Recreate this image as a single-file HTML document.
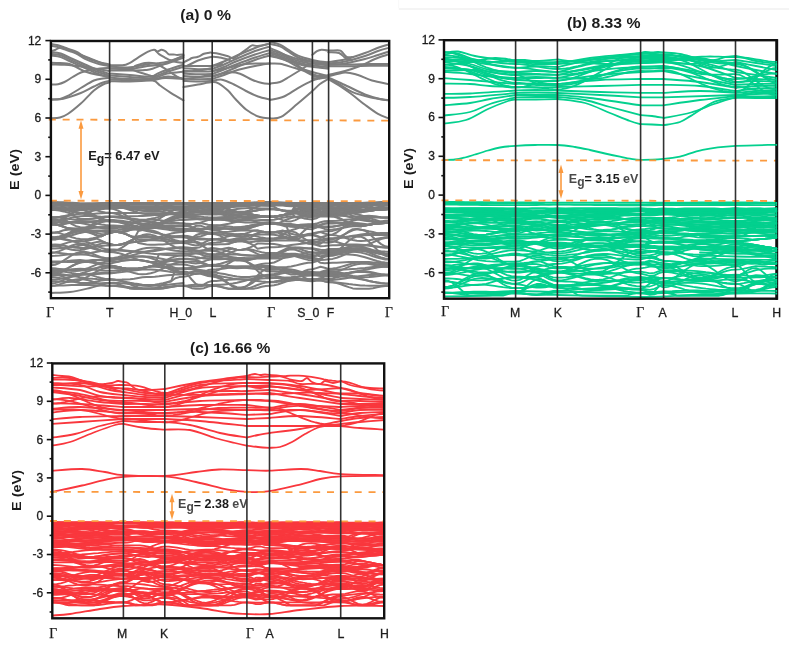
<!DOCTYPE html>
<html><head><meta charset="utf-8"><style>
html,body{margin:0;padding:0;background:#fff;}
svg{display:block;will-change:transform;}

text{font-family:"Liberation Sans",sans-serif;fill:#1c1c1c;}
.tl{font-size:12px;stroke:#1c1c1c;stroke-width:0.3px;}
.xl{font-size:12.3px;stroke:#1c1c1c;stroke-width:0.3px;}
.gam{font-family:"Liberation Serif",serif;font-size:13.6px;stroke:#1c1c1c;stroke-width:0.25px;}
.ti{font-size:14.3px;font-weight:bold;}
.yl{font-size:13.2px;font-weight:bold;}
.eg{font-size:12.5px;font-weight:bold;}
.egs{font-size:12px;font-weight:bold;}
</style></head><body>
<svg width="789" height="648" viewBox="0 0 789 648">
<g>
<line x1="398.8" y1="9" x2="789" y2="9" stroke="#f0f0f0" stroke-width="1.6"/>
<line x1="398.7" y1="0" x2="398.7" y2="8.2" stroke="#f8f8f8" stroke-width="1"/>
<defs>
<clipPath id="clipa"><rect x="50.9" y="41" width="338.3" height="257.2"/></clipPath>
<clipPath id="clipb"><rect x="444" y="40.2" width="334.2" height="258.5"/></clipPath>
<clipPath id="clipc"><rect x="52.3" y="363.4" width="331.9" height="254.9"/></clipPath>
</defs>
<clipPath id="clipbR"><rect x="775.4" y="41" width="1.8" height="256.6"/></clipPath>
<g id="bandsa" clip-path="url(#clipa)" fill="none" stroke="#7d7d7d" stroke-width="2.0" stroke-linejoin="round" stroke-linecap="round">
<path d="M50.9 44C51.9 44.2 54.7 44.4 57 45C59.3 45.6 62.3 46.8 64.5 47.5C66.7 48.2 68 48.8 70 49.5C72 50.2 74.3 50.8 76.8 52C79.3 53.2 81.6 55.4 85 57C88.4 58.6 93.3 60.5 97.4 61.8C101.5 63 107.6 64 109.6 64.5"/>
<path d="M50.9 45.8C51.9 46 54.7 46.2 57 46.8C59.3 47.4 62.3 48.5 64.5 49.3C66.7 50 68 50.5 70 51.3C72 52 74.3 52.5 76.8 53.8C79.3 55 81.6 57.2 85 58.8C88.4 60.4 93.3 62.3 97.4 63.6C101.5 64.8 107.6 65.8 109.6 66.3"/>
<path d="M50.9 51.2C51.6 51 53.5 50.6 55 50C56.5 49.4 58.2 47.8 60 47.5C61.8 47.2 64 47.9 66 48.5C68 49.1 69.7 50 72 51C74.3 52 77 53.2 80 54.5C83 55.8 86.7 57.2 90 58.5C93.3 59.8 96.7 61.2 100 62.5C103.3 63.8 108 65.4 109.6 66"/>
<path d="M50.9 52C52.5 52.2 57.1 52.3 60.7 53.5C64.3 54.7 68.7 57.2 72.7 59C76.8 60.8 80.9 62.7 85 64.5C89.1 66.3 93.3 68.4 97.4 70C101.5 71.6 107.6 73.3 109.6 74"/>
<path d="M50.9 53.8C52.5 54 57.1 54.1 60.7 55.3C64.3 56.5 68.7 59 72.7 60.8C76.8 62.6 80.9 64.5 85 66.3C89.1 68.1 93.3 70.2 97.4 71.8C101.5 73.4 107.6 75.1 109.6 75.8"/>
<path d="M50.9 55.6C52.5 55.9 57.1 55.9 60.7 57.1C64.3 58.3 68.7 60.8 72.7 62.6C76.8 64.4 80.9 66.3 85 68.1C89.1 69.9 93.3 72 97.4 73.6C101.5 75.2 107.6 76.9 109.6 77.6"/>
<path d="M50.9 62.7C52.4 62.8 57.3 62.9 60 63C62.7 63.1 65 63.2 67 63.5C69 63.8 70.2 64.2 72 65C73.8 65.8 75.8 66.9 78 68C80.2 69.1 81.8 70.4 85 71.5C88.2 72.6 93.3 73.9 97.4 74.8C101.5 75.7 107.6 76.4 109.6 76.7"/>
<path d="M50.9 64.4C53.2 64.5 60.9 64.6 64.5 64.8C68.1 65 69.3 65.1 72.7 65.5C76.1 65.9 80.9 66.4 85 67C89.1 67.6 93.3 68.3 97.4 69C101.5 69.7 107.6 70.7 109.6 71"/>
<path d="M50.9 84.5C52.1 84.5 55.7 84.6 58 84.2C60.3 83.8 62 83.2 64.5 82C67 80.8 70 78.6 72.7 77C75.4 75.4 78 73.7 80.9 72.5C83.8 71.3 86.8 70.7 90 70C93.2 69.3 96.7 68.8 100 68.5C103.3 68.2 108 68.1 109.6 68"/>
<path d="M50.9 99.6C52.4 99.5 57.2 99.6 60 99C62.8 98.4 64.2 97.8 67.7 96C71.2 94.2 76.4 90.6 80.8 88C85.2 85.4 90.2 82.1 93.9 80.5C97.6 78.9 100.4 78.9 103 78.5C105.6 78.1 108.5 78.1 109.6 78"/>
<path d="M50.9 99.6C52.4 99.5 57.2 99.6 60 99.3C62.8 99 64.2 98.6 67.7 97.6C71.2 96.5 76.4 94.8 80.8 93C85.2 91.2 90.2 88.2 93.9 86.5C97.6 84.8 100.4 83.4 103 82.5C105.6 81.6 108.5 81.2 109.6 81"/>
<path d="M50.9 118.2C52.4 118.1 57.2 118.2 60 117.5C62.8 116.8 64.2 116.3 67.7 114C71.2 111.7 76.4 107.4 80.8 103.5C85.2 99.6 90.2 93.6 93.9 90.4C97.6 87.2 100.4 85.8 103 84.5C105.6 83.2 108.5 82.7 109.6 82.3"/>
<path d="M109.6 65.2C112.3 65.1 121.1 65.9 125.8 64.7C130.5 63.5 134.1 59.9 137.7 57.8C141.3 55.7 144.8 53.2 147.5 51.9C150.2 50.5 152.3 49.8 154 49.7C155.7 49.6 156.2 51.4 157.4 51.4C158.6 51.4 160.2 49.8 161.4 49.7C162.6 49.6 164 50.5 164.8 50.9C165.6 51.3 165.6 51.3 166.3 51.9C167 52.5 167.6 54 168.8 54.4C170 54.8 171.9 54.3 173.3 54.4C174.7 54.5 175.5 54.9 177.2 54.9C178.9 54.9 182.4 54.5 183.5 54.4"/>
<path d="M155.5 50.5C156.2 51.1 157.8 53.2 159.4 54.4C161 55.6 163.7 56.9 165.3 57.8C167 58.7 167.7 59.1 169.3 59.8C171 60.5 172.8 61.3 175.2 61.8C177.6 62.3 182.1 62.8 183.5 63"/>
<path d="M109.6 66.5C112.6 66.7 121.5 67.9 127.8 67.5C134.1 67.1 142.6 64.9 147.5 64.2C152.4 63.5 154.1 63.7 157.4 63.3C160.7 62.9 163 63 167.3 61.8C171.7 60.5 180.8 56.8 183.5 55.8"/>
<path d="M109.6 68.3C112.6 68.5 121.5 69.7 127.8 69.3C134.1 68.9 142.6 66.7 147.5 66C152.4 65.3 154.1 65.5 157.4 65.1C160.7 64.7 163 64.8 167.3 63.6C171.7 62.3 180.8 58.6 183.5 57.6"/>
<path d="M109.6 68.7C112.6 68.7 123.1 68.2 127.8 68.7C132.5 69.2 134.4 70.7 137.7 71.7C141 72.7 145 73.9 147.5 74.6C150 75.3 150.8 76.3 152.5 76.1C154.2 75.9 154.9 74.7 157.4 73.6C159.9 72.5 163 71.2 167.3 69.7C171.7 68.2 180.8 65.5 183.5 64.7"/>
<path d="M109.6 73.6C113 73.8 122.8 74.5 130 75C137.2 75.5 146.3 77 152.5 76.5C158.7 76 162.1 73.3 167.3 71.7C172.5 70.1 180.8 67.5 183.5 66.7"/>
<path d="M109.6 75.5C113 75.8 122.8 76.6 130 77C137.2 77.4 146.3 78.6 152.5 78C158.7 77.4 162.1 74.6 167.3 73.6C172.5 72.5 180.8 72 183.5 71.7"/>
<path d="M109.6 77.5C113 77.8 122.8 78.8 130 79C137.2 79.2 146.2 79.4 152.5 79C158.8 78.6 162.8 76.6 168 76.5C173.2 76.4 180.9 78.2 183.5 78.6"/>
<path d="M109.6 79.5C113 79.7 122.8 80.3 130 80.5C137.2 80.7 147.5 79.8 152.5 80.6C157.5 81.4 157.1 83.5 160 85.5C162.9 87.5 166.1 89.8 170 92.3C173.9 94.8 181.2 99 183.5 100.3"/>
<path d="M109.6 81.2C113 81.2 122.8 81.7 130 81.5C137.2 81.3 146.7 80.6 152.5 80C158.3 79.4 159.8 78.2 165 78C170.2 77.8 180.4 78.8 183.5 79"/>
<path d="M135 66C136.7 65.5 141.7 63.4 145 63C148.3 62.6 151.9 62.7 155 63.5C158.1 64.3 160.9 66.3 163.4 67.7C165.9 69.1 167.7 70.5 170 72C172.3 73.5 174.8 75.4 177 76.6C179.2 77.8 182.4 78.6 183.5 79"/>
<path d="M109.6 70.5C113 70.5 124.1 70.6 130 70.5C135.9 70.4 141.2 70.3 145 70C148.8 69.7 148.8 69.9 152.5 68.7C156.2 67.5 162.1 65 167.3 62.8C172.5 60.6 180.8 57 183.5 55.8"/>
<path d="M183.5 62.3C184.5 61.8 188.2 60 189.6 59.3C191 58.6 190.6 58.4 192 58C193.4 57.6 196 57.5 198 56.8C200 56.1 202 54.5 204 53.8C206 53.1 208.6 52.8 210 52.6C211.4 52.5 210.8 52.7 212.2 52.9C213.6 53.1 215.9 53.2 218.5 53.8C221.1 54.4 225.4 55.6 228 56.3C230.6 57 231 59.1 234 58C237 56.9 243 51.7 246 49.6C249 47.5 250 46 252 45.4C254 44.8 255 46.3 258 46C261 45.7 267.8 44 269.8 43.6"/>
<path d="M187 65.9C188.8 65 194 62 198 60.5C202 59 207.3 57.4 211 56.9C214.7 56.4 216.8 57 220 57.5C223.2 58 228.3 59.6 230 60"/>
<path d="M183.5 65.9C185.9 65.9 193.2 65.9 198 65.9C202.8 65.9 208.2 66.2 212.2 65.9C216.2 65.6 220.4 64.4 222 64.1"/>
<path d="M183.5 68.3C185.9 68.4 193.2 69 198 69.2C202.8 69.3 209.8 69 212.2 69"/>
<path d="M183.5 70.7C185.9 70.8 193.2 71.4 198 71.5C202.8 71.6 209.8 71.3 212.2 71.3"/>
<path d="M183.5 73.7C185.9 73.8 193.2 74.3 198 74.3C202.8 74.4 209.8 74.1 212.2 74"/>
<path d="M183.5 76.1C185.9 76.2 193.2 76.7 198 76.8C202.8 76.9 209.8 76.5 212.2 76.5"/>
<path d="M183.5 78.5C185.9 78.6 193.2 79.2 198 79.2C202.8 79.3 209.8 79 212.2 79"/>
<path d="M183.5 80.9C185.9 81 193.2 81.4 198 81.5C202.8 81.5 209.8 81.1 212.2 81"/>
<path d="M183.5 72C185.9 71.8 193.2 71.2 198 70.5C202.8 69.8 209.8 68.4 212.2 68"/>
<path d="M183.5 79C185.9 78.7 193.2 78 198 77.2C202.8 76.5 209.8 75 212.2 74.5"/>
<path d="M183.5 87C185.9 86.6 193.2 85.4 198 84.6C202.8 83.8 208.8 82.3 212.2 82.1C215.6 81.9 215.9 81.9 218.5 83.3C221.1 84.7 225.2 88 228 90.6C230.8 93.2 232.3 95.8 235.4 99C238.5 102.2 242.4 106.7 246.4 109.7C250.4 112.7 255.8 115.6 259.7 117C263.6 118.4 268.1 118.1 269.8 118.3"/>
<path d="M212.2 81C213.8 80.8 218.4 79.1 222 79.7C225.6 80.3 230 82.6 234 84.5C238 86.4 242 89 246 91C250 93 254 95.1 258 96.5C262 97.9 267.8 99 269.8 99.5"/>
<path d="M212.2 76.1C214.8 75.5 223.4 72.9 228 72.5C232.6 72.1 236 72.5 240 73.7C244 74.9 248.3 78.2 252 79.7C255.7 81.2 259 82.3 262 83C265 83.7 268.5 83.8 269.8 84"/>
<path d="M212.2 71.3C215.8 70.5 228.4 67.7 234 66.5C239.6 65.3 242 64.6 246 64.1C250 63.6 254 63.6 258 63.5C262 63.4 267.8 63.5 269.8 63.5"/>
<path d="M212.2 66C214.2 65.2 220 63.2 224 61.5C228 59.8 230.8 58.2 236 56C241.2 53.8 249.4 50.1 255 48C260.6 45.9 267.3 44.3 269.8 43.6"/>
<path d="M212.2 69C214.2 68.2 220 66.2 224 64.5C228 62.8 230.8 61.2 236 59C241.2 56.8 249.4 53.1 255 51C260.6 48.9 267.3 47.2 269.8 46.5"/>
<path d="M212.2 71.3C214.2 70.6 220 68.6 224 67C228 65.4 230.8 63.6 236 61.5C241.2 59.4 249.4 56.4 255 54.5C260.6 52.6 267.3 50.8 269.8 50"/>
<path d="M212.2 74C214.2 73.2 220 71.1 224 69.5C228 67.9 230.8 66.5 236 64.5C241.2 62.5 249.4 59.4 255 57.5C260.6 55.6 267.3 53.8 269.8 53"/>
<path d="M212.2 77C214.2 76.2 220 74.1 224 72.5C228 70.9 230.8 69.6 236 67.5C241.2 65.4 249.4 62 255 60C260.6 58 267.3 56.3 269.8 55.6"/>
<path d="M212.2 79C214.2 78.3 220 76.4 224 75C228 73.6 230.8 72 236 70.5C241.2 69 249.4 67.2 255 66C260.6 64.8 267.3 63.9 269.8 63.5"/>
<path d="M269.7 42C271.4 42.4 276.8 43.2 280 44.6C283.2 46 286 48.4 289 50.2C292 52.1 295 54.3 298 55.7C301 57.1 304.6 57.8 307 58.5C309.4 59.2 310.1 59.4 312.3 59.9C314.5 60.4 317.3 61.1 320 61.5C322.7 61.9 326.9 62.1 328.3 62.2"/>
<path d="M269.7 43.8C271.4 44.2 276.8 45 280 46.4C283.2 47.8 286 50.1 289 52C292 53.9 295 56.1 298 57.5C301 58.9 304.6 59.6 307 60.3C309.4 61 310.1 61.2 312.3 61.7C314.5 62.2 317.3 62.9 320 63.3C322.7 63.7 326.9 63.9 328.3 64"/>
<path d="M269.7 50.2C271.4 50.7 275.9 51.7 280 53C284.1 54.3 289.8 56.7 294 58C298.2 59.3 301.9 60.3 305 61C308.1 61.7 309.8 61.7 312.3 62C314.8 62.3 317.3 62.7 320 63C322.7 63.3 326.9 63.8 328.3 64"/>
<path d="M269.7 51.8C271.4 52.3 275.9 53.3 280 54.6C284.1 55.9 289.8 58.3 294 59.6C298.2 60.9 301.9 61.9 305 62.6C308.1 63.3 309.8 63.3 312.3 63.6C314.8 63.9 317.3 64.3 320 64.6C322.7 64.9 326.9 65.4 328.3 65.6"/>
<path d="M269.7 53.4C271.4 53.9 275.9 54.9 280 56.2C284.1 57.5 289.8 59.9 294 61.2C298.2 62.5 301.9 63.5 305 64.2C308.1 64.9 309.8 64.9 312.3 65.2C314.8 65.5 317.3 65.9 320 66.2C322.7 66.5 326.9 67 328.3 67.2"/>
<path d="M269.7 55C271.4 55.5 275.9 56.5 280 57.8C284.1 59.1 289.8 61.5 294 62.8C298.2 64.1 301.9 65.1 305 65.8C308.1 66.5 309.8 66.5 312.3 66.8C314.8 67.1 317.3 67.5 320 67.8C322.7 68.1 326.9 68.6 328.3 68.8"/>
<path d="M269.7 63.6C271.4 63.6 275.9 63.1 280 63.8C284.1 64.5 290.2 66.7 294 67.8C297.8 68.9 299.9 69.4 303 70.6C306.1 71.8 309.5 74 312.3 75C315.1 76 317.3 76.2 320 76.5C322.7 76.8 326.9 76.9 328.3 77"/>
<path d="M269.7 48C272.2 49.2 279.9 51.8 285 55C290.1 58.2 295.4 63.8 300 67C304.6 70.2 309 72.4 312.3 74C315.6 75.6 317.3 75.9 320 76.5C322.7 77.1 326.9 77.3 328.3 77.5"/>
<path d="M269.7 56C272.2 56.7 279.9 58 285 60C290.1 62 295.4 66 300 68C304.6 70 307.6 70.7 312.3 72C317 73.3 325.6 75.3 328.3 76"/>
<path d="M269.7 83.5C271.4 83.2 276.8 83.1 280 82C283.2 80.9 286 78.8 289 77C292 75.2 295 73.3 298 71.5C301 69.7 304.6 67.4 307 66C309.4 64.6 310.1 63.7 312.3 63.1C314.5 62.5 317.3 62.5 320 62.5C322.7 62.5 326.9 62.9 328.3 63"/>
<path d="M269.7 100C272.1 99.4 279.3 98.5 284 96.5C288.7 94.5 293.3 90.7 298 88.1C302.7 85.5 308.6 82.3 312.3 80.7C316 79.1 317.3 79.1 320 78.5C322.7 77.9 326.9 77.2 328.3 77"/>
<path d="M269.7 118.4C271.6 118.2 276.4 119.3 281 116.9C285.6 114.5 292 108.3 297.2 104C302.4 99.7 308.5 94.4 312.3 91.1C316.1 87.8 317.3 86 320 84C322.7 82 326.9 79.8 328.3 78.9"/>
<path d="M312.3 54.8C313.1 54.2 315.4 52 317 51.1C318.6 50.2 319.7 49.8 321.6 49.7C323.5 49.6 325.4 50.5 328.3 50.6C331.2 50.7 336.8 50.2 339 50.4C341.2 50.5 340.3 50.4 341.6 51.5C342.9 52.6 345 56 346.7 56.9C348.4 57.8 351.1 57 352 57"/>
<path d="M312.3 77C313.6 76.8 317.3 76.2 320 76C322.7 75.8 326.9 75.6 328.3 75.5"/>
<path d="M312.3 78.8C313.6 78.6 317.3 78 320 77.8C322.7 77.5 326.9 77.4 328.3 77.3"/>
<path d="M328.3 52.3C330.1 52.4 336.1 52 339 53C341.9 54 343.3 56.8 345.5 58C347.7 59.2 350.9 59.7 352 60"/>
<path d="M328.3 62C331.1 61.6 338.9 61 345 59.5C351.1 58 359.5 55 365 53C370.5 51 374 49.2 378 47.8C382 46.4 387.1 45 388.9 44.5"/>
<path d="M328.3 63.5C331.1 63.2 338.9 62.8 345 61.5C351.1 60.2 359.5 57.8 365 56C370.5 54.2 374 52.4 378 51C382 49.6 387.1 48.3 388.9 47.8"/>
<path d="M328.3 65C331.1 64.8 338.9 64.5 345 63.5C351.1 62.5 359.5 60.4 365 59C370.5 57.6 374 56.2 378 55C382 53.8 387.1 52.1 388.9 51.5"/>
<path d="M328.3 64.5C331.9 64.5 343.1 64.6 350 64.5C356.9 64.4 363.5 64.1 370 64C376.5 63.9 385.8 64 388.9 64"/>
<path d="M328.3 66.3C331.9 66.3 343.1 66.4 350 66.3C356.9 66.2 363.5 65.9 370 65.8C376.5 65.7 385.8 65.8 388.9 65.8"/>
<path d="M328.3 75C331.1 74.3 339.7 72.5 345 71C350.3 69.5 355 68 360 66C365 64 370.2 61 375 59C379.8 57 386.6 55.1 388.9 54.3"/>
<path d="M328.3 76.5C331.1 75.8 340.1 72.7 345 72.4C349.9 72.2 353.5 73.7 358 75C362.5 76.3 366.9 79 372 80.5C377.1 82 386.1 83.5 388.9 84.1"/>
<path d="M328.3 77.5C331.1 78.8 338.9 82.2 345 85C351.1 87.8 359.2 92.2 365 94.5C370.8 96.8 376 98 380 99C384 100 387.4 100.1 388.9 100.3"/>
<path d="M328.3 78C330.1 79 335.1 81.8 339 84.1C342.9 86.4 346.7 89.7 352 91.9C357.3 94.1 364.9 96.1 371 97.5C377.1 98.9 385.9 99.8 388.9 100.3"/>
<path d="M328.3 79C330.1 80.1 335.1 82.9 339 85.5C342.9 88.1 347.7 91.3 352 94.5C356.3 97.7 360.7 101.6 365 104.8C369.3 108 374 111.6 378 113.9C382 116.2 387.1 117.7 388.9 118.5"/>
<path d="M50.9 203.1L55.1 203.2 59.3 203.3 63.5 203.4 67.7 203.5 71.9 203.6 76.1 203.7 80.2 203.7 84.4 203.7 88.6 203.6 92.8 203.5 97 203.4 101.2 203.3 105.4 203.2 109.6 203.1 113.7 203.1 117.8 203.1 121.9 203.1 126 203.1 130.1 203.1 134.2 203.1 138.3 203.1 142.4 203.1 146.6 203.1 150.7 203.1 154.8 203.1 158.9 203.1 163 203.1 167.1 203.1 171.2 203.1 175.3 203.1 179.4 203.1 183.5 203.1 187.6 203.1 191.7 203.1 195.8 203.1 199.9 203.1 204 203.1 208.1 203.1 212.2 203.1 216.3 203.2 220.4 203.5 224.5 203.9 228.7 204.4 232.8 204.8 236.9 205.1 241 205.2 245.1 205.1 249.2 204.8 253.3 204.4 257.5 203.9 261.6 203.5 265.7 203.2 269.8 203.1 274.1 203.3 278.3 203.9 282.6 204.5 286.8 205 291.1 205.2 295.4 205 299.6 204.5 303.9 203.9 308.1 203.3 312.4 203.1 316.4 203.1 320.5 203.1 324.6 203.1 328.6 203.1 332.6 203.8 336.7 205.5 340.7 208.1 344.8 211 348.8 213.8 352.8 216 356.9 217.2 360.9 217.2 365 216 369 215.7 373 216.3 377.1 216.8 381.1 217.2 385.2 217.4 389.2 217.5"/>
<path d="M50.9 209.1L55.1 209.2 59.3 209.5 63.5 209.9 67.7 210.2 71.9 210.5 76.1 210.4 80.2 210.1 84.4 209.4 88.6 208.4 92.8 207.2 97 206 101.2 205 105.4 204.3 109.6 204 113.7 204.2 117.8 204.8 121.9 205.7 126 206.8 130.1 208 134.2 209 138.3 209.9 142.4 210.4 146.6 210.5 150.7 210.3 154.8 209.6 158.9 208.6 163 207.4 167.1 206.1 171.2 204.9 175.3 204 179.4 203.4 183.5 203.1 187.6 203.2 191.7 203.5 195.8 203.6 199.9 203.6 204 203.5 208.1 203.2 212.2 203.1 216.3 203.1 220.4 203.1 224.5 203.1 228.7 203.1 232.8 203.1 236.9 203.1 241 203.1 245.1 203.1 249.2 203.1 253.3 203.1 257.5 203.1 261.6 203.1 265.7 203.1 269.8 203.1 274.1 203.4 278.3 204 282.6 204.8 286.8 205.5 291.1 205.7 295.4 205.5 299.6 204.8 303.9 204 308.1 203.4 312.4 203.1 316.4 203.1 320.5 203.1 324.6 203.1 328.6 203.1 332.6 203.1 336.7 203.1 340.7 203.1 344.8 203.1 348.8 203.1 352.8 203.1 356.9 203.1 360.9 203.1 365 203.1 369 203.1 373 203.2 377.1 203.4 381.1 203.6 385.2 203.7 389.2 203.8"/>
<path d="M50.9 203.1L55.1 203.2 59.3 203.2 63.5 203.3 67.7 203.5 71.9 203.6 76.1 203.6 80.2 203.7 84.4 203.6 88.6 203.6 92.8 203.5 97 203.3 101.2 203.2 105.4 203.2 109.6 203.1 113.7 203.3 117.8 203.7 121.9 204.4 126 205.3 130.1 206.2 134.2 207 138.3 207.7 142.4 208.2 146.6 208.3 150.7 208.2 154.8 207.7 158.9 207 163 206.2 167.1 205.3 171.2 204.4 175.3 203.7 179.4 203.3 183.5 203.1 187.6 204.2 191.7 206.7 195.8 209.2 199.9 210.6 204 210.5 208.1 209.8 212.2 209.5 216.3 209.8 220.4 210.5 224.5 211.7 228.7 213.1 232.8 214.4 236.9 215.7 241 216.6 245.1 217.1 249.2 217.4 253.3 217.3 257.5 217 261.6 216.8 265.7 216.6 269.8 216.7 274.1 216.5 278.3 216 282.6 215.2 286.8 214.2 291.1 213.1 295.4 208.8 299.6 209.7 303.9 211 308.1 212.2 312.4 212.6 316.4 212.9 320.5 212.7 324.6 210.9 328.6 209.6 332.6 209.1 336.7 207.7 340.7 205.6 344.8 203.2 348.8 203.1 352.8 203.1 356.9 203.1 360.9 203.1 365 203.1 369 203.1 373 203.1 377.1 203.1 381.1 203.1 385.2 203.8 389.2 204.2"/>
<path d="M50.9 217.6L55.1 217.5 59.3 217.4 63.5 218 67.7 218.7 71.9 219.3 76.1 219.7 80.2 219.8 84.4 219.6 88.6 219.1 92.8 218.4 97 217.7 101.2 217.1 105.4 216.6 109.6 216.4 113.7 216.4 117.8 216.4 121.9 216.4 126 216.4 130.1 216.3 134.2 216.2 138.3 216.1 142.4 215.9 146.6 215.7 150.7 215.4 154.8 215 158.9 214.6 163 214.2 167.1 213.9 171.2 213.6 175.3 213.3 179.4 213.1 183.5 213.1 187.6 212.8 191.7 212 195.8 211.5 199.9 211.6 204 212.4 208.1 213.3 212.2 213.7 216.3 213.8 220.4 214.2 224.5 214.6 228.7 215 232.8 215.3 236.9 215.3 241 214.9 245.1 214.2 249.2 213.7 253.3 214.7 257.5 215.6 261.6 216.2 265.7 216.6 269.8 216.7 274.1 216.5 278.3 216 282.6 215.2 286.8 214.2 291.1 213.1 295.4 211.9 299.6 211.8 303.9 211.6 308.1 211.4 312.4 211.3 316.4 212.2 320.5 212.6 324.6 210.7 328.6 209.2 332.6 209.2 336.7 209.1 340.7 209 344.8 208.9 348.8 208.9 352.8 209 356.9 209.3 360.9 209.8 365 210.4 369 210.9 373 210.3 377.1 209.8 381.1 209.4 385.2 209.2 389.2 209.1"/>
<path d="M50.9 205.6L55.1 205.6 59.3 205.7 63.5 205.7 67.7 205.8 71.9 206 76.1 206.1 80.2 206.3 84.4 206.6 88.6 206.8 92.8 207.1 97 207.3 101.2 207.5 105.4 207.6 109.6 207.7 113.7 207.6 117.8 207.5 121.9 207.4 126 207.3 130.1 207.2 134.2 207.2 138.3 207.3 142.4 207.7 146.6 208.2 150.7 209 154.8 209.9 158.9 210.9 163 212 167.1 213.1 171.2 214 175.3 214.8 179.4 215.3 183.5 215.4 187.6 215.3 191.7 214.8 195.8 214.4 199.9 214.2 204 214.3 208.1 214.5 212.2 214.5 216.3 214.4 220.4 214.2 224.5 213.8 228.7 213.3 232.8 212.9 236.9 212.6 241 212.5 245.1 212.6 249.2 212.1 253.3 211.1 257.5 210.2 261.6 209.6 265.7 209.2 269.8 209.1 274.1 209.3 278.3 209.8 282.6 210.6 286.8 211.6 291.1 212.7 295.4 213.5 299.6 214.3 303.9 215.2 308.1 215.9 312.4 216.1 316.4 215.6 320.5 214.3 324.6 212.4 328.6 211.5 332.6 211.4 336.7 211.2 340.7 210.8 344.8 210.4 348.8 210 352.8 209.6 356.9 209.4 360.9 209.3 365 209.4 369 209.6 373 209.9 377.1 209.8 381.1 209.4 385.2 209.2 389.2 209.1"/>
<path d="M50.9 224.2L55.1 224.4 59.3 225.3 63.5 226.7 67.7 228.4 71.9 230.2 76.1 230.6 80.2 230.1 84.4 228.7 88.6 226.6 92.8 224 97 221.3 101.2 218.9 105.4 217.3 109.6 216.7 113.7 216.8 117.8 217.1 121.9 217.5 126 218.1 130.1 218.7 134.2 219.4 138.3 220.1 142.4 220.7 146.6 221.4 150.7 221.9 154.8 222.4 158.9 222.8 163 223.1 167.1 223.3 171.2 223.5 175.3 223.6 179.4 223.7 183.5 223.7 187.6 223.8 191.7 224 195.8 223.8 199.9 222.9 204 221.4 208.1 220 212.2 219.4 216.3 219.5 220.4 219.6 224.5 219.7 228.7 219.9 232.8 220.1 236.9 220.3 241 220.3 245.1 220.4 249.2 220.3 253.3 220.3 257.5 220.2 261.6 220.1 265.7 220 269.8 220 274.1 219.7 278.3 218.8 282.6 217.7 286.8 216.9 291.1 216.5 295.4 216.7 299.6 217.4 303.9 218.4 308.1 219.1 312.4 219.4 316.4 218.3 320.5 216 324.6 213.9 328.6 212.9 332.6 213.1 336.7 213.7 340.7 214.6 344.8 215.6 348.8 216.8 352.8 218 356.9 219.1 360.9 220 365 220.8 369 221.3 373 221.7 377.1 222 381.1 222.2 385.2 222.3 389.2 222.3"/>
<path d="M50.9 203.1L55.1 203.2 59.3 203.5 63.5 204 67.7 204.5 71.9 204.9 76.1 205.2 80.2 205.3 84.4 205.2 88.6 204.9 92.8 204.5 97 204 101.2 203.5 105.4 203.2 109.6 203.1 113.7 203.1 117.8 203.1 121.9 203.1 126 203.1 130.1 203.1 134.2 203.1 138.3 203.1 142.4 203.1 146.6 203.1 150.7 203.1 154.8 203.1 158.9 203.1 163 203.1 167.1 203.1 171.2 203.1 175.3 203.1 179.4 203.1 183.5 203.1 187.6 203.7 191.7 205 195.8 206.1 199.9 206.1 204 205 208.1 203.7 212.2 203.1 216.3 203.6 220.4 204.8 224.5 206.6 228.7 208.6 232.8 210.4 236.9 211.7 241 212.1 245.1 211.7 249.2 210.4 253.3 208.6 257.5 206.6 261.6 204.8 265.7 203.6 269.8 203.1 274.1 203.3 278.3 203.5 282.6 203.9 286.8 204.2 291.1 204.3 295.4 204.2 299.6 203.9 303.9 203.5 308.1 203.3 312.4 203.1 316.4 203.1 320.5 203.1 324.6 203.1 328.6 203.1 332.6 203.3 336.7 203.7 340.7 204.2 344.8 204.9 348.8 205.5 352.8 206 356.9 206.3 360.9 206.3 365 206 369 205.5 373 204.9 377.1 204.2 381.1 203.7 385.2 203.3 389.2 203.1"/>
<path d="M50.9 219.6L55.1 219.7 59.3 220.2 63.5 220.8 67.7 221.6 71.9 222.2 76.1 222.7 80.2 222.9 84.4 222.8 88.6 222.4 92.8 221.8 97 221.2 101.2 220.6 105.4 220.1 109.6 220 113.7 220.1 117.8 220.4 121.9 220.8 126 221.4 130.1 222 134.2 222.7 138.3 223.5 142.4 224.2 146.6 225 150.7 225.6 154.8 226.3 158.9 226.8 163 227.3 167.1 227.7 171.2 228 175.3 228.3 179.4 228.4 183.5 228.5 187.6 229 191.7 230.3 195.8 231.1 199.9 230.5 204 228.7 208.1 226.6 212.2 225.7 216.3 225.6 220.4 225.2 224.5 224.5 228.7 223.7 232.8 222.7 236.9 221.7 241 220.7 245.1 219.7 249.2 218.8 253.3 218.1 257.5 217.4 261.6 216.9 265.7 216.6 269.8 216.7 274.1 217 278.3 218.4 282.6 220.1 286.8 221.3 291.1 221.4 295.4 220.1 299.6 217.9 303.9 215.3 308.1 213.3 312.4 212.5 316.4 212 320.5 211.3 324.6 211.5 328.6 211.9 332.6 211.9 336.7 212 340.7 212.2 344.8 212.4 348.8 212.8 352.8 213.4 356.9 214.2 360.9 215.3 365 216.5 369 217.9 373 219.3 377.1 220.5 381.1 221.6 385.2 222.3 389.2 222.5"/>
<path d="M50.9 208.6L55.1 208.6 59.3 208.5 63.5 208.5 67.7 208.4 71.9 208.3 76.1 208.2 80.2 208.1 84.4 207.9 88.6 207.7 92.8 207.5 97 207.3 101.2 207.2 105.4 207.1 109.6 207 113.7 207.1 117.8 207.2 121.9 207.4 126 207.7 130.1 208 134.2 208.2 138.3 208.5 142.4 208.7 146.6 208.9 150.7 209 154.8 209 158.9 209 163 208.9 167.1 208.8 171.2 208.7 175.3 208.6 179.4 208.5 183.5 208.5 187.6 208.7 191.7 209.2 195.8 209.9 199.9 210.8 204 211.7 208.1 212.5 212.2 212.7 216.3 213.1 220.4 213.9 224.5 215.2 228.7 216.6 232.8 217.9 236.9 218.9 241 219.5 245.1 219.5 249.2 219 253.3 218.2 257.5 217.2 261.6 216.3 265.7 216.6 269.8 216.7 274.1 216.5 278.3 216 282.6 215.5 286.8 215.1 291.1 214.4 295.4 213.3 299.6 211.9 303.9 210.6 308.1 209.6 312.4 209.2 316.4 209.2 320.5 209 324.6 208.5 328.6 208.1 332.6 208.1 336.7 207.9 340.7 207.6 344.8 207.4 348.8 207.4 352.8 207.6 356.9 208.3 360.9 209.3 365 210.7 369 210.9 373 210.3 377.1 209.8 381.1 209.4 385.2 209.2 389.2 209.1"/>
<path d="M50.9 217.6L55.1 217.5 59.3 217 63.5 216.3 67.7 215.9 71.9 215.3 76.1 214.6 80.2 213.8 84.4 212.8 88.6 211.8 92.8 210.8 97 209.9 101.2 209.2 105.4 208.7 109.6 208.6 113.7 209.1 117.8 210.5 121.9 212.7 126 215.4 130.1 218.4 134.2 221.3 138.3 223.9 142.4 225.8 146.6 226.9 150.7 227.2 154.8 226.7 158.9 225.5 163 223.8 167.1 222 171.2 220.1 175.3 218.6 179.4 217.6 183.5 217.3 187.6 217.5 191.7 218.1 195.8 218.8 199.9 219.4 204 219.6 208.1 219.7 212.2 219.8 216.3 219.5 220.4 218.8 224.5 217.8 228.7 216.6 232.8 215.5 236.9 214.6 241 214 245.1 213.8 249.2 213.9 253.3 214.7 257.5 215.6 261.6 216.2 265.7 216.6 269.8 216.7 274.1 216.5 278.3 216 282.6 215.2 286.8 214.2 291.1 213.1 295.4 205.5 299.6 207.2 303.9 209.6 308.1 211.6 312.4 212.3 316.4 212.8 320.5 212.5 324.6 210.2 328.6 208.7 332.6 208.7 336.7 208.9 340.7 209.1 344.8 209.4 348.8 209.7 352.8 210 356.9 210.2 360.9 210.3 365 210.3 369 210.3 373 210.2 377.1 209.8 381.1 209.4 385.2 209.2 389.2 209.1"/>
<path d="M50.9 210L55.1 210.1 59.3 209.9 63.5 209.1 67.7 208.2 71.9 207.4 76.1 206.6 80.2 206.1 84.4 205.8 88.6 205.8 92.8 205.9 97 206.2 101.2 206.5 105.4 206.7 109.6 206.8 113.7 206.5 117.8 205.6 121.9 204.3 126 203.1 130.1 203.1 134.2 203.1 138.3 203.1 142.4 203.1 146.6 203.1 150.7 203.1 154.8 203.1 158.9 203.1 163 203.1 167.1 205.2 171.2 207.2 175.3 208.8 179.4 209.8 183.5 210.2 187.6 210.6 191.7 211.5 195.8 212.2 199.9 212.3 204 211.7 208.1 210.9 212.2 210.5 216.3 210.3 220.4 209.7 224.5 208.8 228.7 207.7 232.8 206.6 236.9 205.6 241 204.7 245.1 204.1 249.2 203.7 253.3 203.5 257.5 203.5 261.6 203.6 265.7 203.6 269.8 203.6 274.1 203.3 278.3 203.1 282.6 203.1 286.8 203.1 291.1 203.1 295.4 203.1 299.6 203.1 303.9 203.1 308.1 203.8 312.4 204.1 316.4 203.6 320.5 204 324.6 207.2 328.6 209.5 332.6 209.6 336.7 209.9 340.7 210.4 344.8 210.9 348.8 211.3 352.8 211.5 356.9 211.5 360.9 211.1 365 210.4 369 209.4 373 208.3 377.1 207.3 381.1 206.4 385.2 205.8 389.2 205.5"/>
<path d="M50.9 207.2L55.1 207.5 59.3 208.2 63.5 209.3 67.7 210.5 71.9 211.7 76.1 212.8 80.2 213.6 84.4 214 88.6 214.1 92.8 213.9 97 213.5 101.2 213.2 105.4 212.9 109.6 212.8 113.7 213.2 117.8 214.2 121.9 215.8 126 217.7 130.1 219.6 134.2 221.4 138.3 222.8 142.4 223.6 146.6 223.5 150.7 222.7 154.8 221.1 158.9 219 163 216.4 167.1 213.8 171.2 211.4 175.3 209.4 179.4 208.1 183.5 207.7 187.6 207.6 191.7 207.4 195.8 207.2 199.9 207 204 206.9 208.1 206.9 212.2 206.9 216.3 206.9 220.4 206.7 224.5 206.5 228.7 206.2 232.8 205.9 236.9 205.7 241 205.5 245.1 205.4 249.2 205.3 253.3 205.3 257.5 205.4 261.6 205.4 265.7 205.4 269.8 205.5 274.1 205 278.3 204 282.6 203.1 286.8 203.1 291.1 203.1 295.4 203.1 299.6 203.1 303.9 203.1 308.1 203.1 312.4 203.1 316.4 203.2 320.5 203.5 324.6 203.9 328.6 204.2 332.6 204 336.7 203.5 340.7 203.1 344.8 203.1 348.8 203.1 352.8 203.1 356.9 203.1 360.9 203.1 365 203.4 369 205.2 373 207.3 377.1 209.4 381.1 209.4 385.2 209.2 389.2 209.1"/>
<path d="M50.9 217.6L55.1 217.5 59.3 217 63.5 216.2 67.7 215.1 71.9 213.8 76.1 207.5 80.2 206.9 84.4 207.1 88.6 207.8 92.8 209 97 210.4 101.2 211.7 105.4 212.6 109.6 213 113.7 213 117.8 213 121.9 213 126 213 130.1 213.1 134.2 213.1 138.3 213.1 142.4 213.2 146.6 213.2 150.7 213.2 154.8 213.2 158.9 213.2 163 213.2 167.1 213.2 171.2 213.1 175.3 213.1 179.4 213.1 183.5 213.1 187.6 213.4 191.7 214 195.8 214.5 199.9 214.3 204 213.6 208.1 212.8 212.2 212.4 216.3 212.3 220.4 211.9 224.5 211.2 228.7 210.5 232.8 209.8 236.9 209.1 241 208.6 245.1 208.3 249.2 208.1 253.3 208.1 257.5 208.2 261.6 208.4 265.7 208.5 269.8 208.5 274.1 208.8 278.3 209.5 282.6 210.3 286.8 210.9 291.1 211.1 295.4 210.6 299.6 209.6 303.9 208.5 308.1 207.6 312.4 207.3 316.4 207.7 320.5 208.5 324.6 209.3 328.6 209.6 332.6 209.7 336.7 209.8 340.7 210 344.8 210.2 348.8 210.6 352.8 211.2 356.9 211.9 360.9 212.3 365 211.6 369 210.9 373 210.3 377.1 209.8 381.1 209.4 385.2 209.2 389.2 209.1"/>
<path d="M50.9 210L55.1 210.1 59.3 210.6 63.5 211.4 67.7 212.5 71.9 213.8 76.1 217.6 80.2 218.7 84.4 219.1 88.6 219.1 92.8 218.8 97 218.2 101.2 217.6 105.4 217.1 109.6 217 113.7 217.1 117.8 217.4 121.9 217.8 126 218.4 130.1 218.9 134.2 219.4 138.3 219.6 142.4 219.7 146.6 219.4 150.7 218.8 154.8 218 158.9 216.9 163 215.8 167.1 214.6 171.2 213.5 175.3 212.7 179.4 212.1 183.5 211.9 187.6 210.6 191.7 207.6 195.8 204.7 199.9 203.5 204 204.1 208.1 205.6 212.2 206.2 216.3 206.5 220.4 207.2 224.5 208.3 228.7 209.6 232.8 210.9 236.9 212 241 212.8 245.1 213.3 249.2 213.7 253.3 214.7 257.5 215.6 261.6 216.2 265.7 216.6 269.8 216.7 274.1 216.5 278.3 216 282.6 215.2 286.8 214.2 291.1 213.1 295.4 208.5 299.6 208.9 303.9 209.4 308.1 209.9 312.4 210.1 316.4 210.2 320.5 211.3 324.6 213.3 328.6 214.6 332.6 214.5 336.7 214.3 340.7 213.9 344.8 213.6 348.8 213.2 352.8 213 356.9 213 360.9 212.3 365 211.6 369 210.9 373 210.3 377.1 209.8 381.1 209.4 385.2 209.2 389.2 209.1"/>
<path d="M50.9 203.1L55.1 203.2 59.3 203.2 63.5 203.3 67.7 203.4 71.9 203.5 76.1 203.7 80.2 204 84.4 204.3 88.6 204.7 92.8 205.1 97 205.4 101.2 205.7 105.4 205.9 109.6 206 113.7 206.2 117.8 206.8 121.9 207.6 126 208.8 130.1 210 134.2 211.3 138.3 212.5 142.4 213.5 146.6 214.3 150.7 214.8 154.8 215 158.9 215 163 214.8 167.1 214.5 171.2 214.2 175.3 213.9 179.4 213.7 183.5 213.6 187.6 212.9 191.7 211.1 195.8 209.3 199.9 208.6 204 208.9 208.1 209.6 212.2 210 216.3 210.3 220.4 211 224.5 212 228.7 213.3 232.8 214.5 236.9 215.5 241 216.3 245.1 216.6 249.2 216.6 253.3 216.4 257.5 216 261.6 216.2 265.7 216.6 269.8 216.7 274.1 216.5 278.3 216 282.6 215.2 286.8 214.2 291.1 213.1 295.4 211.7 299.6 212.4 303.9 213.3 308.1 214 312.4 214.3 316.4 214.6 320.5 215.2 324.6 215.7 328.6 216 332.6 216.4 336.7 217.5 340.7 219.2 344.8 221.2 348.8 223.1 352.8 224.8 356.9 225.9 360.9 226.2 365 225.4 369 224.7 373 224 377.1 222.7 381.1 221.5 385.2 220.7 389.2 220.4"/>
<path d="M50.9 203.1L55.1 203.6 59.3 204.9 63.5 206.8 67.7 208.9 71.9 210.8 76.1 212.3 80.2 213 84.4 212.8 88.6 211.9 92.8 210.4 97 208.7 101.2 207.2 105.4 206.1 109.6 205.7 113.7 205.9 117.8 206.3 121.9 206.9 126 207.7 130.1 208.5 134.2 209.4 138.3 210.1 142.4 210.8 146.6 211.2 150.7 211.4 154.8 211.5 158.9 211.3 163 211 167.1 210.6 171.2 210.3 175.3 210 179.4 209.8 183.5 209.7 187.6 209.9 191.7 210.4 195.8 211 199.9 211.6 204 212.1 208.1 212.4 212.2 212.6 216.3 212.5 220.4 212.4 224.5 212.2 228.7 212 232.8 211.8 236.9 211.7 241 211.7 245.1 211.7 249.2 211.9 253.3 211.1 257.5 210.2 261.6 209.6 265.7 209.2 269.8 209.1 274.1 209.3 278.3 209.8 282.6 210.6 286.8 211.6 291.1 212.7 295.4 213.1 299.6 213 303.9 212.9 308.1 212.8 312.4 212.8 316.4 212.8 320.5 212.4 324.6 211.5 328.6 211 332.6 210.8 336.7 210.3 340.7 209.6 344.8 208.8 348.8 208 352.8 207.4 356.9 207 360.9 206.9 365 207 369 207.4 373 208 377.1 208.6 381.1 209.2 385.2 209.2 389.2 209.1"/>
<path d="M50.9 224.2L55.1 224.4 59.3 225.3 63.5 226.7 67.7 228.4 71.9 229 76.1 229.2 80.2 229.1 84.4 228.9 88.6 228.6 92.8 228.1 97 227.6 101.2 227.2 105.4 226.9 109.6 226.8 113.7 226.9 117.8 227.3 121.9 227.8 126 228.5 130.1 229.1 134.2 229.5 138.3 229.7 142.4 229.6 146.6 229 150.7 227.9 154.8 226.6 158.9 224.9 163 223 167.1 221.2 171.2 219.6 175.3 218.2 179.4 217.4 183.5 217.1 187.6 217.2 191.7 217.5 195.8 217.9 199.9 218.3 204 218.6 208.1 218.8 212.2 218.9 216.3 218.8 220.4 218.7 224.5 218.5 228.7 218.3 232.8 217.9 236.9 217.5 241 217 245.1 216.4 249.2 215.8 253.3 215.2 257.5 215.6 261.6 216.2 265.7 216.6 269.8 216.7 274.1 216.5 278.3 216 282.6 215.2 286.8 214.2 291.1 213.1 295.4 205.4 299.6 206.2 303.9 207.5 308.1 208.6 312.4 209 316.4 210.2 320.5 212.6 324.6 214.5 328.6 215.3 332.6 215.4 336.7 215.6 340.7 215.8 344.8 216.1 348.8 216.4 352.8 216.6 356.9 216.6 360.9 216.5 365 216.3 369 215.9 373 216.3 377.1 216.8 381.1 217.2 385.2 217.4 389.2 217.5"/>
<path d="M50.9 224.2L55.1 224.4 59.3 224.3 63.5 223.8 67.7 223.2 71.9 222.7 76.1 222.1 80.2 221.7 84.4 221.4 88.6 221.2 92.8 221.2 97 221.1 101.2 221.2 105.4 221.2 109.6 221.2 113.7 221.4 117.8 222.1 121.9 223.1 126 224.3 130.1 225.6 134.2 226.7 138.3 227.4 142.4 227.7 146.6 227.4 150.7 226.6 154.8 225.2 158.9 223.5 163 221.4 167.1 219.3 171.2 217.4 175.3 215.9 179.4 214.9 183.5 214.6 187.6 214.1 191.7 213 195.8 211.9 199.9 211.3 204 211.3 208.1 211.7 212.2 211.8 216.3 212 220.4 212.4 224.5 213 228.7 213.6 232.8 214.1 236.9 214.3 241 214.2 245.1 213.7 249.2 212.1 253.3 211.1 257.5 210.2 261.6 209.6 265.7 209.1 269.8 208.9 274.1 209.1 278.3 209.7 282.6 210.3 286.8 210.7 291.1 210.7 295.4 210 299.6 208.9 303.9 207.7 308.1 206.8 312.4 206.4 316.4 206.3 320.5 207.5 324.6 210.9 328.6 213 332.6 212.7 336.7 211.8 340.7 210.5 344.8 209.1 348.8 207.7 352.8 206.8 356.9 206.4 360.9 206.8 365 207.8 369 209.4 373 210.3 377.1 209.8 381.1 209.4 385.2 209.2 389.2 209.1"/>
<path d="M50.9 206.8L55.1 207 59.3 207.4 63.5 208 67.7 208.7 71.9 209.3 76.1 209.8 80.2 209.9 84.4 209.8 88.6 209.4 92.8 208.7 97 208.1 101.2 207.4 105.4 207 109.6 206.9 113.7 206.7 117.8 206.1 121.9 205.3 126 204.3 130.1 203.3 134.2 203.1 138.3 203.1 142.4 203.1 146.6 203.1 150.7 203.2 154.8 204.5 158.9 206.3 163 208.2 167.1 210.2 171.2 212 175.3 213.5 179.4 214.4 183.5 214.7 187.6 214.3 191.7 213.3 195.8 212.1 199.9 210.8 204 209.8 208.1 209.1 212.2 208.8 216.3 208.6 220.4 208 224.5 207.1 228.7 206.1 232.8 205.1 236.9 204.3 241 203.8 245.1 203.7 249.2 203.8 253.3 204.2 257.5 204.7 261.6 205.2 265.7 205.6 269.8 205.7 274.1 206.7 278.3 209.3 282.6 210.6 286.8 211.6 291.1 212.7 295.4 217.3 299.6 215.9 303.9 213.9 308.1 212.2 312.4 211.5 316.4 211 320.5 211.1 324.6 213.6 328.6 215.4 332.6 215.8 336.7 216.9 340.7 218.6 344.8 220.6 348.8 222.7 352.8 224.5 356.9 226 360.9 226.2 365 225.4 369 224.7 373 224.1 377.1 223.6 381.1 223.3 385.2 223.1 389.2 223"/>
<path d="M50.9 221.1L55.1 220.9 59.3 220.3 63.5 219.5 67.7 218.6 71.9 217.6 76.1 216.8 80.2 216.3 84.4 216 88.6 215.9 92.8 216.1 97 216.4 101.2 216.7 105.4 216.9 109.6 217 113.7 217 117.8 217.2 121.9 217.5 126 217.9 130.1 218.4 134.2 219 138.3 219.7 142.4 220.6 146.6 221.5 150.7 222.6 154.8 223.7 158.9 224.9 163 226 167.1 227.1 171.2 228 175.3 228.7 179.4 229.1 183.5 229.3 187.6 229.3 191.7 229.3 195.8 229.2 199.9 229.2 204 229.2 208.1 229.1 212.2 229.1 216.3 229.1 220.4 228.9 224.5 228.7 228.7 228.4 232.8 228.1 236.9 227.6 241 227.1 245.1 226.4 249.2 225.8 253.3 225.1 257.5 224.6 261.6 224.1 265.7 223.8 269.8 223.5 274.1 223.6 278.3 223.6 282.6 223.5 286.8 223.7 291.1 224.1 295.4 224.7 299.6 225.5 303.9 226.3 308.1 226.9 312.4 227.1 316.4 227.2 320.5 227.3 324.6 227.2 328.6 227 332.6 226.8 336.7 226.1 340.7 225 344.8 223.7 348.8 222.2 352.8 220.9 356.9 219.7 360.9 218.8 365 218.1 369 217.8 373 217.6 377.1 217.6 381.1 217.7 385.2 217.7 389.2 217.7"/>
<path d="M50.9 224.2L55.1 223.5 59.3 221.7 63.5 218.9 67.7 215.8 71.9 213.8 76.1 211 80.2 210 84.4 210.3 88.6 211.8 92.8 214.1 97 216.7 101.2 219.1 105.4 220.8 109.6 221.4 113.7 221.4 117.8 221.6 121.9 221.9 126 222.2 130.1 222.6 134.2 223.1 138.3 223.5 142.4 223.9 146.6 224.3 150.7 224.7 154.8 225 158.9 225.2 163 225.4 167.1 225.5 171.2 225.6 175.3 225.7 179.4 225.8 183.5 225.8 187.6 226.2 191.7 227.2 195.8 228.2 199.9 228.8 204 228.7 208.1 228.4 212.2 228.3 216.3 228.3 220.4 228.5 224.5 228.6 228.7 228.8 232.8 228.9 236.9 228.9 241 228.6 245.1 228.2 249.2 227.7 253.3 226.8 257.5 225.5 261.6 224.5 265.7 223.8 269.8 223.5 274.1 223.7 278.3 223.3 282.6 221.4 286.8 219.5 291.1 218 295.4 217.1 299.6 216.7 303.9 216.7 308.1 216.9 312.4 216.9 316.4 216.8 320.5 216.5 324.6 216.5 328.6 216.6 332.6 216.4 336.7 216 340.7 215.3 344.8 214.4 348.8 213.5 352.8 212.5 356.9 211.5 360.9 210.6 365 209.9 369 209.2 373 208.6 377.1 208.2 381.1 207.9 385.2 207.7 389.2 207.6"/>
<path d="M50.9 217.6L55.1 217.5 59.3 217 63.5 218.8 67.7 221.5 71.9 224.1 76.1 226.2 80.2 227.3 84.4 227.6 88.6 226.9 92.8 225.5 97 223.8 101.2 222.3 105.4 221.2 109.6 220.8 113.7 221 117.8 221.5 121.9 222.4 126 223.5 130.1 224.5 134.2 225.5 138.3 226.2 142.4 226.5 146.6 226.4 150.7 225.8 154.8 224.7 158.9 223.3 163 221.7 167.1 220 171.2 218.5 175.3 217.3 179.4 216.5 183.5 216.2 187.6 216.2 191.7 216.1 195.8 216.1 199.9 216.4 204 216.9 208.1 217.3 212.2 217.5 216.3 217.5 220.4 217.3 224.5 217.1 228.7 216.9 232.8 216.9 236.9 217.2 241 217.7 245.1 218.5 249.2 219.6 253.3 220.9 257.5 222.1 261.6 223.1 265.7 223.8 269.8 223.5 274.1 223.7 278.3 224.2 282.6 224.4 286.8 224.8 291.1 225.5 295.4 226.4 299.6 227.4 303.9 228.3 308.1 229 312.4 229.2 316.4 227.5 320.5 224.7 324.6 223.5 328.6 223.4 332.6 223.4 336.7 223.3 340.7 223.2 344.8 223.1 348.8 223.1 352.8 223.1 356.9 223.3 360.9 223.6 365 224 369 224.5 373 224.1 377.1 223.6 381.1 223.3 385.2 223.1 389.2 223"/>
<path d="M50.9 245.9L55.1 246.2 59.3 246.8 63.5 247.8 67.7 248.8 71.9 249.7 76.1 250.2 80.2 250.1 84.4 249.4 88.6 248.2 92.8 246.6 97 245 101.2 243.6 105.4 242.7 109.6 244.1 113.7 244.9 117.8 244.9 121.9 244.2 126 242.9 130.1 242.2 134.2 242.1 138.3 241.7 142.4 241.2 146.6 240.4 150.7 239.5 154.8 238.3 158.9 237.1 163 235.8 167.1 234.6 171.2 233.6 175.3 232.7 179.4 232.2 183.5 232 187.6 230.8 191.7 228.2 195.8 225.9 199.9 225.5 204 226.9 208.1 229 212.2 229.9 216.3 230.2 220.4 231.2 224.5 232.6 228.7 234.2 232.8 235.6 236.9 236.6 241 237 245.1 236.8 249.2 235.9 253.3 234.7 257.5 233.3 261.6 232 265.7 232.2 269.8 232.5 274.1 232.3 278.3 231.6 282.6 231.1 286.8 230.9 291.1 230.2 295.4 229 299.6 227.5 303.9 226 308.1 224.8 312.4 224.4 316.4 223.6 320.5 222.2 324.6 221.3 328.6 221 332.6 220.9 336.7 220.7 340.7 220.3 344.8 219.8 348.8 219.5 352.8 219.2 356.9 219.2 360.9 219.4 365 219.8 369 220.4 373 221.1 377.1 221.9 381.1 222.5 385.2 222.9 389.2 223"/>
<path d="M50.9 224.2L55.1 224.4 59.3 225.3 63.5 226.7 67.7 228.1 71.9 228.3 76.1 228.5 80.2 228.9 84.4 229.3 88.6 229.9 92.8 230.5 97 231.1 101.2 231.6 105.4 232 109.6 232.1 113.7 232 117.8 231.7 121.9 231.3 126 230.7 130.1 230 134.2 229.2 138.3 228.3 142.4 227.3 146.6 226.3 150.7 225.3 154.8 224.3 158.9 223.3 163 222.4 167.1 221.6 171.2 220.9 175.3 220.4 179.4 220.1 183.5 220 187.6 219.8 191.7 219.5 195.8 219.2 199.9 219 204 219.1 208.1 219.2 212.2 219.3 216.3 219.4 220.4 219.7 224.5 220.1 228.7 220.7 232.8 221.2 236.9 221.7 241 222.1 245.1 222.4 249.2 222.5 253.3 222.5 257.5 222.5 261.6 222.4 265.7 222.4 269.8 222.3 274.1 222.7 278.3 223.6 282.6 224.8 286.8 225.9 291.1 226.7 295.4 227 299.6 226.9 303.9 226.5 308.1 226.1 312.4 225.9 316.4 226.3 320.5 227.3 324.6 228.9 328.6 229.7 332.6 229.5 336.7 229 340.7 228.3 344.8 227.5 348.8 226.8 352.8 226.3 356.9 226.1 360.9 226.2 365 225.4 369 224.7 373 224.1 377.1 223.6 381.1 223.3 385.2 223.1 389.2 223"/>
<path d="M50.9 224.2L55.1 224.4 59.3 225.2 63.5 224.2 67.7 223.1 71.9 222.1 76.1 221.3 80.2 221 84.4 221.2 88.6 221.7 92.8 222.6 97 223.6 101.2 224.5 105.4 225.1 109.6 225.4 113.7 225.4 117.8 225.7 121.9 226 126 226.5 130.1 227 134.2 227.4 138.3 227.8 142.4 228.1 146.6 228.2 150.7 228.2 154.8 228 158.9 227.7 163 227.4 167.1 227 171.2 226.6 175.3 226.3 179.4 226.1 183.5 226.1 187.6 225.5 191.7 224.2 195.8 223.1 199.9 222.9 204 223.7 208.1 224.7 212.2 225.1 216.3 225.3 220.4 225.6 224.5 226.1 228.7 226.6 232.8 227.1 236.9 227.3 241 227.1 245.1 226.7 249.2 226 253.3 225.1 257.5 224.1 261.6 223.3 265.7 222.8 269.8 222.6 274.1 222.7 278.3 223.2 282.6 223.8 286.8 224.4 291.1 224.8 295.4 224.9 299.6 224.8 303.9 224.5 308.1 224.3 312.4 224.2 316.4 225 320.5 226.2 324.6 226.6 328.6 226.6 332.6 226.4 336.7 226 340.7 225.4 344.8 224.8 348.8 224.3 352.8 224.1 356.9 224.3 360.9 224.9 365 225.4 369 224.7 373 224.1 377.1 223.6 381.1 223.3 385.2 223.1 389.2 223"/>
<path d="M50.9 222.4L55.1 222.3 59.3 222.2 63.5 222.1 67.7 222 71.9 222.1 76.1 222.4 80.2 222.9 84.4 223.7 88.6 224.8 92.8 225.9 97 227 101.2 227.9 105.4 228.6 109.6 228.8 113.7 228.6 117.8 227.9 121.9 226.9 126 225.6 130.1 224.2 134.2 222.8 138.3 221.6 142.4 220.6 146.6 220 150.7 219.7 154.8 219.8 158.9 220.1 163 220.7 167.1 221.4 171.2 222.1 175.3 222.7 179.4 223 183.5 223.2 187.6 224.4 191.7 227.2 195.8 229.8 199.9 230.6 204 229.5 208.1 227.7 212.2 226.9 216.3 227.1 220.4 227.5 224.5 228.1 228.7 228.8 232.8 229.4 236.9 229.7 241 229.7 245.1 229.4 249.2 228.7 253.3 226.8 257.5 225.5 261.6 224.5 265.7 223.8 269.8 223.5 274.1 223.7 278.3 224.4 282.6 225.5 286.8 226.9 291.1 239.3 295.4 238.1 299.6 234.9 303.9 230.9 308.1 227.6 312.4 226.3 316.4 226.1 320.5 225.2 324.6 223.7 328.6 222.8 332.6 222.8 336.7 222.8 340.7 222.8 344.8 222.8 348.8 222.9 352.8 223.2 356.9 223.6 360.9 224.2 365 224.9 369 224.7 373 224.1 377.1 223.6 381.1 223.3 385.2 223.1 389.2 223"/>
<path d="M50.9 232.8L55.1 232.6 59.3 231.7 63.5 230.3 67.7 229.7 71.9 229.3 76.1 228.9 80.2 228.5 84.4 228.1 88.6 227.8 92.8 227.6 97 227.4 101.2 227.2 105.4 227.2 109.6 227.1 113.7 227.2 117.8 227.3 121.9 227.6 126 227.9 130.1 228.3 134.2 228.8 138.3 229.4 142.4 230.1 146.6 230.9 150.7 231.8 154.8 232.7 158.9 233.6 163 234.5 167.1 235.3 171.2 236 175.3 236.5 179.4 236.9 183.5 237 187.6 237.3 191.7 238.1 195.8 239 199.9 239.4 204 239.4 208.1 239.2 212.2 239.1 216.3 239.3 220.4 240 224.5 240.8 228.7 241.7 232.8 242.3 236.9 241.3 241 241 245.1 240.3 249.2 238.2 253.3 235.8 257.5 233.3 261.6 231.5 265.7 232.2 269.8 232.5 274.1 232.3 278.3 232.6 282.6 235.8 286.8 238.5 291.1 239.9 295.4 239.7 299.6 238.1 303.9 235.9 308.1 234.1 312.4 233.4 316.4 232.6 320.5 232 324.6 233.5 328.6 234.7 332.6 234.9 336.7 235.6 340.7 236.6 344.8 237.8 348.8 239 352.8 240 356.9 240.7 360.9 241 365 240.8 369 240.3 373 239.6 377.1 238.8 381.1 238 385.2 237.5 389.2 237.4"/>
<path d="M50.9 239.2L55.1 239.4 59.3 238.8 63.5 237.8 67.7 236.6 71.9 235.3 76.1 234 80.2 232.9 84.4 232.1 88.6 231.4 92.8 230.9 97 230.6 101.2 230.4 105.4 230.3 109.6 230.3 113.7 230.2 117.8 229.9 121.9 229.5 126 229 130.1 228.5 134.2 228 138.3 227.6 142.4 227.3 146.6 227.3 150.7 227.5 154.8 227.8 158.9 228.4 163 229 167.1 229.6 171.2 230.2 175.3 230.7 179.4 231 183.5 231.1 187.6 231.1 191.7 231 195.8 231 199.9 231.3 204 231.8 208.1 232.2 212.2 232.4 216.3 232.5 220.4 232.8 224.5 233.2 228.7 233.7 232.8 234.1 236.9 234.6 241 234.8 245.1 235 249.2 235 253.3 234.9 257.5 234.8 261.6 234.6 265.7 234.5 269.8 234.5 274.1 234.7 278.3 235.4 282.6 236.2 286.8 236.9 291.1 237.2 295.4 237.1 299.6 236.6 303.9 235.9 308.1 235.3 312.4 235.1 316.4 236.3 320.5 237.5 324.6 236.3 328.6 235.1 332.6 234.4 336.7 232.5 340.7 229.6 344.8 226.2 348.8 222.9 352.8 220.1 356.9 218.3 360.9 217.7 365 218.3 369 219.9 373 222.2 377.1 223.6 381.1 223.3 385.2 223.1 389.2 223"/>
<path d="M50.9 237.6L55.1 237.3 59.3 236.4 63.5 235.1 67.7 233.6 71.9 232.3 76.1 231.5 80.2 231.2 84.4 231.5 88.6 232.5 92.8 233.8 97 235.3 101.2 236.3 105.4 234.3 109.6 232.9 113.7 232.1 117.8 232.1 121.9 232.8 126 234.1 130.1 236 134.2 238.1 138.3 243.1 142.4 243.8 146.6 244.4 150.7 244.7 154.8 244.8 158.9 244.6 163 244.4 167.1 244 171.2 243.7 175.3 243.3 179.4 243.1 183.5 243.1 187.6 243.6 191.7 244.8 195.8 245.5 199.9 244.8 204 242.7 208.1 240.5 212.2 239.6 216.3 239.6 220.4 239.6 224.5 239.7 228.7 239.8 232.8 239.9 236.9 239.9 241 239.8 245.1 239.7 249.2 239.5 253.3 239.3 257.5 239.1 261.6 238.9 265.7 238.7 269.8 238.7 274.1 238.7 278.3 238.7 282.6 238.6 286.8 238.2 291.1 237.7 295.4 236.8 299.6 235.8 303.9 234.9 308.1 234.2 312.4 233.9 316.4 233.1 320.5 231.8 324.6 231.3 328.6 231.2 332.6 230.9 336.7 229.9 340.7 228.5 344.8 226.9 348.8 225.4 352.8 224.2 356.9 223.7 360.9 224 365 225 369 224.7 373 224.1 377.1 223.6 381.1 223.3 385.2 223.1 389.2 223"/>
<path d="M50.9 239.2L55.1 239.3 59.3 237.9 63.5 235.8 67.7 233.6 71.9 231.5 76.1 230.1 80.2 229.6 84.4 230 88.6 231.5 92.8 233.5 97 235.8 101.2 236.3 105.4 234.3 109.6 232.9 113.7 232.1 117.8 232.1 121.9 232.8 126 234.1 130.1 236 134.2 236.7 138.3 236.3 142.4 236 146.6 236.1 150.7 236.4 154.8 237 158.9 237.7 163 238.7 167.1 239.6 171.2 240.5 175.3 241.2 179.4 241.7 183.5 241.8 187.6 241.3 191.7 240.2 195.8 239.1 199.9 238.6 204 238.8 208.1 239.3 212.2 239.5 216.3 239.3 220.4 238.5 224.5 237.4 228.7 236.2 232.8 235.1 236.9 234.3 241 233.9 245.1 234.1 249.2 234.7 253.3 235.6 257.5 236.6 261.6 237.6 265.7 238.2 269.8 238.4 274.1 238.3 278.3 238.1 282.6 237.8 286.8 237.9 291.1 238.4 295.4 239.4 299.6 240.8 303.9 242.3 308.1 243.4 312.4 243.8 316.4 244.3 320.5 243.8 324.6 240.7 328.6 238.5 332.6 238.5 336.7 238.2 340.7 237.8 344.8 237.3 348.8 236.8 352.8 236.3 356.9 235.9 360.9 235.5 365 235.3 369 235.1 373 235 377.1 235 381.1 235 385.2 235 389.2 235"/>
<path d="M50.9 248.5L55.1 248.4 59.3 248.3 63.5 248 67.7 247.6 71.9 247.1 76.1 246.4 80.2 245.6 84.4 244.8 88.6 243.9 92.8 242.9 97 242.1 101.2 241.4 105.4 242.7 109.6 244.1 113.7 244.9 117.8 244.9 121.9 244.2 126 242.9 130.1 241 134.2 238.9 138.3 231 142.4 230 146.6 229.8 150.7 230.2 154.8 231.2 158.9 232.8 163 234.8 167.1 236.8 171.2 238.7 175.3 240.3 179.4 241.3 183.5 241.6 187.6 240.6 191.7 238 195.8 235.3 199.9 233.7 204 233.4 208.1 233.8 212.2 234.1 216.3 234.2 220.4 234.5 224.5 235 228.7 235.4 232.8 235.6 236.9 235.5 241 234.9 245.1 233.8 249.2 232.4 253.3 230.7 257.5 230.5 261.6 231.5 265.7 232.2 269.8 232.5 274.1 232.3 278.3 231.6 282.6 230.5 286.8 232.2 291.1 233.8 295.4 234.7 299.6 235 303.9 235 308.1 234.8 312.4 234.8 316.4 235.6 320.5 237.2 324.6 238.2 328.6 238.5 332.6 238.4 336.7 238.1 340.7 237.7 344.8 237.1 348.8 236.5 352.8 235.8 356.9 235.2 360.9 234.6 365 234.1 369 233.7 373 233.4 377.1 233.2 381.1 233 385.2 232.9 389.2 233"/>
<path d="M50.9 239.2L55.1 239 59.3 238 63.5 236.6 67.7 234.9 71.9 233.3 76.1 232 80.2 231.2 84.4 231 88.6 231.3 92.8 232.1 97 233 101.2 233.9 105.4 234.3 109.6 232.9 113.7 232.1 117.8 232.1 121.9 232.8 126 231.5 130.1 230 134.2 228.6 138.3 227.4 142.4 226.4 146.6 225.8 150.7 225.6 154.8 225.8 158.9 226.3 163 227.1 167.1 227.9 171.2 228.7 175.3 229.4 179.4 229.9 183.5 230 187.6 230.1 191.7 230.4 195.8 231 199.9 231.8 204 232.7 208.1 233.4 212.2 233.7 216.3 234.3 220.4 235.9 224.5 238.3 228.7 241.1 232.8 242.4 236.9 241.3 241 241 245.1 241.7 249.2 243.2 253.3 245.2 257.5 248.7 261.6 248 265.7 247.5 269.8 247.3 274.1 247.2 278.3 246.9 282.6 246.4 286.8 245.8 291.1 245.1 295.4 244.5 299.6 243.9 303.9 243.4 308.1 243 312.4 242.9 316.4 242 320.5 240.5 324.6 239.8 328.6 239.7 332.6 239.3 336.7 238 340.7 236.2 344.8 234.1 348.8 232 352.8 230.3 356.9 229.1 360.9 229.8 365 230.6 369 231.3 373 231.9 377.1 233.3 381.1 234.7 385.2 235.6 389.2 236"/>
<path d="M50.9 252.4L55.1 252.5 59.3 252.9 63.5 253.4 67.7 254 71.9 254.4 76.1 254.7 80.2 254.6 84.4 254.2 88.6 253.5 92.8 252.6 97 251.7 101.2 250.9 105.4 250.3 109.6 250.1 113.7 250.2 117.8 250.4 121.9 250.7 126 251 130.1 251.3 134.2 251.6 138.3 251.8 142.4 251.8 146.6 251.7 150.7 251.3 154.8 250.9 158.9 250.2 163 249.5 167.1 248.8 171.2 248.2 175.3 247.7 179.4 247.3 183.5 247.2 187.6 247.5 191.7 248 195.8 248.1 199.9 247.2 204 245.4 208.1 243.6 212.2 242.8 216.3 242.6 220.4 242 224.5 241.1 228.7 240.2 232.8 239.2 236.9 238.5 241 238.2 245.1 238.2 249.2 238.5 253.3 239.1 257.5 239.8 261.6 240.5 265.7 240.9 269.8 241.1 274.1 240.1 278.3 237.6 282.6 234.6 286.8 232.1 291.1 231.3 295.4 232.4 299.6 235.1 303.9 238.4 308.1 241 312.4 242 316.4 242 320.5 242.2 324.6 242.5 328.6 242.7 332.6 242.1 336.7 240.2 340.7 237.5 344.8 234.3 348.8 231.4 352.8 229.2 356.9 229 360.9 229.8 365 230.6 369 233.5 373 237.2 377.1 240.9 381.1 244.1 385.2 246.3 389.2 247.1"/>
<path d="M50.9 232.8L55.1 232.6 59.3 233.1 63.5 234.4 67.7 235.9 71.9 237.3 76.1 238.4 80.2 239.1 84.4 239.2 88.6 238.9 92.8 238.3 97 237.4 101.2 236.3 105.4 234.3 109.6 232.9 113.7 232.1 117.8 232.1 121.9 232.8 126 234.1 130.1 236 134.2 238.1 138.3 239.3 142.4 239.6 146.6 239.7 150.7 239.6 154.8 239.3 158.9 238.7 163 238.1 167.1 237.4 171.2 236.8 175.3 236.3 179.4 235.9 183.5 235.8 187.6 236.1 191.7 236.9 195.8 237.2 199.9 236.6 204 235.2 208.1 233.6 212.2 232.9 216.3 232.8 220.4 232.6 224.5 232.1 228.7 231.7 232.8 231.2 236.9 230.8 241 230.5 245.1 230.4 249.2 230.4 253.3 230.5 257.5 230.6 261.6 231.5 265.7 232.2 269.8 232.5 274.1 232.3 278.3 232 282.6 233.2 286.8 234.8 291.1 236.6 295.4 238.7 299.6 240.7 303.9 242.4 308.1 243.6 312.4 244.1 316.4 245 320.5 246.2 324.6 245.9 328.6 245.4 332.6 245.3 336.7 245.2 340.7 244.9 344.8 244.7 348.8 244.5 352.8 244.4 356.9 244.5 360.9 244.7 365 245.1 369 245.6 373 246.2 377.1 246.8 381.1 247.3 385.2 247.6 389.2 247.7"/>
<path d="M50.9 237.9L55.1 238.1 59.3 238.6 63.5 239.4 67.7 240.2 71.9 240.9 76.1 241.4 80.2 241.5 84.4 241.2 88.6 240.5 92.8 239.6 97 238.6 101.2 240.7 105.4 242.7 109.6 244.1 113.7 244.9 117.8 244.9 121.9 244.2 126 242.9 130.1 241 134.2 238.9 138.3 237.4 142.4 237.5 146.6 237.5 150.7 237.5 154.8 237.5 158.9 237.5 163 237.4 167.1 237.4 171.2 237.3 175.3 237.3 179.4 237.2 183.5 237.2 187.6 237.9 191.7 239.6 195.8 241.5 199.9 243 204 243.9 208.1 244.3 212.2 244.4 216.3 244.4 220.4 244.3 224.5 244.2 228.7 244.1 232.8 242.4 236.9 241.3 241 241 245.1 241.7 249.2 242.3 253.3 241.7 257.5 241.2 261.6 240.8 265.7 240.6 269.8 240.5 274.1 240.5 278.3 240.5 282.6 240.5 286.8 240.5 291.1 240.5 295.4 240.4 299.6 240.4 303.9 240.3 308.1 240.3 312.4 240.2 316.4 239.6 320.5 239.1 324.6 240.1 328.6 240.9 332.6 241.2 336.7 242 340.7 243.2 344.8 244.5 348.8 245.7 352.8 246.5 356.9 246.8 360.9 246.5 365 245.5 369 244.1 373 242.3 377.1 240.5 381.1 239 385.2 238 389.2 237.6"/>
<path d="M50.9 237.1L55.1 237.3 59.3 237.8 63.5 238.6 67.7 239.6 71.9 240.9 76.1 242.3 80.2 243.8 84.4 245.4 88.6 247 92.8 248.5 97 249.8 101.2 250.9 105.4 251.6 109.6 251.8 113.7 251.3 117.8 249.9 121.9 247.6 126 244.9 130.1 241.9 134.2 239.1 138.3 236.7 142.4 235.1 146.6 234.3 150.7 234.6 154.8 235.7 158.9 237.6 163 240 167.1 242.6 171.2 245.1 175.3 247.1 179.4 248.4 183.5 248.8 187.6 249 191.7 249.4 195.8 250.3 199.9 251.5 204 253 208.1 254.2 212.2 254.7 216.3 254.7 220.4 254.6 224.5 254.6 228.7 254.5 232.8 254.5 236.9 254.5 241 254.7 245.1 255 249.2 255.3 253.3 255.7 257.5 256.1 261.6 256.5 265.7 256.7 269.8 256.8 274.1 256.1 278.3 254.4 282.6 252.2 286.8 250 291.1 248.4 295.4 247.6 299.6 247.6 303.9 248.1 308.1 248.6 312.4 248.8 316.4 250.2 320.5 251.6 324.6 250.3 328.6 249 332.6 249 336.7 248.9 340.7 248.8 344.8 248.7 348.8 248.6 352.8 248.7 356.9 248.8 360.9 249.1 365 249.5 369 249.9 373 250.4 377.1 250.9 381.1 251.3 385.2 251.6 389.2 251.7"/>
<path d="M50.9 255.9L55.1 255.8 59.3 255.5 63.5 255 67.7 254.5 71.9 254.2 76.1 254 80.2 254.1 84.4 254.5 88.6 255.1 92.8 255.9 97 256.8 101.2 257.5 105.4 258 109.6 258.2 113.7 257.9 117.8 257.2 121.9 256 126 254.6 130.1 253 134.2 251.4 138.3 250 142.4 248.8 146.6 248.1 150.7 247.7 154.8 247.7 158.9 248 163 248.6 167.1 249.3 171.2 250.1 175.3 250.7 179.4 251.1 183.5 251.2 187.6 251.1 191.7 250.9 195.8 250.8 199.9 250.7 204 250.7 208.1 250.7 212.2 250.7 216.3 251.2 220.4 252.4 224.5 254.1 228.7 256.1 232.8 257.9 236.9 259.4 241 260.3 245.1 260.5 249.2 260 253.3 259.1 257.5 257.9 261.6 256.8 265.7 256 269.8 255.7 274.1 255.1 278.3 253.5 282.6 251.6 286.8 250 291.1 249.3 295.4 249.8 299.6 251.2 303.9 253 308.1 254.4 312.4 255 316.4 255.6 320.5 256.2 324.6 255.5 328.6 254.8 332.6 254 336.7 251.7 340.7 248.3 344.8 244.5 348.8 240.8 352.8 238 356.9 236.5 360.9 236.7 365 238.5 369 241.7 373 245.6 377.1 249.7 381.1 253.3 385.2 255.7 389.2 256.6"/>
<path d="M50.9 244.8L55.1 244.4 59.3 244.8 63.5 245.6 67.7 246.5 71.9 247.2 76.1 247.8 80.2 248.1 84.4 248.1 88.6 247.8 92.8 247.2 97 246.6 101.2 246 105.4 245.5 109.6 245.4 113.7 245.2 117.8 244.9 121.9 244.3 126 243.5 130.1 242.7 134.2 241.9 138.3 241.2 142.4 240.7 146.6 240.3 150.7 240.2 154.8 240.2 158.9 240.5 163 240.8 167.1 241.3 171.2 241.7 175.3 242 179.4 242.3 183.5 242.3 187.6 242.2 191.7 242 195.8 242.5 199.9 244.2 204 246.8 208.1 249.3 212.2 250.3 216.3 250.1 220.4 249.5 224.5 248.6 228.7 247.8 232.8 248.6 236.9 249.7 241 250 245.1 249.3 249.2 250 253.3 251.9 257.5 253.9 261.6 255.6 265.7 256.8 269.8 257.2 274.1 256.9 278.3 256.1 282.6 255 286.8 254.1 291.1 253.7 295.4 253.8 299.6 254.5 303.9 255.3 308.1 256 312.4 256.3 316.4 255.4 320.5 253.4 324.6 251.4 328.6 250.5 332.6 250.3 336.7 249.8 340.7 248.9 344.8 248 348.8 247 352.8 246.1 356.9 245.5 360.9 245.2 365 245.3 369 245.6 373 246 377.1 246.6 381.1 247.1 385.2 247.4 389.2 247.6"/>
<path d="M50.9 268.2L55.1 268.4 59.3 268.9 63.5 269.6 67.7 270.3 71.9 270.7 76.1 270.8 80.2 270.3 84.4 269.3 88.6 267.9 92.8 266.1 97 264.3 101.2 262.8 105.4 261.8 109.6 261.4 113.7 261.5 117.8 261.7 121.9 260.8 126 260.2 130.1 259.9 134.2 259.8 138.3 260.1 142.4 260.6 146.6 261.3 150.7 262.3 154.8 263.4 158.9 263.7 163 262.7 167.1 261.7 171.2 260.7 175.3 259.9 179.4 259.4 183.5 259.3 187.6 259.3 191.7 259.2 195.8 258.9 199.9 258.2 204 257.2 208.1 256.2 212.2 255.9 216.3 255.9 220.4 256.2 224.5 256.5 228.7 256.9 232.8 257.3 236.9 257.7 241 257.9 245.1 258.1 249.2 258.2 253.3 258.2 257.5 258.1 261.6 258.1 265.7 258 269.8 258 274.1 257.8 278.3 257.1 282.6 256.3 286.8 255.6 291.1 255.2 295.4 255.3 299.6 255.7 303.9 256.3 308.1 256.8 312.4 257 316.4 255.3 320.5 252.6 324.6 251.6 328.6 251.6 332.6 251.4 336.7 251.1 340.7 250.6 344.8 250 348.8 249.5 352.8 249.2 356.9 249.2 360.9 249.5 365 250.1 369 251 373 252 377.1 252.9 381.1 253.8 385.2 254.3 389.2 254.5"/>
<path d="M50.9 246.5L55.1 246.1 59.3 245.3 63.5 244 67.7 242.6 71.9 241.5 76.1 240.8 80.2 240.7 84.4 241.4 88.6 242.7 92.8 244.4 97 246.2 101.2 247.9 105.4 249 109.6 249.4 113.7 249.4 117.8 249.7 121.9 250 126 250.4 130.1 250.9 134.2 251.4 138.3 251.9 142.4 252.5 146.6 253 150.7 253.5 154.8 253.9 158.9 254.3 163 254.7 167.1 254.9 171.2 255.2 175.3 255.3 179.4 255.4 183.5 255.5 187.6 255.1 191.7 254.1 195.8 253.2 199.9 253 204 253.4 208.1 254 212.2 254.3 216.3 254 220.4 253 224.5 251.6 228.7 249.9 232.8 248.6 236.9 249.7 241 250 245.1 249.3 249.2 247.8 253.3 245.8 257.5 243.6 261.6 243.6 265.7 243.7 269.8 243.8 274.1 244 278.3 244.7 282.6 245.7 286.8 246.6 291.1 247.5 295.4 248 299.6 248.3 303.9 248.3 308.1 248.3 312.4 248.3 316.4 248.9 320.5 249.8 324.6 250.1 328.6 250.1 332.6 250 336.7 249.5 340.7 248.7 344.8 247.9 348.8 247.2 352.8 246.7 356.9 246.6 360.9 246.9 365 247.7 369 248.8 373 250.1 377.1 251.4 381.1 252.5 385.2 253.2 389.2 253.5"/>
<path d="M50.9 261.5L55.1 261.5 59.3 261.6 63.5 261.8 67.7 262 71.9 262 76.1 262 80.2 261.8 84.4 261.5 88.6 261 92.8 260.4 97 259.9 101.2 259.4 105.4 259.1 109.6 259 113.7 258.8 117.8 258.4 121.9 257.7 126 256.8 130.1 255.8 134.2 254.7 138.3 253.6 142.4 252.5 146.6 251.6 150.7 250.7 154.8 250 158.9 249.5 163 249 167.1 248.7 171.2 248.5 175.3 248.3 179.4 248.2 183.5 248.2 187.6 248.8 191.7 250 195.8 251.1 199.9 251 204 250 208.1 248.7 212.2 248.1 216.3 248.4 220.4 249.2 224.5 250.3 228.7 251.6 232.8 252.9 236.9 254.1 241 255 245.1 255.5 249.2 255.7 253.3 255.6 257.5 255.4 261.6 255.1 265.7 254.9 269.8 254.8 274.1 254.2 278.3 252.5 282.6 250.3 286.8 248.4 291.1 247.5 295.4 247.7 299.6 248.9 303.9 250.5 308.1 251.8 312.4 252.4 316.4 252.4 320.5 252.4 324.6 252.2 328.6 252.1 332.6 252 336.7 251.7 340.7 251.3 344.8 250.8 348.8 250.4 352.8 250.2 356.9 250.2 360.9 250.4 365 250.9 369 251.6 373 252.4 377.1 253.2 381.1 253.9 385.2 254.3 389.2 254.5"/>
<path d="M50.9 268.7L55.1 268.8 59.3 269.2 63.5 269.6 67.7 270.1 71.9 270.5 76.1 270.7 80.2 270.6 84.4 270.2 88.6 269.5 92.8 268.7 97 267.9 101.2 267.1 105.4 266.6 109.6 266.4 113.7 266.2 117.8 266.9 121.9 267.8 126 268.4 130.1 268.7 134.2 268.8 138.3 268.5 142.4 268 146.6 267.3 150.7 266.3 154.8 265.2 158.9 264.9 163 266.4 167.1 268 171.2 269.4 175.3 270.5 179.4 271.3 183.5 271.5 187.6 272.1 191.7 273.2 195.8 273.9 199.9 273.5 204 271.9 208.1 270.1 212.2 269.4 216.3 269.2 220.4 268.9 224.5 268.4 228.7 267.8 232.8 267.3 236.9 266.8 241 266.5 245.1 266.4 249.2 266.4 253.3 266.6 257.5 266.8 261.6 267 265.7 267.2 269.8 267.3 274.1 267.3 278.3 267.3 282.6 267.2 286.8 267 291.1 266.4 295.4 265.6 299.6 264.5 303.9 263.5 308.1 262.8 312.4 262.5 316.4 261.3 320.5 258.8 324.6 256.8 328.6 256.1 332.6 255.8 336.7 254.8 340.7 253.5 344.8 251.9 348.8 250.4 352.8 249.2 356.9 248.5 360.9 248.5 365 249 369 250 373 251.4 377.1 252.8 381.1 254 385.2 254.9 389.2 255.2"/>
<path d="M50.9 275.1L55.1 275.1 59.3 275.2 63.5 275.3 67.7 275.3 71.9 275 76.1 274.5 80.2 273.7 84.4 272.5 88.6 271.1 92.8 269.5 97 268 101.2 266.8 105.4 265.9 109.6 265.6 113.7 265.9 117.8 266.9 121.9 267.8 126 268.4 130.1 268.7 134.2 268.8 138.3 268.5 142.4 268 146.6 267.3 150.7 266.3 154.8 265.2 158.9 254.1 163 253.7 167.1 253.5 171.2 253.4 175.3 253.4 179.4 253.3 183.5 253.3 187.6 253.2 191.7 253.1 195.8 253.3 199.9 254.1 204 255.5 208.1 256.7 212.2 257.3 216.3 257.5 220.4 258 224.5 258.7 228.7 259.5 232.8 260.1 236.9 260.5 241 260.6 245.1 260.3 249.2 259.6 253.3 258.6 257.5 257.6 261.6 256.8 265.7 256.1 269.8 255.9 274.1 255.8 278.3 255.5 282.6 255.1 286.8 255.1 291.1 255.4 295.4 256.3 299.6 257.6 303.9 258.9 308.1 259.9 312.4 260.3 316.4 259.9 320.5 258.5 324.6 255.8 328.6 254.3 332.6 254.3 336.7 254.2 340.7 254.2 344.8 254.2 348.8 254.4 352.8 254.7 356.9 255.3 360.9 256.2 365 257.2 369 258.5 373 259.8 377.1 261 381.1 262 385.2 262.6 389.2 262.9"/>
<path d="M50.9 262.8L55.1 262.6 59.3 262.3 63.5 261.7 67.7 261.1 71.9 260.5 76.1 260.2 80.2 260.1 84.4 260.4 88.6 260.9 92.8 261.6 97 262.4 101.2 263 105.4 263.5 109.6 263.7 113.7 262.7 117.8 261.7 121.9 260.8 126 260.2 130.1 259.9 134.2 259.8 138.3 260.1 142.4 260.6 146.6 261.3 150.7 262.3 154.8 263.4 158.9 263.7 163 261.7 167.1 259.7 171.2 257.9 175.3 256.4 179.4 255.5 183.5 255.2 187.6 255.5 191.7 256.2 195.8 257.1 199.9 257.8 204 258.4 208.1 258.7 212.2 258.9 216.3 258.4 220.4 257.3 224.5 255.5 228.7 253.5 232.8 251.6 236.9 250.1 241 250 245.1 249.3 249.2 249.2 253.3 250.1 257.5 251.1 261.6 252.2 265.7 252.9 269.8 253.1 274.1 253.1 278.3 253.2 282.6 253.3 286.8 253.7 291.1 254.3 295.4 255.2 299.6 256.3 303.9 257.3 308.1 258.1 312.4 258.4 316.4 260.2 320.5 262.8 324.6 263.3 328.6 262.9 332.6 262.8 336.7 262.7 340.7 262.5 344.8 262.3 348.8 262.1 352.8 262 356.9 262.1 360.9 262.3 365 262.7 369 263.2 373 263.7 377.1 264.2 381.1 264.6 385.2 264.9 389.2 265"/>
<path d="M50.9 271L55.1 270.9 59.3 270.6 63.5 270.2 67.7 269.7 71.9 269.3 76.1 268.9 80.2 268.8 84.4 268.9 88.6 269.2 92.8 269.5 97 270 101.2 270.4 105.4 270.7 109.6 270.8 113.7 270.7 117.8 270.3 121.9 269.9 126 269.3 130.1 268.7 134.2 268.8 138.3 268.5 142.4 268 146.6 267.3 150.7 266.6 154.8 266.7 158.9 266.9 163 267.2 167.1 267.6 171.2 268 175.3 268.3 179.4 268.5 183.5 268.5 187.6 268.3 191.7 267.7 195.8 267 199.9 266.2 204 265.5 208.1 265 212.2 264.8 216.3 264.5 220.4 263.7 224.5 262.5 228.7 261.2 232.8 260.3 236.9 259.8 241 260.1 245.1 261.2 249.2 263 253.3 265.2 257.5 267.5 261.6 269.5 265.7 270.9 269.8 271.4 274.1 271.4 278.3 271.5 282.6 271.6 286.8 271.7 291.1 271.8 295.4 271.9 299.6 271.9 303.9 272 308.1 272 312.4 272 316.4 272.2 320.5 272 324.6 270.7 328.6 269.8 332.6 269.8 336.7 269.7 340.7 269.6 344.8 269.5 348.8 269.3 352.8 269 356.9 268.7 360.9 268.3 365 267.9 369 267.4 373 266.9 377.1 266.5 381.1 266.2 385.2 265.9 389.2 265.9"/>
<path d="M50.9 252.8L55.1 252.4 59.3 251.1 63.5 249.3 67.7 247.3 71.9 245.5 76.1 244.2 80.2 243.7 84.4 244 88.6 245.2 92.8 246.8 97 248.7 101.2 250.4 105.4 251.6 109.6 252 113.7 252.2 117.8 252.9 121.9 254 126 255.4 130.1 256.9 134.2 258.4 138.3 259.8 142.4 260.6 146.6 261.3 150.7 262 154.8 262 158.9 261.7 163 261.1 167.1 260.4 171.2 259.8 175.3 259.2 179.4 258.8 183.5 258.7 187.6 258.8 191.7 259.2 195.8 260 199.9 261.5 204 263.3 208.1 264.9 212.2 265.5 216.3 265.7 220.4 266.1 224.5 266.7 228.7 267.4 232.8 267.9 236.9 268.2 241 268.1 245.1 267.7 249.2 266.9 253.3 266 257.5 264.9 261.6 264 265.7 263.4 269.8 263.2 274.1 262.5 278.3 260.7 282.6 258.4 286.8 256.3 291.1 254.9 295.4 254.6 299.6 255.1 303.9 256.1 308.1 257.1 312.4 257.4 316.4 258.5 320.5 260 324.6 259.8 328.6 259.2 332.6 258.9 336.7 257.8 340.7 256.3 344.8 254.5 348.8 252.8 352.8 251.5 356.9 250.7 360.9 250.7 365 251.4 369 252.6 373 254.2 377.1 255.9 381.1 257.4 385.2 258.4 389.2 258.8"/>
<path d="M50.9 281.2L55.1 281.3 59.3 281.5 63.5 281.8 67.7 282 71.9 281.8 76.1 281.2 80.2 280 84.4 278.3 88.6 276.1 92.8 273.7 97 271.3 101.2 269.3 105.4 268 109.6 267.5 113.7 267.7 117.8 268.4 121.9 269.4 126 270.7 130.1 271.9 134.2 273.1 138.3 273.9 142.4 274.2 146.6 274.1 150.7 273.3 154.8 272.1 158.9 270.4 163 268.5 167.1 266.5 171.2 264.7 175.3 263.3 179.4 262.3 183.5 262 187.6 262.3 191.7 263.1 195.8 263.5 199.9 262.9 204 261.4 208.1 259.9 212.2 259.3 216.3 259.2 220.4 259.2 224.5 259.1 228.7 258.9 232.8 258.8 236.9 258.7 241 258.6 245.1 258.5 249.2 258.5 253.3 258.5 257.5 258.5 261.6 258.5 265.7 258.5 269.8 258.5 274.1 258.5 278.3 258.4 282.6 258.1 286.8 257.6 291.1 256.8 295.4 255.8 299.6 254.6 303.9 253.5 308.1 252.7 312.4 252.4 316.4 253 320.5 253.8 324.6 253.8 328.6 253.5 332.6 253.4 336.7 253.1 340.7 252.6 344.8 252.2 348.8 251.8 352.8 251.7 356.9 252 360.9 252.6 365 253.6 369 254.8 373 256.2 377.1 257.5 381.1 258.6 385.2 259.4 389.2 259.6"/>
<path d="M50.9 270.1L55.1 270.3 59.3 270.7 63.5 271.4 67.7 272.2 71.9 273 76.1 273.7 80.2 274.2 84.4 274.4 88.6 274.5 92.8 274.3 97 274 101.2 273.8 105.4 273.6 109.6 273.5 113.7 273.1 117.8 271.9 121.9 270.1 126 268.4 130.1 268.7 134.2 268.8 138.3 268.5 142.4 268 146.6 267.3 150.7 266.3 154.8 265.2 158.9 263.3 163 265.5 167.1 267.8 171.2 270.1 175.3 271.8 179.4 273 183.5 273.4 187.6 273 191.7 272 195.8 271.4 199.9 271.8 204 273.3 208.1 274.9 212.2 275.6 216.3 275.8 220.4 276.2 224.5 276.9 228.7 277.7 232.8 278.5 236.9 279.1 241 279.5 245.1 279.6 249.2 279.5 253.3 279.3 257.5 278.9 261.6 278.5 265.7 278.3 269.8 278.2 274.1 278.1 278.3 278 282.6 277.8 286.8 277.5 291.1 277.2 295.4 276.7 299.6 276.2 303.9 275.7 308.1 275.4 312.4 275.3 316.4 274.8 320.5 273.5 324.6 271.8 328.6 270.9 332.6 271.2 336.7 271.8 340.7 272.7 344.8 273.8 348.8 274.9 352.8 275.9 356.9 276.7 360.9 277.1 365 277.3 369 277.1 373 276.7 377.1 276.3 381.1 275.8 385.2 275.5 389.2 275.4"/>
<path d="M50.9 265.3L55.1 264.7 59.3 263 63.5 260.6 67.7 257.8 71.9 255.2 76.1 253.2 80.2 252 84.4 251.8 88.6 252.5 92.8 253.9 97 255.6 101.2 257.2 105.4 258.3 109.6 258.7 113.7 258.6 117.8 258.4 121.9 258 126 257.5 130.1 257.1 134.2 256.6 138.3 256.4 142.4 256.3 146.6 256.5 150.7 256.8 154.8 257.5 158.9 258.2 163 259.1 167.1 260 171.2 260.8 175.3 261.5 179.4 261.9 183.5 262 187.6 261.9 191.7 261.5 195.8 261.6 199.9 262.5 204 264 208.1 265.5 212.2 266.1 216.3 266.2 220.4 266.2 224.5 266.3 228.7 266.4 232.8 266.5 236.9 266.6 241 266.6 245.1 266.5 249.2 266.4 253.3 266.3 257.5 266.2 261.6 266 265.7 266 269.8 265.9 274.1 266.7 278.3 268.7 282.6 271.2 286.8 273.4 291.1 274.5 295.4 274.4 299.6 273.1 303.9 271.3 308.1 269.8 312.4 269.3 316.4 268.1 320.5 266.8 324.6 267.8 328.6 268.9 332.6 268.6 336.7 268 340.7 266.9 344.8 265.7 348.8 264.5 352.8 263.4 356.9 262.5 360.9 262 365 261.9 369 262 373 262.4 377.1 262.8 381.1 263.3 385.2 263.6 389.2 263.7"/>
<path d="M50.9 279.6L55.1 279.4 59.3 279 63.5 278.3 67.7 277.5 71.9 276.7 76.1 275.8 80.2 275.1 84.4 274.4 88.6 273.9 92.8 273.5 97 273.3 101.2 273.1 105.4 273 109.6 272.9 113.7 272.8 117.8 272.5 121.9 272.1 126 271.5 130.1 270.9 134.2 270.4 138.3 269.9 142.4 269.6 146.6 269.4 150.7 269.5 154.8 269.8 158.9 270.2 163 270.8 167.1 271.3 171.2 271.9 175.3 272.3 179.4 272.6 183.5 272.7 187.6 274.7 191.7 279.5 195.8 283.9 199.9 285.7 204 284.4 208.1 282.1 212.2 281 216.3 280.9 220.4 280.6 224.5 280.2 228.7 279.8 232.8 279.4 236.9 279.2 241 279.2 245.1 279.4 249.2 279.8 253.3 280.3 257.5 280.9 261.6 281.4 265.7 281.8 269.8 281.9 274.1 281.6 278.3 280.8 282.6 279.8 286.8 278.9 291.1 278.4 295.4 278.3 299.6 278.7 303.9 279.3 308.1 279.8 312.4 279.9 316.4 280 320.5 278.9 324.6 276.1 328.6 274.4 332.6 274.3 336.7 274.1 340.7 273.7 344.8 273.3 348.8 272.7 352.8 272 356.9 271.3 360.9 270.5 365 269.7 369 268.9 373 268.2 377.1 267.5 381.1 267 385.2 266.7 389.2 266.5"/>
<path d="M50.9 275.4L55.1 274.9 59.3 273.3 63.5 271.1 67.7 268.5 71.9 266 76.1 263.9 80.2 262.5 84.4 261.9 88.6 262 92.8 262.8 97 263.8 101.2 264.8 105.4 265.6 109.6 265.8 113.7 265.9 117.8 266.9 121.9 267.8 126 268.4 130.1 268.7 134.2 268.8 138.3 268.5 142.4 268 146.6 267.3 150.7 266.3 154.8 265.2 158.9 264.2 163 264.3 167.1 264.4 171.2 264.5 175.3 264.6 179.4 264.6 183.5 264.6 187.6 265.1 191.7 266.1 195.8 267 199.9 267.1 204 266.5 208.1 265.7 212.2 265.3 216.3 265.3 220.4 265.5 224.5 265.7 228.7 266.1 232.8 266.4 236.9 266.9 241 267.3 245.1 267.8 249.2 268.3 253.3 268.8 257.5 269.2 261.6 269.5 265.7 269.7 269.8 269.8 274.1 269.7 278.3 269.4 282.6 269.1 286.8 269.1 291.1 269.5 295.4 270.3 299.6 271.4 303.9 272.5 308.1 273.4 312.4 273.8 316.4 273.5 320.5 273 324.6 272.8 328.6 272.7 332.6 272.9 336.7 273.3 340.7 273.9 344.8 274.7 348.8 275.6 352.8 276.6 356.9 277.7 360.9 278.8 365 279.9 369 280.9 373 281.8 377.1 282.6 381.1 283.2 385.2 283.5 389.2 283.7"/>
<path d="M50.9 273.5L55.1 273.6 59.3 274 63.5 274.5 67.7 275.2 71.9 275.9 76.1 276.6 80.2 277.3 84.4 277.9 88.6 278.4 92.8 278.8 97 279.1 101.2 279.3 105.4 279.5 109.6 279.5 113.7 279.7 117.8 280.2 121.9 281 126 281.9 130.1 282.8 134.2 283.5 138.3 284.1 142.4 284.7 146.6 285 150.7 285 154.8 284.7 158.9 284.1 163 283.3 167.1 282.3 171.2 281.2 175.3 269.7 179.4 268.6 183.5 268.3 187.6 268.3 191.7 268.5 195.8 269 199.9 269.9 204 271.2 208.1 272.2 212.2 272.7 216.3 272.8 220.4 273.4 224.5 274.1 228.7 275 232.8 275.8 236.9 276.5 241 276.9 245.1 277.1 249.2 276.9 253.3 276.5 257.5 276.1 261.6 275.6 265.7 275.3 269.8 275.2 274.1 274.9 278.3 274.2 282.6 273.2 286.8 272.4 291.1 272 295.4 272.2 299.6 272.7 303.9 273.5 308.1 274.1 312.4 274.4 316.4 274.4 320.5 274.1 324.6 273.4 328.6 272.9 332.6 272.6 336.7 271.7 340.7 270.3 344.8 268.6 348.8 266.9 352.8 265.4 356.9 264.3 360.9 263.7 365 263.6 369 264 373 264.7 377.1 265.5 381.1 266.2 385.2 266.7 389.2 266.9"/>
<path d="M50.9 285.7L55.1 285.7 59.3 285.5 63.5 285.4 67.7 285.2 71.9 285 76.1 284.9 80.2 284.8 84.4 284.9 88.6 285 92.8 285.2 97 285.4 101.2 285.5 105.4 285.7 109.6 285.7 113.7 285.8 117.8 286 121.9 286.4 126 286.8 130.1 287.3 134.2 287.7 138.3 288.1 142.4 288.3 146.6 288.4 150.7 288.3 154.8 288.1 158.9 287.7 163 287.3 167.1 286.8 171.2 286.4 175.3 286 179.4 285.8 183.5 285.7 187.6 285.5 191.7 285 195.8 284.7 199.9 284.7 204 285 208.1 285.5 212.2 285.7 216.3 285.9 220.4 286.6 224.5 287.6 228.7 288.7 232.8 288.7 236.9 288.7 241 288.7 245.1 288.7 249.2 288.1 253.3 286.6 257.5 285 261.6 283.6 265.7 282.6 269.8 282.3 274.1 282.2 278.3 281.8 282.6 281.2 286.8 280.7 291.1 280.3 295.4 280 299.6 279.9 303.9 279.9 308.1 279.9 312.4 279.9 316.4 279.2 320.5 278.5 324.6 279.2 328.6 280 332.6 279.9 336.7 279.5 340.7 279 344.8 278.4 348.8 277.8 352.8 277.1 356.9 276.4 360.9 275.9 365 275.4 369 275.1 373 274.9 377.1 274.7 381.1 274.6 385.2 274.5 389.2 274.5"/>
<path d="M50.9 273.2L55.1 272.8 59.3 271.7 63.5 270 67.7 268.1 71.9 266 76.1 264.1 80.2 262.5 84.4 261.3 88.6 260.5 92.8 260.1 97 260 101.2 260 105.4 260 109.6 260 113.7 259.9 117.8 259.5 121.9 258.9 126 258.1 130.1 257.4 134.2 256.8 138.3 256.5 142.4 256.6 146.6 257.1 150.7 258.1 154.8 259.5 158.9 261.2 163 263 167.1 264.9 171.2 266.5 175.3 267.9 179.4 268.8 183.5 269.1 187.6 269.1 191.7 269.3 195.8 269.9 199.9 271 204 272.4 208.1 273.7 212.2 274.2 216.3 275 220.4 277.2 224.5 280.3 228.7 283.7 232.8 286.6 236.9 288.4 241 288.6 245.1 287 249.2 284 253.3 279.9 257.5 275.5 261.6 271.6 265.7 268.9 269.8 267.9 274.1 268.2 278.3 269 282.6 270.1 286.8 271.3 291.1 272.5 295.4 273.5 299.6 274.3 303.9 274.8 308.1 275.2 312.4 275.3 316.4 275.6 320.5 276 324.6 276.1 328.6 276 332.6 275.9 336.7 275.4 340.7 274.6 344.8 273.8 348.8 272.9 352.8 272.3 356.9 271.9 360.9 271.8 365 272.1 369 272.6 373 273.3 377.1 274 381.1 274.7 385.2 275.1 389.2 275.3"/>
<path d="M50.9 277.1L55.1 277.3 59.3 277.9 63.5 278.9 67.7 280 71.9 281.2 76.1 282.2 80.2 283 84.4 283.5 88.6 283.7 92.8 283.6 97 283.5 101.2 283.3 105.4 283.1 109.6 283 113.7 283.3 117.8 284.1 121.9 285.4 126 286.9 130.1 288.5 134.2 288.7 138.3 288.7 142.4 288.7 146.6 288.7 150.7 288.7 154.8 288.7 158.9 286.8 163 284.5 167.1 282.3 171.2 281.2 175.3 278.2 179.4 277.1 183.5 276.7 187.6 276.1 191.7 274.7 195.8 273.6 199.9 273.6 204 274.7 208.1 276 212.2 276.6 216.3 277.2 220.4 278.8 224.5 281.1 228.7 283.6 232.8 285.8 236.9 287.2 241 287.6 245.1 286.8 249.2 284.9 253.3 282.3 257.5 279.4 261.6 276.9 265.7 275.1 269.8 274.5 274.1 274 278.3 272.9 282.6 271.6 286.8 270.8 291.1 271 295.4 272.4 299.6 274.7 303.9 277.3 308.1 279.3 312.4 280 316.4 279.3 320.5 278.3 324.6 278.4 328.6 278.6 332.6 278.3 336.7 277.5 340.7 276.3 344.8 274.9 348.8 273.6 352.8 272.4 356.9 271.5 360.9 271.2 365 271.3 369 271.8 373 272.6 377.1 273.4 381.1 274.2 385.2 274.8 389.2 275"/>
<path d="M50.9 285.7L55.1 285.4 59.3 284.4 63.5 283.1 67.7 281.6 71.9 280.3 76.1 279.4 80.2 279 84.4 279.4 88.6 280.3 92.8 281.6 97 283.1 101.2 284.4 105.4 285.4 109.6 285.7 113.7 285.8 117.8 286.2 121.9 286.8 126 287.5 130.1 288.3 134.2 288.7 138.3 288.7 142.4 288.7 146.6 288.7 150.7 288.7 154.8 288.7 158.9 288.7 163 288.3 167.1 287.5 171.2 286.8 175.3 286.2 179.4 285.8 183.5 285.7 187.6 285.9 191.7 286.2 195.8 286.4 199.9 286.2 204 285.7 208.1 285.1 212.2 284.9 216.3 284.8 220.4 284.7 224.5 284.4 228.7 284 232.8 283.5 236.9 282.7 241 281.8 245.1 280.8 249.2 279.6 253.3 278.4 257.5 277.3 261.6 276.4 265.7 275.8 269.8 275.6 274.1 275.8 278.3 276.5 282.6 277.5 286.8 278.4 291.1 279.1 295.4 279.5 299.6 279.5 303.9 279.3 308.1 279.2 312.4 279.1 316.4 279.3 320.5 280.1 324.6 281.4 328.6 282.2 332.6 282.3 336.7 282.6 340.7 283 344.8 283.5 348.8 284.1 352.8 284.6 356.9 285 360.9 285.4 365 285.6 369 285.7 373 285.8 377.1 285.7 381.1 285.7 385.2 285.7 389.2 285.7"/>
<path d="M50.9 273.9L55.1 274.2 59.3 275.3 63.5 276.9 67.7 278.6 71.9 280.4 76.1 281.8 80.2 282.7 84.4 283.1 88.6 282.8 92.8 282.2 97 281.4 101.2 280.6 105.4 280 109.6 279.8 113.7 279.8 117.8 279.7 121.9 279.6 126 279.4 130.1 279.2 134.2 278.7 138.3 277.9 142.4 277.3 146.6 277 150.7 277 154.8 276.8 158.9 276.3 163 275.7 167.1 275.3 171.2 274.9 175.3 274.6 179.4 274.4 183.5 274.3 187.6 273.7 191.7 272.2 195.8 270.8 199.9 270.3 204 270.6 208.1 271.3 212.2 271.6 216.3 270.9 220.4 269 224.5 266.3 228.7 263.3 232.8 260.8 236.9 259.2 241 259.1 245.1 260.5 249.2 263.3 253.3 266.9 257.5 270.9 261.6 274.3 265.7 276.7 269.8 277.6 274.1 277.6 278.3 277.8 282.6 278 286.8 278.1 291.1 277.8 295.4 277.3 299.6 276.6 303.9 275.8 308.1 275.2 312.4 275 316.4 274 320.5 273.2 324.6 274.7 328.6 276 332.6 276.1 336.7 276.2 340.7 276.5 344.8 276.8 348.8 277.3 352.8 277.8 356.9 278.5 360.9 279.2 365 280 369 280.9 373 281.7 377.1 282.4 381.1 283 385.2 283.4 389.2 283.5"/>
<path d="M50.9 283.4L55.1 283 59.3 281.8 63.5 280.1 67.7 278.2 71.9 276.3 76.1 274.9 80.2 274.1 84.4 274 88.6 274.6 92.8 275.6 97 276.9 101.2 278 105.4 278.9 109.6 279.1 113.7 279.4 117.8 280.2 121.9 281.3 126 282.8 130.1 284.4 134.2 286 138.3 287.4 142.4 288.5 146.6 288.7 150.7 288.7 154.8 288.7 158.9 288.7 163 288.5 167.1 287.7 171.2 286.9 175.3 286.3 179.4 285.8 183.5 285.7 187.6 286.5 191.7 288.2 195.8 288.7 199.9 288.7 204 288.2 208.1 286.5 212.2 285.7 216.3 286 220.4 286.8 224.5 288 228.7 288.7 232.8 288.7 236.9 288.7 241 288.7 245.1 288.7 249.2 288.7 253.3 288.7 257.5 288 261.6 286.8 265.7 286 269.8 285.7 274.1 285.3 278.3 284.2 282.6 282.7 286.8 281.3 291.1 280.4 295.4 280 299.6 280.1 303.9 280.6 308.1 281 312.4 281.2 316.4 280.7 320.5 280.4 324.6 281.2 328.6 281.9 332.6 282.2 336.7 283 340.7 284.2 344.8 285.7 348.8 287.1 352.8 288.4 356.9 288.7 360.9 288.7 365 288.7 369 288.7 373 288.2 377.1 287.3 381.1 286.5 385.2 285.9 389.2 285.7"/>
<path d="M50.9 202L55.1 202 59.3 202.2 63.5 202.3 67.7 202.6 71.9 202.8 76.1 203.1 80.2 203.4 84.4 203.7 88.6 204 92.8 204.2 97 204.5 101.2 204.6 105.4 204.8 109.6 204.8 113.7 204.8 117.8 204.8 121.9 204.8 126 204.8 130.1 204.8 134.2 204.7 138.3 204.7 142.4 204.7 146.6 204.7 150.7 204.7 154.8 204.7 158.9 204.7 163 204.6 167.1 204.6 171.2 204.6 175.3 204.6 179.4 204.6 183.5 204.6 187.6 204.6 191.7 204.6 195.8 204.5 199.9 204.5 204 204.4 208.1 204.4 212.2 204.4 216.3 204.4 220.4 204.3 224.5 204.1 228.7 203.9 232.8 203.7 236.9 203.5 241 203.2 245.1 202.9 249.2 202.7 253.3 202.5 257.5 202.3 261.6 202.1 265.7 202 269.8 202 274.1 202.1 278.3 202.2 282.6 202.4 286.8 202.7 291.1 203 295.4 203.3 299.6 203.6 303.9 203.8 308.1 203.9 312.4 204 316.4 204 320.5 204.2 324.6 204.3 328.6 204.3 332.6 204.3 336.7 204.2 340.7 204.1 344.8 203.9 348.8 203.7 352.8 203.5 356.9 203.3 360.9 203 365 202.8 369 202.6 373 202.4 377.1 202.2 381.1 202.1 385.2 202 389.2 202"/>
<path d="M50.9 203.6L55.1 203.6 59.3 203.8 63.5 203.9 67.7 204.2 71.9 204.4 76.1 204.7 80.2 205 84.4 205.3 88.6 205.6 92.8 205.8 97 206.1 101.2 206.2 105.4 206.4 109.6 206.4 113.7 206.4 117.8 206.4 121.9 206.4 126 206.4 130.1 206.4 134.2 206.3 138.3 206.3 142.4 206.3 146.6 206.3 150.7 206.3 154.8 206.3 158.9 206.3 163 206.2 167.1 206.2 171.2 206.2 175.3 206.2 179.4 206.2 183.5 206.2 187.6 206.2 191.7 206.2 195.8 206.1 199.9 206.1 204 206 208.1 206 212.2 206 216.3 206 220.4 205.9 224.5 205.7 228.7 205.5 232.8 205.3 236.9 205.1 241 204.8 245.1 204.5 249.2 204.3 253.3 204.1 257.5 203.9 261.6 203.7 265.7 203.6 269.8 203.6 274.1 203.7 278.3 203.8 282.6 204 286.8 204.3 291.1 204.6 295.4 204.9 299.6 205.2 303.9 205.4 308.1 205.5 312.4 205.6 316.4 205.6 320.5 205.8 324.6 205.9 328.6 205.9 332.6 205.9 336.7 205.8 340.7 205.7 344.8 205.5 348.8 205.3 352.8 205.1 356.9 204.9 360.9 204.6 365 204.4 369 204.2 373 204 377.1 203.8 381.1 203.7 385.2 203.6 389.2 203.6"/>
<path d="M50.9 205.2L55.1 205.2 59.3 205.4 63.5 205.5 67.7 205.8 71.9 206 76.1 206.3 80.2 206.6 84.4 206.9 88.6 207.2 92.8 207.4 97 207.7 101.2 207.8 105.4 208 109.6 208 113.7 208 117.8 208 121.9 208 126 208 130.1 208 134.2 207.9 138.3 207.9 142.4 207.9 146.6 207.9 150.7 207.9 154.8 207.9 158.9 207.9 163 207.8 167.1 207.8 171.2 207.8 175.3 207.8 179.4 207.8 183.5 207.8 187.6 207.8 191.7 207.8 195.8 207.7 199.9 207.7 204 207.6 208.1 207.6 212.2 207.6 216.3 207.6 220.4 207.5 224.5 207.3 228.7 207.1 232.8 206.9 236.9 206.7 241 206.4 245.1 206.1 249.2 205.9 253.3 205.7 257.5 205.5 261.6 205.3 265.7 205.2 269.8 205.2 274.1 205.3 278.3 205.4 282.6 205.6 286.8 205.9 291.1 206.2 295.4 206.5 299.6 206.8 303.9 207 308.1 207.1 312.4 207.2 316.4 207.2 320.5 207.3 324.6 207.5 328.6 207.5 332.6 207.5 336.7 207.4 340.7 207.3 344.8 207.1 348.8 206.9 352.8 206.7 356.9 206.5 360.9 206.2 365 206 369 205.8 373 205.6 377.1 205.4 381.1 205.3 385.2 205.2 389.2 205.2"/>
<path d="M50.7 293C53.9 292.8 63.5 292.8 70 292C76.5 291.2 83.4 289.5 90 288C96.6 286.5 102.9 283.7 109.6 283C116.3 282.3 123.3 283.5 130 284C136.7 284.5 141.1 286.2 150 286C158.9 285.8 177.9 283.5 183.5 283"/>
</g>
<line x1="48.8" y1="119.6" x2="389" y2="120.6" stroke="#fb9a3f" stroke-width="1.8" stroke-dasharray="7 6.85"/>
<line x1="49.9" y1="200.7" x2="389" y2="201.2" stroke="#fb9a3f" stroke-width="1.8" stroke-dasharray="7 6.85"/>
<line x1="81" y1="127.8" x2="81" y2="191.9" stroke="#fb9a3f" stroke-width="1.6"/>
<path d="M81 120.3L78.5 128.8L83.5 128.8Z" fill="#fb9a3f"/>
<path d="M81 199.4L78.5 190.9L83.5 190.9Z" fill="#fb9a3f"/>
<text x="88.2" y="159.9" class="eg" style="font-size:12.85px"><tspan fill="#1c1c1c">E</tspan><tspan class="egs" dy="2.6" fill="#1c1c1c" style="font-size:12.3px">g</tspan><tspan dy="-2.6" fill="#1c1c1c">= 6.47 </tspan><tspan fill="#1c1c1c">eV</tspan></text>
<line x1="109.6" y1="41" x2="109.6" y2="298.2" stroke="#333" stroke-width="1.6"/>
<line x1="183.5" y1="41" x2="183.5" y2="298.2" stroke="#333" stroke-width="1.6"/>
<line x1="212.2" y1="41" x2="212.2" y2="298.2" stroke="#333" stroke-width="1.6"/>
<line x1="269.8" y1="41" x2="269.8" y2="298.2" stroke="#333" stroke-width="1.6"/>
<line x1="312.4" y1="41" x2="312.4" y2="298.2" stroke="#333" stroke-width="1.6"/>
<line x1="328.6" y1="41" x2="328.6" y2="298.2" stroke="#333" stroke-width="1.6"/>
<rect x="50.9" y="41" width="338.3" height="257.2" fill="none" stroke="#111" stroke-width="2.4"/>
<line x1="48.2" y1="292.1" x2="50.9" y2="292.1" stroke="#111" stroke-width="1.6"/>
<line x1="45.4" y1="272.8" x2="50.9" y2="272.8" stroke="#111" stroke-width="1.6"/>
<text x="41.3" y="276.7" text-anchor="end" class="tl">-6</text>
<line x1="48.2" y1="253.5" x2="50.9" y2="253.5" stroke="#111" stroke-width="1.6"/>
<line x1="45.4" y1="234.1" x2="50.9" y2="234.1" stroke="#111" stroke-width="1.6"/>
<text x="41.3" y="238" text-anchor="end" class="tl">-3</text>
<line x1="48.2" y1="214.8" x2="50.9" y2="214.8" stroke="#111" stroke-width="1.6"/>
<line x1="45.4" y1="195.4" x2="50.9" y2="195.4" stroke="#111" stroke-width="1.6"/>
<text x="41.3" y="199.3" text-anchor="end" class="tl">0</text>
<line x1="48.2" y1="176.1" x2="50.9" y2="176.1" stroke="#111" stroke-width="1.6"/>
<line x1="45.4" y1="156.7" x2="50.9" y2="156.7" stroke="#111" stroke-width="1.6"/>
<text x="41.3" y="160.6" text-anchor="end" class="tl">3</text>
<line x1="48.2" y1="137.3" x2="50.9" y2="137.3" stroke="#111" stroke-width="1.6"/>
<line x1="45.4" y1="118" x2="50.9" y2="118" stroke="#111" stroke-width="1.6"/>
<text x="41.3" y="121.9" text-anchor="end" class="tl">6</text>
<line x1="48.2" y1="98.7" x2="50.9" y2="98.7" stroke="#111" stroke-width="1.6"/>
<line x1="45.4" y1="79.3" x2="50.9" y2="79.3" stroke="#111" stroke-width="1.6"/>
<text x="41.3" y="83.2" text-anchor="end" class="tl">9</text>
<line x1="48.2" y1="59.9" x2="50.9" y2="59.9" stroke="#111" stroke-width="1.6"/>
<line x1="45.4" y1="40.6" x2="50.9" y2="40.6" stroke="#111" stroke-width="1.6"/>
<text x="41.3" y="44.5" text-anchor="end" class="tl">12</text>
<text x="50.2" y="317" text-anchor="middle" class="gam">&#915;</text>
<text x="109.7" y="317" text-anchor="middle" class="xl">T</text>
<text x="180.7" y="317" text-anchor="middle" class="xl">H_0</text>
<text x="212.8" y="317" text-anchor="middle" class="xl">L</text>
<text x="271.2" y="317" text-anchor="middle" class="gam">&#915;</text>
<text x="308.3" y="317" text-anchor="middle" class="xl">S_0</text>
<text x="330.5" y="317" text-anchor="middle" class="xl">F</text>
<text x="389" y="317" text-anchor="middle" class="gam">&#915;</text>
<g id="bandsb" clip-path="url(#clipb)" fill="none" stroke="#03d08e" stroke-width="1.8" stroke-linejoin="round" stroke-linecap="round">
<path d="M443.6 160C445.5 159.9 451.4 159.9 455 159.5C458.6 159.1 461.7 158.3 465 157.5C468.3 156.7 471.2 155.7 475 154.5C478.8 153.3 483.8 151.7 488 150.5C492.2 149.3 495.4 148.3 500 147.5C504.6 146.7 509.9 146.2 515.7 145.8C521.5 145.4 528 145.1 535 145C542 144.9 550.9 144.7 557.6 145C564.3 145.3 569.6 146.2 575 147C580.4 147.8 585 148.9 590 150C595 151.1 600 152.4 605 153.5C610 154.6 615.8 155.8 620 156.6C624.2 157.4 626.5 158.1 630 158.6C633.5 159.1 635.1 159.8 640.7 159.8C646.3 159.9 657.2 159.4 663.7 158.9C670.2 158.4 673.5 158.1 680 156.6C686.5 155.1 693.4 151.6 702.7 149.8C712 148 723.4 146.7 735.8 145.9C748.1 145.1 770 145 776.8 144.8"/>
<path d="M443.6 123.6C447.3 123 458.6 122.4 466 120C473.4 117.6 481 112.2 488 109C495 105.8 503.4 102.6 508 101C512.6 99.4 514.4 99.8 515.7 99.6"/>
<path d="M443.6 115.6C448 115 462.3 113.9 470 112C477.7 110.1 482.4 106.5 490 104C497.6 101.5 511.4 98.4 515.7 97.3"/>
<path d="M443.6 105.3C448 104.9 462.3 104 470 103C477.7 102 482.4 100.3 490 99C497.6 97.7 511.4 95.7 515.7 95"/>
<path d="M443.6 97.8C448 97.7 458 97.8 470 97C482 96.2 508.1 93.7 515.7 93"/>
<path d="M443.6 93.9C448 93.8 458 94.1 470 93.5C482 92.9 508.1 91 515.7 90.5"/>
<path d="M443.6 83.6C448 83.7 462.3 83.6 470 84C477.7 84.4 482.4 85.5 490 86C497.6 86.5 511.4 86.8 515.7 87"/>
<path d="M443.6 78C448 78.3 458 79 470 80C482 81 508.1 83.3 515.7 84"/>
<path d="M443.6 72C448 72.3 458 72.7 470 74C482 75.3 508.1 79 515.7 80"/>
<path d="M443.6 68C448 68.3 462.3 68.7 470 70C477.7 71.3 482.4 74.7 490 76C497.6 77.3 511.4 77.7 515.7 78"/>
<path d="M443.6 62C448 62.7 462.3 64.3 470 66C477.7 67.7 482.4 70.5 490 72C497.6 73.5 511.4 74.5 515.7 75"/>
<path d="M443.6 58C448 59 462.3 62 470 64C477.7 66 482.4 68.7 490 70C497.6 71.3 511.4 71.7 515.7 72"/>
<path d="M443.6 55C445.5 54.7 450.6 52.5 455 53C459.4 53.5 464.2 56.2 470 58C475.8 59.8 482.4 62.3 490 64C497.6 65.7 511.4 67.3 515.7 68"/>
<path d="M443.6 53C446 52.8 452.8 51 458 51.5C463.2 52 468 54.6 475 56C482 57.4 493.2 59 500 60C506.8 61 513.1 61.7 515.7 62"/>
<path d="M443.6 60C447.2 60 457.3 59.7 465 60C472.7 60.3 481.6 62 490 62C498.4 62 511.4 60.3 515.7 60"/>
<path d="M443.6 65C448 64.5 461.4 63.2 470 62C478.6 60.8 487.4 58.2 495 58C502.6 57.8 512.2 60.1 515.7 60.5"/>
<path d="M515.7 99.6C519.1 99.6 529 99.6 536 99.5C543 99.4 554 99.1 557.6 99"/>
<path d="M515.7 97.3C519.1 97.2 529 97 536 97C543 97 554 97 557.6 97"/>
<path d="M515.7 95C519.1 95 529 95 536 95C543 95 554 95 557.6 95"/>
<path d="M515.7 93C519.1 92.9 529 92.5 536 92.5C543 92.5 554 92.9 557.6 93"/>
<path d="M515.7 90.5C519.1 90.4 529 90 536 90C543 90 554 90.4 557.6 90.5"/>
<path d="M515.7 87C519.1 87.1 529 87.5 536 87.5C543 87.5 554 87.1 557.6 87"/>
<path d="M515.7 84C519.1 83.9 529 83.5 536 83.5C543 83.5 554 83.9 557.6 84"/>
<path d="M515.7 80C519.1 80.2 529 80.8 536 81C543 81.2 554 81 557.6 81"/>
<path d="M515.7 78C519.1 77.8 529 77 536 77C543 77 554 77.8 557.6 78"/>
<path d="M515.7 75C519.1 74.9 529 74.5 536 74.5C543 74.5 554 74.9 557.6 75"/>
<path d="M515.7 72C519.1 71.8 529 71 536 71C543 71 554 71.8 557.6 72"/>
<path d="M515.7 68C519.1 67.8 529 66.7 536 66.5C543 66.3 554 66.9 557.6 67"/>
<path d="M515.7 62C519.1 62.2 529 62.7 536 63C543 63.3 554 63.8 557.6 64"/>
<path d="M515.7 60.5C519.1 60.8 529 61.8 536 62C543 62.2 554 62 557.6 62"/>
<path d="M515.7 60C517.2 60 521.6 59.8 525 60C528.4 60.2 530.6 61.1 536 61C541.4 60.9 554 59.8 557.6 59.5"/>
<path d="M557.6 99C562.2 99.7 576.3 100.7 585 103C593.7 105.3 602.5 110 610 113C617.5 116 624.9 119.1 630 121C635.1 122.9 638.9 123.7 640.7 124.2"/>
<path d="M557.6 97C562.2 97.5 576.3 98.3 585 100C593.7 101.7 600.7 104.5 610 107C619.3 109.5 635.6 113.8 640.7 115.1"/>
<path d="M557.6 95C563 95.5 576.1 96.3 590 98C603.9 99.7 632.2 104.1 640.7 105.3"/>
<path d="M557.6 93C564.7 93.3 586.1 94.3 600 95C613.9 95.7 633.9 96.9 640.7 97.3"/>
<path d="M557.6 90.5C564.7 90.8 586.1 91.6 600 92C613.9 92.4 633.9 92.7 640.7 92.8"/>
<path d="M557.6 87C564.7 86.8 586.1 86.4 600 86C613.9 85.6 633.9 85 640.7 84.8"/>
<path d="M557.6 84C564.7 83.3 586.1 80.8 600 80C613.9 79.2 633.9 79.2 640.7 79"/>
<path d="M557.6 81C564.7 80 586.1 76.5 600 75C613.9 73.5 633.9 72.5 640.7 72"/>
<path d="M557.6 78C564.7 76.7 586.1 71.8 600 70C613.9 68.2 633.9 67.5 640.7 67"/>
<path d="M557.6 75C564.7 73.5 586.1 68 600 66C613.9 64 633.9 63.5 640.7 63"/>
<path d="M557.6 72C564.7 70.3 586.1 64.2 600 62C613.9 59.8 633.9 59.5 640.7 59"/>
<path d="M557.6 67C564.7 65.5 586.1 59.8 600 58C613.9 56.2 633.9 56.3 640.7 56"/>
<path d="M557.6 64C563 63 579.6 59.5 590 58C600.4 56.5 611.5 55.8 620 55C628.5 54.2 637.2 53.3 640.7 53"/>
<path d="M557.6 62C563 61.7 579.6 60.7 590 60C600.4 59.3 611.5 58.5 620 58C628.5 57.5 637.2 57.2 640.7 57"/>
<path d="M557.6 59.5C561.3 59.9 571.3 61.2 580 62C588.7 62.8 599.9 64.2 610 64C620.1 63.8 635.6 61.5 640.7 61"/>
<path d="M640.7 124.2C642.6 124.2 648.2 124.3 652 124.5C655.8 124.7 661.8 125.1 663.7 125.2"/>
<path d="M640.7 115.1C642.6 115.2 648.2 115.5 652 116C655.8 116.5 661.8 117.7 663.7 118"/>
<path d="M640.7 105.3L663.7 105.3"/>
<path d="M640.7 97.3L663.7 97.3"/>
<path d="M640.7 92.8L663.7 92.8"/>
<path d="M640.7 84.8L663.7 84.8"/>
<path d="M640.7 79L663.7 79"/>
<path d="M640.7 72L663.7 71"/>
<path d="M640.7 67L663.7 66"/>
<path d="M640.7 63L663.7 62"/>
<path d="M640.7 59L663.7 58"/>
<path d="M640.7 56L663.7 55"/>
<path d="M640.7 53C641.4 52.8 643.1 52.1 645 52C646.9 51.9 649.8 52.5 652 52.5C654.2 52.5 656 52 658 52C660 52 662.8 52.4 663.7 52.5"/>
<path d="M640.7 57L663.7 57"/>
<path d="M640.7 61L663.7 61"/>
<path d="M663.7 125.2C666.4 124.7 675.4 123.6 680 122C684.6 120.4 685.6 118.9 691.3 115.6C697 112.2 706.6 104.9 714 101.9C721.4 98.9 732.2 98.5 735.8 97.8"/>
<path d="M663.7 118C668.2 117.1 682.6 114.8 691 112.5C699.4 110.2 706.5 106.6 714 104C721.5 101.4 732.2 98.2 735.8 97"/>
<path d="M663.7 105.3C669.8 104.4 688 101.5 700 100C712 98.5 729.8 96.7 735.8 96"/>
<path d="M663.7 97.3L735.8 95"/>
<path d="M663.7 92.8C669.8 92.5 688 91 700 91C712 91 729.8 92.7 735.8 93"/>
<path d="M663.7 84.8C669.8 85 688 85 700 86C712 87 729.8 90.2 735.8 91"/>
<path d="M663.7 79C669.8 79.5 688 80.5 700 82C712 83.5 729.8 87 735.8 88"/>
<path d="M663.7 71C669.8 72.2 688 75.7 700 78C712 80.3 729.8 83.8 735.8 85"/>
<path d="M663.7 66C669.8 67 688 69.3 700 72C712 74.7 729.8 80.3 735.8 82"/>
<path d="M663.7 62C669.8 62.7 688 63.3 700 66C712 68.7 729.8 76 735.8 78"/>
<path d="M663.7 58C669.8 58.7 688 59.7 700 62C712 64.3 729.8 70.3 735.8 72"/>
<path d="M663.7 55C669.8 55.5 688 56.2 700 58C712 59.8 729.8 64.7 735.8 66"/>
<path d="M663.7 52.5C666.4 52.8 674 52.9 680 54C686 55.1 694.2 58 700 59C705.8 60 710.8 60.3 715 60C719.2 59.7 721.5 57.7 725 57C728.5 56.3 734 56.2 735.8 56"/>
<path d="M663.7 57C668.1 57.5 682.3 58.2 690 60C697.7 61.8 702.4 67.7 710 68C717.6 68.3 731.5 63 735.8 62"/>
<path d="M663.7 61C668.1 61.5 682.3 63.8 690 64C697.7 64.2 702.4 62.7 710 62C717.6 61.3 731.5 60.3 735.8 60"/>
<path d="M735.8 97.8C739.2 97.8 749.2 98 756 98C762.8 98 773.3 98 776.8 98"/>
<path d="M735.8 97C739.2 96.9 749.2 96.7 756 96.5C762.8 96.3 773.3 96.1 776.8 96"/>
<path d="M735.8 96C739.2 95.7 749.2 94.3 756 94C762.8 93.7 773.3 94 776.8 94"/>
<path d="M735.8 95C739.2 94.6 749.2 93 756 92.5C762.8 92 773.3 92.1 776.8 92"/>
<path d="M735.8 93C739.2 92.7 749.2 91.5 756 91C762.8 90.5 773.3 90.2 776.8 90"/>
<path d="M735.8 91C739.2 90.6 749.2 89 756 88.5C762.8 88 773.3 88.1 776.8 88"/>
<path d="M735.8 88C739.2 87.7 749.2 86.3 756 86C762.8 85.7 773.3 86 776.8 86"/>
<path d="M735.8 85C739.2 84.8 749.2 84.2 756 84C762.8 83.8 773.3 84 776.8 84"/>
<path d="M735.8 82C739.2 81.8 749.2 81 756 81C762.8 81 773.3 81.8 776.8 82"/>
<path d="M735.8 78C739.2 78.2 749.2 78.7 756 79C762.8 79.3 773.3 79.8 776.8 80"/>
<path d="M735.8 72C739.2 72.5 749.2 74 756 75C762.8 76 773.3 77.5 776.8 78"/>
<path d="M735.8 66C739.2 66.7 749.2 68.7 756 70C762.8 71.3 773.3 73.3 776.8 74"/>
<path d="M735.8 62C739.2 62.7 749.2 64.7 756 66C762.8 67.3 773.3 69.3 776.8 70"/>
<path d="M735.8 60C739.2 60.5 749.2 62 756 63C762.8 64 773.3 65.5 776.8 66"/>
<path d="M735.8 56C737.3 56.3 741.6 57.2 745 58C748.4 58.8 750.7 60 756 61C761.3 62 773.3 63.5 776.8 64"/>
<path d="M444 55.3L448.2 55.5 452.4 55.9 456.6 56.5 460.8 57.4 465.1 58.3 469.3 59.2 473.5 60.1 477.7 60.8 481.9 61.3 486.1 61.7 490.3 61.9 494.5 62 498.8 61.9 503 61.8 507.2 61.7 511.4 61.7 515.6 61.6 519.8 61.9 524 62.5 528.1 63.3 532.3 64.1 536.5 64.5 540.7 64.7 544.9 64.5 549 64.2 553.2 63.9 557.4 63.7 561.6 63.7 565.7 63.6 569.9 63.4 574 63.2 578.2 62.9 582.4 62.6 586.5 62.3 590.7 62 594.8 61.7 599 61.4 603.2 61.2 607.3 61 611.5 60.8 615.6 60.7 619.8 60.6 624 60.6 628.1 60.5 632.3 60.5 636.4 60.5 640.6 60.5 645.2 60.3 649.8 60 654.4 59.9 659 59.9 663.6 60 667.8 59.9 672.1 59.6 676.3 59.3 680.5 58.8 684.7 58.3 689 57.8 693.2 57.3 697.4 56.9 701.7 56.7 705.9 56.6 710.1 56.5 714.4 56.6 718.6 56.7 722.8 56.9 727 57 731.3 57.1 735.5 57.2 739.6 57.3 743.7 57.6 747.8 58 751.9 58.6 756 59.3 760.2 60 764.3 60.7 768.4 61.3 772.5 61.8 776.6 61.9"/>
<path d="M444 61.2L448.2 61.2 452.4 61.2 456.6 61.3 460.8 61.4 465.1 61.6 469.3 61.9 473.5 62.2 477.7 62.7 481.9 63.3 486.1 64 490.3 64.7 494.5 65.4 498.8 66.1 503 66.8 507.2 67.3 511.4 67.6 515.6 67.7 519.8 67.8 524 68.1 528.1 68.6 532.3 69.2 536.5 69.8 540.7 70.4 544.9 71 549 71.5 553.2 71.8 557.4 71.9 561.6 71.8 565.7 71.6 569.9 71.4 574 71 578.2 70.5 582.4 70 586.5 69.3 590.7 68.6 594.8 67.9 599 67.1 603.2 66.2 607.3 65.3 611.5 64.5 615.6 63.6 619.8 62.9 624 62.2 628.1 61.6 632.3 61.1 636.4 60.8 640.6 60.7 645.2 60.8 649.8 61 654.4 60.9 659 60.7 663.6 60.5 667.8 60.5 672.1 60.3 676.3 60.1 680.5 59.8 684.7 59.6 689 59.4 693.2 59.3 697.4 59.4 701.7 59.6 705.9 60 710.1 60.4 714.4 61 718.6 61.6 722.8 62.2 727 62.6 731.3 62.9 735.5 63 739.6 63.6 743.7 65.2 747.8 67.4 751.9 70 756 72.6 760.2 74.9 764.3 76.9 768.4 78.3 772.5 79.3 776.6 79.6"/>
<path d="M444 57.5L448.2 57.5 452.4 57.6 456.6 57.8 460.8 58.1 465.1 58.5 469.3 58.9 473.5 59.3 477.7 59.9 481.9 60.4 486.1 61.1 490.3 61.7 494.5 62.3 498.8 62.8 503 63.3 507.2 63.7 511.4 63.9 515.6 64 519.8 64.2 524 64.5 528.1 65 532.3 65.7 536.5 66.4 540.7 67.1 544.9 67.8 549 68.4 553.2 68.8 557.4 69 561.6 68.8 565.7 68.5 569.9 67.8 574 67 578.2 66.1 582.4 65 586.5 63.9 590.7 62.7 594.8 61.6 599 60.4 603.2 59.3 607.3 58.3 611.5 57.4 615.6 56.6 619.8 55.9 624 55.3 628.1 54.9 632.3 54.5 636.4 54.3 640.6 54.2 645.2 53.9 649.8 53.4 654.4 53.6 659 54.6 663.6 55.1 667.8 55.2 672.1 55.6 676.3 56 680.5 56.7 684.7 57.4 689 58.2 693.2 59 697.4 59.9 701.7 60.7 705.9 61.4 710.1 62.1 714.4 62.8 718.6 63.3 722.8 63.7 727 64 731.3 64.2 735.5 64.3 739.6 64.6 743.7 65.6 747.8 67 751.9 69 756 71.6 760.2 74.6 764.3 77.6 768.4 80.3 772.5 82.3 776.6 83"/>
<path d="M444 52L448.2 52.2 452.4 53.1 456.6 54.3 460.8 55.9 465.1 57.8 469.3 59.8 473.5 61.8 477.7 63.8 481.9 65.6 486.1 67.3 490.3 68.7 494.5 70 498.8 71 503 71.8 507.2 72.4 511.4 72.8 515.6 72.9 519.8 73 524 73.1 528.1 73.3 532.3 73.6 536.5 73.8 540.7 74.1 544.9 74.3 549 74.4 553.2 74.6 557.4 74.6 561.6 74.5 565.7 74.4 569.9 74.1 574 73.7 578.2 73.1 582.4 72.4 586.5 71.6 590.7 70.5 594.8 69.2 599 67.7 603.2 66 607.3 64.2 611.5 62.3 615.6 60.4 619.8 58.5 624 56.8 628.1 55.4 632.3 54.3 636.4 53.6 640.6 53.3 645.2 53.6 649.8 54 654.4 54.2 659 54.2 663.6 54.1 667.8 54.3 672.1 54.9 676.3 55.8 680.5 57 684.7 58.3 689 59.7 693.2 61.2 697.4 62.6 701.7 64 705.9 65.2 710.1 66.3 714.4 67.3 718.6 68.1 722.8 68.7 727 69.2 731.3 69.5 735.5 69.6 739.6 70.3 743.7 72.2 747.8 74.9 751.9 78 756 81.1 760.2 83.8 764.3 86.1 768.4 87.8 772.5 88.9 776.6 89.3"/>
<path d="M444 59.4L448.2 59.7 452.4 60.3 456.6 61.3 460.8 62.6 465.1 64.2 469.3 66 473.5 67.9 477.7 69.9 481.9 72 486.1 74 490.3 75.9 494.5 77.7 498.8 79.3 503 80.7 507.2 81.7 511.4 82.4 515.6 82.6 519.8 82.8 524 83.4 528.1 84.1 532.3 84.7 536.5 85.1 540.7 85.1 544.9 84.8 549 84.4 553.2 84 557.4 83.9 561.6 83.7 565.7 83.4 569.9 82.9 574 82.2 578.2 81.3 582.4 80.4 586.5 79.4 590.7 78.3 594.8 77.1 599 76 603.2 74.8 607.3 73.7 611.5 72.7 615.6 71.7 619.8 70.9 624 70.1 628.1 69.5 632.3 69 636.4 68.7 640.6 68.6 645.2 68.6 649.8 68.5 654.4 68.3 659 68 663.6 67.9 667.8 68 672.1 68.4 676.3 69.1 680.5 69.9 684.7 70.9 689 72.2 693.2 73.5 697.4 75.1 701.7 76.7 705.9 78.5 710.1 80.2 714.4 81.8 718.6 83.4 722.8 84.7 727 85.7 731.3 86.4 735.5 86.6 739.6 86.8 743.7 87.4 747.8 88.2 751.9 89.1 756 90 760.2 90.7 764.3 91.3 768.4 91.7 772.5 92 776.6 92.1"/>
<path d="M444 64.6L448.2 64.9 452.4 65.7 456.6 66.9 460.8 68.5 465.1 70.3 469.3 72.3 473.5 74.4 477.7 76.5 481.9 78.6 486.1 80.5 490.3 82.2 494.5 83.8 498.8 85.1 503 86.2 507.2 87 511.4 87.5 515.6 87.7 519.8 87.4 524 86.7 528.1 85.7 532.3 84.6 536.5 83.4 540.7 82.4 544.9 81.5 549 80.9 553.2 80.5 557.4 80.3 561.6 80.1 565.7 79.6 569.9 78.7 574 77.5 578.2 76.2 582.4 74.7 586.5 73.1 590.7 71.6 594.8 70.1 599 68.7 603.2 67.5 607.3 66.5 611.5 65.6 615.6 64.9 619.8 64.3 624 63.9 628.1 63.6 632.3 63.3 636.4 63.2 640.6 63.1 645.2 63.1 649.8 62.8 654.4 62.6 659 62.4 663.6 62.3 667.8 62.5 672.1 63.1 676.3 64 680.5 65.1 684.7 66.4 689 67.8 693.2 69.4 697.4 70.9 701.7 72.3 705.9 73.7 710.1 75 714.4 76.2 718.6 77.2 722.8 78 727 78.6 731.3 79 735.5 79.1 739.6 78.9 743.7 78.5 747.8 77.8 751.9 77 756 76.1 760.2 75.3 764.3 74.5 768.4 73.9 772.5 73.6 776.6 73.4"/>
<path d="M444 66.9L448.2 67.1 452.4 67.5 456.6 68.1 460.8 68.9 465.1 69.9 469.3 71.1 473.5 72.6 477.7 74.2 481.9 75.9 486.1 77.8 490.3 79.7 494.5 81.6 498.8 83.4 503 84.9 507.2 86 511.4 86.8 515.6 87.1 519.8 87.1 524 87 528.1 87 532.3 87.1 536.5 87.4 540.7 87.8 544.9 88.3 549 88.8 553.2 89.2 557.4 89.4 561.6 89.1 565.7 88.4 569.9 87.3 574 85.9 578.2 84.1 582.4 82.1 586.5 80 590.7 77.7 594.8 75.3 599 72.9 603.2 70.5 607.3 68.3 611.5 66.1 615.6 64.1 619.8 62.3 624 60.7 628.1 59.4 632.3 58.5 636.4 57.9 640.6 57.6 645.2 57 649.8 55.8 654.4 55.6 659 56.3 663.6 56.8 667.8 57 672.1 57.7 676.3 58.6 680.5 59.9 684.7 61.4 689 63.2 693.2 65.2 697.4 67.4 701.7 69.7 705.9 72 710.1 74.3 714.4 76.5 718.6 78.4 722.8 80.1 727 81.4 731.3 82.3 735.5 82.6 739.6 82.3 743.7 81.6 747.8 80.5 751.9 79 756 77 760.2 74.6 764.3 72.2 768.4 70.1 772.5 68.5 776.6 68"/>
<path d="M444 68.6L448.2 68.6 452.4 68.7 456.6 68.8 460.8 68.9 465.1 69.2 469.3 69.6 473.5 70.1 477.7 70.9 481.9 71.8 486.1 72.9 490.3 74.1 494.5 75.3 498.8 76.5 503 77.6 507.2 78.4 511.4 79 515.6 79.2 519.8 79.1 524 78.9 528.1 78.7 532.3 78.4 536.5 78.2 540.7 78 544.9 77.9 549 77.8 553.2 77.8 557.4 77.7 561.6 77.8 565.7 77.9 569.9 78.2 574 78.4 578.2 78.7 582.4 78.9 586.5 79 590.7 79 594.8 78.8 599 78.4 603.2 77.8 607.3 77 611.5 76.1 615.6 75.1 619.8 74.1 624 73.1 628.1 72.2 632.3 71.6 636.4 71.2 640.6 71 645.2 71.1 649.8 71.1 654.4 70.8 659 70.3 663.6 70.1 667.8 70.3 672.1 71.2 676.3 72.4 680.5 74 684.7 75.9 689 77.9 693.2 80 697.4 82 701.7 84 705.9 85.7 710.1 87.3 714.4 88.7 718.6 89.9 722.8 90.8 727 91.5 731.3 92 735.5 92.1 739.6 91.3 743.7 89.2 747.8 86 751.9 82.2 756 78 760.2 73.9 764.3 70.2 768.4 67.1 772.5 65 776.6 64.3"/>
<path d="M444 70.9L448.2 70.8 452.4 70.7 456.6 70.5 460.8 70.3 465.1 70.1 469.3 69.9 473.5 70 477.7 70.2 481.9 70.5 486.1 71.1 490.3 71.8 494.5 72.5 498.8 73.3 503 74 507.2 74.6 511.4 75 515.6 75.1 519.8 75.7 524 77.4 528.1 79.6 532.3 81.8 536.5 83.6 540.7 84.8 544.9 85.3 549 85.4 553.2 85.3 557.4 85.3 561.6 85.2 565.7 84.8 569.9 84.3 574 83.6 578.2 82.7 582.4 81.7 586.5 80.6 590.7 79.3 594.8 78 599 76.6 603.2 75.2 607.3 73.8 611.5 72.4 615.6 71 619.8 69.8 624 68.7 628.1 67.8 632.3 67.1 636.4 66.7 640.6 66.5 645.2 66.6 649.8 66.6 654.4 66.6 659 66.5 663.6 66.4 667.8 66.6 672.1 67.1 676.3 68 680.5 69 684.7 70.2 689 71.3 693.2 72.4 697.4 73.3 701.7 74 705.9 74.4 710.1 74.6 714.4 74.7 718.6 74.6 722.8 74.5 727 74.3 731.3 74.2 735.5 74.2 739.6 74.8 743.7 76.7 747.8 79.3 751.9 82.4 756 85.7 760.2 88.7 764.3 91.3 768.4 93.4 772.5 94.7 776.6 95.2"/>
<path d="M444 208.5L448.2 208.6 452.4 208.7 456.6 208.8 460.8 209 465.1 209.2 469.3 209.4 473.5 209.5 477.7 209.6 481.9 209.6 486.1 209.5 490.3 209.4 494.5 209.2 498.8 209 503 208.8 507.2 208.7 511.4 208.6 515.6 208.5 519.8 208.5 524 208.5 528.1 208.5 532.3 208.5 536.5 208.5 540.7 208.5 544.9 208.5 549 208.5 553.2 208.5 557.4 208.5 561.6 208.5 565.7 208.5 569.9 208.5 574 208.5 578.2 208.5 582.4 208.5 586.5 208.5 590.7 208.5 594.8 208.5 599 208.5 603.2 208.5 607.3 208.5 611.5 208.5 615.6 208.5 619.8 208.5 624 208.5 628.1 208.5 632.3 208.5 636.4 208.5 640.6 208.5 645.2 208.7 649.8 209.1 654.4 209.1 659 208.7 663.6 208.5 667.8 208.6 672.1 208.7 676.3 209 680.5 209.2 684.7 209.5 689 209.8 693.2 209.9 697.4 210 701.7 210 705.9 209.9 710.1 209.8 714.4 209.5 718.6 209.2 722.8 209 727 208.7 731.3 208.6 735.5 208.5 739.6 208.6 743.7 208.6 747.8 208.6 751.9 208.6 756 208.6 760.2 208.6 764.3 208.6 768.4 208.6 772.5 208.6 776.6 208.5"/>
<path d="M444 212L448.2 212 452.4 212 456.6 212.1 460.8 212.2 465.1 212.2 469.3 212.3 473.5 212.3 477.7 212.4 481.9 212.4 486.1 212.3 490.3 212.3 494.5 212.3 498.8 212.2 503 212.1 507.2 212.1 511.4 212.1 515.6 212.1 519.8 212 524 211.7 528.1 211.4 532.3 211.1 536.5 210.9 540.7 210.8 544.9 210.8 549 210.9 553.2 211 557.4 211 561.6 211 565.7 210.9 569.9 210.7 574 210.5 578.2 210.3 582.4 210.1 586.5 209.8 590.7 209.6 594.8 209.5 599 209.3 603.2 209.2 607.3 209.2 611.5 209.2 615.6 209.2 619.8 209.3 624 209.3 628.1 209.4 632.3 209.5 636.4 209.5 640.6 209.5 645.2 209.6 649.8 209.9 654.4 210.5 659 211.1 663.6 211.3 667.8 211.5 672.1 211.9 676.3 212.4 680.5 213.1 684.7 213.9 689 214.5 693.2 214.9 697.4 215.2 701.7 215.1 705.9 214.7 710.1 214.2 714.4 213.4 718.6 212.6 722.8 211.8 727 211.1 731.3 210.7 735.5 210.6 739.6 210.5 743.7 210.4 747.8 210.3 751.9 210.1 756 209.9 760.2 209.7 764.3 209.5 768.4 209.4 772.5 209.3 776.6 209.2"/>
<path d="M444 210.6L448.2 210.6 452.4 210.6 456.6 210.6 460.8 210.6 465.1 210.7 469.3 210.8 473.5 210.9 477.7 211.2 481.9 211.6 486.1 212 490.3 212.5 494.5 213 498.8 213.6 503 214 507.2 214.4 511.4 214.6 515.6 214.7 519.8 214.8 524 215.2 528.1 215.6 532.3 215.8 536.5 215.8 540.7 215.5 544.9 214.9 549 214.2 553.2 213.7 557.4 213.5 561.6 213.4 565.7 213.3 569.9 213 574 212.7 578.2 212.4 582.4 212 586.5 211.7 590.7 211.3 594.8 211 599 210.8 603.2 210.6 607.3 210.5 611.5 210.5 615.6 210.5 619.8 210.6 624 210.7 628.1 210.7 632.3 210.8 636.4 210.8 640.6 210.8 645.2 211.4 649.8 212.3 654.4 212.4 659 211.8 663.6 211.4 667.8 211.3 672.1 211.2 676.3 211 680.5 210.8 684.7 210.5 689 210.2 693.2 210 697.4 209.8 701.7 209.7 705.9 209.7 710.1 209.7 714.4 209.7 718.6 209.8 722.8 209.9 727 210 731.3 210 735.5 210.1 739.6 210 743.7 209.9 747.8 209.7 751.9 209.5 756 209.3 760.2 209.3 764.3 209.3 768.4 209.3 772.5 209.3 776.6 209.3"/>
<path d="M444 211.7L448.2 211.7 452.4 211.6 456.6 211.4 460.8 211.2 465.1 211 469.3 210.8 473.5 210.7 477.7 210.6 481.9 210.5 486.1 210.6 490.3 210.6 494.5 210.8 498.8 210.9 503 211 507.2 211.2 511.4 211.2 515.6 211.3 519.8 211.4 524 211.6 528.1 211.8 532.3 212 536.5 212 540.7 211.9 544.9 211.6 549 211.3 553.2 211.1 557.4 211 561.6 211 565.7 211.1 569.9 211.2 574 211.3 578.2 211.4 582.4 211.5 586.5 211.5 590.7 211.6 594.8 211.6 599 211.5 603.2 211.4 607.3 211.2 611.5 211 615.6 210.7 619.8 210.4 624 210.2 628.1 210 632.3 209.8 636.4 209.7 640.6 209.6 645.2 209.5 649.8 209.4 654.4 209.7 659 210.4 663.6 210.8 667.8 210.8 672.1 210.7 676.3 210.7 680.5 210.6 684.7 210.6 689 210.6 693.2 210.6 697.4 210.8 701.7 210.9 705.9 211.2 710.1 211.5 714.4 211.8 718.6 212.1 722.8 212.4 727 212.7 731.3 212.8 735.5 212.9 739.6 212.9 743.7 213.2 747.8 213.4 751.9 213.6 756 213.5 760.2 213.2 764.3 212.8 768.4 212.2 772.5 211.8 776.6 211.7"/>
<path d="M444 216.7L448.2 216.6 452.4 216.4 456.6 216.1 460.8 215.7 465.1 215.3 469.3 214.9 473.5 214.6 477.7 214.4 481.9 214.3 486.1 214.4 490.3 214.6 494.5 214.9 498.8 215.2 503 215.5 507.2 215.8 511.4 215.9 515.6 216 519.8 216 524 215.9 528.1 215.9 532.3 215.9 536.5 215.9 540.7 215.9 544.9 216 549 216 553.2 216.1 557.4 216.1 561.6 216.1 565.7 216 569.9 215.9 574 215.8 578.2 215.7 582.4 215.6 586.5 215.5 590.7 215.3 594.8 215.2 599 215.1 603.2 214.9 607.3 214.8 611.5 214.7 615.6 214.6 619.8 214.6 624 214.5 628.1 214.4 632.3 214.4 636.4 214.4 640.6 214.4 645.2 214.4 649.8 214.3 654.4 213.8 659 213.2 663.6 212.9 667.8 212.9 672.1 212.9 676.3 212.9 680.5 212.9 684.7 212.9 689 212.9 693.2 212.8 697.4 212.7 701.7 212.6 705.9 212.5 710.1 212.3 714.4 212.2 718.6 212 722.8 211.8 727 211.7 731.3 211.6 735.5 211.6 739.6 211.7 743.7 211.9 747.8 212.1 751.9 212.2 756 212.3 760.2 212.2 764.3 211.9 768.4 211.6 772.5 211.4 776.6 211.3"/>
<path d="M444 209.9L448.2 210.1 452.4 210.5 456.6 211.1 460.8 211.8 465.1 212.6 469.3 213.4 473.5 214.1 477.7 214.6 481.9 215 486.1 215.1 490.3 215.1 494.5 214.9 498.8 214.7 503 214.4 507.2 214.2 511.4 214 515.6 213.9 519.8 214 524 214.1 528.1 214.3 532.3 214.2 536.5 214 540.7 213.5 544.9 212.8 549 212.1 553.2 211.5 557.4 211.3 561.6 211.4 565.7 211.4 569.9 211.6 574 211.7 578.2 211.9 582.4 212 586.5 212.1 590.7 212.2 594.8 212.2 599 212.2 603.2 212 607.3 211.8 611.5 211.6 615.6 211.3 619.8 211 624 210.7 628.1 210.4 632.3 210.2 636.4 210.1 640.6 210 645.2 209.7 649.8 209.1 654.4 209.4 659 210.4 663.6 211 667.8 211.1 672.1 211.5 676.3 212.2 680.5 213 684.7 213.8 689 214.4 693.2 214.9 697.4 215 701.7 214.8 705.9 214.3 710.1 213.4 714.4 212.4 718.6 211.2 722.8 210.2 727 209.3 731.3 208.7 735.5 208.5 739.6 208.6 743.7 208.8 747.8 209 751.9 209.2 756 209.2 760.2 209.2 764.3 209 768.4 208.8 772.5 208.6 776.6 208.5"/>
<path d="M444 208.7L448.2 208.7 452.4 209 456.6 209.4 460.8 209.9 465.1 210.4 469.3 210.9 473.5 211.3 477.7 211.7 481.9 211.9 486.1 212.1 490.3 212.1 494.5 212 498.8 211.9 503 211.7 507.2 211.6 511.4 211.5 515.6 211.4 519.8 211.5 524 211.6 528.1 211.8 532.3 211.9 536.5 212.1 540.7 212.2 544.9 212.2 549 212.2 553.2 212.2 557.4 212.2 561.6 212.3 565.7 212.3 569.9 212.4 574 212.4 578.2 212.5 582.4 212.6 586.5 212.6 590.7 212.6 594.8 212.6 599 212.5 603.2 212.3 607.3 212.2 611.5 212 615.6 211.8 619.8 211.5 624 211.3 628.1 211.1 632.3 211 636.4 210.9 640.6 210.8 645.2 211.2 649.8 211.8 654.4 212.1 659 212 663.6 211.9 667.8 212 672.1 212.2 676.3 212.5 680.5 213 684.7 213.4 689 213.7 693.2 213.9 697.4 214 701.7 213.8 705.9 213.5 710.1 213.1 714.4 212.5 718.6 211.9 722.8 211.3 727 210.9 731.3 210.6 735.5 210.4 739.6 210.5 743.7 210.7 747.8 210.9 751.9 211 756 211 760.2 210.9 764.3 210.7 768.4 210.4 772.5 210.2 776.6 210.1"/>
<path d="M444 211.1L448.2 211.1 452.4 210.9 456.6 210.7 460.8 210.4 465.1 210.2 469.3 210 473.5 209.9 477.7 209.9 481.9 210.1 486.1 210.4 490.3 210.9 494.5 211.5 498.8 212 503 212.6 507.2 213 511.4 213.3 515.6 213.4 519.8 213.4 524 213.4 528.1 213.4 532.3 213.4 536.5 213.3 540.7 213.1 544.9 212.9 549 212.7 553.2 212.5 557.4 212.5 561.6 212.6 565.7 213 569.9 213.5 574 214.2 578.2 215 582.4 215.7 586.5 216.4 590.7 216.9 594.8 217.1 599 217.2 603.2 216.9 607.3 216.4 611.5 215.7 615.6 214.8 619.8 213.8 624 212.9 628.1 212.1 632.3 211.4 636.4 211 640.6 210.8 645.2 211.1 649.8 211.5 654.4 211.7 659 211.5 663.6 211.4 667.8 211.4 672.1 211.6 676.3 211.9 680.5 212.2 684.7 212.4 689 212.6 693.2 212.7 697.4 212.7 701.7 212.4 705.9 212 710.1 211.4 714.4 210.8 718.6 210.1 722.8 209.5 727 209 731.3 208.7 735.5 208.5 739.6 208.6 743.7 208.7 747.8 208.8 751.9 208.8 756 208.9 760.2 208.8 764.3 208.8 768.4 208.7 772.5 208.6 776.6 208.5"/>
<path d="M444 215.2L448.2 215.3 452.4 215.4 456.6 215.5 460.8 215.6 465.1 215.8 469.3 216 473.5 216.2 477.7 216.3 481.9 216.4 486.1 216.4 490.3 216.5 494.5 216.5 498.8 216.5 503 216.4 507.2 216.4 511.4 216.4 515.6 216.4 519.8 216.4 524 216.6 528.1 216.9 532.3 217.1 536.5 217.2 540.7 217.2 544.9 217.1 549 217 553.2 216.8 557.4 216.8 561.6 216.7 565.7 216.5 569.9 216.3 574 215.9 578.2 215.5 582.4 215 586.5 214.6 590.7 214.2 594.8 213.9 599 213.6 603.2 213.5 607.3 213.4 611.5 213.5 615.6 213.6 619.8 213.7 624 213.9 628.1 214 632.3 214.2 636.4 214.2 640.6 214.3 645.2 213.2 649.8 211.5 654.4 211.4 659 212.7 663.6 213.6 667.8 213.7 672.1 213.9 676.3 214.2 680.5 214.6 684.7 215 689 215.3 693.2 215.5 697.4 215.6 701.7 215.4 705.9 215.1 710.1 214.7 714.4 214.2 718.6 213.6 722.8 213.1 727 212.6 731.3 212.3 735.5 212.2 739.6 212.4 743.7 212.9 747.8 213.5 751.9 213.9 756 214 760.2 213.7 764.3 213 768.4 212.3 772.5 211.7 776.6 211.4"/>
<path d="M444 208.5L448.2 208.5 452.4 208.5 456.6 208.5 460.8 208.5 465.1 208.5 469.3 208.5 473.5 208.5 477.7 208.5 481.9 208.5 486.1 208.5 490.3 208.5 494.5 208.5 498.8 208.5 503 208.5 507.2 208.5 511.4 208.5 515.6 208.5 519.8 208.8 524 209.5 528.1 210.4 532.3 211.2 536.5 211.4 540.7 211.2 544.9 210.4 549 209.5 553.2 208.8 557.4 208.5 561.6 208.6 565.7 208.9 569.9 209.3 574 209.8 578.2 210.4 582.4 211 586.5 211.5 590.7 212 594.8 212.2 599 212.3 603.2 212.2 607.3 212 611.5 211.5 615.6 211 619.8 210.4 624 209.8 628.1 209.3 632.3 208.9 636.4 208.6 640.6 208.5 645.2 208.6 649.8 208.7 654.4 209 659 209.4 663.6 209.6 667.8 209.5 672.1 209.3 676.3 209 680.5 208.6 684.7 208.5 689 208.5 693.2 208.5 697.4 208.5 701.7 208.5 705.9 208.5 710.1 208.5 714.4 208.5 718.6 208.7 722.8 209.1 727 209.5 731.3 209.7 735.5 209.7 739.6 209.8 743.7 209.9 747.8 210.1 751.9 210.2 756 210.5 760.2 210.7 764.3 210.9 768.4 211 772.5 211.1 776.6 211.2"/>
<path d="M444 212.2L448.2 212.1 452.4 211.9 456.6 211.6 460.8 211.2 465.1 210.8 469.3 210.6 473.5 210.4 477.7 210.5 481.9 210.8 486.1 211.4 490.3 212.1 494.5 212.9 498.8 213.8 503 214.6 507.2 215.2 511.4 215.7 515.6 215.8 519.8 215.8 524 215.8 528.1 215.9 532.3 215.9 536.5 215.9 540.7 215.8 544.9 215.8 549 215.8 553.2 215.8 557.4 215.7 561.6 215.7 565.7 215.4 569.9 215 574 214.6 578.2 214 582.4 213.5 586.5 212.9 590.7 212.5 594.8 212.1 599 211.9 603.2 211.7 607.3 211.8 611.5 211.9 615.6 212.1 619.8 212.4 624 212.6 628.1 212.9 632.3 213.1 636.4 213.3 640.6 213.3 645.2 213.3 649.8 213.2 654.4 213.3 659 213.5 663.6 213.6 667.8 213.5 672.1 213.2 676.3 212.8 680.5 212.3 684.7 211.7 689 211.1 693.2 210.6 697.4 210.1 701.7 209.8 705.9 209.6 710.1 209.6 714.4 209.6 718.6 209.7 722.8 209.9 727 210 731.3 210.1 735.5 210.1 739.6 209.9 743.7 209.3 747.8 208.6 751.9 208.5 756 208.5 760.2 208.5 764.3 208.8 768.4 209.5 772.5 210.1 776.6 210.4"/>
<path d="M444 214.4L448.2 214.3 452.4 214.3 456.6 214.2 460.8 214.1 465.1 214 469.3 213.9 473.5 213.8 477.7 213.7 481.9 213.5 486.1 213.4 490.3 213.3 494.5 213.2 498.8 213.1 503 213 507.2 212.9 511.4 212.9 515.6 212.9 519.8 213.2 524 214 528.1 215.2 532.3 216.2 536.5 217 540.7 217.4 544.9 217.4 549 217.1 553.2 216.9 557.4 216.8 561.6 216.6 565.7 216.2 569.9 215.5 574 214.7 578.2 213.8 582.4 212.8 586.5 211.9 590.7 211.1 594.8 210.6 599 210.2 603.2 210.2 607.3 210.3 611.5 210.7 615.6 211.3 619.8 211.9 624 212.6 628.1 213.2 632.3 213.7 636.4 214 640.6 214.1 645.2 214.1 649.8 214 654.4 213.6 659 213.1 663.6 212.8 667.8 212.8 672.1 212.6 676.3 212.3 680.5 212 684.7 211.7 689 211.5 693.2 211.4 697.4 211.5 701.7 211.7 705.9 212.1 710.1 212.7 714.4 213.4 718.6 214.1 722.8 214.7 727 215.2 731.3 215.6 735.5 215.7 739.6 215.5 743.7 214.9 747.8 214.3 751.9 213.7 756 213.4 760.2 213.5 764.3 214 768.4 214.6 772.5 215 776.6 215.2"/>
<path d="M444 211.3L448.2 211 452.4 210.4 456.6 209.4 460.8 208.5 465.1 208.5 469.3 208.5 473.5 208.5 477.7 208.5 481.9 208.5 486.1 208.5 490.3 208.5 494.5 208.5 498.8 208.5 503 208.5 507.2 209 511.4 209.5 515.6 209.7 519.8 210 524 210.6 528.1 211.4 532.3 212.1 536.5 212.6 540.7 212.8 544.9 212.7 549 212.4 553.2 212.1 557.4 212 561.6 212 565.7 211.9 569.9 211.8 574 211.6 578.2 211.4 582.4 211.2 586.5 211 590.7 210.8 594.8 210.7 599 210.6 603.2 210.5 607.3 210.5 611.5 210.6 615.6 210.6 619.8 210.7 624 210.8 628.1 210.9 632.3 211 636.4 211.1 640.6 211.1 645.2 211.2 649.8 211.5 654.4 212.2 659 213.1 663.6 213.5 667.8 213.5 672.1 213.4 676.3 213.2 680.5 212.9 684.7 212.7 689 212.4 693.2 212.1 697.4 211.8 701.7 211.5 705.9 211.3 710.1 211.1 714.4 210.9 718.6 210.7 722.8 210.6 727 210.5 731.3 210.4 735.5 210.4 739.6 210.5 743.7 211 747.8 211.5 751.9 211.9 756 212.1 760.2 211.9 764.3 211.4 768.4 210.8 772.5 210.4 776.6 210.2"/>
<path d="M444 208.8L448.2 208.7 452.4 208.6 456.6 208.5 460.8 208.5 465.1 208.5 469.3 208.5 473.5 208.5 477.7 208.5 481.9 208.5 486.1 208.5 490.3 208.5 494.5 208.7 498.8 209 503 209.3 507.2 209.6 511.4 209.8 515.6 209.8 519.8 209.7 524 209.3 528.1 208.8 532.3 208.5 536.5 208.5 540.7 208.5 544.9 208.5 549 208.9 553.2 209.2 557.4 209.3 561.6 209.2 565.7 209 569.9 208.7 574 208.5 578.2 208.5 582.4 208.5 586.5 208.5 590.7 208.5 594.8 208.5 599 208.5 603.2 208.5 607.3 208.5 611.5 208.5 615.6 208.5 619.8 209 624 209.7 628.1 210.3 632.3 210.8 636.4 211.1 640.6 211.2 645.2 210.9 649.8 210.5 654.4 210.7 659 211.4 663.6 211.9 667.8 211.8 672.1 211.6 676.3 211.2 680.5 210.9 684.7 210.5 689 210.1 693.2 209.9 697.4 209.9 701.7 210.1 705.9 210.4 710.1 210.9 714.4 211.4 718.6 212.1 722.8 212.6 727 213.1 731.3 213.4 735.5 213.5 739.6 213.3 743.7 212.8 747.8 212 751.9 211.4 756 211 760.2 210.9 764.3 211.2 768.4 211.6 772.5 211.9 776.6 212.1"/>
<path d="M444 217.5L448.2 217.5 452.4 217.6 456.6 217.8 460.8 218 465.1 218.2 469.3 218.5 473.5 218.7 477.7 218.8 481.9 218.9 486.1 219 490.3 219 494.5 219 498.8 218.9 503 218.9 507.2 218.8 511.4 218.8 515.6 218.7 519.8 218.7 524 218.6 528.1 218.4 532.3 218.2 536.5 217.9 540.7 217.7 544.9 217.4 549 217.2 553.2 217 557.4 217 561.6 217 565.7 217 569.9 217.1 574 217.1 578.2 217.2 582.4 217.3 586.5 217.3 590.7 217.3 594.8 217.2 599 217.1 603.2 216.9 607.3 216.7 611.5 216.5 615.6 216.3 619.8 216 624 215.7 628.1 215.5 632.3 215.4 636.4 215.2 640.6 215.2 645.2 215.3 649.8 215.5 654.4 215.3 659 214.9 663.6 214.7 667.8 214.7 672.1 214.8 676.3 215 680.5 215.1 684.7 215.3 689 215.4 693.2 215.4 697.4 215.3 701.7 215.1 705.9 214.8 710.1 214.3 714.4 213.9 718.6 213.4 722.8 212.9 727 212.6 731.3 212.3 735.5 212.3 739.6 212.4 743.7 212.7 747.8 213.2 751.9 213.7 756 214.1 760.2 214.5 764.3 214.8 768.4 215 772.5 215.1 776.6 215.2"/>
<path d="M444 218.3L448.2 218.4 452.4 218.6 456.6 218.8 460.8 219.2 465.1 219.5 469.3 219.7 473.5 219.9 477.7 219.8 481.9 219.6 486.1 219.1 490.3 218.6 494.5 217.9 498.8 217.2 503 216.6 507.2 216 511.4 215.7 515.6 215.6 519.8 215.6 524 215.6 528.1 215.7 532.3 215.8 536.5 215.9 540.7 216 544.9 216.1 549 216.1 553.2 216.2 557.4 216.2 561.6 216.2 565.7 216.1 569.9 215.9 574 215.7 578.2 215.5 582.4 215.3 586.5 215.1 590.7 214.8 594.8 214.6 599 214.5 603.2 214.3 607.3 214.2 611.5 214.1 615.6 214 619.8 213.9 624 213.9 628.1 213.9 632.3 213.9 636.4 213.9 640.6 213.9 645.2 214.2 649.8 214.6 654.4 214.5 659 214 663.6 213.7 667.8 213.8 672.1 214.2 676.3 214.9 680.5 215.6 684.7 216.4 689 217.1 693.2 217.7 697.4 218.1 701.7 218.2 705.9 218.1 710.1 217.7 714.4 217.2 718.6 216.5 722.8 215.9 727 215.4 731.3 215.1 735.5 215 739.6 215.3 743.7 216.1 747.8 217.1 751.9 218.1 756 218.9 760.2 219.3 764.3 219.4 768.4 219.2 772.5 219.1 776.6 219"/>
<path d="M444 221.9L448.2 221.8 452.4 221.7 456.6 221.4 460.8 221.1 465.1 220.8 469.3 220.5 473.5 220.3 477.7 220.1 481.9 220.1 486.1 220.1 490.3 220.2 494.5 220.3 498.8 220.5 503 220.7 507.2 220.8 511.4 220.9 515.6 221 519.8 220.7 524 220.1 528.1 219.4 532.3 218.8 536.5 218.6 540.7 218.9 544.9 219.6 549 220.5 553.2 221.2 557.4 221.5 561.6 221.5 565.7 221.7 569.9 222.1 574 222.5 578.2 222.9 582.4 223.4 586.5 223.8 590.7 224.2 594.8 224.4 599 224.5 603.2 224.4 607.3 224.2 611.5 223.9 615.6 223.5 619.8 223.1 624 222.7 628.1 222.3 632.3 222 636.4 221.8 640.6 221.7 645.2 221.3 649.8 220.4 654.4 219.6 659 219.3 663.6 219.3 667.8 219.2 672.1 219.1 676.3 218.8 680.5 218.6 684.7 218.3 689 218.1 693.2 218 697.4 218 701.7 218.2 705.9 218.5 710.1 218.9 714.4 219.4 718.6 219.9 722.8 220.4 727 220.7 731.3 221 735.5 221.1 739.6 221.3 743.7 221.7 747.8 222.3 751.9 222.9 756 223.3 760.2 223.4 764.3 223.3 768.4 223.1 772.5 222.9 776.6 222.8"/>
<path d="M444 221.9L448.2 222 452.4 222.4 456.6 223 460.8 223.8 465.1 224.7 469.3 225.5 473.5 226.2 477.7 226.8 481.9 227.2 486.1 227.4 490.3 227.4 494.5 227.3 498.8 227.1 503 226.8 507.2 226.6 511.4 226.4 515.6 226.4 519.8 226.4 524 226.4 528.1 226.4 532.3 226.2 536.5 225.7 540.7 225 544.9 224.1 549 223.2 553.2 222.6 557.4 222.3 561.6 222.3 565.7 222.1 569.9 221.8 574 221.5 578.2 221.1 582.4 220.7 586.5 220.3 590.7 219.9 594.8 219.6 599 219.3 603.2 219.1 607.3 219 611.5 218.9 615.6 218.9 619.8 218.9 624 219 628.1 219 632.3 219.1 636.4 219.1 640.6 219.1 645.2 218.9 649.8 218.4 654.4 218.1 659 218 663.6 218 667.8 217.9 672.1 217.5 676.3 216.9 680.5 216.2 684.7 215.4 689 214.7 693.2 214.2 697.4 214 701.7 214 705.9 214.3 710.1 214.8 714.4 215.5 718.6 216.3 722.8 217 727 217.6 731.3 218 735.5 218.2 739.6 217.9 743.7 217.3 747.8 216.5 751.9 215.9 756 215.6 760.2 215.9 764.3 216.5 768.4 217.3 772.5 217.9 776.6 218.2"/>
<path d="M444 216.6L448.2 216.6 452.4 216.4 456.6 216.2 460.8 215.9 465.1 215.6 469.3 215.4 473.5 215.3 477.7 215.3 481.9 215.4 486.1 215.7 490.3 216 494.5 216.5 498.8 217 503 217.4 507.2 217.8 511.4 218 515.6 218.1 519.8 218.1 524 217.9 528.1 217.7 532.3 217.5 536.5 217.3 540.7 217.2 544.9 217.2 549 217.2 553.2 217.2 557.4 217.2 561.6 217.4 565.7 218.3 569.9 219.6 574 221.2 578.2 223.1 582.4 225 586.5 226.8 590.7 228.3 594.8 229.5 599 230.3 603.2 230.6 607.3 230.4 611.5 229.9 615.6 229 619.8 227.9 624 226.8 628.1 225.8 632.3 225 636.4 224.5 640.6 224.3 645.2 223.5 649.8 221.9 654.4 220.6 659 220.1 663.6 220 667.8 220 672.1 220.1 676.3 220.3 680.5 220.5 684.7 220.8 689 221.1 693.2 221.4 697.4 221.7 701.7 222 705.9 222.4 710.1 222.7 714.4 222.9 718.6 223.2 722.8 223.4 727 223.5 731.3 223.6 735.5 223.7 739.6 223.5 743.7 223 747.8 222.4 751.9 222 756 221.8 760.2 222.1 764.3 222.6 768.4 223.3 772.5 223.8 776.6 224"/>
<path d="M444 229.3L448.2 229.3 452.4 229.3 456.6 229.3 460.8 229.3 465.1 229.2 469.3 229.1 473.5 228.9 477.7 228.6 481.9 228.3 486.1 227.9 490.3 227.4 494.5 226.9 498.8 226.4 503 226 507.2 225.7 511.4 225.5 515.6 225.4 519.8 225.1 524 224.3 528.1 223.3 532.3 222.5 536.5 222.2 540.7 222.5 544.9 223.3 549 224.3 553.2 225.2 557.4 225.5 561.6 225.6 565.7 225.9 569.9 226.4 574 227 578.2 227.7 582.4 228.4 586.5 229 590.7 229.6 594.8 229.9 599 230.1 603.2 230 607.3 229.7 611.5 229.3 615.6 228.8 619.8 228.1 624 227.5 628.1 226.9 632.3 226.5 636.4 226.2 640.6 226.1 645.2 226 649.8 225.9 654.4 225.6 659 225.3 663.6 225.2 667.8 225.1 672.1 224.9 676.3 224.6 680.5 224.2 684.7 223.7 689 223.3 693.2 222.8 697.4 222.4 701.7 222.1 705.9 221.9 710.1 221.7 714.4 221.6 718.6 221.5 722.8 221.5 727 221.4 731.3 221.4 735.5 221.4 739.6 221.8 743.7 222.8 747.8 224 751.9 225 756 225.4 760.2 225 764.3 224 768.4 222.8 772.5 221.8 776.6 221.4"/>
<path d="M444 220.9L448.2 221 452.4 221.1 456.6 221.3 460.8 221.5 465.1 221.8 469.3 222.1 473.5 222.3 477.7 222.5 481.9 222.7 486.1 222.8 490.3 222.9 494.5 222.9 498.8 222.9 503 222.9 507.2 222.9 511.4 222.9 515.6 222.9 519.8 222.7 524 222.3 528.1 221.8 532.3 221.6 536.5 221.7 540.7 222.3 544.9 223.3 549 224.3 553.2 225 557.4 225.3 561.6 225.3 565.7 225.1 569.9 224.9 574 224.6 578.2 224.3 582.4 224.1 586.5 223.9 590.7 223.8 594.8 224 599 224.2 603.2 224.7 607.3 225.3 611.5 226.1 615.6 226.9 619.8 227.8 624 228.6 628.1 229.3 632.3 229.9 636.4 230.2 640.6 230.3 645.2 230.4 649.8 230.1 654.4 229 659 227.3 663.6 226.5 667.8 226.6 672.1 227 676.3 227.6 680.5 228.3 684.7 229 689 229.7 693.2 230.3 697.4 230.6 701.7 230.7 705.9 230.6 710.1 230.3 714.4 229.8 718.6 229.2 722.8 228.7 727 228.2 731.3 227.9 735.5 227.8 739.6 227.6 743.7 227 747.8 226.2 751.9 225.4 756 224.6 760.2 223.9 764.3 223.4 768.4 223 772.5 222.8 776.6 222.7"/>
<path d="M444 225.9L448.2 225.9 452.4 226.1 456.6 226.3 460.8 226.6 465.1 226.9 469.3 227.1 473.5 227.1 477.7 227.1 481.9 226.9 486.1 226.5 490.3 226 494.5 225.4 498.8 224.8 503 224.3 507.2 223.8 511.4 223.5 515.6 223.4 519.8 223.5 524 223.7 528.1 224 532.3 224.3 536.5 224.5 540.7 224.7 544.9 224.8 549 224.9 553.2 225 557.4 225 561.6 224.8 565.7 224.1 569.9 223.1 574 221.9 578.2 220.5 582.4 219 586.5 217.7 590.7 216.6 594.8 215.8 599 215.3 603.2 215.2 607.3 215.5 611.5 216.1 615.6 216.9 619.8 217.9 624 218.9 628.1 219.9 632.3 220.6 636.4 221.1 640.6 221.2 645.2 221.5 649.8 221.9 654.4 222 659 221.8 663.6 221.6 667.8 221.7 672.1 222 676.3 222.4 680.5 223 684.7 223.5 689 224 693.2 224.3 697.4 224.5 701.7 224.5 705.9 224.3 710.1 223.9 714.4 223.4 718.6 222.8 722.8 222.3 727 221.8 731.3 221.5 735.5 221.4 739.6 221.2 743.7 220.7 747.8 219.9 751.9 219.2 756 218.7 760.2 218.5 764.3 218.5 768.4 218.7 772.5 218.8 776.6 218.9"/>
<path d="M444 222.8L448.2 222.7 452.4 222.5 456.6 222.1 460.8 221.6 465.1 221.1 469.3 220.6 473.5 220.2 477.7 219.8 481.9 219.6 486.1 219.4 490.3 219.4 494.5 219.5 498.8 219.6 503 219.7 507.2 219.8 511.4 219.9 515.6 219.9 519.8 219.6 524 218.7 528.1 217.6 532.3 216.7 536.5 216.1 540.7 216.1 544.9 216.5 549 217.2 553.2 217.7 557.4 218 561.6 218.1 565.7 218.4 569.9 218.9 574 219.5 578.2 220.2 582.4 220.8 586.5 221.4 590.7 221.9 594.8 222.2 599 222.3 603.2 222.1 607.3 221.7 611.5 221.2 615.6 220.5 619.8 219.8 624 219.1 628.1 218.4 632.3 217.9 636.4 217.5 640.6 217.4 645.2 217.6 649.8 217.9 654.4 218 659 218 663.6 217.9 667.8 218 672.1 218.2 676.3 218.6 680.5 219 684.7 219.4 689 219.8 693.2 220 697.4 220.1 701.7 220.1 705.9 219.8 710.1 219.5 714.4 219 718.6 218.5 722.8 218 727 217.6 731.3 217.3 735.5 217.2 739.6 217.4 743.7 217.7 747.8 218.2 751.9 218.7 756 219.2 760.2 219.7 764.3 220 768.4 220.3 772.5 220.5 776.6 220.5"/>
<path d="M444 222.3L448.2 222.1 452.4 221.7 456.6 221.1 460.8 220.3 465.1 219.5 469.3 218.8 473.5 218.2 477.7 217.9 481.9 217.9 486.1 218.1 490.3 218.6 494.5 219.2 498.8 220 503 220.7 507.2 221.2 511.4 221.6 515.6 221.8 519.8 221.8 524 221.7 528.1 221.7 532.3 221.6 536.5 221.4 540.7 221.2 544.9 220.9 549 220.6 553.2 220.5 557.4 220.4 561.6 220.3 565.7 220 569.9 219.7 574 219.2 578.2 218.6 582.4 218.1 586.5 217.6 590.7 217.2 594.8 217 599 216.9 603.2 217 607.3 217.2 611.5 217.6 615.6 218.1 619.8 218.6 624 219.2 628.1 219.7 632.3 220 636.4 220.3 640.6 220.4 645.2 220.8 649.8 221.7 654.4 222.8 659 223.7 663.6 224 667.8 224.1 672.1 224.4 676.3 224.8 680.5 225.3 684.7 225.9 689 226.4 693.2 226.8 697.4 227 701.7 227.1 705.9 227.1 710.1 226.8 714.4 226.5 718.6 226.1 722.8 225.7 727 225.4 731.3 225.2 735.5 225.1 739.6 225.3 743.7 225.7 747.8 226.2 751.9 226.6 756 226.6 760.2 226.3 764.3 225.6 768.4 224.8 772.5 224.2 776.6 224"/>
<path d="M444 227.2L448.2 226.9 452.4 226 456.6 224.6 460.8 222.9 465.1 221.2 469.3 219.7 473.5 218.5 477.7 217.9 481.9 217.9 486.1 218.5 490.3 219.6 494.5 221.2 498.8 222.8 503 224.5 507.2 225.8 511.4 226.7 515.6 227.1 519.8 227.4 524 228.2 528.1 229.2 532.3 230.1 536.5 230.5 540.7 230.3 544.9 229.6 549 228.7 553.2 228 557.4 227.7 561.6 227.7 565.7 227.5 569.9 227.3 574 227.1 578.2 226.8 582.4 226.4 586.5 226 590.7 225.6 594.8 225.2 599 224.7 603.2 224.3 607.3 223.9 611.5 223.5 615.6 223.1 619.8 222.8 624 222.5 628.1 222.2 632.3 222.1 636.4 221.9 640.6 221.9 645.2 222.7 649.8 224 654.4 224.2 659 223.2 663.6 222.6 667.8 222.7 672.1 222.9 676.3 223.2 680.5 223.5 684.7 223.9 689 224.2 693.2 224.5 697.4 224.6 701.7 224.7 705.9 224.5 710.1 224.3 714.4 224 718.6 223.6 722.8 223.3 727 223 731.3 222.8 735.5 222.7 739.6 222.8 743.7 222.9 747.8 223 751.9 223.1 756 223.1 760.2 223 764.3 222.8 768.4 222.6 772.5 222.4 776.6 222.4"/>
<path d="M444 231.5L448.2 231.4 452.4 231.2 456.6 230.8 460.8 230.3 465.1 229.9 469.3 229.4 473.5 228.9 477.7 228.6 481.9 228.4 486.1 228.3 490.3 228.3 494.5 228.4 498.8 228.6 503 228.8 507.2 228.9 511.4 229 515.6 229.1 519.8 229 524 229 528.1 229 532.3 228.8 536.5 228.5 540.7 228.1 544.9 227.6 549 227.2 553.2 226.8 557.4 226.7 561.6 226.7 565.7 226.6 569.9 226.4 574 226.2 578.2 225.9 582.4 225.7 586.5 225.4 590.7 225.2 594.8 224.9 599 224.8 603.2 224.6 607.3 224.5 611.5 224.5 615.6 224.4 619.8 224.4 624 224.5 628.1 224.5 632.3 224.5 636.4 224.5 640.6 224.5 645.2 224.8 649.8 225.6 654.4 226.7 659 227.8 663.6 228.3 667.8 228.4 672.1 228.7 676.3 229.1 680.5 229.7 684.7 230.2 689 230.8 693.2 231.2 697.4 231.5 701.7 231.6 705.9 231.5 710.1 231.3 714.4 231 718.6 230.6 722.8 230.2 727 229.9 731.3 229.6 735.5 229.6 739.6 229.7 743.7 230.1 747.8 230.6 751.9 231 756 231.2 760.2 231.3 764.3 231.1 768.4 230.8 772.5 230.6 776.6 230.5"/>
<path d="M444 231L448.2 231.1 452.4 231.6 456.6 232.2 460.8 232.9 465.1 233.7 469.3 234.4 473.5 234.9 477.7 235.1 481.9 235.1 486.1 234.7 490.3 234.1 494.5 233.4 498.8 232.5 503 231.7 507.2 231.1 511.4 230.6 515.6 230.5 519.8 230 524 228.6 528.1 226.9 532.3 225.5 536.5 224.7 540.7 224.9 544.9 225.9 549 227.2 553.2 228.2 557.4 228.6 561.6 228.6 565.7 228.5 569.9 228.3 574 228.1 578.2 227.8 582.4 227.5 586.5 227.1 590.7 226.7 594.8 226.2 599 225.7 603.2 225.1 607.3 224.6 611.5 224 615.6 223.4 619.8 222.9 624 222.4 628.1 222 632.3 221.7 636.4 221.5 640.6 221.5 645.2 221.7 649.8 222.2 654.4 222.9 659 223.7 663.6 224.1 667.8 224.2 672.1 224.3 676.3 224.6 680.5 224.9 684.7 225.2 689 225.6 693.2 225.9 697.4 226.2 701.7 226.5 705.9 226.7 710.1 226.8 714.4 226.9 718.6 226.9 722.8 226.9 727 226.9 731.3 226.9 735.5 226.9 739.6 226.9 743.7 226.6 747.8 226.4 751.9 226.1 756 225.8 760.2 225.6 764.3 225.5 768.4 225.4 772.5 225.4 776.6 225.4"/>
<path d="M444 224.8L448.2 224.8 452.4 224.6 456.6 224.3 460.8 224 465.1 223.6 469.3 223.1 473.5 222.7 477.7 222.2 481.9 221.7 486.1 221.2 490.3 220.8 494.5 220.4 498.8 220 503 219.8 507.2 219.5 511.4 219.4 515.6 219.3 519.8 219.8 524 220.8 528.1 222.2 532.3 223.4 536.5 224.2 540.7 224.2 544.9 223.7 549 222.9 553.2 222.2 557.4 221.9 561.6 221.8 565.7 221.6 569.9 221.3 574 220.9 578.2 220.4 582.4 220 586.5 219.5 590.7 219.1 594.8 218.8 599 218.6 603.2 218.4 607.3 218.4 611.5 218.5 615.6 218.7 619.8 218.9 624 219.2 628.1 219.4 632.3 219.5 636.4 219.7 640.6 219.7 645.2 219.9 649.8 220.3 654.4 220.8 659 221.3 663.6 221.6 667.8 221.6 672.1 221.7 676.3 221.8 680.5 222 684.7 222.1 689 222.3 693.2 222.5 697.4 222.7 701.7 222.8 705.9 222.9 710.1 223 714.4 223.1 718.6 223.2 722.8 223.2 727 223.2 731.3 223.2 735.5 223.2 739.6 223.5 743.7 224.4 747.8 225.4 751.9 226.5 756 227.3 760.2 227.7 764.3 227.8 768.4 227.6 772.5 227.5 776.6 227.4"/>
<path d="M444 231.3L448.2 231.5 452.4 231.9 456.6 232.6 460.8 233.4 465.1 234.2 469.3 235.1 473.5 235.8 477.7 236.3 481.9 236.6 486.1 236.6 490.3 236.4 494.5 236.1 498.8 235.6 503 235.2 507.2 234.8 511.4 234.6 515.6 234.5 519.8 234.4 524 234.3 528.1 234.1 532.3 233.8 536.5 233.5 540.7 233 544.9 232.6 549 232.2 553.2 231.9 557.4 231.8 561.6 232 565.7 232.6 569.9 233.5 574 234.6 578.2 235.8 582.4 237.1 586.5 238.1 590.7 239 594.8 239.4 599 239.5 603.2 239.1 607.3 238.3 611.5 237.1 615.6 235.7 619.8 234.2 624 232.7 628.1 231.4 632.3 230.4 636.4 229.7 640.6 229.4 645.2 229 649.8 228.2 654.4 228 659 228.4 663.6 228.7 667.8 228.7 672.1 228.7 676.3 228.7 680.5 228.7 684.7 228.7 689 228.6 693.2 228.6 697.4 228.5 701.7 228.4 705.9 228.3 710.1 228.1 714.4 227.9 718.6 227.8 722.8 227.6 727 227.5 731.3 227.4 735.5 227.4 739.6 227.5 743.7 227.7 747.8 228 751.9 228.4 756 228.8 760.2 229.1 764.3 229.4 768.4 229.6 772.5 229.8 776.6 229.8"/>
<path d="M444 228.2L448.2 228.4 452.4 229 456.6 229.9 460.8 231 465.1 232.2 469.3 233.2 473.5 234.1 477.7 234.6 481.9 234.8 486.1 234.6 490.3 234.1 494.5 233.3 498.8 232.5 503 231.6 507.2 230.9 511.4 230.4 515.6 230.2 519.8 230.2 524 230 528.1 229.9 532.3 229.7 536.5 229.7 540.7 229.8 544.9 229.9 549 230.1 553.2 230.3 557.4 230.3 561.6 230.4 565.7 230.5 569.9 230.8 574 231.1 578.2 231.5 582.4 231.9 586.5 232.4 590.7 232.8 594.8 233.2 599 233.5 603.2 233.8 607.3 234.1 611.5 234.3 615.6 234.4 619.8 234.5 624 234.6 628.1 234.6 632.3 234.6 636.4 234.7 640.6 234.7 645.2 234.2 649.8 233.2 654.4 232.4 659 232.1 663.6 232 667.8 231.9 672.1 231.7 676.3 231.2 680.5 230.8 684.7 230.2 689 229.8 693.2 229.4 697.4 229.2 701.7 229.1 705.9 229.2 710.1 229.5 714.4 229.8 718.6 230.3 722.8 230.7 727 231 731.3 231.2 735.5 231.3 739.6 231.2 743.7 230.9 747.8 230.5 751.9 230.1 756 230.1 760.2 230.3 764.3 230.7 768.4 231.2 772.5 231.6 776.6 231.7"/>
<path d="M444 226.7L448.2 226.6 452.4 226.1 456.6 225.5 460.8 224.8 465.1 224.1 469.3 223.6 473.5 223.3 477.7 223.3 481.9 223.8 486.1 224.5 490.3 225.6 494.5 226.9 498.8 228.3 503 229.5 507.2 230.6 511.4 231.2 515.6 231.5 519.8 231 524 229.9 528.1 228.4 532.3 227.2 536.5 226.5 540.7 226.6 544.9 227.4 549 228.4 553.2 229.3 557.4 229.6 561.6 229.7 565.7 230 569.9 230.5 574 231.1 578.2 231.8 582.4 232.5 586.5 233.2 590.7 233.8 594.8 234.2 599 234.5 603.2 234.6 607.3 234.6 611.5 234.4 615.6 234.1 619.8 233.7 624 233.3 628.1 232.9 632.3 232.6 636.4 232.4 640.6 232.3 645.2 231.9 649.8 231.3 654.4 231.7 659 232.9 663.6 233.6 667.8 233.6 672.1 233.7 676.3 233.7 680.5 233.8 684.7 233.9 689 234.1 693.2 234.2 697.4 234.5 701.7 234.7 705.9 235 710.1 235.4 714.4 235.7 718.6 236 722.8 236.3 727 236.5 731.3 236.6 735.5 236.7 739.6 236.3 743.7 235.1 747.8 233.5 751.9 232 756 231 760.2 230.6 764.3 230.7 768.4 231.2 772.5 231.6 776.6 231.8"/>
<path d="M444 227.6L448.2 227.6 452.4 227.7 456.6 227.7 460.8 227.9 465.1 228 469.3 228.1 473.5 228.3 477.7 228.5 481.9 228.6 486.1 228.8 490.3 228.9 494.5 229.1 498.8 229.2 503 229.3 507.2 229.4 511.4 229.5 515.6 229.5 519.8 229.5 524 229.5 528.1 229.6 532.3 229.7 536.5 229.9 540.7 230 544.9 230.1 549 230.3 553.2 230.4 557.4 230.4 561.6 230.2 565.7 229.5 569.9 228.5 574 227.2 578.2 225.7 582.4 224.3 586.5 223 590.7 222 594.8 221.3 599 221.1 603.2 221.4 607.3 222.1 611.5 223.2 615.6 224.6 619.8 226.1 624 227.6 628.1 228.9 632.3 230 636.4 230.7 640.6 230.9 645.2 231.1 649.8 231.5 654.4 231.7 659 231.6 663.6 231.4 667.8 231.4 672.1 231.1 676.3 230.8 680.5 230.4 684.7 230 689 229.7 693.2 229.6 697.4 229.6 701.7 229.8 705.9 230.3 710.1 230.9 714.4 231.6 718.6 232.3 722.8 233 727 233.6 731.3 233.9 735.5 234.1 739.6 233.8 743.7 233.2 747.8 232.4 751.9 231.6 756 231 760.2 230.8 764.3 230.8 768.4 231 772.5 231.2 776.6 231.3"/>
<path d="M444 234.5L448.2 234.6 452.4 234.8 456.6 235.2 460.8 235.7 465.1 236.1 469.3 236.6 473.5 236.9 477.7 237.1 481.9 237.1 486.1 237 490.3 236.7 494.5 236.3 498.8 235.9 503 235.4 507.2 235.1 511.4 234.8 515.6 234.8 519.8 234.7 524 234.7 528.1 234.7 532.3 234.7 536.5 234.7 540.7 234.8 544.9 234.9 549 235 553.2 235.1 557.4 235.1 561.6 235.2 565.7 235.4 569.9 235.8 574 236.3 578.2 236.8 582.4 237.3 586.5 237.8 590.7 238.3 594.8 238.6 599 238.8 603.2 238.8 607.3 238.8 611.5 238.6 615.6 238.3 619.8 238 624 237.7 628.1 237.4 632.3 237.1 636.4 237 640.6 236.9 645.2 236.4 649.8 235.1 654.4 233.8 659 232.8 663.6 232.4 667.8 232.6 672.1 233 676.3 233.6 680.5 234.3 684.7 235.2 689 236 693.2 236.7 697.4 237.3 701.7 237.6 705.9 237.8 710.1 237.8 714.4 237.7 718.6 237.4 722.8 237.2 727 236.9 731.3 236.8 735.5 236.7 739.6 236.6 743.7 236.4 747.8 236.2 751.9 236 756 235.9 760.2 235.8 764.3 235.9 768.4 236 772.5 236.2 776.6 236.2"/>
<path d="M444 233.8L448.2 233.9 452.4 234.2 456.6 234.6 460.8 235.1 465.1 235.6 469.3 235.9 473.5 236 477.7 235.9 481.9 235.4 486.1 234.6 490.3 233.6 494.5 232.5 498.8 231.2 503 230.1 507.2 229.2 511.4 228.6 515.6 228.4 519.8 228.8 524 229.9 528.1 231.4 532.3 232.8 536.5 234 540.7 234.6 544.9 234.9 549 234.8 553.2 234.7 557.4 234.6 561.6 234.5 565.7 234.4 569.9 234.1 574 233.7 578.2 233.3 582.4 232.9 586.5 232.5 590.7 232.1 594.8 231.8 599 231.6 603.2 231.4 607.3 231.4 611.5 231.4 615.6 231.5 619.8 231.7 624 231.8 628.1 232 632.3 232.1 636.4 232.2 640.6 232.2 645.2 232.7 649.8 233.2 654.4 232.6 659 231 663.6 230.1 667.8 230 672.1 229.8 676.3 229.5 680.5 229 684.7 228.5 689 228 693.2 227.4 697.4 226.8 701.7 226.2 705.9 225.6 710.1 225.1 714.4 224.7 718.6 224.3 722.8 223.9 727 223.7 731.3 223.5 735.5 223.5 739.6 223.5 743.7 223.5 747.8 223.5 751.9 223.8 756 224.4 760.2 225.2 764.3 226.2 768.4 227.1 772.5 227.8 776.6 228.1"/>
<path d="M444 237.7L448.2 237.9 452.4 238.2 456.6 238.9 460.8 239.6 465.1 240.3 469.3 241 473.5 241.4 477.7 241.7 481.9 241.6 486.1 241.2 490.3 240.6 494.5 239.8 498.8 238.9 503 238.1 507.2 237.4 511.4 237 515.6 236.8 519.8 236.8 524 236.7 528.1 236.6 532.3 236.5 536.5 236.7 540.7 236.9 544.9 237.3 549 237.7 553.2 238 557.4 238.1 561.6 238.3 565.7 238.9 569.9 239.8 574 240.9 578.2 242.1 582.4 243.3 586.5 244.4 590.7 245.3 594.8 245.9 599 246.1 603.2 245.9 607.3 245.4 611.5 244.5 615.6 243.5 619.8 242.3 624 241.1 628.1 240 632.3 239.2 636.4 238.6 640.6 238.4 645.2 238.4 649.8 238.4 654.4 238.5 659 238.6 663.6 238.7 667.8 238.6 672.1 238.3 676.3 237.8 680.5 237.3 684.7 236.7 689 236.1 693.2 235.6 697.4 235.3 701.7 235.1 705.9 235 710.1 235.2 714.4 235.4 718.6 235.7 722.8 236 727 236.3 731.3 236.5 735.5 236.5 739.6 236.5 743.7 236.4 747.8 236.3 751.9 236.1 756 235.8 760.2 235.5 764.3 235.2 768.4 234.9 772.5 234.7 776.6 234.6"/>
<path d="M444 243.7L448.2 243.6 452.4 243.3 456.6 242.9 460.8 242.4 465.1 241.9 469.3 241.3 473.5 240.8 477.7 240.3 481.9 239.8 486.1 239.5 490.3 239.2 494.5 239 498.8 238.9 503 238.8 507.2 238.7 511.4 238.7 515.6 238.7 519.8 238.6 524 238.5 528.1 238.3 532.3 237.9 536.5 237.5 540.7 237 544.9 236.4 549 235.9 553.2 235.6 557.4 235.5 561.6 235.1 565.7 234.1 569.9 232.5 574 230.5 578.2 228.2 582.4 226 586.5 224 590.7 222.4 594.8 221.4 599 221.1 603.2 221.5 607.3 222.6 611.5 224.2 615.6 226.3 619.8 228.6 624 230.9 628.1 232.9 632.3 234.6 636.4 235.6 640.6 236 645.2 235.5 649.8 234.8 654.4 234.8 659 235.5 663.6 235.9 667.8 235.8 672.1 235.6 676.3 235.2 680.5 234.8 684.7 234.5 689 234.2 693.2 234.2 697.4 234.4 701.7 234.9 705.9 235.7 710.1 236.6 714.4 237.7 718.6 238.8 722.8 239.9 727 240.7 731.3 241.3 735.5 241.5 739.6 241.2 743.7 240.8 747.8 240.4 751.9 240 756 239.6 760.2 239.2 764.3 238.8 768.4 238.4 772.5 238 776.6 237.6"/>
<path d="M444 246.4L448.2 246.4 452.4 246.5 456.6 246.7 460.8 247 465.1 247.2 469.3 247.4 473.5 247.5 477.7 247.6 481.9 247.6 486.1 247.4 490.3 247.2 494.5 247 498.8 246.7 503 246.4 507.2 246.2 511.4 246.1 515.6 246 519.8 245.9 524 245.7 528.1 245.1 532.3 244.3 536.5 243 540.7 241.4 544.9 239.7 549 238 553.2 236.8 557.4 236.4 561.6 236.4 565.7 236.5 569.9 236.7 574 236.9 578.2 237.2 582.4 237.4 586.5 237.6 590.7 237.8 594.8 238 599 238 603.2 238 607.3 237.9 611.5 237.8 615.6 237.6 619.8 237.4 624 237.2 628.1 237.1 632.3 236.9 636.4 236.8 640.6 236.8 645.2 236.6 649.8 236.3 654.4 236.6 659 237.5 663.6 238 667.8 238 672.1 238.2 676.3 238.6 680.5 238.9 684.7 239.3 689 239.7 693.2 240 697.4 240.1 701.7 240.1 705.9 240 710.1 239.8 714.4 239.5 718.6 239.1 722.8 238.8 727 238.5 731.3 238.3 735.5 238.2 739.6 238.3 743.7 238.6 747.8 239 751.9 239.4 756 239.6 760.2 239.2 764.3 238.8 768.4 238.4 772.5 238 776.6 237.6"/>
<path d="M444 238.6L448.2 238.7 452.4 239.2 456.6 239.9 460.8 240.8 465.1 241.7 469.3 242.6 473.5 243.3 477.7 243.7 481.9 243.9 486.1 243.7 490.3 243.3 494.5 242.7 498.8 242 503 241.3 507.2 240.8 511.4 240.4 515.6 240.2 519.8 240.5 524 241.2 528.1 242.1 532.3 242.9 536.5 243.4 540.7 243.6 544.9 243.3 549 242.9 553.2 242.6 557.4 242.4 561.6 242.6 565.7 242.9 569.9 243.4 574 244.1 578.2 244.7 582.4 245.4 586.5 245.9 590.7 246.2 594.8 246.3 599 246 603.2 245.5 607.3 244.6 611.5 243.5 615.6 242.3 619.8 241 624 239.7 628.1 238.6 632.3 237.8 636.4 237.2 640.6 237 645.2 236.9 649.8 236.8 654.4 237.3 659 238.3 663.6 238.8 667.8 238.9 672.1 239.2 676.3 239.6 680.5 240.1 684.7 240.6 689 241.1 693.2 241.6 697.4 241.9 701.7 242.1 705.9 242.2 710.1 242.2 714.4 242 718.6 241.8 722.8 241.6 727 241.4 731.3 241.3 735.5 241.3 739.6 241.1 743.7 240.8 747.8 240.4 751.9 240 756 239.6 760.2 239.2 764.3 238.8 768.4 238.4 772.5 238 776.6 237.6"/>
<path d="M444 232.2L448.2 232.1 452.4 232 456.6 231.7 460.8 231.4 465.1 231.1 469.3 230.9 473.5 230.7 477.7 230.7 481.9 230.8 486.1 231 490.3 231.4 494.5 231.8 498.8 232.2 503 232.7 507.2 233 511.4 233.2 515.6 233.3 519.8 232.8 524 231.6 528.1 230.1 532.3 228.8 536.5 228.2 540.7 228.6 544.9 229.7 549 231.1 553.2 232.2 557.4 232.6 561.6 232.7 565.7 233 569.9 233.3 574 233.8 578.2 234.3 582.4 234.8 586.5 235.2 590.7 235.6 594.8 235.9 599 236 603.2 235.9 607.3 235.7 611.5 235.4 615.6 235 619.8 234.5 624 234 628.1 233.6 632.3 233.3 636.4 233.1 640.6 233 645.2 233 649.8 232.9 654.4 232.8 659 232.6 663.6 232.5 667.8 232.6 672.1 232.7 676.3 233 680.5 233.3 684.7 233.5 689 233.7 693.2 233.8 697.4 233.8 701.7 233.6 705.9 233.3 710.1 232.8 714.4 232.3 718.6 231.8 722.8 231.2 727 230.8 731.3 230.5 735.5 230.4 739.6 230.5 743.7 230.8 747.8 231.2 751.9 231.7 756 232.4 760.2 233.2 764.3 233.9 768.4 234.6 772.5 235 776.6 235.2"/>
<path d="M444 242.4L448.2 242.3 452.4 241.7 456.6 240.9 460.8 240 465.1 239 469.3 238.1 473.5 237.5 477.7 237.2 481.9 237.2 486.1 237.6 490.3 238.4 494.5 239.3 498.8 240.4 503 241.4 507.2 242.3 511.4 242.8 515.6 243 519.8 243.1 524 243.2 528.1 243.3 532.3 243.3 536.5 243 540.7 242.3 544.9 241.5 549 240.7 553.2 240 557.4 239.8 561.6 239.8 565.7 239.8 569.9 239.9 574 239.9 578.2 240 582.4 240.1 586.5 240.2 590.7 240.3 594.8 240.4 599 240.5 603.2 240.6 607.3 240.7 611.5 240.7 615.6 240.8 619.8 240.9 624 241 628.1 241 632.3 241 636.4 241.1 640.6 241.1 645.2 241.3 649.8 241.7 654.4 241.8 659 241.5 663.6 241.4 667.8 241.4 672.1 241.3 676.3 241.2 680.5 241.1 684.7 241 689 240.9 693.2 240.8 697.4 240.8 701.7 240.7 705.9 240.7 710.1 240.8 714.4 240.8 718.6 240.9 722.8 240.9 727 241 731.3 241 735.5 241 739.6 241 743.7 240.8 747.8 240.4 751.9 240 756 239.6 760.2 239.2 764.3 238.8 768.4 238.4 772.5 238 776.6 237.6"/>
<path d="M444 239.6L448.2 239.5 452.4 239.3 456.6 238.9 460.8 238.5 465.1 238.2 469.3 237.9 473.5 237.8 477.7 237.9 481.9 238.3 486.1 238.8 490.3 239.6 494.5 240.5 498.8 241.4 503 242.3 507.2 243 511.4 243.4 515.6 243.6 519.8 243.4 524 242.8 528.1 242.1 532.3 241.7 536.5 241.6 540.7 242.1 544.9 243 549 244 553.2 244.8 557.4 245.1 561.6 244.9 565.7 244.4 569.9 243.5 574 242.5 578.2 241.3 582.4 240.2 586.5 239.2 590.7 238.4 594.8 237.9 599 237.8 603.2 238.1 607.3 238.7 611.5 239.6 615.6 240.8 619.8 242 624 243.3 628.1 244.4 632.3 245.3 636.4 245.9 640.6 246 645.2 245.2 649.8 243.6 654.4 242.6 659 242.6 663.6 242.8 667.8 242.8 672.1 242.7 676.3 242.6 680.5 242.5 684.7 242.4 689 242.4 693.2 242.5 697.4 242.8 701.7 243.3 705.9 243.9 710.1 244.6 714.4 245.4 718.6 246.2 722.8 246.9 727 247.4 731.3 247.8 735.5 247.9 739.6 247.9 743.7 247.7 747.8 247.2 751.9 246.5 756 245.5 760.2 245.8 764.3 246.6 768.4 247.3 772.5 248 776.6 248.7"/>
<path d="M444 234.8L448.2 234.9 452.4 235.2 456.6 235.7 460.8 236.3 465.1 236.9 469.3 237.5 473.5 238 477.7 238.4 481.9 238.6 486.1 238.5 490.3 238.4 494.5 238.1 498.8 237.7 503 237.3 507.2 237 511.4 236.8 515.6 236.7 519.8 236.7 524 236.7 528.1 236.6 532.3 236.5 536.5 236.2 540.7 235.7 544.9 235.2 549 234.7 553.2 234.3 557.4 234.2 561.6 234.2 565.7 234.2 569.9 234.2 574 234.2 578.2 234.2 582.4 234.2 586.5 234.3 590.7 234.3 594.8 234.4 599 234.6 603.2 234.7 607.3 235 611.5 235.2 615.6 235.4 619.8 235.6 624 235.9 628.1 236 632.3 236.2 636.4 236.3 640.6 236.3 645.2 237.8 649.8 240.7 654.4 242.5 659 242.7 663.6 242.6 667.8 242.5 672.1 242.5 676.3 242.3 680.5 242.2 684.7 242 689 241.8 693.2 241.7 697.4 241.5 701.7 241.4 705.9 241.3 710.1 241.2 714.4 241.1 718.6 241.1 722.8 241.1 727 241.1 731.3 241.1 735.5 241.1 739.6 241.2 743.7 240.8 747.8 240.4 751.9 240 756 239.6 760.2 239.2 764.3 238.8 768.4 238.4 772.5 238 776.6 237.6"/>
<path d="M444 242.4L448.2 242.3 452.4 242.1 456.6 241.8 460.8 241.4 465.1 241 469.3 240.7 473.5 240.4 477.7 240.3 481.9 240.3 486.1 240.4 490.3 240.7 494.5 241.1 498.8 241.5 503 241.9 507.2 242.2 511.4 242.4 515.6 242.5 519.8 242.6 524 242.8 528.1 243.2 532.3 243.5 536.5 243.8 540.7 244.1 544.9 244.3 549 244.4 553.2 244.4 557.4 244.4 561.6 244.6 565.7 245 569.9 245.7 574 246.6 578.2 247.6 582.4 248.6 586.5 249.5 590.7 250.2 594.8 250.6 599 250.8 603.2 250.7 607.3 250.3 611.5 249.6 615.6 248.8 619.8 247.9 624 247 628.1 246.1 632.3 245.5 636.4 245 640.6 244.9 645.2 244.2 649.8 242.9 654.4 242 659 241.7 663.6 241.7 667.8 241.9 672.1 242.4 676.3 243.2 680.5 244.2 684.7 245.3 689 246.4 693.2 247.4 697.4 248.2 701.7 248.8 705.9 249.2 710.1 249.4 714.4 249.3 718.6 249.2 722.8 249 727 248.8 731.3 248.6 735.5 248.6 739.6 249 743.7 250.1 747.8 251.5 751.9 252.8 756 253.5 760.2 253.5 764.3 252.8 768.4 251.9 772.5 251.1 776.6 250.8"/>
<path d="M444 245.6L448.2 245.9 452.4 246.7 456.6 247.9 460.8 249.4 465.1 250.9 469.3 252.3 473.5 253.3 477.7 253.8 481.9 253.7 486.1 253.1 490.3 252 494.5 250.6 498.8 249 503 247.5 507.2 246.2 511.4 245.4 515.6 245.1 519.8 244.9 524 244.3 528.1 243.5 532.3 242.8 536.5 242.4 540.7 242.4 544.9 242.7 549 243.1 553.2 243.5 557.4 243.7 561.6 243.8 565.7 244 569.9 244.3 574 244.8 578.2 245.3 582.4 245.7 586.5 246.1 590.7 246.4 594.8 246.5 599 246.4 603.2 246.2 607.3 245.7 611.5 245.2 615.6 244.5 619.8 243.8 624 243.1 628.1 242.4 632.3 241.9 636.4 241.6 640.6 241.5 645.2 241.9 649.8 242.7 654.4 243 659 242.7 663.6 242.4 667.8 242.6 672.1 243.1 676.3 243.8 680.5 244.7 684.7 245.5 689 246.3 693.2 246.9 697.4 247.2 701.7 247.2 705.9 246.9 710.1 246.2 714.4 245.4 718.6 244.5 722.8 243.6 727 242.9 731.3 242.4 735.5 242.2 739.6 242.2 743.7 243 747.8 243.7 751.9 244.4 756 245.1 760.2 245.8 764.3 246.6 768.4 247.3 772.5 248 776.6 248.7"/>
<path d="M444 235.8L448.2 236.1 452.4 236.8 456.6 237.9 460.8 239.3 465.1 240.8 469.3 242.2 473.5 243.4 477.7 244.3 481.9 244.8 486.1 245 490.3 244.8 494.5 244.3 498.8 243.6 503 242.9 507.2 242.4 511.4 242 515.6 241.8 519.8 241.9 524 242 528.1 242.3 532.3 242.8 536.5 243.4 540.7 244.3 544.9 245.1 549 246 553.2 246.6 557.4 246.8 561.6 246.8 565.7 246.8 569.9 246.8 574 246.9 578.2 246.9 582.4 246.9 586.5 246.9 590.7 246.8 594.8 246.7 599 246.5 603.2 246.3 607.3 246.1 611.5 245.8 615.6 245.5 619.8 245.2 624 244.9 628.1 244.7 632.3 244.5 636.4 244.3 640.6 244.3 645.2 244.8 649.8 246 654.4 247 659 247.7 663.6 247.9 667.8 247.9 672.1 247.8 676.3 247.7 680.5 247.6 684.7 247.4 689 247.2 693.2 247.1 697.4 246.9 701.7 246.7 705.9 246.6 710.1 246.5 714.4 246.4 718.6 246.3 722.8 246.2 727 246.2 731.3 246.1 735.5 246.1 739.6 245.9 743.7 245.5 747.8 245.1 751.9 244.9 756 245.3 760.2 246.2 764.3 247.6 768.4 249 772.5 250.1 776.6 250.6"/>
<path d="M444 244L448.2 244 452.4 244 456.6 243.9 460.8 243.9 465.1 243.8 469.3 243.7 473.5 243.6 477.7 243.5 481.9 243.4 486.1 243.4 490.3 243.3 494.5 243.2 498.8 243.1 503 243 507.2 243 511.4 242.9 515.6 242.9 519.8 242.8 524 242.4 528.1 242 532.3 241.9 536.5 242.1 540.7 242.8 544.9 243.7 549 244.8 553.2 245.6 557.4 245.9 561.6 245.8 565.7 245.6 569.9 245.3 574 244.9 578.2 244.5 582.4 244.1 586.5 243.7 590.7 243.4 594.8 243.2 599 243.1 603.2 243.2 607.3 243.4 611.5 243.7 615.6 244.1 619.8 244.5 624 245 628.1 245.4 632.3 245.7 636.4 245.9 640.6 245.9 645.2 246.5 649.8 247.6 654.4 248.2 659 248.2 663.6 248 667.8 248.4 672.1 249.2 676.3 250.6 680.5 252.1 684.7 253.8 689 255.1 693.2 256.1 697.4 256.4 701.7 256.1 705.9 255.1 710.1 253.5 714.4 251.5 718.6 249.3 722.8 247.3 727 245.6 731.3 244.5 735.5 244.2 739.6 244.1 743.7 243.9 747.8 243.7 751.9 244.4 756 245.1 760.2 245.8 764.3 246.6 768.4 247.3 772.5 248 776.6 248.7"/>
<path d="M444 243.8L448.2 243.8 452.4 244 456.6 244.3 460.8 244.6 465.1 244.9 469.3 245.2 473.5 245.3 477.7 245.4 481.9 245.3 486.1 245 490.3 244.6 494.5 244.2 498.8 243.7 503 243.2 507.2 242.9 511.4 242.6 515.6 242.5 519.8 242.6 524 242.7 528.1 242.9 532.3 243.4 536.5 244.2 540.7 245.2 544.9 246.3 549 247.4 553.2 248.2 557.4 248.5 561.6 248.3 565.7 247.5 569.9 246.2 574 244.7 578.2 243 582.4 241.3 586.5 239.9 590.7 238.9 594.8 238.5 599 238.7 603.2 239.5 607.3 241 611.5 242.9 615.6 245.2 619.8 247.7 624 250.1 628.1 252.3 632.3 254 636.4 255.1 640.6 255.4 645.2 255.5 649.8 255.3 654.4 254.3 659 253 663.6 252.4 667.8 252.7 672.1 253.6 676.3 254.9 680.5 256.4 684.7 258.1 689 259.5 693.2 260.5 697.4 261 701.7 260.9 705.9 260.2 710.1 259 714.4 257.3 718.6 255.5 722.8 253.8 727 252.4 731.3 251.5 735.5 251.2 739.6 250.9 743.7 250.4 747.8 249.7 751.9 249.2 756 248.9 760.2 249.1 764.3 249.6 768.4 250.3 772.5 250.8 776.6 251"/>
<path d="M444 259L448.2 258.9 452.4 258.9 456.6 258.8 460.8 258.7 465.1 258.5 469.3 258.2 473.5 257.8 477.7 257.1 481.9 256.4 486.1 255.4 490.3 254.4 494.5 253.4 498.8 252.4 503 251.5 507.2 250.8 511.4 250.3 515.6 250.2 519.8 250.3 524 250.7 528.1 251.2 532.3 251.3 536.5 251 540.7 250.1 544.9 248.7 549 247.3 553.2 246.3 557.4 245.9 561.6 245.9 565.7 245.8 569.9 245.8 574 245.8 578.2 245.7 582.4 245.7 586.5 245.6 590.7 245.6 594.8 245.7 599 245.7 603.2 245.8 607.3 245.9 611.5 246 615.6 246.2 619.8 246.3 624 246.5 628.1 246.6 632.3 246.7 636.4 246.8 640.6 246.8 645.2 247.1 649.8 247.6 654.4 248 659 248.1 663.6 248.1 667.8 248 672.1 247.7 676.3 247.1 680.5 246.5 684.7 245.7 689 245 693.2 244.3 697.4 243.7 701.7 243.2 705.9 242.9 710.1 242.7 714.4 242.7 718.6 242.7 722.8 242.8 727 242.9 731.3 242.9 735.5 242.9 739.6 243.3 743.7 244.2 747.8 245.3 751.9 246.3 756 246.9 760.2 246.9 764.3 246.6 768.4 247.3 772.5 248 776.6 248.7"/>
<path d="M444 248.8L448.2 248.6 452.4 247.9 456.6 246.8 460.8 245.5 465.1 244.2 469.3 242.9 473.5 241.8 477.7 241.1 481.9 240.8 486.1 240.9 490.3 241.3 494.5 242.1 498.8 242.9 503 243.8 507.2 244.5 511.4 245 515.6 245.2 519.8 245.5 524 246.4 528.1 247.6 532.3 248.9 536.5 250.2 540.7 251.3 544.9 252.2 549 252.8 553.2 253.2 557.4 253.4 561.6 253.2 565.7 252.8 569.9 252 574 251.1 578.2 250.1 582.4 249.1 586.5 248.1 590.7 247.3 594.8 246.8 599 246.5 603.2 246.5 607.3 246.8 611.5 247.3 615.6 248 619.8 248.8 624 249.6 628.1 250.4 632.3 251 636.4 251.4 640.6 251.5 645.2 251 649.8 250.6 654.4 251.5 659 253.6 663.6 254.7 667.8 254.5 672.1 253.9 676.3 253 680.5 251.9 684.7 250.7 689 249.6 693.2 248.6 697.4 247.9 701.7 247.5 705.9 247.5 710.1 247.7 714.4 248.1 718.6 248.7 722.8 249.2 727 249.7 731.3 250.1 735.5 250.2 739.6 249.9 743.7 249.1 747.8 248.1 751.9 247.2 756 246.7 760.2 246.6 764.3 247 768.4 247.7 772.5 248.2 776.6 248.7"/>
<path d="M444 250.9L448.2 251 452.4 251.6 456.6 252.3 460.8 253.3 465.1 254.3 469.3 255.3 473.5 256.1 477.7 256.7 481.9 257.1 486.1 257.1 490.3 257 494.5 256.6 498.8 256.1 503 255.6 507.2 255.1 511.4 254.9 515.6 254.7 519.8 254.7 524 254.4 528.1 254.1 532.3 253.9 536.5 253.9 540.7 254.1 544.9 254.5 549 254.9 553.2 255.2 557.4 255.3 561.6 255.3 565.7 255.1 569.9 254.7 574 254.3 578.2 253.8 582.4 253.2 586.5 252.5 590.7 251.9 594.8 251.2 599 250.6 603.2 249.9 607.3 249.4 611.5 248.8 615.6 248.4 619.8 247.9 624 247.6 628.1 247.3 632.3 247.1 636.4 246.9 640.6 246.9 645.2 246.6 649.8 246.1 654.4 246 659 246.3 663.6 246.5 667.8 246.5 672.1 246.5 676.3 246.6 680.5 246.7 684.7 246.8 689 246.9 693.2 247 697.4 247.1 701.7 247.2 705.9 247.2 710.1 247.3 714.4 247.3 718.6 247.4 722.8 247.4 727 247.4 731.3 247.4 735.5 247.4 739.6 246.9 743.7 245.6 747.8 243.9 751.9 244.4 756 245.1 760.2 245.8 764.3 246.6 768.4 247.3 772.5 248 776.6 248.7"/>
<path d="M444 262.4L448.2 262.3 452.4 262 456.6 261.5 460.8 260.8 465.1 260.1 469.3 259.3 473.5 258.5 477.7 257.8 481.9 257.2 486.1 256.6 490.3 256.2 494.5 255.8 498.8 255.6 503 255.4 507.2 255.3 511.4 255.2 515.6 255.2 519.8 255.3 524 255.7 528.1 256.1 532.3 256.7 536.5 257.1 540.7 257.4 544.9 257.6 549 257.7 553.2 257.7 557.4 257.8 561.6 258.2 565.7 259.3 569.9 261.1 574 263.3 578.2 265.7 582.4 268.1 586.5 270.1 590.7 271.6 594.8 272.3 599 272.1 603.2 271 607.3 269.1 611.5 266.5 615.6 263.3 619.8 260 624 256.7 628.1 253.7 632.3 251.4 636.4 249.9 640.6 249.4 645.2 248.8 649.8 247.8 654.4 247.9 659 248.9 663.6 249.6 667.8 249.5 672.1 249.3 676.3 249.1 680.5 248.8 684.7 248.4 689 248.1 693.2 247.9 697.4 247.7 701.7 247.7 705.9 247.7 710.1 247.9 714.4 248.1 718.6 248.4 722.8 248.6 727 248.8 731.3 249 735.5 249 739.6 249.2 743.7 249.6 747.8 250 751.9 250 756 249.5 760.2 248.3 764.3 246.7 768.4 247.3 772.5 248 776.6 248.7"/>
<path d="M444 254.5L448.2 254.3 452.4 253.9 456.6 253.2 460.8 252.4 465.1 251.4 469.3 250.5 473.5 249.7 477.7 249 481.9 248.5 486.1 248.2 490.3 248.1 494.5 248.1 498.8 248.2 503 248.4 507.2 248.5 511.4 248.6 515.6 248.7 519.8 248.2 524 246.8 528.1 245.1 532.3 243.5 536.5 242.4 540.7 242.2 544.9 242.6 549 243.4 553.2 244.1 557.4 244.4 561.6 244.4 565.7 244.5 569.9 244.6 574 244.8 578.2 245.1 582.4 245.4 586.5 245.8 590.7 246.3 594.8 246.9 599 247.6 603.2 248.3 607.3 249.1 611.5 249.9 615.6 250.8 619.8 251.5 624 252.2 628.1 252.9 632.3 253.3 636.4 253.6 640.6 253.7 645.2 252.9 649.8 251.5 654.4 251 659 251.5 663.6 252 667.8 252.1 672.1 252.3 676.3 252.8 680.5 253.3 684.7 253.8 689 254.2 693.2 254.5 697.4 254.7 701.7 254.6 705.9 254.3 710.1 253.8 714.4 253.3 718.6 252.6 722.8 252 727 251.5 731.3 251.2 735.5 251.1 739.6 251 743.7 250.8 747.8 250.6 751.9 250.5 756 250.7 760.2 251.2 764.3 251.8 768.4 252.6 772.5 253.1 776.6 253.3"/>
<path d="M444 254.6L448.2 254.8 452.4 255.2 456.6 255.8 460.8 256.6 465.1 257.5 469.3 258.4 473.5 259.2 477.7 260 481.9 260.6 486.1 261.1 490.3 261.4 494.5 261.6 498.8 261.6 503 261.7 507.2 261.7 511.4 261.7 515.6 261.6 519.8 261.1 524 259.5 528.1 257.6 532.3 256 536.5 255.4 540.7 255.9 544.9 257.4 549 259.3 553.2 260.8 557.4 261.4 561.6 261.2 565.7 260.7 569.9 260 574 259.1 578.2 258.1 582.4 257 586.5 256 590.7 255.2 594.8 254.5 599 254.1 603.2 253.9 607.3 254 611.5 254.4 615.6 254.9 619.8 255.4 624 256.1 628.1 256.6 632.3 257.1 636.4 257.4 640.6 257.5 645.2 257.9 649.8 258.3 654.4 257.2 659 255 663.6 253.8 667.8 253.5 672.1 252.7 676.3 251.5 680.5 250 684.7 248.4 689 246.8 693.2 245.5 697.4 244.6 701.7 244.1 705.9 244.1 710.1 244.5 714.4 245.2 718.6 246.1 722.8 247 727 247.8 731.3 248.3 735.5 248.4 739.6 248.2 743.7 247.6 747.8 247 751.9 246.5 756 246.6 760.2 247.4 764.3 248.5 768.4 249.8 772.5 250.8 776.6 251.2"/>
<path d="M444 261.2L448.2 261.3 452.4 261.7 456.6 262.2 460.8 262.9 465.1 263.6 469.3 264.2 473.5 264.7 477.7 265.1 481.9 265.3 486.1 265.3 490.3 265.1 494.5 264.7 498.8 264.3 503 263.9 507.2 263.6 511.4 263.3 515.6 263.3 519.8 263.2 524 263 528.1 262.6 532.3 262.2 536.5 261.7 540.7 261.1 544.9 260.4 549 259.9 553.2 259.5 557.4 259.4 561.6 259.2 565.7 258.5 569.9 257.4 574 256 578.2 254.5 582.4 253 586.5 251.6 590.7 250.5 594.8 249.7 599 249.3 603.2 249.4 607.3 249.8 611.5 250.7 615.6 251.8 619.8 253.1 624 254.4 628.1 255.5 632.3 256.5 636.4 257.1 640.6 257.3 645.2 257.3 649.8 257.7 654.4 258.7 659 260.2 663.6 261 667.8 261.1 672.1 261.3 676.3 261.6 680.5 262 684.7 262.4 689 262.8 693.2 263.2 697.4 263.4 701.7 263.6 705.9 263.6 710.1 263.6 714.4 263.4 718.6 263.3 722.8 263.1 727 262.9 731.3 262.8 735.5 262.8 739.6 262.9 743.7 263.3 747.8 263.6 751.9 263.8 756 263.7 760.2 263.1 764.3 262.3 768.4 261.3 772.5 260.6 776.6 260.4"/>
<path d="M444 251.7L448.2 251.6 452.4 251.4 456.6 251 460.8 250.5 465.1 250 469.3 249.5 473.5 249 477.7 248.6 481.9 248.3 486.1 248.1 490.3 247.9 494.5 247.9 498.8 247.9 503 248 507.2 248 511.4 248.1 515.6 248.1 519.8 248.5 524 249.5 528.1 250.9 532.3 252.2 536.5 253 540.7 253.2 544.9 252.9 549 252.3 553.2 251.8 557.4 251.6 561.6 251.4 565.7 250.8 569.9 249.9 574 248.7 578.2 247.4 582.4 246.2 586.5 245 590.7 244.1 594.8 243.5 599 243.4 603.2 243.6 607.3 244.3 611.5 245.3 615.6 246.5 619.8 247.8 624 249.2 628.1 250.4 632.3 251.4 636.4 252 640.6 252.2 645.2 252.3 649.8 252.3 654.4 251.4 659 249.9 663.6 249.2 667.8 249.1 672.1 249.1 676.3 248.9 680.5 248.8 684.7 248.7 689 248.7 693.2 248.8 697.4 249.1 701.7 249.5 705.9 250 710.1 250.6 714.4 251.2 718.6 251.9 722.8 252.5 727 253 731.3 253.3 735.5 253.4 739.6 253.3 743.7 253.1 747.8 253 751.9 253.1 756 253.6 760.2 254.6 764.3 255.9 768.4 257.1 772.5 258.1 776.6 258.4"/>
<path d="M444 246L448.2 246.4 452.4 247.4 456.6 249 460.8 250.9 465.1 253 469.3 255 473.5 256.7 477.7 257.9 481.9 258.6 486.1 258.7 490.3 258.2 494.5 257.4 498.8 256.4 503 255.3 507.2 254.4 511.4 253.7 515.6 253.5 519.8 254 524 255.3 528.1 256.9 532.3 258.3 536.5 259.3 540.7 259.4 544.9 259 549 258.2 553.2 257.5 557.4 257.3 561.6 257.3 565.7 257.2 569.9 257.2 574 257.1 578.2 257 582.4 257 586.5 257 590.7 257 594.8 257.1 599 257.2 603.2 257.4 607.3 257.7 611.5 257.9 615.6 258.3 619.8 258.6 624 258.9 628.1 259.1 632.3 259.3 636.4 259.5 640.6 259.5 645.2 258.3 649.8 256.5 654.4 256.9 659 259.3 663.6 260.7 667.8 260.9 672.1 261.3 676.3 262 680.5 262.8 684.7 263.6 689 264.5 693.2 265.2 697.4 265.8 701.7 266.1 705.9 266.2 710.1 266.1 714.4 265.8 718.6 265.5 722.8 265.1 727 264.8 731.3 264.6 735.5 264.5 739.6 264 743.7 262.9 747.8 261.5 751.9 260.5 756 260.3 760.2 261.3 764.3 263 768.4 264.2 772.5 264 776.6 263.7"/>
<path d="M444 272.4L448.2 272.5 452.4 273 456.6 273.6 460.8 274.4 465.1 275.1 469.3 275.7 473.5 275.9 477.7 275.9 481.9 275.4 486.1 274.5 490.3 273.2 494.5 271.8 498.8 270.3 503 268.9 507.2 267.7 511.4 267 515.6 266.7 519.8 266.2 524 264.8 528.1 263.1 532.3 261.7 536.5 261.1 540.7 261.7 544.9 263.1 549 264.8 553.2 266.2 557.4 266.8 561.6 266.8 565.7 267 569.9 267.2 574 267.6 578.2 267.9 582.4 268.2 586.5 268.5 590.7 268.6 594.8 268.7 599 268.6 603.2 268.3 607.3 267.9 611.5 267.5 615.6 266.9 619.8 266.3 624 265.7 628.1 265.2 632.3 264.8 636.4 264.5 640.6 264.4 645.2 264.4 649.8 264.4 654.4 264.4 659 264.4 663.6 264.4 667.8 264.3 672.1 264 676.3 263.6 680.5 263.1 684.7 262.6 689 262.2 693.2 261.9 697.4 261.7 701.7 261.7 705.9 261.9 710.1 262.3 714.4 262.8 718.6 263.3 722.8 263.8 727 264.2 731.3 264.5 735.5 264.6 739.6 264.2 743.7 263.2 747.8 262.1 751.9 261.1 756 260.7 760.2 261.1 764.3 262.1 768.4 263.3 772.5 264 776.6 263.7"/>
<path d="M444 268.2L448.2 268.3 452.4 268.6 456.6 269.1 460.8 269.7 465.1 270.4 469.3 271 473.5 271.6 477.7 272.1 481.9 272.3 486.1 272.5 490.3 272.4 494.5 272.3 498.8 272.1 503 271.8 507.2 271.6 511.4 271.5 515.6 271.4 519.8 271.4 524 271.3 528.1 271.2 532.3 271.1 536.5 271.2 540.7 271.3 544.9 271.5 549 271.7 553.2 271.9 557.4 271.9 561.6 271.9 565.7 271.7 569.9 271.5 574 271.2 578.2 270.8 582.4 270.4 586.5 269.9 590.7 269.3 594.8 268.7 599 268 603.2 267.3 607.3 266.6 611.5 265.8 615.6 265.1 619.8 264.4 624 263.8 628.1 263.3 632.3 262.9 636.4 262.7 640.6 262.6 645.2 261.8 649.8 260.6 654.4 261.6 659 264.3 663.6 265.8 667.8 265.6 672.1 265.1 676.3 264.3 680.5 263.3 684.7 262.1 689 260.8 693.2 259.5 697.4 258.2 701.7 256.9 705.9 255.7 710.1 254.6 714.4 253.6 718.6 252.8 722.8 252.1 727 251.6 731.3 251.3 735.5 251.2 739.6 251.5 743.7 252.3 747.8 253.3 751.9 254.3 756 255.1 760.2 255.6 764.3 255.7 768.4 255.6 772.5 255.5 776.6 255.4"/>
<path d="M444 255.9L448.2 255.6 452.4 254.8 456.6 253.6 460.8 252.2 465.1 250.8 469.3 249.7 473.5 249.1 477.7 249.2 481.9 250 486.1 251.6 490.3 253.8 494.5 256.5 498.8 259.2 503 261.7 507.2 263.8 511.4 265.2 515.6 265.7 519.8 265.5 524 264.9 528.1 264.4 532.3 264 536.5 264.2 540.7 264.9 544.9 266 549 267.2 553.2 268.2 557.4 268.6 561.6 268.4 565.7 268.1 569.9 267.7 574 267.1 578.2 266.4 582.4 265.6 586.5 264.9 590.7 264.3 594.8 263.8 599 263.4 603.2 263.1 607.3 263 611.5 263 615.6 263.2 619.8 263.4 624 263.6 628.1 263.8 632.3 264 636.4 264.2 640.6 264.2 645.2 263.3 649.8 261.9 654.4 261.6 659 262.6 663.6 263.2 667.8 263.7 672.1 264.9 676.3 266.9 680.5 269.2 684.7 271.7 689 274.1 693.2 276 697.4 277.3 701.7 277.8 705.9 277.6 710.1 276.8 714.4 275.4 718.6 273.8 722.8 272.2 727 270.8 731.3 269.9 735.5 269.6 739.6 269.3 743.7 268.7 747.8 267.8 751.9 266.9 756 266.2 760.2 266.3 764.3 266.5 768.4 266.8 772.5 267 776.6 267.3"/>
<path d="M444 265L448.2 265.3 452.4 266.1 456.6 267.4 460.8 269 465.1 270.6 469.3 272 473.5 273.2 477.7 273.8 481.9 273.8 486.1 273.3 490.3 272.3 494.5 271 498.8 269.5 503 268 507.2 266.8 511.4 266 515.6 265.7 519.8 265.8 524 266.2 528.1 266.7 532.3 267.4 536.5 268.2 540.7 269.1 544.9 270.1 549 270.9 553.2 271.5 557.4 271.7 561.6 271.3 565.7 270.4 569.9 268.9 574 267 578.2 264.9 582.4 262.9 586.5 261.1 590.7 259.6 594.8 258.8 599 258.6 603.2 259.1 607.3 260.2 611.5 261.9 615.6 264 619.8 266.3 624 268.5 628.1 270.6 632.3 272.2 636.4 273.2 640.6 273.6 645.2 274.6 649.8 276 654.4 275.5 659 273.1 663.6 271.8 667.8 272 672.1 272.6 676.3 273.5 680.5 274.6 684.7 275.8 689 276.9 693.2 277.8 697.4 278.4 701.7 278.7 705.9 278.6 710.1 278.1 714.4 277.5 718.6 276.7 722.8 275.9 727 275.2 731.3 274.8 735.5 274.6 739.6 274.8 743.7 275.2 747.8 275.8 751.9 276.2 756 276.3 760.2 276 764.3 275.4 768.4 274.8 772.5 274.2 776.6 274"/>
<path d="M444 281.5L448.2 281.6 452.4 282 456.6 282.7 460.8 283.4 465.1 284.1 469.3 284.7 473.5 285 477.7 285 481.9 284.5 486.1 283.8 490.3 282.7 494.5 281.4 498.8 280 503 278.7 507.2 277.7 511.4 277 515.6 276.8 519.8 276.9 524 277.3 528.1 277.7 532.3 277.9 536.5 277.5 540.7 276.7 544.9 275.5 549 274.2 553.2 273.3 557.4 272.9 561.6 272.9 565.7 273 569.9 273.2 574 273.4 578.2 273.6 582.4 273.9 586.5 274 590.7 274.2 594.8 274.2 599 274.2 603.2 274 607.3 273.8 611.5 273.5 615.6 273.2 619.8 272.8 624 272.5 628.1 272.2 632.3 271.9 636.4 271.8 640.6 271.7 645.2 272.4 649.8 273.3 654.4 272.8 659 271.1 663.6 270.1 667.8 270.1 672.1 270.1 676.3 270.2 680.5 270.2 684.7 270.4 689 270.6 693.2 270.8 697.4 271.2 701.7 271.6 705.9 272.2 710.1 272.7 714.4 273.3 718.6 273.9 722.8 274.4 727 274.8 731.3 275.1 735.5 275.2 739.6 274.8 743.7 273.9 747.8 272.7 751.9 271.4 756 270.2 760.2 269.4 764.3 268.9 768.4 268.7 772.5 268.6 776.6 268.6"/>
<path d="M444 268.6L448.2 268.4 452.4 267.7 456.6 266.8 460.8 265.7 465.1 264.7 469.3 263.8 473.5 263.4 477.7 263.5 481.9 264.2 486.1 265.5 490.3 267.2 494.5 269.3 498.8 271.4 503 273.4 507.2 275.1 511.4 276.1 515.6 276.5 519.8 276.6 524 276.8 528.1 276.9 532.3 276.8 536.5 276.3 540.7 275.4 544.9 274.2 549 273 553.2 272 557.4 271.7 561.6 271.9 565.7 272.5 569.9 273.5 574 274.7 578.2 276 582.4 277.3 586.5 278.5 590.7 279.3 594.8 279.8 599 279.7 603.2 279.3 607.3 278.3 611.5 277 615.6 275.5 619.8 273.8 624 272.1 628.1 270.6 632.3 269.4 636.4 268.7 640.6 268.4 645.2 267.7 649.8 266.6 654.4 266.5 659 267.5 663.6 268.2 667.8 268.1 672.1 267.7 676.3 267.2 680.5 266.5 684.7 265.8 689 265 693.2 264.2 697.4 263.4 701.7 262.7 705.9 262.2 710.1 261.7 714.4 261.3 718.6 261 722.8 260.8 727 260.6 731.3 260.5 735.5 260.5 739.6 260.6 743.7 261 747.8 261.5 751.9 262.3 756 263.3 760.2 264.4 764.3 264.5 768.4 264.2 772.5 264 776.6 263.7"/>
<path d="M444 270.1L448.2 270.1 452.4 269.9 456.6 269.6 460.8 269.2 465.1 268.8 469.3 268.3 473.5 267.8 477.7 267.3 481.9 266.7 486.1 266.2 490.3 265.7 494.5 265.2 498.8 264.8 503 264.5 507.2 264.2 511.4 264 515.6 264 519.8 264.3 524 265.4 528.1 266.8 532.3 268.3 536.5 269.5 540.7 270.5 544.9 271 549 271.3 553.2 271.4 557.4 271.4 561.6 271.3 565.7 270.9 569.9 270.3 574 269.5 578.2 268.5 582.4 267.6 586.5 266.6 590.7 265.6 594.8 264.7 599 264 603.2 263.4 607.3 263 611.5 262.7 615.6 262.5 619.8 262.4 624 262.4 628.1 262.4 632.3 262.5 636.4 262.5 640.6 262.5 645.2 263.2 649.8 264.7 654.4 266.2 659 267.1 663.6 267.5 667.8 267.2 672.1 266.4 676.3 265.2 680.5 263.8 684.7 262.3 689 260.9 693.2 259.8 697.4 259.1 701.7 258.9 705.9 259.2 710.1 259.9 714.4 261 718.6 262.2 722.8 263.4 727 264.3 731.3 265 735.5 265.2 739.6 266.7 743.7 270.6 747.8 275.6 751.9 280 756 282.5 760.2 282.6 764.3 280.5 768.4 277.4 772.5 274.8 776.6 273.8"/>
<path d="M444 265.8L448.2 265.9 452.4 266.2 456.6 266.7 460.8 267.2 465.1 267.8 469.3 268.3 473.5 268.6 477.7 268.6 481.9 268.4 486.1 268 490.3 267.3 494.5 266.5 498.8 265.6 503 264.7 507.2 264.1 511.4 263.6 515.6 263.5 519.8 264 524 265.3 528.1 267.1 532.3 268.7 536.5 269.7 540.7 269.9 544.9 269.5 549 268.6 553.2 267.9 557.4 267.7 561.6 267.8 565.7 268.3 569.9 269 574 269.8 578.2 270.8 582.4 271.7 586.5 272.5 590.7 273 594.8 273.3 599 273.1 603.2 272.7 607.3 271.8 611.5 270.7 615.6 269.4 619.8 268 624 266.7 628.1 265.5 632.3 264.5 636.4 263.9 640.6 263.7 645.2 264.4 649.8 265.7 654.4 266.5 659 266.7 663.6 266.7 667.8 267.1 672.1 268.2 676.3 270 680.5 272.2 684.7 274.4 689 276.4 693.2 278 697.4 278.8 701.7 278.8 705.9 277.9 710.1 276.4 714.4 274.4 718.6 272.2 722.8 270 727 268.2 731.3 267 735.5 266.6 739.6 266.1 743.7 264.7 747.8 263 751.9 261.6 756 261.1 760.2 261.5 764.3 262.7 768.4 264.2 772.5 264 776.6 263.7"/>
<path d="M444 288.7L448.2 288.4 452.4 287.5 456.6 286 460.8 284.3 465.1 282.4 469.3 280.7 473.5 279.2 477.7 278.3 481.9 277.9 486.1 278.1 490.3 278.7 494.5 279.8 498.8 281 503 282.2 507.2 283.3 511.4 283.9 515.6 284.2 519.8 284.5 524 285.3 528.1 286.3 532.3 287.2 536.5 287.7 540.7 287.7 544.9 287.3 549 286.6 553.2 286 557.4 285.8 561.6 285.8 565.7 285.7 569.9 285.6 574 285.5 578.2 285.3 582.4 285 586.5 284.7 590.7 284.4 594.8 283.9 599 283.5 603.2 282.9 607.3 282.3 611.5 281.7 615.6 281.1 619.8 280.6 624 280 628.1 279.6 632.3 279.2 636.4 279 640.6 278.9 645.2 278.3 649.8 277.1 654.4 276.9 659 277.6 663.6 278.1 667.8 278.2 672.1 278.5 676.3 278.9 680.5 279.5 684.7 280 689 280.5 693.2 280.9 697.4 281.2 701.7 281.3 705.9 281.2 710.1 281 714.4 280.7 718.6 280.3 722.8 279.9 727 279.6 731.3 279.4 735.5 279.3 739.6 279.5 743.7 280 747.8 280.8 751.9 281.7 756 282.7 760.2 283.7 764.3 284.6 768.4 285.3 772.5 285.8 776.6 285.9"/>
<path d="M444 265.4L448.2 265.3 452.4 265.1 456.6 264.7 460.8 264.3 465.1 264 469.3 263.8 473.5 263.8 477.7 264.2 481.9 264.8 486.1 265.7 490.3 266.9 494.5 268.2 498.8 269.6 503 270.8 507.2 271.8 511.4 272.4 515.6 272.7 519.8 272.5 524 272 528.1 271.5 532.3 271.4 536.5 271.8 540.7 272.9 544.9 274.4 549 276 553.2 277.3 557.4 277.7 561.6 277.6 565.7 277.3 569.9 276.8 574 276.3 578.2 275.7 582.4 275.1 586.5 274.7 590.7 274.6 594.8 274.7 599 275.2 603.2 276 607.3 277.2 611.5 278.5 615.6 280.1 619.8 281.7 624 283.2 628.1 284.5 632.3 285.5 636.4 286.2 640.6 286.4 645.2 286.6 649.8 286.5 654.4 285 659 282.6 663.6 281.3 667.8 280.7 672.1 279.1 676.3 276.5 680.5 273.5 684.7 270.3 689 267.4 693.2 265.3 697.4 264.1 701.7 264.1 705.9 265.3 710.1 267.4 714.4 270.3 718.6 273.4 722.8 276.5 727 279 731.3 280.7 735.5 281.3 739.6 280.7 743.7 279.2 747.8 277.4 751.9 275.8 756 275.1 760.2 275.4 764.3 276.6 768.4 278.2 772.5 279.5 776.6 280"/>
<path d="M444 268.5L448.2 268.5 452.4 268.4 456.6 268.3 460.8 268.1 465.1 268 469.3 267.8 473.5 267.7 477.7 267.7 481.9 267.7 486.1 267.8 490.3 268 494.5 268.1 498.8 268.3 503 268.5 507.2 268.7 511.4 268.8 515.6 268.8 519.8 268.7 524 268.5 528.1 268.1 532.3 267.6 536.5 266.9 540.7 266.1 544.9 265.3 549 264.5 553.2 264 557.4 263.8 561.6 263.6 565.7 262.9 569.9 261.9 574 260.7 578.2 259.3 582.4 257.9 586.5 256.7 590.7 255.8 594.8 255.2 599 255 603.2 255.3 607.3 256.1 611.5 257.1 615.6 258.5 619.8 260 624 261.5 628.1 262.8 632.3 263.8 636.4 264.5 640.6 264.7 645.2 264.2 649.8 263.9 654.4 265.7 659 269.2 663.6 271 667.8 271 672.1 271.2 676.3 271.4 680.5 271.8 684.7 272.2 689 272.6 693.2 273.2 697.4 273.7 701.7 274.3 705.9 274.9 710.1 275.5 714.4 276 718.6 276.5 722.8 277 727 277.3 731.3 277.5 735.5 277.6 739.6 277.6 743.7 277.6 747.8 277.6 751.9 277.6 756 277.4 760.2 277.3 764.3 277 768.4 276.8 772.5 276.6 776.6 276.5"/>
<path d="M444 273.7L448.2 273.5 452.4 272.7 456.6 271.5 460.8 270.1 465.1 268.8 469.3 267.7 473.5 267 477.7 267 481.9 267.6 486.1 268.8 490.3 270.7 494.5 272.9 498.8 275.2 503 277.4 507.2 279.1 511.4 280.3 515.6 280.7 519.8 279.9 524 277.7 528.1 275 532.3 272.8 536.5 272 540.7 272.8 544.9 274.9 549 277.5 553.2 279.6 557.4 280.5 561.6 280.3 565.7 279.7 569.9 278.7 574 277.6 578.2 276.3 582.4 275 586.5 273.8 590.7 272.8 594.8 272.1 599 271.7 603.2 271.8 607.3 272.2 611.5 272.9 615.6 273.8 619.8 274.9 624 276 628.1 276.9 632.3 277.7 636.4 278.2 640.6 278.4 645.2 279.2 649.8 280.4 654.4 280.5 659 279.2 663.6 278.4 667.8 278.3 672.1 277.8 676.3 277 680.5 276.1 684.7 275.2 689 274.3 693.2 273.6 697.4 273 701.7 272.8 705.9 272.9 710.1 273.2 714.4 273.7 718.6 274.3 722.8 274.9 727 275.4 731.3 275.7 735.5 275.9 739.6 275 743.7 272.8 747.8 270.2 751.9 268.4 756 268.1 760.2 269.9 764.3 273.2 768.4 277 772.5 279.9 776.6 281.1"/>
<path d="M444 286.9L448.2 286.6 452.4 285.5 456.6 283.9 460.8 282 465.1 280 469.3 278.1 473.5 276.6 477.7 275.7 481.9 275.4 486.1 275.8 490.3 276.7 494.5 278.1 498.8 279.7 503 281.2 507.2 282.5 511.4 283.4 515.6 283.7 519.8 283 524 281.3 528.1 279.2 532.3 277.7 536.5 277.5 540.7 278.8 544.9 281.4 549 284.3 553.2 286.7 557.4 287.6 561.6 287.9 565.7 289 569.9 290.7 574 292.8 578.2 295.2 582.4 295.7 586.5 295.7 590.7 295.7 594.8 295.7 599 295.7 603.2 295.7 607.3 295.7 611.5 295.7 615.6 295.7 619.8 295.7 624 295.7 628.1 295.2 632.3 293.9 636.4 293 640.6 292.7 645.2 292.4 649.8 291.8 654.4 291.8 659 292.4 663.6 292.7 667.8 293 672.1 294 676.3 295.4 680.5 295.7 684.7 295.7 689 295.7 693.2 295.7 697.4 295.7 701.7 295.7 705.9 295.7 710.1 295.7 714.4 295.7 718.6 295.7 722.8 295.2 727 293.7 731.3 292.8 735.5 292.4 739.6 292.4 743.7 292.3 747.8 292.1 751.9 291.7 756 291 760.2 290.1 764.3 289.1 768.4 288.1 772.5 287.4 776.6 287.2"/>
<path d="M444 275L448.2 274.8 452.4 274.4 456.6 273.7 460.8 272.9 465.1 272 469.3 271.1 473.5 270.2 477.7 269.5 481.9 268.9 486.1 268.5 490.3 268.3 494.5 268.2 498.8 268.2 503 268.2 507.2 268.3 511.4 268.3 515.6 268.4 519.8 268.7 524 269.6 528.1 270.7 532.3 271.8 536.5 272.6 540.7 273 544.9 273.1 549 272.8 553.2 272.6 557.4 272.5 561.6 272.7 565.7 273.3 569.9 274.3 574 275.5 578.2 276.8 582.4 278.2 586.5 279.5 590.7 280.6 594.8 281.4 599 281.9 603.2 282.1 607.3 281.9 611.5 281.4 615.6 280.7 619.8 279.9 624 279 628.1 278.2 632.3 277.5 636.4 277.1 640.6 277 645.2 277.3 649.8 278.3 654.4 279.7 659 281.1 663.6 281.7 667.8 281.7 672.1 281.5 676.3 281.2 680.5 280.9 684.7 280.6 689 280.4 693.2 280.3 697.4 280.3 701.7 280.4 705.9 280.7 710.1 281.2 714.4 281.7 718.6 282.2 722.8 282.7 727 283.1 731.3 283.4 735.5 283.5 739.6 284.3 743.7 286.2 747.8 288.6 751.9 290.5 756 291.2 760.2 290.4 764.3 288.3 768.4 285.7 772.5 283.7 776.6 282.9"/>
<path d="M444 280.1L448.2 280.8 452.4 282.8 456.6 285.8 460.8 289.5 465.1 293.5 469.3 295.7 473.5 295.7 477.7 295.7 481.9 295.7 486.1 295.7 490.3 295.7 494.5 295.7 498.8 295.7 503 295.7 507.2 294.4 511.4 293.2 515.6 292.7 519.8 291.6 524 288.7 528.1 284.9 532.3 281.5 536.5 279.5 540.7 279.3 544.9 280.7 549 282.9 553.2 284.7 557.4 285.4 561.6 285.5 565.7 285.9 569.9 286.6 574 287.4 578.2 288.2 582.4 289.1 586.5 289.7 590.7 290.1 594.8 290.2 599 289.9 603.2 289.3 607.3 288.3 611.5 287 615.6 285.5 619.8 283.9 624 282.4 628.1 281.1 632.3 280 636.4 279.3 640.6 279.1 645.2 279.2 649.8 279.3 654.4 279 659 278.4 663.6 278 667.8 278.2 672.1 278.5 676.3 279 680.5 279.6 684.7 280.1 689 280.6 693.2 280.9 697.4 281 701.7 280.8 705.9 280.3 710.1 279.6 714.4 278.8 718.6 277.9 722.8 277 727 276.3 731.3 275.9 735.5 275.7 739.6 276.5 743.7 278.4 747.8 280.8 751.9 282.8 756 283.7 760.2 283.2 764.3 281.5 768.4 279.3 772.5 277.6 776.6 276.9"/>
<path d="M444 288.1L448.2 288 452.4 287.6 456.6 287.1 460.8 286.5 465.1 285.8 469.3 285.3 473.5 284.8 477.7 284.6 481.9 284.6 486.1 284.9 490.3 285.3 494.5 285.9 498.8 286.6 503 287.2 507.2 287.7 511.4 288.1 515.6 288.2 519.8 288 524 287.6 528.1 287 532.3 286.4 536.5 286 540.7 285.9 544.9 285.9 549 286.1 553.2 286.3 557.4 286.4 561.6 286.4 565.7 286.2 569.9 286.1 574 285.8 578.2 285.6 582.4 285.4 586.5 285.2 590.7 285.1 594.8 285.1 599 285.2 603.2 285.5 607.3 285.8 611.5 286.3 615.6 286.8 619.8 287.3 624 287.8 628.1 288.2 632.3 288.6 636.4 288.8 640.6 288.9 645.2 287 649.8 283.5 654.4 281.7 659 282.2 663.6 282.9 667.8 282.7 672.1 282.3 676.3 281.7 680.5 281 684.7 280.2 689 279.6 693.2 279.1 697.4 278.9 701.7 279.1 705.9 279.5 710.1 280.1 714.4 281 718.6 281.9 722.8 282.8 727 283.5 731.3 284 735.5 284.1 739.6 283.9 743.7 283.2 747.8 282.4 751.9 281.6 756 281.2 760.2 281.2 764.3 281.5 768.4 282 772.5 282.5 776.6 282.7"/>
<path d="M444 287.6L448.2 287.2 452.4 285.8 456.6 283.7 460.8 281.1 465.1 278.5 469.3 276.2 473.5 274.4 477.7 273.5 481.9 273.6 486.1 274.6 490.3 276.4 494.5 278.9 498.8 281.6 503 284.2 507.2 286.3 511.4 287.7 515.6 288.2 519.8 288.1 524 287.9 528.1 287.5 532.3 287.2 536.5 286.8 540.7 286.5 544.9 286.3 549 286.2 553.2 286.1 557.4 286.1 561.6 286 565.7 285.7 569.9 285.1 574 284.5 578.2 283.7 582.4 283 586.5 282.2 590.7 281.6 594.8 281.1 599 280.7 603.2 280.6 607.3 280.6 611.5 280.7 615.6 281 619.8 281.4 624 281.8 628.1 282.2 632.3 282.5 636.4 282.7 640.6 282.7 645.2 282.1 649.8 281.4 654.4 282.7 659 285.7 663.6 287.3 667.8 286.9 672.1 285.7 676.3 283.9 680.5 281.7 684.7 279.5 689 277.6 693.2 276.2 697.4 275.5 701.7 275.7 705.9 276.7 710.1 278.5 714.4 280.8 718.6 283.3 722.8 285.7 727 287.7 731.3 289 735.5 289.5 739.6 289.8 743.7 290.7 747.8 291.6 751.9 292.1 756 291.4 760.2 289.7 764.3 287.1 768.4 284.4 772.5 282.3 776.6 281.5"/>
<path d="M444 292.7L448.2 292.8 452.4 293.2 456.6 293.7 460.8 294.2 465.1 294.9 469.3 295.4 473.5 295.7 477.7 295.7 481.9 295.7 486.1 295.7 490.3 295.4 494.5 294.9 498.8 294.2 503 293.7 507.2 293.2 511.4 292.8 515.6 292.7 519.8 292.9 524 293.5 528.1 294.2 532.3 294.6 536.5 294.6 540.7 294 544.9 293 549 291.9 553.2 291 557.4 290.7 561.6 290.6 565.7 290.4 569.9 290.2 574 289.8 578.2 289.4 582.4 289 586.5 288.7 590.7 288.4 594.8 288.1 599 288 603.2 287.9 607.3 288 611.5 288.1 615.6 288.3 619.8 288.5 624 288.7 628.1 289 632.3 289.1 636.4 289.3 640.6 289.3 645.2 291 649.8 293.2 654.4 291.5 659 286.3 663.6 283.4 667.8 283.5 672.1 283.8 676.3 284.2 680.5 284.8 684.7 285.5 689 286.2 693.2 286.9 697.4 287.5 701.7 288.1 705.9 288.7 710.1 289.1 714.4 289.5 718.6 289.8 722.8 290 727 290.2 731.3 290.3 735.5 290.3 739.6 290.3 743.7 290.5 747.8 290.5 751.9 290.4 756 289.8 760.2 288.9 764.3 287.7 768.4 286.5 772.5 285.6 776.6 285.3"/>
<path d="M444 292.7L448.2 292.7 452.4 292.8 456.6 292.9 460.8 293.1 465.1 293.2 469.3 293.3 473.5 293.4 477.7 293.5 481.9 293.5 486.1 293.4 490.3 293.3 494.5 293.2 498.8 293.1 503 292.9 507.2 292.8 511.4 292.7 515.6 292.7 519.8 292 524 290.1 528.1 287.6 532.3 285.4 536.5 284 540.7 283.9 544.9 284.9 549 286.3 553.2 287.5 557.4 287.9 561.6 288 565.7 288.1 569.9 288.4 574 288.6 578.2 288.9 582.4 289.1 586.5 289.2 590.7 289.1 594.8 288.9 599 288.4 603.2 287.7 607.3 286.9 611.5 285.8 615.6 284.7 619.8 283.6 624 282.5 628.1 281.6 632.3 280.9 636.4 280.4 640.6 280.2 645.2 281.1 649.8 282.6 654.4 283.6 659 283.7 663.6 283.6 667.8 283.6 672.1 283.5 676.3 283.3 680.5 283.1 684.7 282.9 689 282.9 693.2 282.9 697.4 283.1 701.7 283.6 705.9 284.1 710.1 284.8 714.4 285.6 718.6 286.4 722.8 287.1 727 287.7 731.3 288.1 735.5 288.2 739.6 287.9 743.7 287.1 747.8 286 751.9 284.7 756 283.4 760.2 282.2 764.3 281.3 768.4 280.5 772.5 280.1 776.6 279.9"/>
<path d="M444 292.7L448.2 292.7 452.4 292.6 456.6 292.4 460.8 292.2 465.1 292 469.3 291.8 473.5 291.7 477.7 291.6 481.9 291.6 486.1 291.7 490.3 291.8 494.5 292 498.8 292.2 503 292.4 507.2 292.6 511.4 292.7 515.6 292.7 519.8 292.9 524 293.5 528.1 294.3 532.3 294.9 536.5 295.1 540.7 294.9 544.9 294.3 549 293.5 553.2 292.9 557.4 292.7 561.6 292.7 565.7 292.6 569.9 292.4 574 292.1 578.2 291.8 582.4 291.5 586.5 291.1 590.7 290.8 594.8 290.4 599 290.1 603.2 289.8 607.3 289.5 611.5 289.3 615.6 289.1 619.8 289 624 288.8 628.1 288.7 632.3 288.7 636.4 288.6 640.6 288.6 645.2 289.2 649.8 289.8 654.4 288.8 659 286.5 663.6 285.2 667.8 285.4 672.1 286 676.3 287 680.5 288.2 684.7 289.5 689 290.7 693.2 291.7 697.4 292.4 701.7 292.8 705.9 292.8 710.1 292.5 714.4 291.9 718.6 291.2 722.8 290.5 727 289.9 731.3 289.5 735.5 289.3 739.6 288.8 743.7 287.4 747.8 285.5 751.9 283.5 756 281.8 760.2 280.6 764.3 279.8 768.4 279.5 772.5 279.4 776.6 279.4"/>
<path d="M444 273.4L448.2 272.9 452.4 271.5 456.6 269.2 460.8 266.5 465.1 263.7 469.3 260.9 473.5 258.7 477.7 257.2 481.9 256.5 486.1 256.7 490.3 257.6 494.5 259.2 498.8 261 503 262.8 507.2 264.3 511.4 265.4 515.6 265.7 519.8 266 524 266.8 528.1 268.1 532.3 269.9 536.5 272.1 540.7 274.5 544.9 277 549 279.2 553.2 280.7 557.4 281.3 561.6 281.4 565.7 281.5 569.9 281.7 574 281.9 578.2 282.3 582.4 282.7 586.5 283.2 590.7 283.8 594.8 284.5 599 285.4 603.2 286.3 607.3 287.2 611.5 288.2 615.6 289.2 619.8 290.1 624 291 628.1 291.7 632.3 292.2 636.4 292.6 640.6 292.7 645.2 293.6 649.8 294.8 654.4 294.4 659 292.5 663.6 291.4 667.8 291.3 672.1 291.2 676.3 291 680.5 290.9 684.7 290.7 689 290.5 693.2 290.4 697.4 290.4 701.7 290.6 705.9 290.8 710.1 291.1 714.4 291.4 718.6 291.8 722.8 292.2 727 292.5 731.3 292.7 735.5 292.7 739.6 292 743.7 290.1 747.8 287.7 751.9 285.3 756 283.8 760.2 283.3 764.3 283.7 768.4 284.6 772.5 285.4 776.6 285.7"/>
<path d="M444 278.4L448.2 278.5 452.4 278.7 456.6 279 460.8 279.4 465.1 279.7 469.3 280 473.5 280.2 477.7 280.3 481.9 280.3 486.1 280 490.3 279.7 494.5 279.3 498.8 278.8 503 278.4 507.2 278 511.4 277.8 515.6 277.7 519.8 277.8 524 278 528.1 278.4 532.3 279.1 536.5 280.1 540.7 281.3 544.9 282.7 549 284 553.2 284.9 557.4 285.2 561.6 285.2 565.7 285.2 569.9 285.1 574 285 578.2 284.9 582.4 284.8 586.5 284.8 590.7 284.9 594.8 285.1 599 285.4 603.2 285.8 607.3 286.3 611.5 286.8 615.6 287.4 619.8 288 624 288.6 628.1 289.1 632.3 289.5 636.4 289.7 640.6 289.8 645.2 290.6 649.8 291.9 654.4 292.3 659 291.7 663.6 291.3 667.8 291.8 672.1 293.2 676.3 295.4 680.5 295.7 684.7 295.7 689 295.7 693.2 295.7 697.4 295.7 701.7 295.7 705.9 295.7 710.1 295.7 714.4 295.7 718.6 295.7 722.8 294.2 727 291.9 731.3 290.4 735.5 289.9 739.6 289.4 743.7 288.3 747.8 286.7 751.9 285.3 756 284.2 760.2 283.8 764.3 284 768.4 284.4 772.5 284.9 776.6 285"/>
<path d="M444 202L448.2 202 452.4 202 456.6 202 460.8 202 465.1 202.1 469.3 202.1 473.5 202.1 477.7 202.1 481.9 202.2 486.1 202.2 490.3 202.2 494.5 202.3 498.8 202.3 503 202.3 507.2 202.3 511.4 202.3 515.6 202.3 519.8 202.4 524 202.4 528.1 202.4 532.3 202.5 536.5 202.5 540.7 202.6 544.9 202.6 549 202.7 553.2 202.7 557.4 202.7 561.6 202.7 565.7 202.7 569.9 202.7 574 202.7 578.2 202.7 582.4 202.7 586.5 202.7 590.7 202.7 594.8 202.7 599 202.7 603.2 202.7 607.3 202.7 611.5 202.7 615.6 202.7 619.8 202.7 624 202.7 628.1 202.7 632.3 202.6 636.4 202.6 640.6 202.6 645.2 202.6 649.8 202.7 654.4 202.7 659 202.7 663.6 202.7 667.8 202.7 672.1 202.7 676.3 202.6 680.5 202.6 684.7 202.6 689 202.6 693.2 202.5 697.4 202.5 701.7 202.5 705.9 202.5 710.1 202.4 714.4 202.4 718.6 202.4 722.8 202.3 727 202.3 731.3 202.3 735.5 202.3 739.6 202.3 743.7 202.4 747.8 202.4 751.9 202.5 756 202.5 760.2 202.6 764.3 202.7 768.4 202.7 772.5 202.7 776.6 202.8"/>
<path d="M444 203.9L448.2 203.9 452.4 203.9 456.6 203.9 460.8 203.8 465.1 203.8 469.3 203.8 473.5 203.7 477.7 203.7 481.9 203.6 486.1 203.6 490.3 203.6 494.5 203.5 498.8 203.5 503 203.5 507.2 203.5 511.4 203.4 515.6 203.4 519.8 203.5 524 203.5 528.1 203.6 532.3 203.8 536.5 203.9 540.7 204 544.9 204.2 549 204.3 553.2 204.3 557.4 204.4 561.6 204.4 565.7 204.4 569.9 204.4 574 204.4 578.2 204.4 582.4 204.3 586.5 204.3 590.7 204.3 594.8 204.3 599 204.3 603.2 204.3 607.3 204.3 611.5 204.3 615.6 204.3 619.8 204.3 624 204.3 628.1 204.3 632.3 204.3 636.4 204.3 640.6 204.3 645.2 204.3 649.8 204.1 654.4 204 659 203.8 663.6 203.8 667.8 203.8 672.1 203.8 676.3 203.8 680.5 203.8 684.7 203.8 689 203.8 693.2 203.8 697.4 203.9 701.7 203.9 705.9 203.9 710.1 203.9 714.4 203.9 718.6 204 722.8 204 727 204 731.3 204 735.5 204 739.6 204 743.7 203.9 747.8 203.9 751.9 203.8 756 203.7 760.2 203.6 764.3 203.6 768.4 203.5 772.5 203.5 776.6 203.5"/>
<path d="M444 204.7L448.2 204.7 452.4 204.7 456.6 204.7 460.8 204.8 465.1 204.8 469.3 204.8 473.5 204.9 477.7 204.9 481.9 205 486.1 205 490.3 205.1 494.5 205.1 498.8 205.2 503 205.2 507.2 205.2 511.4 205.2 515.6 205.2 519.8 205.2 524 205.2 528.1 205.1 532.3 205.1 536.5 205 540.7 204.9 544.9 204.8 549 204.8 553.2 204.7 557.4 204.7 561.6 204.7 565.7 204.7 569.9 204.7 574 204.8 578.2 204.8 582.4 204.8 586.5 204.9 590.7 204.9 594.8 205 599 205 603.2 205.1 607.3 205.1 611.5 205.2 615.6 205.2 619.8 205.3 624 205.3 628.1 205.3 632.3 205.3 636.4 205.4 640.6 205.4 645.2 205.3 649.8 205.3 654.4 205.3 659 205.2 663.6 205.2 667.8 205.2 672.1 205.2 676.3 205.2 680.5 205.2 684.7 205.2 689 205.2 693.2 205.1 697.4 205.1 701.7 205.1 705.9 205.1 710.1 205 714.4 205 718.6 205 722.8 205 727 205 731.3 205 735.5 205 739.6 205 743.7 205 747.8 205 751.9 205.1 756 205.1 760.2 205.1 764.3 205.2 768.4 205.2 772.5 205.2 776.6 205.2"/>
<path d="M700 213C705.9 212.8 722.7 212.4 735.5 212C748.3 211.6 770.1 211 777 210.8"/>
<path d="M700 216C705.9 215.8 722.7 215.3 735.5 215C748.3 214.7 770.1 214.1 777 213.9"/>
<path d="M700 219C705.9 218.8 722.7 218.3 735.5 218C748.3 217.7 770.1 217.2 777 217.1"/>
<path d="M700 222C705.9 221.8 722.7 221.3 735.5 221C748.3 220.7 770.1 220.4 777 220.2"/>
<path d="M700 225C705.9 224.8 722.7 224.3 735.5 224C748.3 223.7 770.1 223.5 777 223.4"/>
<path d="M700 228C705.9 227.8 722.7 227.2 735.5 227C748.3 226.8 770.1 226.6 777 226.6"/>
<path d="M700 231C705.9 230.8 722.7 230.2 735.5 230C748.3 229.8 770.1 229.8 777 229.7"/>
<path d="M700 234C705.9 233.8 722.7 233.2 735.5 233C748.3 232.8 770.1 232.9 777 232.8"/>
<path d="M700 237C705.9 236.8 722.7 236.2 735.5 236C748.3 235.8 770.1 236 777 236"/>
<path d="M700 249.5C705.9 249.7 722.7 250.2 735.5 250.5C748.3 250.8 770.1 250.9 777 251"/>
<path d="M700 252.5C705.9 252.7 722.7 253.2 735.5 253.5C748.3 253.8 770.1 253.9 777 254"/>
<path d="M700 255.5C705.9 255.7 722.7 256.2 735.5 256.5C748.3 256.8 770.1 256.9 777 257"/>
<path d="M700 258.5C705.9 258.7 722.7 259.2 735.5 259.5C748.3 259.8 770.1 259.9 777 260"/>
<path d="M700 261C705.9 261.2 722.7 261.8 735.5 262C748.3 262.2 770.1 262.4 777 262.5"/>
<path d="M444 296.5C448.3 296.4 460.7 296.4 470 296C479.3 295.6 492.4 294.4 500 294C507.6 293.6 508.9 293.4 515.6 293.5C522.3 293.6 533 294.2 540 294.5C547 294.8 547.4 294.8 557.4 295C567.4 295.2 586.1 295.7 600 296C613.9 296.3 630 296.9 640.6 297C651.2 297.1 653.7 296.9 663.6 296.5C673.5 296.1 688 295 700 294.5C712 294 722.7 293.7 735.5 293.5C748.3 293.3 770.1 293.5 777 293.5"/>
<path d="M444 293C450 292.9 468.1 292.8 480 292.5C491.9 292.2 502.7 291.1 515.6 291C528.5 290.9 543.3 291.8 557.4 292C571.5 292.2 586.1 292.2 600 292.5C613.9 292.8 630 293.4 640.6 293.5C651.2 293.6 653.7 293.3 663.6 293C673.5 292.7 688 291.9 700 291.5C712 291.1 722.7 290.6 735.5 290.5C748.3 290.4 770.1 290.9 777 291"/>
</g>
<line x1="441.5" y1="160.2" x2="777" y2="160.6" stroke="#fb9a3f" stroke-width="1.8" stroke-dasharray="7 6.85"/>
<line x1="441.5" y1="200.4" x2="777" y2="201" stroke="#fb9a3f" stroke-width="1.8" stroke-dasharray="7 6.85"/>
<line x1="561" y1="171.9" x2="561" y2="191.2" stroke="#fb9a3f" stroke-width="1.6"/>
<path d="M561 164.4L558.5 172.9L563.5 172.9Z" fill="#fb9a3f"/>
<path d="M561 198.7L558.5 190.2L563.5 190.2Z" fill="#fb9a3f"/>
<text x="568.8" y="183" class="eg" style="font-size:12.5px"><tspan fill="#4a4a4a">E</tspan><tspan class="egs" dy="2.6" fill="#4a4a4a" style="font-size:12px">g</tspan><tspan dy="-2.6" fill="#1c1c1c">= 3.15 </tspan><tspan fill="#4a4a4a">eV</tspan></text>
<line x1="515.6" y1="40.2" x2="515.6" y2="298.7" stroke="#333" stroke-width="1.6"/>
<line x1="557.4" y1="40.2" x2="557.4" y2="298.7" stroke="#333" stroke-width="1.6"/>
<line x1="640.6" y1="40.2" x2="640.6" y2="298.7" stroke="#333" stroke-width="1.6"/>
<line x1="663.6" y1="40.2" x2="663.6" y2="298.7" stroke="#333" stroke-width="1.6"/>
<line x1="735.5" y1="40.2" x2="735.5" y2="298.7" stroke="#333" stroke-width="1.6"/>
<rect x="444" y="40.2" width="332.6" height="258.5" fill="none" stroke="#111" stroke-width="2.4"/>
<line x1="441.3" y1="292.1" x2="444" y2="292.1" stroke="#111" stroke-width="1.6"/>
<line x1="438.5" y1="272.7" x2="444" y2="272.7" stroke="#111" stroke-width="1.6"/>
<text x="435" y="276.6" text-anchor="end" class="tl">-6</text>
<line x1="441.3" y1="253.3" x2="444" y2="253.3" stroke="#111" stroke-width="1.6"/>
<line x1="438.5" y1="233.9" x2="444" y2="233.9" stroke="#111" stroke-width="1.6"/>
<text x="435" y="237.8" text-anchor="end" class="tl">-3</text>
<line x1="441.3" y1="214.5" x2="444" y2="214.5" stroke="#111" stroke-width="1.6"/>
<line x1="438.5" y1="195.1" x2="444" y2="195.1" stroke="#111" stroke-width="1.6"/>
<text x="435" y="199" text-anchor="end" class="tl">0</text>
<line x1="441.3" y1="175.7" x2="444" y2="175.7" stroke="#111" stroke-width="1.6"/>
<line x1="438.5" y1="156.3" x2="444" y2="156.3" stroke="#111" stroke-width="1.6"/>
<text x="435" y="160.2" text-anchor="end" class="tl">3</text>
<line x1="441.3" y1="136.9" x2="444" y2="136.9" stroke="#111" stroke-width="1.6"/>
<line x1="438.5" y1="117.5" x2="444" y2="117.5" stroke="#111" stroke-width="1.6"/>
<text x="435" y="121.4" text-anchor="end" class="tl">6</text>
<line x1="441.3" y1="98.1" x2="444" y2="98.1" stroke="#111" stroke-width="1.6"/>
<line x1="438.5" y1="78.7" x2="444" y2="78.7" stroke="#111" stroke-width="1.6"/>
<text x="435" y="82.6" text-anchor="end" class="tl">9</text>
<line x1="441.3" y1="59.3" x2="444" y2="59.3" stroke="#111" stroke-width="1.6"/>
<line x1="438.5" y1="39.9" x2="444" y2="39.9" stroke="#111" stroke-width="1.6"/>
<text x="435" y="43.8" text-anchor="end" class="tl">12</text>
<text x="445.2" y="315.8" text-anchor="middle" class="gam">&#915;</text>
<text x="515" y="316.8" text-anchor="middle" class="xl">M</text>
<text x="557.8" y="316.8" text-anchor="middle" class="xl">K</text>
<text x="640.3" y="316.8" text-anchor="middle" class="gam">&#915;</text>
<text x="662.6" y="316.8" text-anchor="middle" class="xl">A</text>
<text x="735" y="316.8" text-anchor="middle" class="xl">L</text>
<text x="776.8" y="316.8" text-anchor="middle" class="xl">H</text>
<line x1="776.9" y1="39.2" x2="776.9" y2="299.8" stroke="#111" stroke-width="2.6"/>
<use href="#bandsb" clip-path="url(#clipbR)"/>
<g id="bandsc" clip-path="url(#clipc)" fill="none" stroke="#f9373d" stroke-width="1.8" stroke-linejoin="round" stroke-linecap="round">
<path d="M51.8 470.7C56.8 470.4 73.1 468.8 82 469C90.9 469.2 98.1 471 105 472C111.9 473 113.4 474.6 123.4 475.2C133.4 475.8 152.7 476.4 164.8 475.9C176.9 475.4 187 473.1 196 472C205 470.9 210.5 469.8 219 469.5C227.5 469.2 238.5 470 246.9 470.2C255.3 470.4 260.5 470.9 269.5 470.7C278.5 470.5 292.6 468.9 301 469C309.4 469.1 313.3 470.1 320 471C326.7 471.9 330.2 473.4 341 474.1C351.8 474.8 377.2 475 384.5 475.2"/>
<path d="M51.8 491.9C56.8 490.8 73.1 487.5 82 485.5C90.9 483.5 98.1 481.2 105 479.8C111.9 478.4 113.4 477.4 123.4 476.8C133.4 476.2 152.7 475.5 164.8 476.4C176.9 477.3 185.5 479.8 196 482C206.5 484.2 219.5 488 228 489.6C236.5 491.2 240 491.6 246.9 491.9C253.8 492.2 260.5 492.5 269.5 491.2C278.5 489.9 292.6 486.3 301 484.3C309.4 482.3 313.3 480.3 320 479C326.7 477.7 330.2 476.9 341 476.4C351.8 475.9 377.2 476 384.5 475.9"/>
<path d="M51.8 445.6C54.8 445 62.8 444.3 70 442C77.2 439.7 87.5 434.8 95 432C102.5 429.2 110.3 426.4 115 425C119.7 423.6 122 424.1 123.4 423.9"/>
<path d="M51.8 437.6C55.7 437 67 435.9 75 434C83 432.1 91.9 428.2 100 426C108.1 423.8 119.5 421.8 123.4 421"/>
<path d="M51.8 423.9C56.5 423.6 68.1 422.8 80 422C91.9 421.2 116.2 419.5 123.4 419"/>
<path d="M51.8 419.3C56.5 418.9 68.1 417.6 80 417C91.9 416.4 116.2 416.2 123.4 416"/>
<path d="M51.8 412.5C56.5 412.1 68.1 409.9 80 410C91.9 410.1 116.2 412.5 123.4 413"/>
<path d="M51.8 409C56.5 408.7 68.1 406.8 80 407C91.9 407.2 116.2 409.5 123.4 410"/>
<path d="M51.8 403.3C56.5 403.4 68.1 403.4 80 404C91.9 404.6 116.2 406.5 123.4 407"/>
<path d="M51.8 400C54.8 399.7 62 397.7 70 398C78 398.3 91.1 401 100 402C108.9 403 119.5 403.7 123.4 404"/>
<path d="M51.8 392C55.7 392.5 67 393.7 75 395C83 396.3 91.9 399 100 400C108.1 401 119.5 400.8 123.4 401"/>
<path d="M51.8 387.4C56.5 387.8 72 388.6 80 390C88 391.4 92.8 394.7 100 396C107.2 397.3 119.5 397.7 123.4 398"/>
<path d="M51.8 382.8C56.5 383.2 72 383.5 80 385C88 386.5 92.8 390.3 100 392C107.2 393.7 119.5 394.5 123.4 395"/>
<path d="M51.8 378C54.8 378 62.8 377 70 378C77.2 379 86.1 381.7 95 384C103.9 386.3 118.7 390.7 123.4 392"/>
<path d="M51.8 374.8C53.5 375 58.6 375.6 62 376C65.4 376.4 67.3 375.7 72 377C76.7 378.3 83.7 381.8 90 384C96.3 386.2 104.4 388.7 110 390C115.6 391.3 121.2 391.7 123.4 392"/>
<path d="M51.8 385C56.5 384.7 72 382.8 80 383C88 383.2 92.8 385 100 386C107.2 387 119.5 388.5 123.4 389"/>
<path d="M105 384C106.2 383.8 109.8 383.5 112 383C114.2 382.5 116.1 381.2 118 381C119.9 380.8 121.7 381.7 123.4 382C125.1 382.3 125.9 381.8 128 383C130.1 384.2 133.2 387.8 136 389C138.8 390.2 140.2 390 145 390C149.8 390 161.5 389.2 164.8 389"/>
<path d="M75 380C76.7 380.3 81.7 381.3 85 382C88.3 382.7 91.7 383.7 95 384C98.3 384.3 103.3 384 105 384"/>
<path d="M123.4 423.9C127 424.6 138.1 427.1 145 428C151.9 428.9 161.5 429.3 164.8 429.6"/>
<path d="M123.4 421C127 421.2 138.1 421.8 145 422C151.9 422.2 161.5 422 164.8 422"/>
<path d="M123.4 419C127 419 138.1 419 145 419C151.9 419 161.5 419 164.8 419"/>
<path d="M123.4 416C127 416 138.1 416 145 416C151.9 416 161.5 416 164.8 416"/>
<path d="M123.4 413C127 413 138.1 413 145 413C151.9 413 161.5 413 164.8 413"/>
<path d="M123.4 410C127 410 138.1 410 145 410C151.9 410 161.5 410 164.8 410"/>
<path d="M123.4 407C127 407 138.1 407 145 407C151.9 407 161.5 407 164.8 407"/>
<path d="M123.4 404C127 404 138.1 403.9 145 404C151.9 404.1 161.5 404.4 164.8 404.5"/>
<path d="M123.4 401C127 401 138.1 400.8 145 401C151.9 401.2 161.5 401.8 164.8 402"/>
<path d="M123.4 398C127 398.2 138.1 398.7 145 399C151.9 399.3 161.5 399.8 164.8 400"/>
<path d="M123.4 395C127 395.3 138.1 396.5 145 397C151.9 397.5 161.5 397.8 164.8 398"/>
<path d="M123.4 392C127 392.5 138.1 394.3 145 395C151.9 395.7 161.5 395.8 164.8 396"/>
<path d="M123.4 389C127 389.7 138.1 392.2 145 393C151.9 393.8 161.5 393.8 164.8 394"/>
<path d="M164.8 429.6C169 429.7 181.6 428.6 190 430C198.4 431.4 207.5 435.8 215 438C222.5 440.2 229.7 441.7 235 443C240.3 444.3 244.9 445.2 246.9 445.6"/>
<path d="M164.8 422C169 422.5 180.8 423.2 190 425C199.2 426.8 210.5 430.9 220 433C229.5 435.1 242.4 436.8 246.9 437.6"/>
<path d="M164.8 419C170.7 419.3 186.3 419.8 200 421C213.7 422.2 239.1 425.2 246.9 426"/>
<path d="M164.8 416C170.7 416.2 186.3 416.5 200 417C213.7 417.5 239.1 418.7 246.9 419"/>
<path d="M164.8 413C170.7 412.8 186.3 411.7 200 412C213.7 412.3 239.1 414.3 246.9 414.8"/>
<path d="M164.8 410C170.7 409.8 186.3 409 200 409C213.7 409 239.1 409.8 246.9 410"/>
<path d="M164.8 407C170.7 406.7 186.3 405.3 200 405C213.7 404.7 239.1 405 246.9 405"/>
<path d="M164.8 404.5C170.7 403.9 186.3 401.8 200 401C213.7 400.2 239.1 400.2 246.9 400"/>
<path d="M164.8 402C170.7 401 186.3 397.3 200 396C213.7 394.7 239.1 394.3 246.9 394"/>
<path d="M164.8 400C170.7 398.7 186.3 393.5 200 392C213.7 390.5 239.1 391.2 246.9 391"/>
<path d="M164.8 398C170.7 396.3 186.3 390 200 388C213.7 386 239.1 386.3 246.9 386"/>
<path d="M164.8 396C170.7 394.2 186.3 387.2 200 385C213.7 382.8 239.1 383.3 246.9 383"/>
<path d="M164.8 394C170.7 392.2 186.3 385.5 200 383C213.7 380.5 239.1 379.7 246.9 379"/>
<path d="M164.8 389C170.7 387.8 189.1 383.8 200 382C210.9 380.2 222.2 379 230 378C237.8 377 244.1 376.3 246.9 376"/>
<path d="M246.9 445.6C248.8 445.8 254.2 446.6 258 447C261.8 447.4 267.6 447.7 269.5 447.8"/>
<path d="M246.9 437.6C248.8 437.2 254.2 435.8 258 435C261.8 434.2 267.6 433.3 269.5 433"/>
<path d="M246.9 426L269.5 426"/>
<path d="M246.9 419L269.5 418"/>
<path d="M246.9 414.8L269.5 414"/>
<path d="M246.9 410L269.5 410"/>
<path d="M246.9 405L269.5 408"/>
<path d="M246.9 400L269.5 401"/>
<path d="M246.9 394L269.5 393"/>
<path d="M246.9 391L269.5 390"/>
<path d="M246.9 386L269.5 386"/>
<path d="M246.9 383L269.5 383"/>
<path d="M246.9 379L269.5 380"/>
<path d="M246.9 376C247.4 375.8 248.7 375.3 250 375C251.3 374.7 253.3 374 255 374C256.7 374 258.3 374.9 260 375C261.7 375.1 263.4 374.5 265 374.5C266.6 374.5 268.8 374.9 269.5 375"/>
<path d="M269.5 447.8C271.2 447.7 276.2 448 280 447C283.8 446 287.8 444.2 292 442C296.2 439.8 300.3 436.5 305 434C309.7 431.5 314 428.7 320 427C326 425.3 337.7 424.4 341.2 423.9"/>
<path d="M269.5 433C274.6 432.3 288.1 431 300 429C311.9 427 334.3 422.3 341.2 421"/>
<path d="M269.5 426C274.6 426 288.1 426 300 426C311.9 426 334.3 426 341.2 426"/>
<path d="M269.5 418C274.6 417.7 288.1 415.8 300 416C311.9 416.2 334.3 418.5 341.2 419"/>
<path d="M269.5 414C274.6 413.3 288.1 409.7 300 410C311.9 410.3 334.3 415 341.2 416"/>
<path d="M269.5 410C274.6 409.3 288.1 405.5 300 406C311.9 406.5 334.3 411.8 341.2 413"/>
<path d="M269.5 408C274.6 407.3 288.1 403.7 300 404C311.9 404.3 334.3 409 341.2 410"/>
<path d="M269.5 401C274.6 401.7 288.1 404 300 405C311.9 406 334.3 406.7 341.2 407"/>
<path d="M269.5 393C274.6 393.8 288.1 396.2 300 398C311.9 399.8 334.3 403 341.2 404"/>
<path d="M269.5 390C274.6 390.7 288.1 392.2 300 394C311.9 395.8 334.3 399.8 341.2 401"/>
<path d="M269.5 386C274.6 386.7 288.1 388 300 390C311.9 392 334.3 396.7 341.2 398"/>
<path d="M269.5 383C274.6 383.5 288.1 384.2 300 386C311.9 387.8 334.3 392.7 341.2 394"/>
<path d="M269.5 380C272.9 380.2 284.9 380.3 290 381C295.1 381.7 295 383.5 300 384C305 384.5 313.1 383.3 320 384C326.9 384.7 337.7 387.3 341.2 388"/>
<path d="M269.5 375C271.2 375.2 276.2 375.2 280 376C283.8 376.8 288.3 379.2 292 380C295.7 380.8 299.5 381.3 302 381C304.5 380.7 305.3 377.8 307 378C308.7 378.2 309.8 381 312 382C314.2 383 317.8 384.2 320 384C322.2 383.8 322.8 381.2 325 381C327.2 380.8 330.3 383 333 383C335.7 383 339.8 381.3 341.2 381"/>
<path d="M341.2 423.9C344.3 423.6 352.8 422.6 360 422C367.2 421.4 380.4 420.3 384.5 420"/>
<path d="M341.2 426C344.3 426.3 352.8 427.4 360 428C367.2 428.6 380.4 429.3 384.5 429.6"/>
<path d="M341.2 421C344.3 420.5 352.8 418.7 360 418C367.2 417.3 380.4 417.2 384.5 417"/>
<path d="M341.2 419C344.3 418.5 352.8 416.8 360 416C367.2 415.2 380.4 414.3 384.5 414"/>
<path d="M341.2 416C344.3 415.5 352.8 413.7 360 413C367.2 412.3 380.4 412.2 384.5 412"/>
<path d="M341.2 413C344.3 412.5 352.8 410.5 360 410C367.2 409.5 380.4 410 384.5 410"/>
<path d="M341.2 410C344.3 409.7 352.8 408.3 360 408C367.2 407.7 380.4 408 384.5 408"/>
<path d="M341.2 407C344.3 406.8 352.8 406.2 360 406C367.2 405.8 380.4 406 384.5 406"/>
<path d="M341.2 404C344.3 404 352.8 404 360 404C367.2 404 380.4 404 384.5 404"/>
<path d="M341.2 401C344.3 401 352.8 400.8 360 401C367.2 401.2 380.4 401.8 384.5 402"/>
<path d="M341.2 398C344.3 398.2 352.8 398.7 360 399C367.2 399.3 380.4 399.8 384.5 400"/>
<path d="M341.2 394C344.3 394.3 352.8 395.3 360 396C367.2 396.7 380.4 397.7 384.5 398"/>
<path d="M341.2 388C344.3 388.8 352.8 391.7 360 393C367.2 394.3 380.4 395.5 384.5 396"/>
<path d="M341.2 381C342.7 381.7 346.9 384 350 385C353.1 386 356.7 386.5 360 387C363.3 387.5 365.9 387.8 370 388C374.1 388.2 382.1 388.4 384.5 388.5"/>
<path d="M52.3 385.1L56.5 385.1 60.7 385.2 64.8 385.4 69 385.7 73.2 385.9 77.4 386.2 81.6 386.3 85.8 386.4 89.9 386.4 94.1 386.3 98.3 386.1 102.5 385.9 106.7 385.6 110.9 385.4 115 385.2 119.2 385 123.4 385 127.5 385.1 131.7 385.3 135.8 385.7 140 386.4 144.1 387.4 148.2 388.8 152.4 390.2 156.5 391.5 160.7 392.5 164.8 392.9 168.9 392.8 173 392.4 177.1 391.9 181.2 391.3 185.3 390.5 189.4 389.5 193.5 388.5 197.6 387.4 201.7 386.2 205.9 385.1 210 383.9 214.1 382.7 218.2 381.6 222.3 380.5 226.4 379.5 230.5 378.7 234.6 378 238.7 377.4 242.8 377.1 246.9 377 251.4 377.1 255.9 377.3 260.5 377.2 265 376.9 269.5 376.6 273.7 376.6 277.9 376.4 282.1 376.2 286.3 376 290.4 375.7 294.6 375.6 298.8 375.6 303 375.8 307.2 376.3 311.4 376.8 315.6 377.6 319.8 378.4 323.9 379.3 328.1 380.1 332.3 380.7 336.5 381.1 340.7 381.3 345.1 381.7 349.4 382.6 353.8 384 358.1 385.6 362.4 387 366.8 388.3 371.1 389.3 375.5 389.9 379.8 390.3 384.2 390.5"/>
<path d="M52.3 379.7L56.5 379.7 60.7 379.7 64.8 379.7 69 379.8 73.2 380 77.4 380.2 81.6 380.7 85.8 381.3 89.9 382 94.1 383 98.3 384 102.5 385.1 106.7 386.1 110.9 387 115 387.8 119.2 388.2 123.4 388.4 127.5 388.5 131.7 388.9 135.8 389.5 140 390.2 144.1 391.1 148.2 392.1 152.4 393.1 156.5 394 160.7 394.7 164.8 394.9 168.9 394.9 173 394.9 177.1 394.9 181.2 394.9 185.3 394.9 189.4 395 193.5 394.9 197.6 394.9 201.7 394.9 205.9 394.8 210 394.7 214.1 394.5 218.2 394.4 222.3 394.2 226.4 394.1 230.5 393.9 234.6 393.8 238.7 393.7 242.8 393.6 246.9 393.6 251.4 393.6 255.9 393.6 260.5 393.9 265 394.2 269.5 394.4 273.7 394.4 277.9 394.2 282.1 394 286.3 393.7 290.4 393.4 294.6 393.2 298.8 392.9 303 392.8 307.2 392.7 311.4 392.7 315.6 392.8 319.8 392.9 323.9 393.1 328.1 393.3 332.3 393.4 336.5 393.5 340.7 393.5 345.1 393.5 349.4 393.5 353.8 393.5 358.1 393.6 362.4 393.9 366.8 394.3 371.1 394.9 375.5 395.4 379.8 395.8 384.2 395.9"/>
<path d="M52.3 403.7L56.5 403.5 60.7 403 64.8 402.2 69 401.2 73.2 400.2 77.4 399.1 81.6 398.2 85.8 397.4 89.9 396.9 94.1 396.6 98.3 396.5 102.5 396.7 106.7 396.9 110.9 397.2 115 397.5 119.2 397.6 123.4 397.7 127.5 397.8 131.7 398 135.8 398.4 140 399 144.1 399.8 148.2 400.7 152.4 401.7 156.5 402.6 160.7 403.2 164.8 403.5 168.9 403.3 173 403 177.1 402.4 181.2 401.7 185.3 400.8 189.4 399.8 193.5 398.6 197.6 397.4 201.7 396.2 205.9 394.9 210 393.6 214.1 392.3 218.2 391.1 222.3 389.9 226.4 388.9 230.5 388 234.6 387.2 238.7 386.6 242.8 386.3 246.9 386.1 251.4 386.8 255.9 387.8 260.5 388 265 387.2 269.5 386.8 273.7 386.9 277.9 387.1 282.1 387.5 286.3 388 290.4 388.5 294.6 389 298.8 389.4 303 389.7 307.2 389.8 311.4 389.8 315.6 389.7 319.8 389.4 323.9 389.1 328.1 388.8 332.3 388.5 336.5 388.3 340.7 388.2 345.1 388.6 349.4 389.6 353.8 391.1 358.1 392.8 362.4 394.5 366.8 396.1 371.1 397.4 375.5 398.4 379.8 399 384.2 399.3"/>
<path d="M52.3 391.5L56.5 391.6 60.7 391.8 64.8 392 69 392.4 73.2 392.9 77.4 393.5 81.6 394.3 85.8 395.2 89.9 396.1 94.1 397.2 98.3 398.3 102.5 399.4 106.7 400.4 110.9 401.3 115 402 119.2 402.5 123.4 402.6 127.5 402.7 131.7 403 135.8 403.4 140 403.9 144.1 404.5 148.2 405.2 152.4 405.8 156.5 406.3 160.7 406.7 164.8 406.8 168.9 406.6 173 405.9 177.1 404.9 181.2 403.5 185.3 401.9 189.4 400.1 193.5 398.2 197.6 396.2 201.7 394.3 205.9 392.5 210 390.7 214.1 389.2 218.2 387.8 222.3 386.5 226.4 385.5 230.5 384.6 234.6 383.9 238.7 383.4 242.8 383.1 246.9 383 251.4 383 255.9 383 260.5 383.3 265 383.6 269.5 383.8 273.7 383.9 277.9 384.1 282.1 384.4 286.3 384.8 290.4 385.5 294.6 386.3 298.8 387.4 303 388.7 307.2 390.3 311.4 392 315.6 393.9 319.8 395.7 323.9 397.5 328.1 399.1 332.3 400.3 336.5 401.1 340.7 401.4 345.1 401.6 349.4 402.1 353.8 403 358.1 403.9 362.4 404.7 366.8 405.5 371.1 406.1 375.5 406.5 379.8 406.8 384.2 406.9"/>
<path d="M52.3 390.1L56.5 390.4 60.7 391.1 64.8 392.3 69 393.8 73.2 395.6 77.4 397.5 81.6 399.4 85.8 401.3 89.9 403.1 94.1 404.8 98.3 406.2 102.5 407.5 106.7 408.5 110.9 409.3 115 409.9 119.2 410.3 123.4 410.5 127.5 410.5 131.7 410.8 135.8 411.1 140 411.5 144.1 411.9 148.2 412.3 152.4 412.7 156.5 413 160.7 413.2 164.8 413.3 168.9 413.2 173 412.9 177.1 412.5 181.2 412 185.3 411.4 189.4 410.6 193.5 409.8 197.6 408.9 201.7 407.9 205.9 407 210 406 214.1 405 218.2 404 222.3 403.1 226.4 402.3 230.5 401.5 234.6 400.9 238.7 400.5 242.8 400.2 246.9 400.1 251.4 400 255.9 399.9 260.5 400 265 400.3 269.5 400.4 273.7 400.6 277.9 401 282.1 401.6 286.3 402.3 290.4 403.2 294.6 404.2 298.8 405.2 303 406.2 307.2 407.1 311.4 408 315.6 408.7 319.8 409.4 323.9 409.9 328.1 410.4 332.3 410.7 336.5 410.9 340.7 411 345.1 410.7 349.4 410 353.8 408.9 358.1 407.7 362.4 406.5 366.8 405.4 371.1 404.4 375.5 403.8 379.8 403.3 384.2 403.2"/>
<path d="M52.3 399.2L56.5 399.3 60.7 399.7 64.8 400.2 69 401 73.2 401.8 77.4 402.9 81.6 404 85.8 405.2 89.9 406.4 94.1 407.7 98.3 408.9 102.5 410.1 106.7 411.2 110.9 412.1 115 412.8 119.2 413.3 123.4 413.4 127.5 413.4 131.7 413.4 135.8 413.4 140 413.6 144.1 413.8 148.2 414.2 152.4 414.6 156.5 415.1 160.7 415.4 164.8 415.5 168.9 415.4 173 415.1 177.1 414.6 181.2 413.9 185.3 413.1 189.4 412.3 193.5 411.5 197.6 410.7 201.7 409.9 205.9 409.3 210 408.8 214.1 408.3 218.2 408 222.3 407.9 226.4 407.8 230.5 407.7 234.6 407.7 238.7 407.7 242.8 407.7 246.9 407.7 251.4 407.7 255.9 407.8 260.5 407.8 265 407.6 269.5 407.5 273.7 407.8 277.9 408.6 282.1 409.7 286.3 411.3 290.4 413 294.6 414.8 298.8 416.6 303 418.4 307.2 419.9 311.4 421.3 315.6 422.5 319.8 423.4 323.9 424.1 328.1 424.6 332.3 425 336.5 425.3 340.7 425.3 345.1 425.1 349.4 424.4 353.8 423.4 358.1 422 362.4 420.3 366.8 418.4 371.1 416.6 375.5 414.9 379.8 413.8 384.2 413.4"/>
<path d="M52.3 409.5L56.5 409.5 60.7 409.4 64.8 409.4 69 409.4 73.2 409.4 77.4 409.6 81.6 410 85.8 410.5 89.9 411.3 94.1 412.3 98.3 413.5 102.5 414.7 106.7 415.8 110.9 416.9 115 417.7 119.2 418.3 123.4 418.5 127.5 418.6 131.7 419 135.8 419.5 140 420 144.1 420.6 148.2 421.1 152.4 421.6 156.5 422 160.7 422.2 164.8 422.3 168.9 422.1 173 421.7 177.1 420.9 181.2 420 185.3 418.9 189.4 417.7 193.5 416.5 197.6 415.3 201.7 414.2 205.9 413.2 210 412.4 214.1 411.7 218.2 411.2 222.3 410.8 226.4 410.5 230.5 410.3 234.6 410.2 238.7 410.1 242.8 410 246.9 410 251.4 410 255.9 410 260.5 410.1 265 410.3 269.5 410.4 273.7 410.4 277.9 410.3 282.1 410.2 286.3 410.1 290.4 410 294.6 409.9 298.8 410 303 410.2 307.2 410.4 311.4 410.8 315.6 411.3 319.8 411.8 323.9 412.3 328.1 412.8 332.3 413.2 336.5 413.4 340.7 413.5 345.1 413.6 349.4 414 353.8 414.4 358.1 415.1 362.4 415.8 366.8 416.5 371.1 417.2 375.5 417.8 379.8 418.2 384.2 418.3"/>
<path d="M52.3 525L56.5 525 60.7 525.1 64.8 525.1 69 525.2 73.2 525.3 77.4 525.4 81.6 525.5 85.8 525.6 89.9 525.7 94.1 525.8 98.3 525.9 102.5 526 106.7 526.1 110.9 526.2 115 526.3 119.2 526.3 123.4 526.3 127.5 526.3 131.7 526.2 135.8 526.1 140 526 144.1 526 148.2 526 152.4 526.2 156.5 526.4 160.7 526.5 164.8 526.6 168.9 526.6 173 526.6 177.1 526.7 181.2 526.7 185.3 526.8 189.4 526.8 193.5 526.9 197.6 526.9 201.7 526.9 205.9 526.9 210 526.9 214.1 526.8 218.2 526.7 222.3 526.6 226.4 526.6 230.5 526.5 234.6 526.4 238.7 526.3 242.8 526.3 246.9 526.3 251.4 526.4 255.9 526.4 260.5 525.9 265 525.2 269.5 524.8 273.7 524.8 277.9 524.9 282.1 525.1 286.3 525.4 290.4 525.6 294.6 525.8 298.8 526 303 526.1 307.2 526.1 311.4 525.9 315.6 525.7 319.8 525.5 323.9 525.2 328.1 524.9 332.3 524.7 336.5 524.5 340.7 524.5 345.1 524.5 349.4 524.5 353.8 524.5 358.1 524.5 362.4 524.3 366.8 524.2 371.1 523.9 375.5 523.7 379.8 523.5 384.2 523.4"/>
<path d="M52.3 522.6L56.5 522.6 60.7 522.8 64.8 523 69 523.2 73.2 523.4 77.4 523.7 81.6 523.8 85.8 523.9 89.9 523.9 94.1 523.8 98.3 523.7 102.5 523.4 106.7 523.2 110.9 523 115 522.8 119.2 522.6 123.4 522.6 127.5 522.6 131.7 522.6 135.8 522.6 140 522.6 144.1 522.6 148.2 522.6 152.4 522.6 156.5 522.6 160.7 522.6 164.8 522.6 168.9 522.6 173 522.7 177.1 522.8 181.2 522.9 185.3 523 189.4 523.2 193.5 523.3 197.6 523.4 201.7 523.5 205.9 523.5 210 523.5 214.1 523.4 218.2 523.3 222.3 523.2 226.4 523 230.5 522.9 234.6 522.8 238.7 522.7 242.8 522.6 246.9 522.6 251.4 522.7 255.9 522.9 260.5 522.9 265 522.7 269.5 522.6 273.7 522.6 277.9 522.6 282.1 522.6 286.3 522.6 290.4 522.6 294.6 522.6 298.8 522.6 303 522.6 307.2 522.6 311.4 522.6 315.6 522.6 319.8 522.6 323.9 522.6 328.1 522.6 332.3 522.6 336.5 522.6 340.7 522.6 345.1 522.8 349.4 523.5 353.8 524.3 358.1 525 362.4 525.3 366.8 525 371.1 524.3 375.5 523.5 379.8 522.8 384.2 522.6"/>
<path d="M52.3 522.6L56.5 522.7 60.7 523.1 64.8 523.6 69 524.3 73.2 525 77.4 525.6 81.6 526 85.8 526.3 89.9 526.3 94.1 526 98.3 525.6 102.5 525 106.7 524.3 110.9 523.6 115 523.1 119.2 522.7 123.4 522.6 127.5 522.6 131.7 522.6 135.8 522.6 140 522.6 144.1 522.6 148.2 522.6 152.4 522.6 156.5 522.6 160.7 522.6 164.8 522.6 168.9 522.6 173 522.7 177.1 522.8 181.2 523 185.3 523.2 189.4 523.3 193.5 523.5 197.6 523.6 201.7 523.7 205.9 523.7 210 523.7 214.1 523.6 218.2 523.5 222.3 523.3 226.4 523.2 230.5 523 234.6 522.8 238.7 522.7 242.8 522.6 246.9 522.6 251.4 522.6 255.9 522.6 260.5 522.6 265 522.8 269.5 523.1 273.7 523.1 277.9 522.9 282.1 522.7 286.3 522.6 290.4 522.6 294.6 522.6 298.8 522.6 303 522.6 307.2 522.6 311.4 522.6 315.6 522.6 319.8 522.6 323.9 522.7 328.1 522.9 332.3 523.2 336.5 523.3 340.7 523.4 345.1 523.3 349.4 523.1 353.8 522.9 358.1 522.8 362.4 522.8 366.8 522.9 371.1 523.2 375.5 523.5 379.8 523.8 384.2 523.9"/>
<path d="M52.3 528.5L56.5 528.5 60.7 528.6 64.8 528.7 69 528.9 73.2 529 77.4 529.1 81.6 529.1 85.8 529.1 89.9 528.9 94.1 528.7 98.3 528.4 102.5 528.1 106.7 527.7 110.9 527.4 115 527.1 119.2 526.9 123.4 526.9 127.5 526.9 131.7 526.9 135.8 527 140 527.1 144.1 527.2 148.2 527.3 152.4 527.4 156.5 527.5 160.7 527.6 164.8 527.6 168.9 527.5 173 527.1 177.1 526.4 181.2 525.6 185.3 524.6 189.4 523.6 193.5 522.7 197.6 522.6 201.7 522.6 205.9 522.6 210 522.6 214.1 522.6 218.2 522.6 222.3 522.6 226.4 522.6 230.5 522.6 234.6 522.6 238.7 522.6 242.8 522.6 246.9 522.6 251.4 522.8 255.9 523.2 260.5 523.2 265 522.8 269.5 522.6 273.7 522.6 277.9 522.8 282.1 523.1 286.3 523.4 290.4 523.7 294.6 524 298.8 524.2 303 524.3 307.2 524.3 311.4 524.2 315.6 524 319.8 523.7 323.9 523.4 328.1 523.1 332.3 522.8 336.5 522.6 340.7 522.6 345.1 522.7 349.4 523.1 353.8 523.6 358.1 524 362.4 524.1 366.8 524 371.1 523.6 375.5 523.1 379.8 522.7 384.2 522.6"/>
<path d="M52.3 522.6L56.5 522.6 60.7 522.6 64.8 522.6 69 522.6 73.2 522.6 77.4 522.6 81.6 522.6 85.8 522.6 89.9 522.6 94.1 522.6 98.3 522.6 102.5 522.6 106.7 522.6 110.9 522.6 115 522.6 119.2 522.6 123.4 522.6 127.5 522.6 131.7 522.6 135.8 522.6 140 522.6 144.1 522.6 148.2 522.6 152.4 522.6 156.5 522.6 160.7 522.6 164.8 522.6 168.9 522.6 173 522.7 177.1 522.9 181.2 523.1 185.3 523.4 189.4 523.6 193.5 523.8 197.6 524 201.7 524.1 205.9 524.2 210 524.1 214.1 524 218.2 523.8 222.3 523.6 226.4 523.4 230.5 523.1 234.6 522.9 238.7 522.7 242.8 522.6 246.9 522.6 251.4 522.9 255.9 523.4 260.5 523.4 265 522.9 269.5 522.6 273.7 522.6 277.9 522.6 282.1 522.6 286.3 522.6 290.4 522.6 294.6 522.6 298.8 522.6 303 522.6 307.2 522.6 311.4 522.6 315.6 522.6 319.8 522.9 323.9 523.2 328.1 523.4 332.3 523.6 336.5 523.7 340.7 523.8 345.1 523.7 349.4 523.6 353.8 523.3 358.1 523.1 362.4 522.9 366.8 522.7 371.1 522.7 375.5 522.6 379.8 522.6 384.2 522.6"/>
<path d="M52.3 523.5L56.5 523.6 60.7 523.9 64.8 524.3 69 524.7 73.2 525.2 77.4 525.6 81.6 525.9 85.8 526 89.9 525.9 94.1 525.7 98.3 525.2 102.5 524.7 106.7 524.1 110.9 523.5 115 523 119.2 522.7 123.4 522.6 127.5 522.6 131.7 522.7 135.8 522.7 140 522.8 144.1 522.8 148.2 522.8 152.4 522.7 156.5 522.7 160.7 522.6 164.8 522.6 168.9 522.6 173 522.7 177.1 522.7 181.2 522.8 185.3 523 189.4 523.1 193.5 523.2 197.6 523.3 201.7 523.3 205.9 523.3 210 523.3 214.1 523.3 218.2 523.2 222.3 523.1 226.4 523 230.5 522.8 234.6 522.7 238.7 522.7 242.8 522.6 246.9 522.6 251.4 522.7 255.9 522.9 260.5 522.9 265 522.7 269.5 522.6 273.7 522.7 277.9 523.1 282.1 523.8 286.3 524.5 290.4 525.3 294.6 526 298.8 526.5 303 526.8 307.2 526.8 311.4 526.5 315.6 526 319.8 525.3 323.9 524.5 328.1 523.8 332.3 523.1 336.5 522.7 340.7 522.6 345.1 522.7 349.4 523 353.8 523.4 358.1 523.7 362.4 523.9 366.8 523.9 371.1 523.7 375.5 523.5 379.8 523.3 384.2 523.2"/>
<path d="M52.3 524.7L56.5 524.6 60.7 524.4 64.8 524 69 523.5 73.2 523 77.4 522.6 81.6 522.6 85.8 522.6 89.9 522.6 94.1 522.9 98.3 523.4 102.5 524.1 106.7 524.9 110.9 525.6 115 526.2 119.2 526.5 123.4 526.7 127.5 526.7 131.7 526.9 135.8 527.1 140 527.3 144.1 527.4 148.2 527.2 152.4 527 156.5 526.7 160.7 526.5 164.8 526.4 168.9 526.3 173 526.2 177.1 525.9 181.2 525.6 185.3 525.3 189.4 524.9 193.5 524.5 197.6 524.2 201.7 524 205.9 523.9 210 523.8 214.1 523.9 218.2 524 222.3 524.2 226.4 524.4 230.5 524.6 234.6 524.9 238.7 525 242.8 525.1 246.9 525.2 251.4 524.8 255.9 524 260.5 523.6 265 523.6 269.5 523.7 273.7 523.7 277.9 523.9 282.1 524.1 286.3 524.4 290.4 524.7 294.6 525 298.8 525.3 303 525.5 307.2 525.6 311.4 525.6 315.6 525.5 319.8 525.4 323.9 525.2 328.1 525.1 332.3 524.9 336.5 524.8 340.7 524.8 345.1 525.2 349.4 526.1 353.8 527.3 358.1 528.3 362.4 528.9 366.8 528.9 371.1 528.4 375.5 527.7 379.8 527.1 384.2 526.9"/>
<path d="M52.3 522.6L56.5 522.7 60.7 523 64.8 523.4 69 523.9 73.2 524.4 77.4 524.9 81.6 525.2 85.8 525.4 89.9 525.4 94.1 525.2 98.3 524.9 102.5 524.4 106.7 523.9 110.9 523.4 115 523 119.2 522.7 123.4 522.6 127.5 522.6 131.7 522.8 135.8 523 140 523.3 144.1 523.5 148.2 523.8 152.4 524 156.5 524.2 160.7 524.4 164.8 524.4 168.9 524.4 173 524.2 177.1 523.9 181.2 523.5 185.3 523.1 189.4 522.7 193.5 522.6 197.6 522.6 201.7 522.6 205.9 522.6 210 522.6 214.1 522.6 218.2 522.6 222.3 523 226.4 523.5 230.5 523.9 234.6 524.3 238.7 524.7 242.8 524.9 246.9 524.9 251.4 525.4 255.9 526.2 260.5 526.6 265 526.4 269.5 526.3 273.7 526.4 277.9 526.7 282.1 527.3 286.3 527.9 290.4 528.5 294.6 529 298.8 529.4 303 529.5 307.2 529.3 311.4 528.9 315.6 528.3 319.8 527.5 323.9 526.6 328.1 525.8 332.3 525.2 336.5 524.7 340.7 524.6 345.1 524.5 349.4 524.3 353.8 524 358.1 523.8 362.4 523.6 366.8 523.6 371.1 523.7 375.5 523.9 379.8 524.1 384.2 524.1"/>
<path d="M52.3 522.6L56.5 522.6 60.7 522.6 64.8 522.6 69 522.6 73.2 522.6 77.4 522.6 81.6 522.6 85.8 522.6 89.9 522.6 94.1 522.6 98.3 522.6 102.5 522.6 106.7 522.6 110.9 522.6 115 522.6 119.2 522.6 123.4 522.6 127.5 522.6 131.7 522.7 135.8 523 140 523.3 144.1 523.8 148.2 524.3 152.4 525 156.5 525.6 160.7 526 164.8 526.1 168.9 526.2 173 526.3 177.1 526.4 181.2 526.6 185.3 526.8 189.4 527 193.5 527.2 197.6 527.4 201.7 527.6 205.9 527.7 210 527.8 214.1 527.9 218.2 527.9 222.3 527.8 226.4 527.8 230.5 527.7 234.6 527.7 238.7 527.6 242.8 527.6 246.9 527.6 251.4 527.5 255.9 527.3 260.5 527.3 265 527.3 269.5 527.4 273.7 527.3 277.9 527.1 282.1 526.8 286.3 526.4 290.4 525.9 294.6 525.5 298.8 525 303 524.5 307.2 524.1 311.4 523.8 315.6 523.5 319.8 523.3 323.9 523.1 328.1 522.9 332.3 522.9 336.5 522.8 340.7 522.8 345.1 522.9 349.4 523.3 353.8 523.8 358.1 524.3 362.4 524.6 366.8 524.7 371.1 524.7 375.5 524.5 379.8 524.4 384.2 524.3"/>
<path d="M52.3 527L56.5 527.2 60.7 527.7 64.8 528.5 69 529.5 73.2 530.5 77.4 531.3 81.6 532 85.8 532.3 89.9 532.2 94.1 531.8 98.3 531.1 102.5 530.1 106.7 529 110.9 528 115 527.1 119.2 526.6 123.4 526.4 127.5 526.4 131.7 526.6 135.8 526.8 140 527 144.1 527.1 148.2 527.1 152.4 527 156.5 526.9 160.7 526.8 164.8 526.7 168.9 526.7 173 526.6 177.1 526.5 181.2 526.4 185.3 526.2 189.4 526.1 193.5 525.9 197.6 525.9 201.7 525.8 205.9 525.9 210 526 214.1 526.2 218.2 526.4 222.3 526.7 226.4 526.9 230.5 527.2 234.6 527.4 238.7 527.6 242.8 527.8 246.9 527.8 251.4 527.6 255.9 527.3 260.5 527.1 265 527.2 269.5 527.2 273.7 527.2 277.9 527.3 282.1 527.3 286.3 527.4 290.4 527.5 294.6 527.5 298.8 527.6 303 527.7 307.2 527.8 311.4 527.9 315.6 528 319.8 528.1 323.9 528.2 328.1 528.3 332.3 528.4 336.5 528.4 340.7 528.4 345.1 528.6 349.4 529 353.8 529.5 358.1 529.9 362.4 530.1 366.8 529.9 371.1 529.5 375.5 529.1 379.8 528.7 384.2 528.5"/>
<path d="M52.3 531.2L56.5 531.3 60.7 531.5 64.8 531.8 69 532.1 73.2 532.5 77.4 532.8 81.6 533.1 85.8 533.3 89.9 533.5 94.1 533.5 98.3 533.4 102.5 533.2 106.7 533 110.9 532.8 115 532.6 119.2 532.5 123.4 532.5 127.5 532.5 131.7 532.4 135.8 532.3 140 532.2 144.1 532.1 148.2 532.1 152.4 532.1 156.5 532.2 160.7 532.3 164.8 532.3 168.9 532.4 173 532.8 177.1 533.4 181.2 534.2 185.3 535 189.4 535.8 193.5 536.6 197.6 537.1 201.7 537.4 205.9 537.4 210 537.1 214.1 536.5 218.2 535.7 222.3 534.7 226.4 533.6 230.5 532.6 234.6 531.6 238.7 530.9 242.8 530.4 246.9 530.2 251.4 530.1 255.9 529.7 260.5 529.2 265 528.8 269.5 528.5 273.7 528.6 277.9 528.6 282.1 528.6 286.3 528.7 290.4 528.8 294.6 528.8 298.8 528.8 303 528.8 307.2 528.8 311.4 528.7 315.6 528.6 319.8 528.5 323.9 528.3 328.1 528.2 332.3 528.1 336.5 528 340.7 528 345.1 528.2 349.4 528.8 353.8 529.5 358.1 530.1 362.4 530.4 366.8 530.3 371.1 529.9 375.5 529.4 379.8 529 384.2 528.8"/>
<path d="M52.3 526L56.5 526 60.7 526 64.8 526 69 526 73.2 525.9 77.4 525.9 81.6 525.8 85.8 525.8 89.9 525.8 94.1 525.8 98.3 525.9 102.5 525.9 106.7 525.9 110.9 525.9 115 526 119.2 526 123.4 526 127.5 526.2 131.7 526.6 135.8 527.1 140 527.5 144.1 527.8 148.2 527.6 152.4 527.3 156.5 526.8 160.7 526.5 164.8 526.3 168.9 526.4 173 526.5 177.1 526.7 181.2 526.9 185.3 527.2 189.4 527.4 193.5 527.5 197.6 527.6 201.7 527.5 205.9 527.3 210 526.9 214.1 526.5 218.2 525.9 222.3 525.2 226.4 524.6 230.5 524 234.6 523.4 238.7 523 242.8 522.7 246.9 522.6 251.4 523.1 255.9 523.8 260.5 523.8 265 523.1 269.5 522.6 273.7 522.6 277.9 522.6 282.1 522.6 286.3 522.6 290.4 522.6 294.6 522.6 298.8 522.6 303 522.6 307.2 522.6 311.4 522.6 315.6 522.6 319.8 522.6 323.9 523.4 328.1 524.5 332.3 525.4 336.5 525.9 340.7 526.1 345.1 526 349.4 525.8 353.8 525.4 358.1 525 362.4 524.7 366.8 524.6 371.1 524.5 375.5 524.5 379.8 524.6 384.2 524.6"/>
<path d="M52.3 528.9L56.5 528.9 60.7 528.8 64.8 528.6 69 528.5 73.2 528.3 77.4 528.2 81.6 528.3 85.8 528.4 89.9 528.8 94.1 529.2 98.3 529.7 102.5 530.4 106.7 531 110.9 531.6 115 532 119.2 532.3 123.4 532.4 127.5 532.3 131.7 532 135.8 531.7 140 531.6 144.1 531.6 148.2 532 152.4 532.7 156.5 533.3 160.7 533.8 164.8 534 168.9 534 173 533.9 177.1 533.8 181.2 533.6 185.3 533.5 189.4 533.2 193.5 533 197.6 532.8 201.7 532.6 205.9 532.4 210 532.2 214.1 532 218.2 531.9 222.3 531.8 226.4 531.7 230.5 531.6 234.6 531.5 238.7 531.5 242.8 531.5 246.9 531.5 251.4 531.5 255.9 531.5 260.5 531.3 265 531.1 269.5 531 273.7 530.9 277.9 530.8 282.1 530.6 286.3 530.4 290.4 530.1 294.6 529.7 298.8 529.3 303 528.9 307.2 528.5 311.4 528.1 315.6 527.7 319.8 527.3 323.9 526.9 328.1 526.6 332.3 526.4 336.5 526.2 340.7 526.2 345.1 526.2 349.4 526.1 353.8 526.1 358.1 526.1 362.4 526.2 366.8 526.3 371.1 526.4 375.5 526.6 379.8 526.7 384.2 526.7"/>
<path d="M52.3 531.2L56.5 531.2 60.7 531.3 64.8 531.4 69 531.6 73.2 531.8 77.4 531.9 81.6 532.1 85.8 532.2 89.9 532.4 94.1 532.5 98.3 532.5 102.5 532.6 106.7 532.6 110.9 532.6 115 532.6 119.2 532.6 123.4 532.6 127.5 532.7 131.7 532.8 135.8 533 140 533.1 144.1 532.9 148.2 532.5 152.4 531.9 156.5 531.4 160.7 530.9 164.8 530.7 168.9 530.8 173 531 177.1 531.2 181.2 531.6 185.3 532 189.4 532.5 193.5 533 197.6 533.4 201.7 533.9 205.9 534.4 210 534.8 214.1 535.1 218.2 535.5 222.3 535.7 226.4 536 230.5 536.1 234.6 536.3 238.7 536.4 242.8 536.5 246.9 536.5 251.4 536.3 255.9 535.6 260.5 534.3 265 533 269.5 532.3 273.7 532.2 277.9 531.8 282.1 531.1 286.3 530.4 290.4 529.6 294.6 528.9 298.8 528.4 303 528.2 307.2 528.2 311.4 528.6 315.6 529.2 319.8 530 323.9 530.9 328.1 531.7 332.3 532.4 336.5 532.9 340.7 533.1 345.1 532.7 349.4 531.9 353.8 530.8 358.1 529.9 362.4 529.3 366.8 529.3 371.1 529.7 375.5 530.3 379.8 530.9 384.2 531.1"/>
<path d="M52.3 524.4L56.5 524.3 60.7 523.9 64.8 523.2 69 522.6 73.2 522.6 77.4 522.6 81.6 522.6 85.8 522.6 89.9 522.6 94.1 522.6 98.3 522.6 102.5 523 106.7 524 110.9 525 115 525.8 119.2 526.4 123.4 526.6 127.5 526.5 131.7 526.3 135.8 526.1 140 526 144.1 526.1 148.2 526.3 152.4 526.8 156.5 527.3 160.7 527.6 164.8 527.8 168.9 527.8 173 527.8 177.1 527.8 181.2 527.8 185.3 527.8 189.4 527.9 193.5 527.9 197.6 527.9 201.7 527.9 205.9 527.9 210 527.8 214.1 527.8 218.2 527.7 222.3 527.6 226.4 527.6 230.5 527.5 234.6 527.4 238.7 527.4 242.8 527.4 246.9 527.3 251.4 527.3 255.9 527.3 260.5 527 265 526.7 269.5 526.6 273.7 526.5 277.9 526.1 282.1 525.6 286.3 524.9 290.4 524.2 294.6 523.6 298.8 523 303 522.6 307.2 522.6 311.4 522.6 315.6 522.6 319.8 522.6 323.9 522.6 328.1 522.9 332.3 523.2 336.5 523.3 340.7 523.4 345.1 523.6 349.4 524.2 353.8 525 358.1 525.7 362.4 526.3 366.8 526.5 371.1 526.5 375.5 526.3 379.8 526.1 384.2 526.1"/>
<path d="M52.3 522.6L56.5 522.7 60.7 523.2 64.8 523.8 69 524.7 73.2 525.5 77.4 526.2 81.6 526.8 85.8 527.1 89.9 527.1 94.1 526.8 98.3 526.2 102.5 525.5 106.7 524.7 110.9 523.8 115 523.2 119.2 522.7 123.4 522.6 127.5 522.6 131.7 522.6 135.8 522.6 140 522.6 144.1 522.6 148.2 522.9 152.4 523.8 156.5 524.6 160.7 525.3 164.8 525.6 168.9 525.7 173 526 177.1 526.5 181.2 527.1 185.3 527.8 189.4 528.5 193.5 529.1 197.6 529.6 201.7 530 205.9 530.2 210 530.2 214.1 530 218.2 529.6 222.3 529.2 226.4 528.6 230.5 528.1 234.6 527.6 238.7 527.2 242.8 526.9 246.9 526.8 251.4 527.3 255.9 528.2 260.5 528.3 265 527.5 269.5 527.1 273.7 527.2 277.9 527.7 282.1 528.4 286.3 529.3 290.4 530.3 294.6 531.1 298.8 531.8 303 532.3 307.2 532.5 311.4 532.3 315.6 531.9 319.8 531.3 323.9 530.7 328.1 530 332.3 529.4 336.5 529 340.7 528.9 345.1 528.9 349.4 528.9 353.8 528.9 358.1 529 362.4 529.1 366.8 529.3 371.1 529.5 375.5 529.7 379.8 529.9 384.2 529.9"/>
<path d="M52.3 528.6L56.5 528.5 60.7 528.4 64.8 528.2 69 528 73.2 527.8 77.4 527.6 81.6 527.4 85.8 527.4 89.9 527.4 94.1 527.5 98.3 527.7 102.5 527.9 106.7 528.2 110.9 528.4 115 528.7 119.2 528.8 123.4 528.8 127.5 529.2 131.7 530.2 135.8 531.5 140 532.8 144.1 533.7 148.2 534.3 152.4 534.4 156.5 534.3 160.7 534.1 164.8 534 168.9 533.9 173 533.5 177.1 533 181.2 532.3 185.3 531.5 189.4 530.7 193.5 530 197.6 529.4 201.7 529 205.9 528.9 210 528.9 214.1 529.2 218.2 529.7 222.3 530.3 226.4 531 230.5 531.7 234.6 532.4 238.7 532.9 242.8 533.2 246.9 533.3 251.4 533.2 255.9 532.8 260.5 532.2 265 531.6 269.5 531.3 273.7 531.4 277.9 531.5 282.1 531.8 286.3 532 290.4 532.3 294.6 532.4 298.8 532.5 303 532.4 307.2 532.2 311.4 531.8 315.6 531.3 319.8 530.7 323.9 530.1 328.1 529.6 332.3 529.1 336.5 528.8 340.7 528.7 345.1 528.8 349.4 528.8 353.8 529 358.1 529.2 362.4 529.5 366.8 529.9 371.1 530.3 375.5 530.7 379.8 530.9 384.2 531"/>
<path d="M52.3 533.7L56.5 533.5 60.7 532.9 64.8 532 69 530.9 73.2 529.7 77.4 528.7 81.6 527.8 85.8 527.4 89.9 527.3 94.1 527.6 98.3 528.2 102.5 529.1 106.7 530.1 110.9 531.1 115 531.9 119.2 532.5 123.4 532.6 127.5 532.5 131.7 532.1 135.8 531.6 140 531.3 144.1 531.3 148.2 531.7 152.4 532.4 156.5 533.1 160.7 533.7 164.8 534 168.9 533.8 173 533.4 177.1 532.7 181.2 531.8 185.3 530.8 189.4 529.9 193.5 529.1 197.6 528.5 201.7 528.2 205.9 528.2 210 528.6 214.1 529.3 218.2 530.3 222.3 531.5 226.4 532.7 230.5 534 234.6 535.1 238.7 536 242.8 536.5 246.9 536.7 251.4 537.1 255.9 537.7 260.5 537.8 265 537.2 269.5 536.9 273.7 536.7 277.9 536.2 282.1 535.5 286.3 534.6 290.4 533.7 294.6 532.8 298.8 532 303 531.4 307.2 531.1 311.4 531 315.6 531.2 319.8 531.6 323.9 532 328.1 532.5 332.3 532.9 336.5 533.2 340.7 533.3 345.1 533.3 349.4 533.4 353.8 533.5 358.1 533.6 362.4 533.7 366.8 533.8 371.1 533.9 375.5 534 379.8 534.1 384.2 534.1"/>
<path d="M52.3 535.6L56.5 535.6 60.7 535.7 64.8 535.8 69 535.9 73.2 536 77.4 536 81.6 536 85.8 536 89.9 535.9 94.1 535.7 98.3 535.6 102.5 535.3 106.7 535.1 110.9 534.9 115 534.7 119.2 534.6 123.4 534.6 127.5 534.4 131.7 533.9 135.8 533.4 140 532.9 144.1 532.6 148.2 532.6 152.4 532.8 156.5 533.2 160.7 533.5 164.8 533.7 168.9 533.6 173 533.5 177.1 533.4 181.2 533.2 185.3 533 189.4 532.8 193.5 532.6 197.6 532.5 201.7 532.4 205.9 532.3 210 532.3 214.1 532.3 218.2 532.4 222.3 532.6 226.4 532.7 230.5 532.8 234.6 533 238.7 533.1 242.8 533.2 246.9 533.2 251.4 532.7 255.9 531.9 260.5 531.9 265 532.5 269.5 532.9 273.7 532.9 277.9 532.8 282.1 532.7 286.3 532.5 290.4 532.3 294.6 532 298.8 531.8 303 531.7 307.2 531.5 311.4 531.4 315.6 531.3 319.8 531.2 323.9 531.2 328.1 531.2 332.3 531.1 336.5 531.1 340.7 531.1 345.1 531.1 349.4 530.9 353.8 530.7 358.1 530.3 362.4 530 366.8 529.5 371.1 529.1 375.5 528.8 379.8 528.5 384.2 528.4"/>
<path d="M52.3 530.7L56.5 530.8 60.7 531.2 64.8 531.6 69 532.2 73.2 532.8 77.4 533.3 81.6 533.7 85.8 534 89.9 534 94.1 533.9 98.3 533.6 102.5 533.1 106.7 532.6 110.9 532.1 115 531.7 119.2 531.4 123.4 531.4 127.5 531.3 131.7 531.2 135.8 531.1 140 531.1 144.1 531.2 148.2 531.6 152.4 532.1 156.5 532.7 160.7 533.1 164.8 533.2 168.9 533.1 173 532.9 177.1 532.5 181.2 532.1 185.3 531.6 189.4 531.1 193.5 530.6 197.6 530.2 201.7 530 205.9 529.9 210 530 214.1 530.3 218.2 530.7 222.3 531.1 226.4 531.7 230.5 532.2 234.6 532.7 238.7 533.1 242.8 533.3 246.9 533.4 251.4 532.9 255.9 532 260.5 531.4 265 531.4 269.5 531.4 273.7 531.2 277.9 530.7 282.1 529.8 286.3 528.7 290.4 527.6 294.6 526.5 298.8 525.6 303 525 307.2 524.7 311.4 524.7 315.6 525 319.8 525.6 323.9 526.2 328.1 526.9 332.3 527.5 336.5 527.9 340.7 528 345.1 528 349.4 528 353.8 527.9 358.1 527.9 362.4 528 366.8 528 371.1 528.1 375.5 528.2 379.8 528.3 384.2 528.4"/>
<path d="M52.3 528.9L56.5 529 60.7 529.5 64.8 530.1 69 530.9 73.2 531.7 77.4 532.5 81.6 533.1 85.8 533.4 89.9 533.5 94.1 533.3 98.3 532.9 102.5 532.3 106.7 531.6 110.9 530.9 115 530.3 119.2 529.9 123.4 529.8 127.5 530.2 131.7 531.4 135.8 532.8 140 534.2 144.1 535.1 148.2 535.4 152.4 535 156.5 534.4 160.7 533.9 164.8 533.6 168.9 533.6 173 533.4 177.1 533 181.2 532.6 185.3 532.1 189.4 531.6 193.5 531.2 197.6 530.8 201.7 530.5 205.9 530.3 210 530.2 214.1 530.3 218.2 530.4 222.3 530.7 226.4 531 230.5 531.3 234.6 531.6 238.7 531.8 242.8 531.9 246.9 532 251.4 532.4 255.9 533.3 260.5 534.1 265 534.6 269.5 534.7 273.7 534.7 277.9 534.7 282.1 534.7 286.3 534.6 290.4 534.5 294.6 534.4 298.8 534.2 303 533.8 307.2 533.4 311.4 532.9 315.6 532.4 319.8 531.8 323.9 531.3 328.1 530.8 332.3 530.4 336.5 530.1 340.7 530 345.1 530 349.4 529.9 353.8 529.8 358.1 529.7 362.4 529.8 366.8 530 371.1 530.3 375.5 530.6 379.8 530.9 384.2 531"/>
<path d="M52.3 534.2L56.5 534.2 60.7 534.2 64.8 534.2 69 534.2 73.2 534.2 77.4 534.3 81.6 534.4 85.8 534.6 89.9 534.9 94.1 535.2 98.3 535.6 102.5 536 106.7 536.4 110.9 536.8 115 537.1 119.2 537.2 123.4 537.3 127.5 537.2 131.7 537 135.8 536.7 140 536.5 144.1 536.4 148.2 536.5 152.4 536.7 156.5 537 160.7 537.2 164.8 537.3 168.9 537.5 173 538 177.1 538.8 181.2 539.8 185.3 541 189.4 542.1 193.5 543.2 197.6 544 201.7 544.5 205.9 544.7 210 544.5 214.1 544 218.2 543.1 222.3 542.1 226.4 540.9 230.5 539.8 234.6 538.8 238.7 537.9 242.8 537.4 246.9 537.2 251.4 536.1 255.9 534.1 260.5 532.8 265 532.8 269.5 533 273.7 533.1 277.9 533.3 282.1 533.7 286.3 534.1 290.4 534.5 294.6 535 298.8 535.4 303 535.7 307.2 535.9 311.4 536 315.6 536 319.8 536 323.9 535.9 328.1 535.7 332.3 535.6 336.5 535.5 340.7 535.5 345.1 536 349.4 537.4 353.8 539.1 358.1 540.6 362.4 541.4 366.8 541.2 371.1 540.2 375.5 538.9 379.8 537.8 384.2 537.4"/>
<path d="M52.3 522.8L56.5 522.9 60.7 523.2 64.8 523.7 69 524.3 73.2 524.9 77.4 525.6 81.6 526.2 85.8 526.8 89.9 527.2 94.1 527.5 98.3 527.6 102.5 527.7 106.7 527.7 110.9 527.6 115 527.5 119.2 527.5 123.4 527.5 127.5 527.4 131.7 527.3 135.8 527.3 140 527.3 144.1 527.7 148.2 528.2 152.4 529 156.5 529.7 160.7 530.3 164.8 530.5 168.9 530.6 173 531 177.1 531.6 181.2 532.4 185.3 533.3 189.4 534.2 193.5 535 197.6 535.6 201.7 536 205.9 536.1 210 536 214.1 535.6 218.2 535 222.3 534.2 226.4 533.3 230.5 532.4 234.6 531.6 238.7 531 242.8 530.6 246.9 530.5 251.4 530.9 255.9 531.6 260.5 531.6 265 530.8 269.5 530.3 273.7 530.3 277.9 530.5 282.1 530.7 286.3 530.9 290.4 531.2 294.6 531.5 298.8 531.8 303 532.1 307.2 532.3 311.4 532.5 315.6 532.7 319.8 532.8 323.9 532.9 328.1 532.9 332.3 533 336.5 533 340.7 533 345.1 533 349.4 532.9 353.8 532.7 358.1 532.6 362.4 532.6 366.8 532.6 371.1 532.6 375.5 532.7 379.8 532.8 384.2 532.8"/>
<path d="M52.3 535.4L56.5 535.5 60.7 535.6 64.8 535.8 69 536 73.2 536.3 77.4 536.5 81.6 536.5 85.8 536.5 89.9 536.3 94.1 535.9 98.3 535.5 102.5 534.9 106.7 534.4 110.9 533.9 115 533.5 119.2 533.2 123.4 533.1 127.5 533.2 131.7 533.3 135.8 533.5 140 533.6 144.1 533.6 148.2 533.4 152.4 533 156.5 532.6 160.7 532.3 164.8 532.2 168.9 532.4 173 533 177.1 534 181.2 535.3 185.3 536.8 189.4 538.3 193.5 539.8 197.6 541.1 201.7 542.2 205.9 543 210 543.5 214.1 543.6 218.2 543.5 222.3 543.1 226.4 542.6 230.5 542 234.6 541.4 238.7 541 242.8 540.7 246.9 540.6 251.4 540.7 255.9 540.9 260.5 540.8 265 540.5 269.5 540.3 273.7 540.3 277.9 540.3 282.1 540.3 286.3 540.2 290.4 540.1 294.6 540.1 298.8 540.1 303 540 307.2 540 311.4 540 315.6 540 319.8 540 323.9 540.1 328.1 540.1 332.3 540.1 336.5 540.1 340.7 540.2 345.1 540.1 349.4 539.8 353.8 539.4 358.1 538.7 362.4 537.8 366.8 536.6 371.1 535.4 375.5 534.3 379.8 533.5 384.2 533.2"/>
<path d="M52.3 542.2L56.5 542.1 60.7 541.8 64.8 541.4 69 540.9 73.2 540.3 77.4 539.7 81.6 539.1 85.8 538.6 89.9 538.2 94.1 537.9 98.3 537.7 102.5 537.5 106.7 537.5 110.9 537.4 115 537.4 119.2 537.4 123.4 537.4 127.5 537.7 131.7 538.4 135.8 539.2 140 539.8 144.1 540 148.2 539.7 152.4 538.9 156.5 537.9 160.7 537.1 164.8 536.8 168.9 536.9 173 537.1 177.1 537.4 181.2 537.7 185.3 538.1 189.4 538.5 193.5 538.9 197.6 539.3 201.7 539.5 205.9 539.6 210 539.7 214.1 539.6 218.2 539.5 222.3 539.3 226.4 539 230.5 538.7 234.6 538.5 238.7 538.3 242.8 538.2 246.9 538.1 251.4 538.1 255.9 538.1 260.5 538.4 265 538.8 269.5 539 273.7 539 277.9 539 282.1 539 286.3 538.9 290.4 538.8 294.6 538.7 298.8 538.6 303 538.4 307.2 538.1 311.4 537.9 315.6 537.6 319.8 537.2 323.9 536.9 328.1 536.7 332.3 536.5 336.5 536.3 340.7 536.3 345.1 536.5 349.4 537.2 353.8 538 358.1 538.7 362.4 538.9 366.8 538.5 371.1 537.8 375.5 536.9 379.8 536.2 384.2 535.9"/>
<path d="M52.3 534.7L56.5 534.5 60.7 533.9 64.8 533 69 532 73.2 530.9 77.4 530.1 81.6 529.6 85.8 529.5 89.9 530 94.1 531 98.3 532.4 102.5 534 106.7 535.8 110.9 537.5 115 538.8 119.2 539.7 123.4 540 127.5 539.9 131.7 539.6 135.8 539.2 140 539 144.1 538.9 148.2 539.2 152.4 539.7 156.5 540.3 160.7 540.8 164.8 540.9 168.9 541 173 541 177.1 541.1 181.2 541.3 185.3 541.4 189.4 541.6 193.5 541.8 197.6 542.1 201.7 542.3 205.9 542.6 210 542.9 214.1 543.2 218.2 543.5 222.3 543.8 226.4 544 230.5 544.3 234.6 544.5 238.7 544.6 242.8 544.7 246.9 544.8 251.4 544.8 255.9 544.8 260.5 544.3 265 543.6 269.5 543.2 273.7 543.1 277.9 542.7 282.1 542.1 286.3 541.4 290.4 540.6 294.6 539.9 298.8 539.2 303 538.6 307.2 538.2 311.4 538 315.6 537.9 319.8 538 323.9 538.1 328.1 538.3 332.3 538.5 336.5 538.6 340.7 538.7 345.1 538.6 349.4 538.6 353.8 538.5 358.1 538.4 362.4 538.4 366.8 538.4 371.1 538.4 375.5 538.5 379.8 538.6 384.2 538.6"/>
<path d="M52.3 537.9L56.5 538.1 60.7 538.5 64.8 539.1 69 539.8 73.2 540.6 77.4 541.3 81.6 541.9 85.8 542.2 89.9 542.2 94.1 542 98.3 541.5 102.5 540.9 106.7 540.2 110.9 539.5 115 538.9 119.2 538.5 123.4 538.4 127.5 538.5 131.7 538.7 135.8 539 140 539.2 144.1 539.3 148.2 539.2 152.4 539.1 156.5 538.8 160.7 538.6 164.8 538.5 168.9 538.6 173 538.9 177.1 539.3 181.2 539.9 185.3 540.5 189.4 541.2 193.5 541.8 197.6 542.3 201.7 542.7 205.9 542.9 210 543 214.1 542.9 218.2 542.6 222.3 542.3 226.4 541.9 230.5 541.4 234.6 541 238.7 540.7 242.8 540.5 246.9 540.5 251.4 540.5 255.9 540.5 260.5 539.9 265 539 269.5 538.5 273.7 538.5 277.9 538.6 282.1 538.9 286.3 539.1 290.4 539.5 294.6 539.8 298.8 540.2 303 540.5 307.2 540.9 311.4 541.2 315.6 541.5 319.8 541.7 323.9 541.9 328.1 542.1 332.3 542.2 336.5 542.3 340.7 542.3 345.1 542.6 349.4 543.3 353.8 544.1 358.1 544.7 362.4 544.6 366.8 543.9 371.1 542.7 375.5 541.4 379.8 540.3 384.2 539.9"/>
<path d="M52.3 538.9L56.5 538.7 60.7 538 64.8 537.1 69 535.9 73.2 534.7 77.4 533.7 81.6 532.9 85.8 532.5 89.9 532.6 94.1 533.1 98.3 534.1 102.5 535.3 106.7 536.6 110.9 537.9 115 538.9 119.2 539.6 123.4 539.8 127.5 539.9 131.7 540.1 135.8 540.3 140 540.5 144.1 540.8 148.2 541 152.4 541.2 156.5 541.4 160.7 541.5 164.8 541.5 168.9 541.4 173 541.1 177.1 540.7 181.2 540.2 185.3 539.6 189.4 539 193.5 538.4 197.6 538 201.7 537.8 205.9 537.7 210 537.8 214.1 538.1 218.2 538.5 222.3 539.1 226.4 539.7 230.5 540.3 234.6 540.8 238.7 541.3 242.8 541.6 246.9 541.7 251.4 541.8 255.9 541.9 260.5 541.5 265 540.6 269.5 540.2 273.7 540 277.9 539.7 282.1 539.1 286.3 538.5 290.4 537.8 294.6 537.2 298.8 536.7 303 536.5 307.2 536.6 311.4 536.9 315.6 537.4 319.8 538.1 323.9 538.9 328.1 539.6 332.3 540.2 336.5 540.6 340.7 540.7 345.1 540.1 349.4 538.4 353.8 536.3 358.1 534.4 362.4 533.4 366.8 533.5 371.1 534.6 375.5 536.1 379.8 537.3 384.2 537.8"/>
<path d="M52.3 542.2L56.5 542.2 60.7 542.1 64.8 542.1 69 542 73.2 541.8 77.4 541.6 81.6 541.3 85.8 541 89.9 540.5 94.1 540 98.3 539.5 102.5 538.9 106.7 538.4 110.9 537.9 115 537.6 119.2 537.3 123.4 537.2 127.5 537.2 131.7 537.1 135.8 537 140 536.8 144.1 536.7 148.2 536.6 152.4 536.5 156.5 536.4 160.7 536.4 164.8 536.4 168.9 536.3 173 536 177.1 535.6 181.2 535.1 185.3 534.5 189.4 533.9 193.5 533.4 197.6 532.9 201.7 532.6 205.9 532.4 210 532.4 214.1 532.5 218.2 532.8 222.3 533.1 226.4 533.5 230.5 534 234.6 534.4 238.7 534.7 242.8 534.9 246.9 535 251.4 535.2 255.9 535.6 260.5 535.9 265 536 269.5 536 273.7 536.1 277.9 536.3 282.1 536.5 286.3 536.9 290.4 537.2 294.6 537.6 298.8 537.9 303 538.1 307.2 538.3 311.4 538.4 315.6 538.4 319.8 538.3 323.9 538.2 328.1 538 332.3 537.9 336.5 537.8 340.7 537.8 345.1 538.1 349.4 538.8 353.8 539.6 358.1 540.4 362.4 540.7 366.8 540.7 371.1 540.2 375.5 539.5 379.8 539 384.2 538.8"/>
<path d="M52.3 532.5L56.5 532.5 60.7 532.5 64.8 532.4 69 532.4 73.2 532.4 77.4 532.5 81.6 532.5 85.8 532.7 89.9 532.9 94.1 533.1 98.3 533.4 102.5 533.7 106.7 534 110.9 534.2 115 534.5 119.2 534.6 123.4 534.6 127.5 535.3 131.7 536.9 135.8 539 140 540.9 144.1 541.9 148.2 541.9 152.4 541 156.5 539.6 160.7 538.5 164.8 538.1 168.9 538.2 173 538.6 177.1 539.2 181.2 539.9 185.3 540.7 189.4 541.5 193.5 542.3 197.6 542.8 201.7 543.2 205.9 543.3 210 543.1 214.1 542.7 218.2 542.1 222.3 541.4 226.4 540.5 230.5 539.7 234.6 538.9 238.7 538.3 242.8 537.9 246.9 537.8 251.4 538 255.9 538.4 260.5 539.1 265 539.9 269.5 540.2 273.7 540.3 277.9 540.3 282.1 540.5 286.3 540.6 290.4 540.8 294.6 541 298.8 541.1 303 541.3 307.2 541.4 311.4 541.6 315.6 541.6 319.8 541.7 323.9 541.8 328.1 541.8 332.3 541.8 336.5 541.8 340.7 541.8 345.1 542.4 349.4 544 353.8 546 358.1 547.7 362.4 548.4 366.8 548.1 371.1 546.8 375.5 545.1 379.8 543.7 384.2 543.2"/>
<path d="M52.3 540.3L56.5 540.3 60.7 540.3 64.8 540.3 69 540.3 73.2 540.3 77.4 540.3 81.6 540.4 85.8 540.4 89.9 540.4 94.1 540.4 98.3 540.4 102.5 540.4 106.7 540.4 110.9 540.4 115 540.5 119.2 540.5 123.4 540.5 127.5 540.4 131.7 540.2 135.8 540 140 539.7 144.1 539.5 148.2 539.2 152.4 539 156.5 538.8 160.7 538.7 164.8 538.6 168.9 538.7 173 538.9 177.1 539.2 181.2 539.6 185.3 540 189.4 540.5 193.5 541 197.6 541.4 201.7 541.7 205.9 542 210 542.2 214.1 542.3 218.2 542.3 222.3 542.2 226.4 542.1 230.5 542 234.6 541.8 238.7 541.7 242.8 541.7 246.9 541.6 251.4 541.4 255.9 540.9 260.5 540.4 265 540.2 269.5 540.1 273.7 540.2 277.9 540.2 282.1 540.3 286.3 540.4 290.4 540.6 294.6 540.7 298.8 540.8 303 540.8 307.2 540.8 311.4 540.8 315.6 540.7 319.8 540.6 323.9 540.5 328.1 540.4 332.3 540.3 336.5 540.2 340.7 540.2 345.1 540.4 349.4 540.9 353.8 541.5 358.1 541.9 362.4 542.1 366.8 541.9 371.1 541.4 375.5 540.8 379.8 540.3 384.2 540.1"/>
<path d="M52.3 541.7L56.5 541.6 60.7 541.3 64.8 540.7 69 540.1 73.2 539.4 77.4 538.7 81.6 538.1 85.8 537.6 89.9 537.3 94.1 537.2 98.3 537.3 102.5 537.5 106.7 537.7 110.9 538 115 538.2 119.2 538.4 123.4 538.4 127.5 538.6 131.7 538.8 135.8 539.2 140 539.4 144.1 539.5 148.2 539.3 152.4 538.9 156.5 538.5 160.7 538.1 164.8 538 168.9 538.1 173 538.3 177.1 538.6 181.2 539 185.3 539.4 189.4 539.9 193.5 540.3 197.6 540.7 201.7 540.9 205.9 541.1 210 541.1 214.1 541 218.2 540.8 222.3 540.5 226.4 540.2 230.5 539.9 234.6 539.6 238.7 539.3 242.8 539.2 246.9 539.1 251.4 538.9 255.9 538.5 260.5 538 265 537.6 269.5 537.4 273.7 537.4 277.9 537.3 282.1 537.2 286.3 537 290.4 536.9 294.6 536.7 298.8 536.6 303 536.6 307.2 536.6 311.4 536.6 315.6 536.7 319.8 536.9 323.9 537.1 328.1 537.2 332.3 537.4 336.5 537.4 340.7 537.5 345.1 537.1 349.4 536 353.8 534.6 358.1 533.3 362.4 532.5 366.8 532.3 371.1 532.7 375.5 533.4 379.8 533.9 384.2 534.2"/>
<path d="M52.3 546.8L56.5 546.7 60.7 546.4 64.8 546 69 545.5 73.2 544.8 77.4 544.2 81.6 543.5 85.8 542.8 89.9 542.2 94.1 541.6 98.3 541.1 102.5 540.7 106.7 540.3 110.9 540.1 115 539.8 119.2 539.7 123.4 539.7 127.5 539.8 131.7 540.2 135.8 540.6 140 540.9 144.1 540.8 148.2 540.4 152.4 539.6 156.5 538.8 160.7 538.1 164.8 537.9 168.9 537.7 173 537.1 177.1 536.3 181.2 535.2 185.3 534 189.4 532.8 193.5 531.7 197.6 530.7 201.7 530.1 205.9 529.7 210 529.7 214.1 530 218.2 530.6 222.3 531.5 226.4 532.4 230.5 533.4 234.6 534.2 238.7 534.9 242.8 535.4 246.9 535.5 251.4 536.1 255.9 537.1 260.5 537.9 265 538.1 269.5 538.1 273.7 538 277.9 537.5 282.1 536.8 286.3 536 290.4 535.2 294.6 534.4 298.8 533.8 303 533.5 307.2 533.5 311.4 533.8 315.6 534.3 319.8 535 323.9 535.9 328.1 536.7 332.3 537.3 336.5 537.8 340.7 537.9 345.1 538.2 349.4 538.8 353.8 539.5 358.1 540 362.4 540.1 366.8 539.6 371.1 538.7 375.5 537.7 379.8 536.9 384.2 536.6"/>
<path d="M52.3 538.7L56.5 538.6 60.7 538.1 64.8 537.4 69 536.6 73.2 535.7 77.4 535 81.6 534.5 85.8 534.3 89.9 534.4 94.1 534.9 98.3 535.7 102.5 536.7 106.7 537.8 110.9 538.8 115 539.6 119.2 540.2 123.4 540.4 127.5 540.3 131.7 540.1 135.8 539.9 140 539.8 144.1 540 148.2 540.3 152.4 540.8 156.5 541.3 160.7 541.7 164.8 541.9 168.9 541.8 173 541.5 177.1 541.1 181.2 540.5 185.3 539.9 189.4 539.3 193.5 538.7 197.6 538.4 201.7 538.2 205.9 538.3 210 538.6 214.1 539.1 218.2 539.8 222.3 540.7 226.4 541.6 230.5 542.5 234.6 543.3 238.7 543.9 242.8 544.3 246.9 544.4 251.4 544 255.9 543.4 260.5 543.7 265 544.6 269.5 545.2 273.7 545.2 277.9 545.3 282.1 545.4 286.3 545.6 290.4 545.8 294.6 546 298.8 546.3 303 546.6 307.2 546.9 311.4 547.3 315.6 547.7 319.8 548 323.9 548.3 328.1 548.6 332.3 548.8 336.5 549 340.7 549 345.1 549.1 349.4 549.1 353.8 549.2 358.1 549.3 362.4 549.4 366.8 549.5 371.1 549.6 375.5 549.7 379.8 549.7 384.2 549.7"/>
<path d="M52.3 544L56.5 544 60.7 544 64.8 544.1 69 544.2 73.2 544.2 77.4 544.2 81.6 544.1 85.8 543.9 89.9 543.5 94.1 543.1 98.3 542.6 102.5 542.1 106.7 541.5 110.9 541.1 115 540.7 119.2 540.4 123.4 540.3 127.5 540.2 131.7 540 135.8 539.6 140 539.2 144.1 538.9 148.2 538.6 152.4 538.4 156.5 538.3 160.7 538.2 164.8 538.2 168.9 538.4 173 539 177.1 539.8 181.2 540.9 185.3 542.1 189.4 543.3 193.5 544.4 197.6 545.3 201.7 545.9 205.9 546.2 210 546.1 214.1 545.6 218.2 544.9 222.3 543.9 226.4 542.8 230.5 541.7 234.6 540.7 238.7 539.9 242.8 539.4 246.9 539.2 251.4 539.8 255.9 541.2 260.5 542.5 265 543.2 269.5 543.5 273.7 543.7 277.9 544.4 282.1 545.4 286.3 546.7 290.4 548 294.6 549.2 298.8 550.2 303 550.8 307.2 551 311.4 550.8 315.6 550.2 319.8 549.3 323.9 548.3 328.1 547.3 332.3 546.5 336.5 545.9 340.7 545.7 345.1 546 349.4 546.6 353.8 547.4 358.1 548.1 362.4 548.3 366.8 547.9 371.1 547.1 375.5 546.2 379.8 545.4 384.2 545.1"/>
<path d="M52.3 543.7L56.5 543.7 60.7 543.8 64.8 543.9 69 544 73.2 544 77.4 544 81.6 543.8 85.8 543.6 89.9 543.2 94.1 542.7 98.3 542.1 102.5 541.4 106.7 540.8 110.9 540.2 115 539.7 119.2 539.4 123.4 539.3 127.5 539.5 131.7 540.1 135.8 540.8 140 541.4 144.1 541.9 148.2 542.1 152.4 542.1 156.5 541.9 160.7 541.7 164.8 541.6 168.9 541.6 173 541.7 177.1 541.7 181.2 541.7 185.3 541.8 189.4 541.8 193.5 541.9 197.6 542 201.7 542.1 205.9 542.2 210 542.3 214.1 542.5 218.2 542.6 222.3 542.7 226.4 542.8 230.5 542.9 234.6 543 238.7 543.1 242.8 543.1 246.9 543.2 251.4 542.6 255.9 541.5 260.5 540.9 265 541 269.5 541.2 273.7 541.2 277.9 541.2 282.1 541.1 286.3 541 290.4 540.9 294.6 540.9 298.8 540.8 303 540.8 307.2 540.8 311.4 540.9 315.6 541 319.8 541.2 323.9 541.3 328.1 541.4 332.3 541.5 336.5 541.6 340.7 541.6 345.1 541.6 349.4 541.6 353.8 541.6 358.1 541.6 362.4 541.6 366.8 541.6 371.1 541.7 375.5 541.8 379.8 541.9 384.2 541.9"/>
<path d="M52.3 544.3L56.5 544.4 60.7 544.7 64.8 545 69 545.5 73.2 546 77.4 546.6 81.6 547.1 85.8 547.6 89.9 548.1 94.1 548.4 98.3 548.7 102.5 549 106.7 549.1 110.9 549.2 115 549.3 119.2 549.3 123.4 549.3 127.5 549.6 131.7 550.4 135.8 551.2 140 551.8 144.1 551.7 148.2 551 152.4 549.6 156.5 548.2 160.7 547 164.8 546.6 168.9 546.7 173 547.1 177.1 547.7 181.2 548.4 185.3 549.2 189.4 549.9 193.5 550.5 197.6 550.9 201.7 551 205.9 550.8 210 550.2 214.1 549.4 218.2 548.2 222.3 546.9 226.4 545.6 230.5 544.2 234.6 543.1 238.7 542.1 242.8 541.5 246.9 541.3 251.4 541.8 255.9 542.6 260.5 542.9 265 542.4 269.5 542.1 273.7 542.6 277.9 543.7 282.1 545.5 286.3 547.7 290.4 550 294.6 552.2 298.8 553.9 303 555.1 307.2 555.5 311.4 555.2 315.6 554.2 319.8 552.8 323.9 551.2 328.1 549.5 332.3 548.1 336.5 547.2 340.7 546.9 345.1 546.9 349.4 546.7 353.8 546.5 358.1 546.1 362.4 545.7 366.8 545.2 371.1 544.6 375.5 544.1 379.8 543.7 384.2 543.6"/>
<path d="M52.3 546L56.5 546 60.7 546.3 64.8 546.6 69 547.1 73.2 547.6 77.4 548.1 81.6 548.6 85.8 549 89.9 549.3 94.1 549.6 98.3 549.7 102.5 549.8 106.7 549.8 110.9 549.8 115 549.7 119.2 549.7 123.4 549.7 127.5 549.8 131.7 550 135.8 550.2 140 550 144.1 549.3 148.2 548 152.4 546.2 156.5 544.5 160.7 543.1 164.8 542.6 168.9 542.7 173 543 177.1 543.3 181.2 543.8 185.3 544.3 189.4 544.8 193.5 545.2 197.6 545.5 201.7 545.7 205.9 545.7 210 545.5 214.1 545.1 218.2 544.6 222.3 544 226.4 543.4 230.5 542.7 234.6 542.2 238.7 541.7 242.8 541.4 246.9 541.3 251.4 542 255.9 543.2 260.5 543.9 265 543.7 269.5 543.5 273.7 543.6 277.9 543.9 282.1 544.4 286.3 544.9 290.4 545.5 294.6 546.1 298.8 546.6 303 547 307.2 547.2 311.4 547.4 315.6 547.3 319.8 547.2 323.9 547 328.1 546.8 332.3 546.6 336.5 546.5 340.7 546.5 345.1 546.6 349.4 546.9 353.8 547.5 358.1 548.2 362.4 549 366.8 549.9 371.1 550.8 375.5 551.6 379.8 552.1 384.2 552.3"/>
<path d="M52.3 536.9L56.5 537 60.7 537.1 64.8 537.2 69 537.4 73.2 537.6 77.4 537.9 81.6 538.2 85.8 538.5 89.9 538.8 94.1 539.1 98.3 539.3 102.5 539.6 106.7 539.8 110.9 540 115 540.1 119.2 540.2 123.4 540.2 127.5 540 131.7 539.5 135.8 538.9 140 538.5 144.1 538.5 148.2 539 152.4 540 156.5 541.1 160.7 541.9 164.8 542.2 168.9 542.2 173 542.2 177.1 542.2 181.2 542.2 185.3 542.3 189.4 542.3 193.5 542.3 197.6 542.2 201.7 542.2 205.9 542.2 210 542.1 214.1 542.1 218.2 542 222.3 541.9 226.4 541.8 230.5 541.7 234.6 541.7 238.7 541.6 242.8 541.6 246.9 541.6 251.4 541.9 255.9 542.7 260.5 543.8 265 544.9 269.5 545.3 273.7 545.4 277.9 545.6 282.1 545.8 286.3 546.1 290.4 546.4 294.6 546.7 298.8 546.8 303 546.8 307.2 546.7 311.4 546.4 315.6 546 319.8 545.5 323.9 545 328.1 544.5 332.3 544.1 336.5 543.9 340.7 543.8 345.1 543.7 349.4 543.5 353.8 543.3 358.1 543.2 362.4 543.3 366.8 543.6 371.1 544.1 375.5 544.7 379.8 545.1 384.2 545.3"/>
<path d="M52.3 552L56.5 552.2 60.7 552.6 64.8 553.2 69 553.9 73.2 554.8 77.4 555.6 81.6 556.3 85.8 556.9 89.9 557.3 94.1 557.4 98.3 557.4 102.5 557.3 106.7 557 110.9 556.8 115 556.5 119.2 556.4 123.4 556.3 127.5 556.1 131.7 555.6 135.8 554.9 140 554.2 144.1 553.7 148.2 553.4 152.4 553.4 156.5 553.4 160.7 553.5 164.8 553.6 168.9 553.5 173 553.2 177.1 552.8 181.2 552.3 185.3 551.7 189.4 551.1 193.5 550.6 197.6 550.1 201.7 549.8 205.9 549.6 210 549.7 214.1 549.9 218.2 550.2 222.3 550.6 226.4 551.1 230.5 551.6 234.6 552 238.7 552.4 242.8 552.6 246.9 552.7 251.4 552.8 255.9 552.8 260.5 552.1 265 550.9 269.5 550.3 273.7 550.6 277.9 551.3 282.1 552.3 286.3 553.5 290.4 554.9 294.6 556.1 298.8 557.2 303 557.9 307.2 558.3 311.4 558.3 315.6 557.9 319.8 557.2 323.9 556.4 328.1 555.7 332.3 555 336.5 554.5 340.7 554.4 345.1 554.3 349.4 554 353.8 553.5 358.1 553 362.4 552.4 366.8 551.8 371.1 551.2 375.5 550.8 379.8 550.5 384.2 550.4"/>
<path d="M52.3 545.1L56.5 545.1 60.7 545 64.8 545 69 544.9 73.2 544.8 77.4 544.8 81.6 544.8 85.8 545 89.9 545.2 94.1 545.5 98.3 545.9 102.5 546.3 106.7 546.7 110.9 547 115 547.3 119.2 547.5 123.4 547.6 127.5 547.6 131.7 547.7 135.8 547.8 140 547.9 144.1 548.1 148.2 548.4 152.4 548.7 156.5 548.9 160.7 549.1 164.8 549.2 168.9 549.3 173 549.8 177.1 550.5 181.2 551.3 185.3 552.3 189.4 553.2 193.5 554.1 197.6 554.8 201.7 555.2 205.9 555.4 210 555.3 214.1 554.9 218.2 554.2 222.3 553.4 226.4 552.5 230.5 551.6 234.6 550.8 238.7 550.1 242.8 549.7 246.9 549.6 251.4 549.8 255.9 550.2 260.5 550.4 265 550.2 269.5 550.1 273.7 550.2 277.9 550.5 282.1 551 286.3 551.5 290.4 552 294.6 552.5 298.8 552.7 303 552.7 307.2 552.5 311.4 552 315.6 551.2 319.8 550.4 323.9 549.5 328.1 548.6 332.3 547.9 336.5 547.4 340.7 547.3 345.1 547.9 349.4 549.4 353.8 551.3 358.1 553 362.4 553.8 366.8 553.7 371.1 552.7 375.5 551.3 379.8 550.1 384.2 549.7"/>
<path d="M52.3 547.1L56.5 547 60.7 546.8 64.8 546.6 69 546.2 73.2 545.9 77.4 545.5 81.6 545 85.8 544.6 89.9 544.3 94.1 543.9 98.3 543.7 102.5 543.4 106.7 543.2 110.9 543.1 115 543 119.2 542.9 123.4 542.9 127.5 542.6 131.7 541.8 135.8 540.7 140 539.7 144.1 539.2 148.2 539.2 152.4 539.7 156.5 540.3 160.7 540.9 164.8 541.1 168.9 541.2 173 541.4 177.1 541.6 181.2 542 185.3 542.4 189.4 542.8 193.5 543.3 197.6 543.9 201.7 544.4 205.9 545 210 545.6 214.1 546.1 218.2 546.6 222.3 547.1 226.4 547.5 230.5 547.9 234.6 548.2 238.7 548.4 242.8 548.6 246.9 548.6 251.4 547.9 255.9 546.6 260.5 546.5 265 547.6 269.5 548.2 273.7 548.2 277.9 548.2 282.1 548.2 286.3 548.1 290.4 548.1 294.6 548.1 298.8 548.1 303 548.1 307.2 548.1 311.4 548.2 315.6 548.3 319.8 548.4 323.9 548.5 328.1 548.5 332.3 548.6 336.5 548.6 340.7 548.7 345.1 548.7 349.4 548.9 353.8 549.1 358.1 549.3 362.4 549.3 366.8 549.2 371.1 548.9 375.5 548.6 379.8 548.4 384.2 548.3"/>
<path d="M52.3 555.3L56.5 555.5 60.7 556.2 64.8 557.2 69 558.4 73.2 559.7 77.4 560.9 81.6 561.9 85.8 562.4 89.9 562.5 94.1 562.2 98.3 561.5 102.5 560.5 106.7 559.4 110.9 558.3 115 557.4 119.2 556.8 123.4 556.6 127.5 556.4 131.7 555.9 135.8 555.2 140 554.5 144.1 554 148.2 553.6 152.4 553.4 156.5 553.4 160.7 553.4 164.8 553.4 168.9 553.6 173 554.1 177.1 554.8 181.2 555.8 185.3 556.9 189.4 558 193.5 559 197.6 559.8 201.7 560.4 205.9 560.7 210 560.6 214.1 560.3 218.2 559.7 222.3 559 226.4 558.1 230.5 557.2 234.6 556.4 238.7 555.8 242.8 555.4 246.9 555.2 251.4 554.8 255.9 554 260.5 553.4 265 553.3 269.5 553.4 273.7 553.3 277.9 553.2 282.1 553 286.3 552.7 290.4 552.3 294.6 551.8 298.8 551.1 303 550.3 307.2 549.4 311.4 548.4 315.6 547.3 319.8 546.2 323.9 545.2 328.1 544.3 332.3 543.6 336.5 543.1 340.7 543 345.1 543.1 349.4 543.6 353.8 544.2 358.1 544.8 362.4 545.2 366.8 545.5 371.1 545.6 375.5 545.6 379.8 545.5 384.2 545.5"/>
<path d="M52.3 555.1L56.5 555.1 60.7 555 64.8 555 69 554.9 73.2 554.8 77.4 554.6 81.6 554.4 85.8 554.1 89.9 553.8 94.1 553.4 98.3 553.1 102.5 552.7 106.7 552.3 110.9 551.9 115 551.7 119.2 551.5 123.4 551.5 127.5 551.6 131.7 551.8 135.8 552.2 140 552.5 144.1 552.6 148.2 552.6 152.4 552.3 156.5 552 160.7 551.7 164.8 551.6 168.9 551.7 173 551.8 177.1 552 181.2 552.3 185.3 552.7 189.4 553.2 193.5 553.7 197.6 554.3 201.7 555 205.9 555.8 210 556.6 214.1 557.5 218.2 558.4 222.3 559.3 226.4 560.1 230.5 560.9 234.6 561.5 238.7 562 242.8 562.3 246.9 562.5 251.4 561.9 255.9 560.3 260.5 558.1 265 556 269.5 555 273.7 555 277.9 554.9 282.1 554.8 286.3 554.7 290.4 554.5 294.6 554.4 298.8 554.1 303 553.9 307.2 553.6 311.4 553.4 315.6 553.1 319.8 552.8 323.9 552.6 328.1 552.4 332.3 552.2 336.5 552.1 340.7 552.1 345.1 552.3 349.4 552.9 353.8 553.6 358.1 554.2 362.4 554.4 366.8 554.3 371.1 553.8 375.5 553.2 379.8 552.7 384.2 552.5"/>
<path d="M52.3 559.5L56.5 559.5 60.7 559.5 64.8 559.4 69 559.3 73.2 559.1 77.4 558.9 81.6 558.5 85.8 558 89.9 557.5 94.1 556.8 98.3 556.1 102.5 555.4 106.7 554.7 110.9 554.1 115 553.6 119.2 553.3 123.4 553.2 127.5 553 131.7 552.5 135.8 551.8 140 551.2 144.1 550.7 148.2 550.4 152.4 550.3 156.5 550.4 160.7 550.5 164.8 550.5 168.9 550.9 173 551.9 177.1 553.6 181.2 555.6 185.3 557.9 189.4 560.2 193.5 562.3 197.6 564 201.7 565.2 205.9 565.8 210 565.6 214.1 564.9 218.2 563.5 222.3 561.8 226.4 559.8 230.5 557.8 234.6 556 238.7 554.6 242.8 553.7 246.9 553.3 251.4 553.5 255.9 553.7 260.5 553 265 551.8 269.5 551.1 273.7 551.3 277.9 551.6 282.1 552.2 286.3 552.9 290.4 553.6 294.6 554.2 298.8 554.7 303 555 307.2 555 311.4 554.7 315.6 554.2 319.8 553.6 323.9 552.9 328.1 552.2 332.3 551.6 336.5 551.2 340.7 551.1 345.1 550.7 349.4 549.8 353.8 548.6 358.1 547.6 362.4 547.2 366.8 547.6 371.1 548.5 375.5 549.7 379.8 550.7 384.2 551.1"/>
<path d="M52.3 545.2L56.5 545.2 60.7 545.3 64.8 545.6 69 545.8 73.2 546.1 77.4 546.4 81.6 546.7 85.8 547 89.9 547.2 94.1 547.3 98.3 547.5 102.5 547.5 106.7 547.6 110.9 547.6 115 547.6 119.2 547.6 123.4 547.6 127.5 547.7 131.7 547.9 135.8 548.2 140 548.7 144.1 549.2 148.2 549.9 152.4 550.5 156.5 551.1 160.7 551.5 164.8 551.7 168.9 551.9 173 552.4 177.1 553.2 181.2 554.2 185.3 555.4 189.4 556.5 193.5 557.5 197.6 558.2 201.7 558.6 205.9 558.6 210 558.1 214.1 557.3 218.2 556.2 222.3 554.9 226.4 553.4 230.5 552 234.6 550.7 238.7 549.7 242.8 549 246.9 548.8 251.4 549.2 255.9 550.2 260.5 551.1 265 551.5 269.5 551.6 273.7 551.9 277.9 552.5 282.1 553.4 286.3 554.6 290.4 555.9 294.6 557.1 298.8 558.3 303 559.2 307.2 559.8 311.4 560.2 315.6 560.3 319.8 560.1 323.9 559.9 328.1 559.6 332.3 559.3 336.5 559.1 340.7 559 345.1 558.7 349.4 557.9 353.8 556.9 358.1 555.9 362.4 555.2 366.8 554.9 371.1 554.9 375.5 555.1 379.8 555 384.2 554.5"/>
<path d="M52.3 560.1L56.5 560.1 60.7 560.3 64.8 560.5 69 560.8 73.2 561.1 77.4 561.3 81.6 561.5 85.8 561.4 89.9 561.3 94.1 560.9 98.3 560.5 102.5 560 106.7 559.4 110.9 558.9 115 558.5 119.2 558.2 123.4 558.1 127.5 558.4 131.7 559.1 135.8 560.1 140 561 144.1 561.7 148.2 562.1 152.4 562.1 156.5 561.9 160.7 561.6 164.8 561.6 168.9 561.7 173 561.9 177.1 562.3 181.2 562.9 185.3 563.4 189.4 563.9 193.5 564.3 197.6 564.5 201.7 564.5 205.9 564.2 210 563.6 214.1 562.8 218.2 561.8 222.3 560.6 226.4 559.4 230.5 558.3 234.6 557.2 238.7 556.4 242.8 555.9 246.9 555.7 251.4 555.5 255.9 555.4 260.5 556.3 265 557.9 269.5 558.7 273.7 558.3 277.9 557 282.1 555.1 286.3 552.7 290.4 550.2 294.6 547.8 298.8 545.7 303 544.2 307.2 543.4 311.4 543.2 315.6 543.8 319.8 544.7 323.9 546 328.1 547.3 332.3 548.4 336.5 549.1 340.7 549.4 345.1 549.4 349.4 549.3 353.8 549.3 358.1 549.3 362.4 549.5 366.8 549.9 371.1 550.3 375.5 550.7 379.8 551 384.2 551.2"/>
<path d="M52.3 547.3L56.5 547.2 60.7 546.9 64.8 546.4 69 545.9 73.2 545.3 77.4 544.8 81.6 544.3 85.8 544 89.9 543.8 94.1 543.9 98.3 544 102.5 544.3 106.7 544.6 110.9 545 115 545.3 119.2 545.5 123.4 545.5 127.5 545.5 131.7 545.3 135.8 545.3 140 545.4 144.1 545.9 148.2 546.7 152.4 547.8 156.5 548.9 160.7 549.7 164.8 550 168.9 550.1 173 550.5 177.1 551.1 181.2 551.9 185.3 552.8 189.4 553.8 193.5 554.8 197.6 555.8 201.7 556.6 205.9 557.3 210 557.9 214.1 558.4 218.2 558.6 222.3 558.8 226.4 558.9 230.5 558.9 234.6 558.9 238.7 558.8 242.8 558.8 246.9 558.8 251.4 559 255.9 559.5 260.5 559.4 265 558.9 269.5 558.5 273.7 558.4 277.9 557.9 282.1 557.2 286.3 556.3 290.4 555.4 294.6 554.6 298.8 553.9 303 553.6 307.2 553.6 311.4 553.9 315.6 554.5 319.8 555.3 323.9 556.2 328.1 557 332.3 557.8 336.5 558.2 340.7 558.4 345.1 558.2 349.4 557.8 353.8 557.3 358.1 557.2 362.4 556.9 366.8 556.4 371.1 555.9 375.5 555.5 379.8 555 384.2 554.5"/>
<path d="M52.3 562.3L56.5 562.3 60.7 562.3 64.8 562.4 69 562.4 73.2 562.4 77.4 562.5 81.6 562.5 85.8 562.5 89.9 562.5 94.1 562.4 98.3 562.4 102.5 562.3 106.7 562.2 110.9 562.2 115 562.1 119.2 562.1 123.4 562.1 127.5 561.3 131.7 559.2 135.8 556.5 140 554.1 144.1 552.8 148.2 552.8 152.4 553.9 156.5 555.5 160.7 556.9 164.8 557.4 168.9 557.5 173 557.7 177.1 558 181.2 558.4 185.3 558.8 189.4 559.1 193.5 559.5 197.6 559.7 201.7 559.7 205.9 559.6 210 559.4 214.1 558.9 218.2 558.4 222.3 557.7 226.4 557 230.5 556.3 234.6 555.8 238.7 555.3 242.8 555 246.9 554.9 251.4 554.3 255.9 553.4 260.5 553.6 265 555 269.5 555.7 273.7 555.5 277.9 554.9 282.1 553.9 286.3 552.8 290.4 551.7 294.6 550.8 298.8 550.2 303 550.2 307.2 550.6 311.4 551.6 315.6 553 319.8 554.7 323.9 556.5 328.1 558.2 332.3 559.6 336.5 560.6 340.7 560.9 345.1 560.7 349.4 560.2 353.8 559.6 358.1 560 362.4 560.9 366.8 561.8 371.1 562.7 375.5 563.6 379.8 564.5 384.2 565.4"/>
<path d="M52.3 557.6L56.5 557.6 60.7 557.4 64.8 557.2 69 556.9 73.2 556.7 77.4 556.6 81.6 556.6 85.8 556.9 89.9 557.4 94.1 558.1 98.3 559 102.5 559.9 106.7 560.9 110.9 561.9 115 562.6 119.2 563.1 123.4 563.2 127.5 563.3 131.7 563.3 135.8 563.2 140 563 144.1 562.7 148.2 562.1 152.4 561.3 156.5 560.6 160.7 560.1 164.8 559.9 168.9 559.8 173 559.3 177.1 558.5 181.2 557.6 185.3 556.5 189.4 555.4 193.5 554.4 197.6 553.6 201.7 553.1 205.9 552.8 210 552.9 214.1 553.2 218.2 553.8 222.3 554.6 226.4 555.6 230.5 556.5 234.6 557.3 238.7 558 242.8 558.4 246.9 558.6 251.4 557.5 255.9 555.7 260.5 555.7 265 557.4 269.5 558.4 273.7 558.4 277.9 558.2 282.1 558 286.3 557.6 290.4 557.2 294.6 556.8 298.8 556.3 303 555.8 307.2 555.2 311.4 554.6 315.6 554.1 319.8 553.6 323.9 553.1 328.1 552.7 332.3 552.4 336.5 552.2 340.7 552.1 345.1 552.3 349.4 552.6 353.8 553 358.1 553.5 362.4 553.8 366.8 554 371.1 554 375.5 554 379.8 553.9 384.2 553.9"/>
<path d="M52.3 550L56.5 550.5 60.7 551.9 64.8 554 69 556.6 73.2 559.3 77.4 561.8 81.6 563.9 85.8 565.2 89.9 565.7 94.1 565.4 98.3 564.3 102.5 562.6 106.7 560.6 110.9 558.7 115 557.1 119.2 556 123.4 555.6 127.5 555.5 131.7 555.2 135.8 554.9 140 554.7 144.1 554.9 148.2 555.4 152.4 556.3 156.5 557.2 160.7 557.9 164.8 558.2 168.9 558.5 173 559.3 177.1 560.6 181.2 562.3 185.3 564.2 189.4 566.2 193.5 568 197.6 569.6 201.7 570.9 205.9 571.6 210 571.9 214.1 571.7 218.2 571.1 222.3 570.2 226.4 569.1 230.5 567.9 234.6 566.9 238.7 566 242.8 565.4 246.9 565.2 251.4 565 255.9 564.4 260.5 563.6 265 562.8 269.5 562.5 273.7 562.6 277.9 562.7 282.1 563 286.3 563.2 290.4 563.5 294.6 563.6 298.8 563.5 303 563.2 307.2 562.6 311.4 561.8 315.6 560.9 319.8 559.8 323.9 558.8 328.1 557.8 332.3 557 336.5 556.5 340.7 556.3 345.1 556.4 349.4 556.6 353.8 557 358.1 557.4 362.4 556.9 366.8 556.4 371.1 555.9 375.5 555.5 379.8 555 384.2 554.5"/>
<path d="M52.3 554.3L56.5 554.4 60.7 554.7 64.8 555.1 69 555.6 73.2 556.1 77.4 556.5 81.6 556.9 85.8 557 89.9 556.9 94.1 556.7 98.3 556.2 102.5 555.6 106.7 555 110.9 554.4 115 553.9 119.2 553.6 123.4 553.5 127.5 553.8 131.7 554.5 135.8 555.5 140 556.4 144.1 556.9 148.2 557 152.4 556.7 156.5 556.2 160.7 555.8 164.8 555.6 168.9 555.7 173 556 177.1 556.5 181.2 557.1 185.3 557.8 189.4 558.5 193.5 559.1 197.6 559.7 201.7 560.1 205.9 560.3 210 560.4 214.1 560.3 218.2 560 222.3 559.6 226.4 559.2 230.5 558.7 234.6 558.3 238.7 558 242.8 557.8 246.9 557.7 251.4 559.5 255.9 562.6 260.5 563.4 265 561.8 269.5 560.6 273.7 560.6 277.9 560.5 282.1 560.4 286.3 560.3 290.4 560.1 294.6 559.9 298.8 559.6 303 559.2 307.2 558.7 311.4 558.2 315.6 557.6 319.8 557 323.9 556.4 328.1 556 332.3 555.6 336.5 555.3 340.7 555.2 345.1 555.1 349.4 555 353.8 554.6 358.1 554.1 362.4 553.4 366.8 552.6 371.1 551.7 375.5 550.9 379.8 550.3 384.2 550.1"/>
<path d="M52.3 549.4L56.5 549.6 60.7 550.1 64.8 550.9 69 551.9 73.2 553.1 77.4 554.3 81.6 555.4 85.8 556.3 89.9 557.1 94.1 557.7 98.3 558.1 102.5 558.3 106.7 558.4 110.9 558.4 115 558.4 119.2 558.3 123.4 558.3 127.5 558.9 131.7 560.3 135.8 562.2 140 563.9 144.1 565 148.2 565.2 152.4 564.6 156.5 563.7 160.7 562.8 164.8 562.5 168.9 562.4 173 562 177.1 561.4 181.2 560.6 185.3 559.7 189.4 558.8 193.5 557.9 197.6 557 201.7 556.3 205.9 555.8 210 555.5 214.1 555.3 218.2 555.4 222.3 555.5 226.4 555.8 230.5 556.1 234.6 556.4 238.7 556.6 242.8 556.8 246.9 556.8 251.4 558.3 255.9 561.2 260.5 563 265 563.2 269.5 563.1 273.7 563.1 277.9 563.2 282.1 563.4 286.3 563.6 290.4 563.8 294.6 563.9 298.8 564 303 564 307.2 563.9 311.4 563.6 315.6 563.3 319.8 563 323.9 562.6 328.1 562.3 332.3 562 336.5 561.8 340.7 561.7 345.1 561.5 349.4 560.8 353.8 559.9 358.1 560 362.4 560.9 366.8 561.8 371.1 562.7 375.5 563.6 379.8 564.5 384.2 565.4"/>
<path d="M52.3 565L56.5 565.1 60.7 565.4 64.8 565.9 69 566.4 73.2 567 77.4 567.4 81.6 567.7 85.8 567.9 89.9 567.8 94.1 567.4 98.3 566.9 102.5 566.2 106.7 565.5 110.9 564.8 115 564.2 119.2 563.8 123.4 563.7 127.5 563.6 131.7 563.5 135.8 563.2 140 563 144.1 562.9 148.2 562.8 152.4 562.8 156.5 562.8 160.7 562.9 164.8 562.9 168.9 562.7 173 562.2 177.1 561.4 181.2 560.4 185.3 559.2 189.4 558 193.5 557 197.6 556.1 201.7 555.5 205.9 555.2 210 555.3 214.1 555.7 218.2 556.3 222.3 557.2 226.4 558.2 230.5 559.2 234.6 560.1 238.7 560.8 242.8 561.3 246.9 561.4 251.4 562.5 255.9 564.3 260.5 564.8 265 564 269.5 563.3 273.7 563.4 277.9 563.7 282.1 564.1 286.3 564.6 290.4 565.1 294.6 565.6 298.8 566 303 566.3 307.2 566.4 311.4 566.3 315.6 566.1 319.8 565.8 323.9 565.4 328.1 565.1 332.3 564.8 336.5 564.6 340.7 564.5 345.1 564.1 349.4 563.3 353.8 562.1 358.1 561.1 362.4 560.9 366.8 561.8 371.1 562.7 375.5 563.6 379.8 564.5 384.2 565.4"/>
<path d="M52.3 555.6L56.5 555.6 60.7 555.8 64.8 556.1 69 556.4 73.2 556.8 77.4 557.2 81.6 557.5 85.8 557.9 89.9 558.1 94.1 558.3 98.3 558.4 102.5 558.4 106.7 558.4 110.9 558.4 115 558.4 119.2 558.4 123.4 558.3 127.5 558.6 131.7 559.3 135.8 560.3 140 561.2 144.1 561.8 148.2 562.1 152.4 562 156.5 561.7 160.7 561.4 164.8 561.3 168.9 561.1 173 560.3 177.1 559.2 181.2 557.8 185.3 556.3 189.4 554.7 193.5 553.3 197.6 552.1 201.7 551.4 205.9 551 210 551.2 214.1 551.8 218.2 552.7 222.3 554 226.4 555.4 230.5 556.8 234.6 558.1 238.7 559.1 242.8 559.8 246.9 560 251.4 559.9 255.9 559.4 260.5 558.6 265 557.7 269.5 557.3 273.7 557.4 277.9 557.6 282.1 558.1 286.3 558.6 290.4 559.2 294.6 559.9 298.8 560.6 303 561.4 307.2 562.1 311.4 562.8 315.6 563.4 319.8 564 323.9 564.5 328.1 564.9 332.3 565.2 336.5 565.4 340.7 565.4 345.1 566.1 349.4 568 353.8 570.2 358.1 572.2 362.4 573.1 366.8 572.7 371.1 571.3 375.5 569.5 379.8 568 384.2 567.4"/>
<path d="M52.3 568.3L56.5 568.2 60.7 568.1 64.8 567.9 69 567.7 73.2 567.4 77.4 567.2 81.6 566.9 85.8 566.7 89.9 566.5 94.1 566.3 98.3 566.3 102.5 566.2 106.7 566.2 110.9 566.2 115 566.2 119.2 566.2 123.4 566.2 127.5 566.4 131.7 567 135.8 567.7 140 567.8 144.1 567.1 148.2 565.4 152.4 563.1 156.5 560.7 160.7 558.8 164.8 558.1 168.9 558.1 173 557.9 177.1 557.7 181.2 557.4 185.3 557.1 189.4 556.7 193.5 556.4 197.6 556.2 201.7 556 205.9 555.9 210 556 214.1 556.1 218.2 556.3 222.3 556.6 226.4 556.9 230.5 557.1 234.6 557.4 238.7 557.6 242.8 557.8 246.9 557.8 251.4 558.6 255.9 560.1 260.5 561.1 265 561.2 269.5 561.1 273.7 561.5 277.9 562.5 282.1 564.1 286.3 566.1 290.4 568.2 294.6 570.1 298.8 571.7 303 572.9 307.2 573.4 311.4 573.4 315.6 572.8 319.8 571.8 323.9 570.5 328.1 569.3 332.3 568.3 336.5 567.6 340.7 567.3 345.1 567.3 349.4 567.1 353.8 566.8 358.1 566.5 362.4 566.1 366.8 565.6 371.1 565.2 375.5 564.9 379.8 564.6 384.2 565.4"/>
<path d="M52.3 553.8L56.5 553.7 60.7 553.4 64.8 553 69 552.5 73.2 552 77.4 551.4 81.6 550.9 85.8 550.4 89.9 550.1 94.1 549.8 98.3 549.7 102.5 549.6 106.7 549.6 110.9 549.7 115 549.7 119.2 549.8 123.4 549.8 127.5 550 131.7 550.5 135.8 551.4 140 552.4 144.1 553.5 148.2 554.6 152.4 555.6 156.5 556.4 160.7 557 164.8 557.2 168.9 557.4 173 557.9 177.1 558.8 181.2 559.8 185.3 561 189.4 562.2 193.5 563.3 197.6 564.3 201.7 565 205.9 565.4 210 565.4 214.1 565.2 218.2 564.6 222.3 563.9 226.4 563 230.5 562.2 234.6 561.4 238.7 560.7 242.8 560.3 246.9 560.2 251.4 558.3 255.9 555 260.5 553.6 265 554.7 269.5 555.6 273.7 555.7 277.9 555.8 282.1 556.1 286.3 556.5 290.4 556.9 294.6 557.4 298.8 557.8 303 558.3 307.2 558.7 311.4 559 315.6 559.4 319.8 559.6 323.9 559.9 328.1 560.1 332.3 560.2 336.5 560.3 340.7 560.3 345.1 560.7 349.4 561.6 353.8 562.9 358.1 564.1 362.4 565 366.8 565.5 371.1 565.5 375.5 565.2 379.8 565 384.2 565.4"/>
<path d="M52.3 576L56.5 576 60.7 576 64.8 576.1 69 576.1 73.2 576.2 77.4 576.2 81.6 576.2 85.8 576.2 89.9 576.2 94.1 576.1 98.3 576 102.5 575.9 106.7 575.8 110.9 575.6 115 575.6 119.2 575.5 123.4 575.5 127.5 575.1 131.7 574.1 135.8 572.8 140 571.2 144.1 569.8 148.2 568.7 152.4 567.8 156.5 567.2 160.7 566.8 164.8 566.7 168.9 566.8 173 566.9 177.1 567.2 181.2 567.5 185.3 567.9 189.4 568.2 193.5 568.4 197.6 568.5 201.7 568.5 205.9 568.3 210 567.9 214.1 567.4 218.2 566.7 222.3 566 226.4 565.2 230.5 564.5 234.6 563.8 238.7 563.3 242.8 563 246.9 562.9 251.4 563.8 255.9 565.2 260.5 565 265 563.3 269.5 562.3 273.7 562.3 277.9 562.3 282.1 562.2 286.3 562.2 290.4 562.2 294.6 562.1 298.8 562.1 303 562 307.2 561.9 311.4 561.8 315.6 561.8 319.8 561.7 323.9 561.7 328.1 561.6 332.3 561.6 336.5 561.5 340.7 561.5 345.1 561.8 349.4 562.4 353.8 563.2 358.1 564.1 362.4 564.9 366.8 565.3 371.1 565.6 375.5 565.7 379.8 565.7 384.2 565.7"/>
<path d="M52.3 559.9L56.5 560 60.7 560.1 64.8 560.3 69 560.6 73.2 560.9 77.4 561.1 81.6 561.3 85.8 561.5 89.9 561.6 94.1 561.5 98.3 561.4 102.5 561.3 106.7 561.1 110.9 560.9 115 560.8 119.2 560.7 123.4 560.6 127.5 560.4 131.7 559.8 135.8 559.2 140 559 144.1 559.8 148.2 561.6 152.4 564 156.5 566.6 160.7 568.5 164.8 569.2 168.9 569.2 173 569.1 177.1 569.1 181.2 569 185.3 568.9 189.4 568.7 193.5 568.6 197.6 568.4 201.7 568.2 205.9 568.1 210 567.9 214.1 567.7 218.2 567.5 222.3 567.3 226.4 567.1 230.5 567 234.6 566.9 238.7 566.8 242.8 566.7 246.9 566.7 251.4 566.4 255.9 566.1 260.5 566.6 265 567.6 269.5 568.2 273.7 568.3 277.9 568.4 282.1 568.5 286.3 568.7 290.4 568.8 294.6 568.9 298.8 569 303 569 307.2 568.9 311.4 568.7 315.6 568.4 319.8 568.1 323.9 567.8 328.1 567.5 332.3 567.2 336.5 567.1 340.7 567 345.1 566.6 349.4 565.7 353.8 564.5 358.1 563.6 362.4 563.3 366.8 563.8 371.1 565 375.5 566.3 379.8 567.4 384.2 567.8"/>
<path d="M52.3 571.8L56.5 571.6 60.7 571.1 64.8 570.2 69 569.3 73.2 568.2 77.4 567.3 81.6 566.5 85.8 566 89.9 565.9 94.1 566 98.3 566.5 102.5 567.2 106.7 568 110.9 568.8 115 569.4 119.2 569.9 123.4 570 127.5 569.7 131.7 568.8 135.8 567.5 140 566.1 144.1 564.9 148.2 563.9 152.4 563.2 156.5 562.7 160.7 562.5 164.8 562.4 168.9 562.4 173 562.4 177.1 562.3 181.2 562.3 185.3 562.3 189.4 562.2 193.5 562.2 197.6 562.2 201.7 562.2 205.9 562.2 210 562.3 214.1 562.3 218.2 562.4 222.3 562.5 226.4 562.5 230.5 562.6 234.6 562.7 238.7 562.7 242.8 562.7 246.9 562.8 251.4 562.4 255.9 561.8 260.5 561.9 265 562.7 269.5 563.2 273.7 563.2 277.9 563.3 282.1 563.5 286.3 563.7 290.4 563.9 294.6 564.2 298.8 564.5 303 564.8 307.2 565.1 311.4 565.3 315.6 565.6 319.8 565.9 323.9 566.1 328.1 566.3 332.3 566.4 336.5 566.5 340.7 566.5 345.1 566.7 349.4 567.2 353.8 567.7 358.1 568.1 362.4 568 366.8 567.4 371.1 566.4 375.5 565.4 379.8 564.6 384.2 565.4"/>
<path d="M52.3 574.4L56.5 574.6 60.7 575.5 64.8 576.7 69 578.1 73.2 579.6 77.4 580.8 81.6 581.6 85.8 581.7 89.9 581.1 94.1 579.9 98.3 578.1 102.5 575.9 106.7 573.6 110.9 571.4 115 569.7 119.2 568.5 123.4 568.1 127.5 567.5 131.7 565.9 135.8 563.9 140 562.2 144.1 561.4 148.2 561.7 152.4 562.9 156.5 564.5 160.7 565.8 164.8 566.3 168.9 566 173 564.9 177.1 563.2 181.2 561.1 185.3 558.8 189.4 556.5 193.5 554.5 197.6 553 201.7 552.2 205.9 552.2 210 552.9 214.1 554.4 218.2 556.6 222.3 559.2 226.4 562.1 230.5 564.9 234.6 567.4 238.7 569.4 242.8 570.6 246.9 571.1 251.4 571.8 255.9 573.2 260.5 573.7 265 573.3 269.5 572.9 273.7 573 277.9 573.3 282.1 573.8 286.3 574.4 290.4 574.9 294.6 575.4 298.8 575.7 303 575.8 307.2 575.6 311.4 575.2 315.6 574.5 319.8 573.7 323.9 572.8 328.1 572 332.3 571.4 336.5 570.9 340.7 570.8 345.1 571.1 349.4 571.7 353.8 572.6 358.1 573.2 362.4 573.4 366.8 573.1 371.1 572.3 375.5 571.4 379.8 570.7 384.2 570.4"/>
<path d="M52.3 557.1L56.5 557.3 60.7 558 64.8 559.1 69 560.5 73.2 562 77.4 563.4 81.6 564.7 85.8 565.7 89.9 566.4 94.1 566.8 98.3 566.8 102.5 566.6 106.7 566.2 110.9 565.8 115 565.4 119.2 565.1 123.4 565 127.5 565 131.7 564.8 135.8 564.6 140 564.6 144.1 564.8 148.2 565.2 152.4 565.9 156.5 566.5 160.7 567.1 164.8 567.3 168.9 567.4 173 567.8 177.1 568.4 181.2 569.3 185.3 570.2 189.4 571.1 193.5 572 197.6 572.7 201.7 573.3 205.9 573.7 210 573.8 214.1 573.6 218.2 573.3 222.3 572.8 226.4 572.3 230.5 571.7 234.6 571.1 238.7 570.7 242.8 570.4 246.9 570.3 251.4 569.9 255.9 569.2 260.5 569.4 265 570.5 269.5 571.1 273.7 571.1 277.9 571.2 282.1 571.3 286.3 571.5 290.4 571.8 294.6 572.1 298.8 572.5 303 572.9 307.2 573.4 311.4 573.9 315.6 574.4 319.8 574.9 323.9 575.4 328.1 575.8 332.3 576.1 336.5 576.4 340.7 576.4 345.1 576.9 349.4 578.2 353.8 579.7 358.1 580.8 362.4 580.9 366.8 579.8 371.1 577.9 375.5 575.6 379.8 573.8 384.2 573.1"/>
<path d="M52.3 577.8L56.5 578 60.7 578.5 64.8 579.1 69 580 73.2 580.8 77.4 581.7 81.6 582.3 85.8 582.7 89.9 582.8 94.1 582.6 98.3 582.2 102.5 581.6 106.7 580.9 110.9 580.2 115 579.6 119.2 579.2 123.4 579.1 127.5 578.5 131.7 577.2 135.8 575.4 140 573.7 144.1 572.6 148.2 572.3 152.4 572.6 156.5 573.3 160.7 573.9 164.8 574.2 168.9 574 173 573.5 177.1 572.8 181.2 571.8 185.3 570.7 189.4 569.6 193.5 568.6 197.6 567.7 201.7 567 205.9 566.5 210 566.4 214.1 566.5 218.2 566.9 222.3 567.5 226.4 568.1 230.5 568.8 234.6 569.5 238.7 570 242.8 570.3 246.9 570.4 251.4 570.4 255.9 570.1 260.5 569.8 265 569.5 269.5 569.4 273.7 569.5 277.9 569.6 282.1 569.8 286.3 570.1 290.4 570.4 294.6 570.7 298.8 571 303 571.3 307.2 571.5 311.4 571.6 315.6 571.7 319.8 571.7 323.9 571.7 328.1 571.7 332.3 571.6 336.5 571.6 340.7 571.6 345.1 571.4 349.4 570.8 353.8 570 358.1 569.4 362.4 569.3 366.8 569.5 371.1 570.2 375.5 571 379.8 571.7 384.2 572"/>
<path d="M52.3 580.2L56.5 580 60.7 579.3 64.8 578.2 69 576.9 73.2 575.5 77.4 574.2 81.6 573.1 85.8 572.3 89.9 571.9 94.1 571.9 98.3 572.3 102.5 572.9 106.7 573.6 110.9 574.4 115 575.1 119.2 575.5 123.4 575.7 127.5 576 131.7 576.7 135.8 577.5 140 578.3 144.1 578.6 148.2 578.4 152.4 577.8 156.5 577 160.7 576.4 164.8 576.2 168.9 576.1 173 576 177.1 575.8 181.2 575.5 185.3 575.2 189.4 574.9 193.5 574.6 197.6 574.4 201.7 574.3 205.9 574.2 210 574.2 214.1 574.4 218.2 574.6 222.3 574.8 226.4 575.1 230.5 575.4 234.6 575.7 238.7 575.9 242.8 576 246.9 576 251.4 575.3 255.9 573.7 260.5 572.2 265 571.3 269.5 571 273.7 571.2 277.9 571.7 282.1 572.4 286.3 573.4 290.4 574.4 294.6 575.3 298.8 576 303 576.5 307.2 576.7 311.4 576.5 315.6 576.1 319.8 575.5 323.9 574.8 328.1 574 332.3 573.4 336.5 573 340.7 572.9 345.1 573.3 349.4 574.5 353.8 576 358.1 577.2 362.4 577.6 366.8 577.1 371.1 575.9 375.5 574.4 379.8 573.2 384.2 572.8"/>
<path d="M52.3 570.6L56.5 570.9 60.7 571.6 64.8 572.7 69 574 73.2 575.4 77.4 576.7 81.6 577.8 85.8 578.6 89.9 579 94.1 579 98.3 578.6 102.5 578 106.7 577.2 110.9 576.4 115 575.7 119.2 575.2 123.4 575.1 127.5 575.4 131.7 576.4 135.8 577.7 140 578.7 144.1 579.3 148.2 579.3 152.4 578.7 156.5 577.9 160.7 577.2 164.8 577 168.9 576.9 173 576.9 177.1 576.8 181.2 576.6 185.3 576.4 189.4 576.2 193.5 576 197.6 575.8 201.7 575.5 205.9 575.3 210 575.1 214.1 574.9 218.2 574.7 222.3 574.5 226.4 574.3 230.5 574.2 234.6 574.1 238.7 574 242.8 573.9 246.9 573.9 251.4 574 255.9 573.8 260.5 572.9 265 571.6 269.5 570.9 273.7 571.2 277.9 572.1 282.1 573.3 286.3 574.9 290.4 576.5 294.6 577.8 298.8 578.9 303 579.3 307.2 579.2 311.4 578.5 315.6 577.2 319.8 575.6 323.9 573.8 328.1 572.1 332.3 570.7 336.5 569.8 340.7 569.5 345.1 569.3 349.4 568.9 353.8 568.3 358.1 567.6 362.4 566.8 366.8 566 371.1 565.2 375.5 564.5 379.8 564.5 384.2 565.4"/>
<path d="M52.3 574.1L56.5 574.3 60.7 574.8 64.8 575.6 69 576.5 73.2 577.3 77.4 577.9 81.6 578.2 85.8 578 89.9 577.3 94.1 576.1 98.3 574.4 102.5 572.5 106.7 570.6 110.9 568.7 115 567.2 119.2 566.3 123.4 565.9 127.5 566.1 131.7 566.7 135.8 567.4 140 568.3 144.1 569.2 148.2 570 152.4 570.7 156.5 571.2 160.7 571.6 164.8 571.7 168.9 571.4 173 570.5 177.1 569.2 181.2 567.4 185.3 565.5 189.4 563.5 193.5 561.6 197.6 559.9 201.7 558.6 205.9 557.7 210 557.3 214.1 557.4 218.2 557.9 222.3 558.7 226.4 559.7 230.5 560.8 234.6 561.8 238.7 562.6 242.8 563.1 246.9 563.3 251.4 562.9 255.9 562.7 260.5 564.7 265 568.2 269.5 570 273.7 570.2 277.9 570.9 282.1 571.8 286.3 573 290.4 574.2 294.6 575.3 298.8 576.1 303 576.4 307.2 576.3 311.4 575.6 315.6 574.6 319.8 573.3 323.9 571.9 328.1 570.5 332.3 569.4 336.5 568.6 340.7 568.4 345.1 568.7 349.4 569.6 353.8 570.7 358.1 571.7 362.4 572.3 366.8 572.4 371.1 572 375.5 571.4 379.8 570.9 384.2 570.7"/>
<path d="M52.3 569.8L56.5 569.8 60.7 569.9 64.8 570.1 69 570.3 73.2 570.5 77.4 570.7 81.6 570.9 85.8 571.1 89.9 571.2 94.1 571.3 98.3 571.3 102.5 571.3 106.7 571.3 110.9 571.3 115 571.2 119.2 571.2 123.4 571.2 127.5 571.4 131.7 572 135.8 572.7 140 573.3 144.1 573.5 148.2 573.3 152.4 572.7 156.5 572 160.7 571.4 164.8 571.2 168.9 571.3 173 571.3 177.1 571.5 181.2 571.6 185.3 571.9 189.4 572.1 193.5 572.5 197.6 572.9 201.7 573.3 205.9 573.8 210 574.4 214.1 575 218.2 575.6 222.3 576.2 226.4 576.8 230.5 577.3 234.6 577.8 238.7 578.1 242.8 578.3 246.9 578.4 251.4 579.5 255.9 581.2 260.5 581.1 265 579.2 269.5 578 273.7 578.4 277.9 579.3 282.1 580.7 286.3 582.4 290.4 584.2 294.6 585.7 298.8 586.8 303 587.3 307.2 587.1 311.4 586.2 315.6 584.7 319.8 582.8 323.9 580.7 328.1 578.7 332.3 577 336.5 575.9 340.7 575.6 345.1 575.8 349.4 576.3 353.8 576.7 358.1 576.8 362.4 576.1 366.8 574.6 371.1 572.5 375.5 570.4 379.8 568.7 384.2 568.1"/>
<path d="M52.3 573.4L56.5 573.5 60.7 573.7 64.8 574.1 69 574.6 73.2 575.1 77.4 575.6 81.6 576.1 85.8 576.6 89.9 577 94.1 577.4 98.3 577.7 102.5 577.9 106.7 578 110.9 578.1 115 578.2 119.2 578.2 123.4 578.3 127.5 577.9 131.7 577.1 135.8 576 140 575 144.1 574.3 148.2 574.1 152.4 574.4 156.5 574.8 160.7 575.2 164.8 575.4 168.9 575.1 173 574.4 177.1 573.4 181.2 572 185.3 570.6 189.4 569.2 193.5 567.9 197.6 567.1 201.7 566.7 205.9 566.9 210 567.6 214.1 568.8 218.2 570.5 222.3 572.5 226.4 574.6 230.5 576.7 234.6 578.5 238.7 580 242.8 580.9 246.9 581.2 251.4 581.5 255.9 581.6 260.5 580.3 265 578 269.5 576.8 273.7 576.8 277.9 577 282.1 577.3 286.3 577.7 290.4 578.1 294.6 578.4 298.8 578.7 303 578.9 307.2 579 311.4 578.9 315.6 578.7 319.8 578.4 323.9 578.1 328.1 577.8 332.3 577.6 336.5 577.4 340.7 577.4 345.1 577.1 349.4 576.3 353.8 575.4 358.1 574.4 362.4 573.8 366.8 573.6 371.1 573.7 375.5 574 379.8 574.3 384.2 574.4"/>
<path d="M52.3 568.5L56.5 568.5 60.7 568.6 64.8 568.7 69 568.9 73.2 569.1 77.4 569.4 81.6 569.8 85.8 570.2 89.9 570.8 94.1 571.4 98.3 572 102.5 572.7 106.7 573.3 110.9 573.9 115 574.3 119.2 574.6 123.4 574.7 127.5 574.1 131.7 572.6 135.8 570.7 140 569.2 144.1 568.5 148.2 568.9 152.4 570.2 156.5 571.8 160.7 573.1 164.8 573.7 168.9 573.6 173 573.3 177.1 572.9 181.2 572.3 185.3 571.7 189.4 571.2 193.5 570.7 197.6 570.4 201.7 570.2 205.9 570.3 210 570.6 214.1 571.2 218.2 571.9 222.3 572.7 226.4 573.6 230.5 574.4 234.6 575.2 238.7 575.8 242.8 576.2 246.9 576.3 251.4 577.6 255.9 579.6 260.5 579.6 265 577.5 269.5 576.3 273.7 576.4 277.9 576.9 282.1 577.7 286.3 578.7 290.4 579.7 294.6 580.8 298.8 581.8 303 582.7 307.2 583.4 311.4 583.9 315.6 584.2 319.8 584.3 323.9 584.3 328.1 584.3 332.3 584.2 336.5 584.2 340.7 584.2 345.1 584.5 349.4 585.3 353.8 586.2 358.1 586.9 362.4 587 366.8 586.4 371.1 585.1 375.5 583.7 379.8 582.6 384.2 582.2"/>
<path d="M52.3 584.3L56.5 584.1 60.7 583.3 64.8 582.1 69 580.6 73.2 579.1 77.4 577.6 81.6 576.3 85.8 575.4 89.9 574.9 94.1 574.9 98.3 575.2 102.5 575.9 106.7 576.7 110.9 577.5 115 578.2 119.2 578.7 123.4 578.8 127.5 578.9 131.7 579 135.8 579.1 140 579 144.1 578.7 148.2 578.1 152.4 577.4 156.5 576.7 160.7 576.1 164.8 575.9 168.9 576.1 173 576.7 177.1 577.7 181.2 578.8 185.3 580.1 189.4 581.3 193.5 582.3 197.6 583 201.7 583.3 205.9 583.1 210 582.4 214.1 581.3 218.2 579.8 222.3 578 226.4 576.1 230.5 574.2 234.6 572.5 238.7 571.2 242.8 570.4 246.9 570.1 251.4 570.7 255.9 572 260.5 573.3 265 574.1 269.5 574.4 273.7 574.2 277.9 573.6 282.1 572.7 286.3 571.5 290.4 570.3 294.6 569.1 298.8 568 303 567.2 307.2 566.7 311.4 566.6 315.6 566.7 319.8 567 323.9 567.5 328.1 568 332.3 568.4 336.5 568.7 340.7 568.8 345.1 569 349.4 569.4 353.8 570.1 358.1 570.9 362.4 571.8 366.8 572.6 371.1 573.3 375.5 573.9 379.8 574.2 384.2 574.4"/>
<path d="M52.3 580.2L56.5 580.1 60.7 580.1 64.8 580 69 579.8 73.2 579.6 77.4 579.4 81.6 579 85.8 578.5 89.9 578 94.1 577.4 98.3 576.7 102.5 576 106.7 575.4 110.9 574.8 115 574.4 119.2 574.1 123.4 574 127.5 573.7 131.7 572.9 135.8 572 140 571.4 144.1 571.5 148.2 572.5 152.4 574 156.5 575.7 160.7 577 164.8 577.5 168.9 577.6 173 578 177.1 578.5 181.2 579.2 185.3 580 189.4 580.9 193.5 581.7 197.6 582.5 201.7 583.1 205.9 583.7 210 584 214.1 584.3 218.2 584.3 222.3 584.3 226.4 584.2 230.5 584 234.6 583.8 238.7 583.6 242.8 583.5 246.9 583.5 251.4 584.4 255.9 585.9 260.5 585.7 265 584 269.5 583 273.7 583 277.9 583.3 282.1 583.6 286.3 584 290.4 584.5 294.6 584.9 298.8 585.2 303 585.3 307.2 585.3 311.4 585.2 315.6 584.9 319.8 584.5 323.9 584.1 328.1 583.7 332.3 583.4 336.5 583.2 340.7 583.1 345.1 583.5 349.4 584.7 353.8 586 358.1 587 362.4 587.1 366.8 586.1 371.1 584.2 375.5 582.2 379.8 580.5 384.2 579.9"/>
<path d="M52.3 586L56.5 586.4 60.7 587.6 64.8 589.4 69 591.6 73.2 593.8 77.4 595.7 81.6 597.1 85.8 597.6 89.9 597.3 94.1 596 98.3 594 102.5 591.5 106.7 588.7 110.9 586.1 115 583.9 119.2 582.5 123.4 582 127.5 581.1 131.7 578.5 135.8 575.3 140 572.7 144.1 571.6 148.2 572.5 152.4 574.8 156.5 577.8 160.7 580.2 164.8 581.1 168.9 581 173 580.8 177.1 580.4 181.2 579.9 185.3 579.4 189.4 578.8 193.5 578.2 197.6 577.6 201.7 577 205.9 576.5 210 576.1 214.1 575.8 218.2 575.6 222.3 575.4 226.4 575.3 230.5 575.2 234.6 575.2 238.7 575.1 242.8 575.1 246.9 575.1 251.4 574 255.9 572.2 260.5 572.7 265 575.2 269.5 576.6 273.7 576.9 277.9 577.6 282.1 578.7 286.3 580.1 290.4 581.5 294.6 582.8 298.8 583.9 303 584.7 307.2 585 311.4 584.9 315.6 584.4 319.8 583.7 323.9 582.7 328.1 581.8 332.3 581 336.5 580.5 340.7 580.4 345.1 581.3 349.4 583.9 353.8 587.1 358.1 589.6 362.4 590.5 366.8 589.3 371.1 586.6 375.5 583.2 379.8 580.5 384.2 579.4"/>
<path d="M52.3 597.6L56.5 597.8 60.7 598.4 64.8 599.4 69 600.4 73.2 601.4 77.4 602.2 81.6 602.5 85.8 602.3 89.9 601.5 94.1 600.1 98.3 598.2 102.5 596.1 106.7 593.8 110.9 591.7 115 590 119.2 588.9 123.4 588.5 127.5 588.9 131.7 590.1 135.8 591.5 140 592.8 144.1 593.3 148.2 593 152.4 592 156.5 590.7 160.7 589.7 164.8 589.3 168.9 589.6 173 590.7 177.1 592.4 181.2 594.5 185.3 596.9 189.4 599.3 193.5 601.6 197.6 603.5 201.7 604.9 205.9 605.4 210 605.4 214.1 605.1 218.2 604 222.3 602.5 226.4 600.7 230.5 598.9 234.6 597.2 238.7 595.9 242.8 595 246.9 594.7 251.4 594.1 255.9 592.8 260.5 591.6 265 590.9 269.5 590.7 273.7 591.1 277.9 592.1 282.1 593.7 286.3 595.5 290.4 597.4 294.6 599.1 298.8 600.2 303 600.6 307.2 600.2 311.4 599 315.6 597.2 319.8 594.9 323.9 592.4 328.1 590 332.3 588 336.5 586.8 340.7 586.3 345.1 586.4 349.4 586.7 353.8 586.9 358.1 586.8 362.4 586.2 366.8 585 371.1 583.4 375.5 581.8 379.8 580.6 384.2 580.2"/>
<path d="M52.3 589.4L56.5 589.7 60.7 590.5 64.8 591.6 69 593 73.2 594.4 77.4 595.7 81.6 596.6 85.8 597 89.9 596.8 94.1 596.2 98.3 595 102.5 593.5 106.7 591.9 110.9 590.3 115 589 119.2 588.2 123.4 587.9 127.5 588.7 131.7 590.7 135.8 593.2 140 595.2 144.1 596.1 148.2 595.5 152.4 593.7 156.5 591.4 160.7 589.6 164.8 588.9 168.9 588.6 173 588 177.1 587 181.2 585.7 185.3 584.2 189.4 582.7 193.5 581.2 197.6 579.9 201.7 578.8 205.9 578.1 210 577.7 214.1 577.7 218.2 577.9 222.3 578.4 226.4 579.1 230.5 579.7 234.6 580.4 238.7 580.9 242.8 581.3 246.9 581.4 251.4 580 255.9 577.7 260.5 577.7 265 580.1 269.5 581.5 273.7 581.7 277.9 582.4 282.1 583.3 286.3 584.6 290.4 585.8 294.6 587.1 298.8 588.1 303 588.7 307.2 589 311.4 589 315.6 588.5 319.8 587.9 323.9 587 328.1 586.2 332.3 585.5 336.5 585.1 340.7 584.9 345.1 585.5 349.4 587 353.8 588.9 358.1 590.4 362.4 591 366.8 590.3 371.1 588.7 375.5 586.7 379.8 585.1 384.2 584.5"/>
<path d="M52.3 570.9L56.5 570.8 60.7 570.7 64.8 570.5 69 570.2 73.2 570 77.4 569.9 81.6 569.8 85.8 569.9 89.9 570.1 94.1 570.5 98.3 571 102.5 571.5 106.7 572.1 110.9 572.6 115 573 119.2 573.3 123.4 573.4 127.5 573.9 131.7 575.1 135.8 576.5 140 577.6 144.1 577.8 148.2 577 152.4 575.3 156.5 573.3 160.7 571.8 164.8 571.2 168.9 571.3 173 571.5 177.1 571.9 181.2 572.4 185.3 573 189.4 573.7 193.5 574.5 197.6 575.3 201.7 576.2 205.9 577.2 210 578.2 214.1 579.1 218.2 580.1 222.3 581 226.4 581.9 230.5 582.6 234.6 583.2 238.7 583.7 242.8 584 246.9 584.1 251.4 582.6 255.9 579.9 260.5 578.6 265 579.1 269.5 579.7 273.7 580 277.9 580.6 282.1 581.7 286.3 582.9 290.4 584.1 294.6 585.2 298.8 586 303 586.4 307.2 586.3 311.4 585.6 315.6 584.6 319.8 583.3 323.9 581.8 328.1 580.4 332.3 579.2 336.5 578.5 340.7 578.2 345.1 578.2 349.4 578.1 353.8 578.1 358.1 578.2 362.4 578.5 366.8 579 371.1 579.7 375.5 580.4 379.8 580.9 384.2 581.1"/>
<path d="M52.3 602.4L56.5 602.4 60.7 602.4 64.8 602.3 69 602.3 73.2 602.1 77.4 601.9 81.6 601.5 85.8 600.9 89.9 600.2 94.1 599.3 98.3 598.4 102.5 597.4 106.7 596.4 110.9 595.6 115 594.9 119.2 594.4 123.4 594.3 127.5 594.1 131.7 593.5 135.8 592.9 140 592.4 144.1 592.4 148.2 592.9 152.4 593.9 156.5 594.9 160.7 595.7 164.8 596 168.9 595.6 173 594.4 177.1 592.6 181.2 590.2 185.3 587.6 189.4 584.9 193.5 582.3 197.6 580.2 201.7 578.6 205.9 577.7 210 577.4 214.1 577.9 218.2 579 222.3 580.5 226.4 582.3 230.5 584.1 234.6 585.8 238.7 587.2 242.8 588 246.9 588.3 251.4 586.6 255.9 583.7 260.5 583.4 265 585.9 269.5 587.4 273.7 587.1 277.9 586.2 282.1 584.9 286.3 583.3 290.4 581.6 294.6 580.1 298.8 578.9 303 578.2 307.2 578.1 311.4 578.6 315.6 579.5 319.8 580.8 323.9 582.3 328.1 583.8 332.3 585 336.5 585.8 340.7 586.1 345.1 585.7 349.4 584.8 353.8 583.5 358.1 582.5 362.4 581.8 366.8 581.8 371.1 582.3 375.5 583.1 379.8 583.7 384.2 583.9"/>
<path d="M52.3 586.8L56.5 586.8 60.7 586.5 64.8 586.2 69 585.7 73.2 585.3 77.4 584.8 81.6 584.5 85.8 584.3 89.9 584.2 94.1 584.3 98.3 584.5 102.5 584.8 106.7 585.2 110.9 585.5 115 585.8 119.2 586 123.4 586.1 127.5 586.2 131.7 586.7 135.8 587.3 140 587.9 144.1 588.4 148.2 588.7 152.4 588.9 156.5 589 160.7 589 164.8 589 168.9 589.3 173 590.2 177.1 591.7 181.2 593.5 185.3 595.5 189.4 597.6 193.5 599.5 197.6 601.1 201.7 602.3 205.9 603 210 603.1 214.1 602.6 218.2 601.7 222.3 600.5 226.4 599 230.5 597.5 234.6 596.1 238.7 595 242.8 594.3 246.9 594.1 251.4 593.4 255.9 591.9 260.5 589.9 265 588.1 269.5 587.4 273.7 587.4 277.9 587.5 282.1 587.6 286.3 587.7 290.4 587.8 294.6 587.9 298.8 588.1 303 588.3 307.2 588.4 311.4 588.6 315.6 588.7 319.8 588.8 323.9 588.9 328.1 589 332.3 589.1 336.5 589.1 340.7 589.2 345.1 589 349.4 588.8 353.8 588.4 358.1 588.1 362.4 588 366.8 588.2 371.1 588.5 375.5 588.9 379.8 589.3 384.2 589.4"/>
<path d="M52.3 589L56.5 589.3 60.7 590.4 64.8 592 69 593.9 73.2 595.9 77.4 597.7 81.6 599 85.8 599.7 89.9 599.7 94.1 599 98.3 597.7 102.5 595.9 106.7 593.9 110.9 592 115 590.4 119.2 589.4 123.4 589 127.5 589.8 131.7 592 135.8 594.7 140 597 144.1 598.4 148.2 598.3 152.4 597.2 156.5 595.4 160.7 594 164.8 593.4 168.9 593.4 173 593.3 177.1 593.1 181.2 592.9 185.3 592.6 189.4 592.2 193.5 591.9 197.6 591.5 201.7 591 205.9 590.6 210 590.1 214.1 589.7 218.2 589.2 222.3 588.8 226.4 588.4 230.5 588 234.6 587.7 238.7 587.5 242.8 587.4 246.9 587.3 251.4 587.6 255.9 587.9 260.5 587.4 265 586.3 269.5 585.7 273.7 585.9 277.9 586.6 282.1 587.6 286.3 588.8 290.4 589.9 294.6 591 298.8 591.6 303 591.8 307.2 591.4 311.4 590.4 315.6 589 319.8 587.3 323.9 585.5 328.1 583.8 332.3 582.4 336.5 581.5 340.7 581.2 345.1 581.5 349.4 582.2 353.8 583 358.1 583.7 362.4 583.7 366.8 583.1 371.1 582 375.5 580.7 379.8 579.7 384.2 579.3"/>
<path d="M52.3 589.1L56.5 589.3 60.7 589.9 64.8 590.9 69 592 73.2 593 77.4 593.9 81.6 594.4 85.8 594.4 89.9 593.9 94.1 592.8 98.3 591.2 102.5 589.4 106.7 587.5 110.9 585.7 115 584.2 119.2 583.2 123.4 582.9 127.5 582 131.7 579.9 135.8 577.2 140 575.2 144.1 574.5 148.2 575.6 152.4 578.1 156.5 581.1 160.7 583.5 164.8 584.4 168.9 584.5 173 585.1 177.1 585.9 181.2 586.9 185.3 588 189.4 589.1 193.5 590.2 197.6 591.1 201.7 591.7 205.9 592 210 592 214.1 591.6 218.2 591.1 222.3 590.3 226.4 589.3 230.5 588.4 234.6 587.6 238.7 586.9 242.8 586.5 246.9 586.3 251.4 586 255.9 585.4 260.5 584.8 265 584.3 269.5 584.2 273.7 583.9 277.9 583.3 282.1 582.3 286.3 581.1 290.4 579.8 294.6 578.6 298.8 577.5 303 576.8 307.2 576.4 311.4 576.3 315.6 576.6 319.8 577.1 323.9 577.8 328.1 578.4 332.3 579 336.5 579.4 340.7 579.5 345.1 579.6 349.4 579.8 353.8 580 358.1 580.1 362.4 580.1 366.8 579.8 371.1 579.4 375.5 579 379.8 578.6 384.2 578.5"/>
<path d="M52.3 586.7L56.5 586.7 60.7 587 64.8 587.4 69 587.9 73.2 588.4 77.4 588.8 81.6 589 85.8 588.9 89.9 588.7 94.1 588.2 98.3 587.5 102.5 586.6 106.7 585.8 110.9 584.9 115 584.3 119.2 583.8 123.4 583.7 127.5 583.7 131.7 583.7 135.8 583.9 140 584.1 144.1 584.5 148.2 585.1 152.4 585.8 156.5 586.4 160.7 586.9 164.8 587 168.9 587.2 173 587.7 177.1 588.4 181.2 589.3 185.3 590.4 189.4 591.6 193.5 592.7 197.6 593.8 201.7 594.9 205.9 595.7 210 596.4 214.1 596.9 218.2 597.2 222.3 597.4 226.4 597.5 230.5 597.5 234.6 597.5 238.7 597.4 242.8 597.4 246.9 597.4 251.4 598.3 255.9 599.6 260.5 599.2 265 597.3 269.5 596.1 273.7 595.8 277.9 595 282.1 593.7 286.3 592.1 290.4 590.6 294.6 589.2 298.8 588.3 303 588 307.2 588.4 311.4 589.5 315.6 591.1 319.8 593.1 323.9 595.3 328.1 597.4 332.3 599.1 336.5 600.2 340.7 600.6 345.1 600.4 349.4 600.1 353.8 599.5 358.1 598.9 362.4 598.3 366.8 597.8 371.1 597.3 375.5 597 379.8 596.7 384.2 596.6"/>
<path d="M52.3 593L56.5 593 60.7 593 64.8 593 69 593.1 73.2 593.1 77.4 593.3 81.6 593.4 85.8 593.7 89.9 593.9 94.1 594.3 98.3 594.6 102.5 595 106.7 595.4 110.9 595.7 115 596 119.2 596.1 123.4 596.2 127.5 596.5 131.7 597.3 135.8 598.1 140 598.7 144.1 598.7 148.2 597.9 152.4 596.6 156.5 595.1 160.7 593.9 164.8 593.4 168.9 593.2 173 592.3 177.1 591.1 181.2 589.5 185.3 587.8 189.4 586 193.5 584.5 197.6 583.3 201.7 582.5 205.9 582.2 210 582.6 214.1 583.4 218.2 584.7 222.3 586.3 226.4 588.1 230.5 589.9 234.6 591.5 238.7 592.8 242.8 593.6 246.9 593.9 251.4 592.9 255.9 591.6 260.5 592.4 265 595.2 269.5 596.8 273.7 596.8 277.9 596.8 282.1 596.7 286.3 596.7 290.4 596.5 294.6 596.2 298.8 595.8 303 595.2 307.2 594.4 311.4 593.5 315.6 592.4 319.8 591.3 323.9 590.2 328.1 589.2 332.3 588.4 336.5 587.9 340.7 587.7 345.1 587.5 349.4 586.7 353.8 585.9 358.1 585.2 362.4 585 366.8 585.3 371.1 586.2 375.5 587.1 379.8 587.9 384.2 588.2"/>
<path d="M52.3 591.9L56.5 591.8 60.7 591.7 64.8 591.5 69 591.2 73.2 590.9 77.4 590.6 81.6 590.4 85.8 590.3 89.9 590.3 94.1 590.3 98.3 590.4 102.5 590.6 106.7 590.8 110.9 591.1 115 591.2 119.2 591.4 123.4 591.4 127.5 591.1 131.7 590.4 135.8 589.4 140 588.7 144.1 588.5 148.2 589 152.4 589.9 156.5 591 160.7 591.8 164.8 592.1 168.9 591.9 173 591.2 177.1 590 181.2 588.6 185.3 587 189.4 585.3 193.5 583.7 197.6 582.4 201.7 581.3 205.9 580.6 210 580.4 214.1 580.6 218.2 581.1 222.3 581.8 226.4 582.8 230.5 583.8 234.6 584.7 238.7 585.4 242.8 585.9 246.9 586.1 251.4 586.4 255.9 587.5 260.5 589.3 265 591.2 269.5 592.1 273.7 592.2 277.9 592.2 282.1 592.3 286.3 592.5 290.4 592.5 294.6 592.5 298.8 592.4 303 592.2 307.2 591.8 311.4 591.2 315.6 590.6 319.8 589.9 323.9 589.2 328.1 588.5 332.3 588 336.5 587.7 340.7 587.6 345.1 586.9 349.4 585 353.8 582.5 358.1 580.2 362.4 578.6 366.8 578 371.1 578.3 375.5 579.1 379.8 579.9 384.2 580.2"/>
<path d="M52.3 576.6L56.5 577 60.7 578 64.8 579.4 69 581.2 73.2 582.9 77.4 584.4 81.6 585.3 85.8 585.5 89.9 584.9 94.1 583.5 98.3 581.5 102.5 579 106.7 576.3 110.9 573.8 115 571.7 119.2 570.3 123.4 569.9 127.5 570.8 131.7 573.1 135.8 576.3 140 579.2 144.1 581.2 148.2 582 152.4 581.6 156.5 580.6 160.7 579.6 164.8 579.3 168.9 579.3 173 579.3 177.1 579.3 181.2 579.4 185.3 579.5 189.4 579.8 193.5 580.2 197.6 580.9 201.7 581.8 205.9 583 210 584.3 214.1 585.9 218.2 587.7 222.3 589.4 226.4 591.2 230.5 592.8 234.6 594.2 238.7 595.3 242.8 596 246.9 596.2 251.4 595.5 255.9 594.5 260.5 594.7 265 596.2 269.5 597.1 273.7 597.5 277.9 598.7 282.1 600.6 286.3 602.9 290.4 605.3 294.6 605.4 298.8 605.4 303 605.4 307.2 605.4 311.4 605.4 315.6 605.4 319.8 604.3 323.9 601.8 328.1 599.3 332.3 597.3 336.5 595.9 340.7 595.5 345.1 595.3 349.4 594.8 353.8 594.3 358.1 593.8 362.4 593.5 366.8 593.5 371.1 593.8 375.5 594.2 379.8 594.5 384.2 594.7"/>
<path d="M52.3 598.9L56.5 598.7 60.7 598 64.8 596.9 69 595.6 73.2 594.2 77.4 592.7 81.6 591.4 85.8 590.4 89.9 589.7 94.1 589.3 98.3 589.1 102.5 589.3 106.7 589.6 110.9 589.9 115 590.3 119.2 590.5 123.4 590.6 127.5 589.7 131.7 587.3 135.8 584.3 140 581.7 144.1 580.3 148.2 580.4 152.4 581.9 156.5 583.9 160.7 585.6 164.8 586.3 168.9 585.9 173 584.9 177.1 583.2 181.2 581.2 185.3 578.8 189.4 576.4 193.5 574.2 197.6 572.3 201.7 570.9 205.9 570.1 210 569.9 214.1 570.3 218.2 571.3 222.3 572.6 226.4 574.2 230.5 575.8 234.6 577.3 238.7 578.5 242.8 579.3 246.9 579.5 251.4 579.7 255.9 579.7 260.5 578.7 265 577 269.5 576.1 273.7 575.9 277.9 575.2 282.1 574.1 286.3 572.8 290.4 571.3 294.6 570 298.8 568.8 303 567.9 307.2 567.5 311.4 567.4 315.6 567.7 319.8 568.2 323.9 568.9 328.1 569.6 332.3 570.2 336.5 570.6 340.7 570.8 345.1 570.9 349.4 571.2 353.8 571.7 358.1 572.6 362.4 573.8 366.8 575.4 371.1 577.1 375.5 578.7 379.8 579.8 384.2 580.2"/>
<path d="M52.3 590.8L56.5 590.7 60.7 590.4 64.8 589.9 69 589.4 73.2 588.8 77.4 588.2 81.6 587.8 85.8 587.5 89.9 587.5 94.1 587.6 98.3 587.9 102.5 588.3 106.7 588.8 110.9 589.3 115 589.7 119.2 590 123.4 590.1 127.5 590.2 131.7 590.6 135.8 591.2 140 591.9 144.1 592.4 148.2 592.8 152.4 593.1 156.5 593.3 160.7 593.4 164.8 593.4 168.9 593.5 173 593.5 177.1 593.7 181.2 593.8 185.3 594 189.4 594.1 193.5 594.2 197.6 594.2 201.7 594.2 205.9 594.1 210 593.9 214.1 593.7 218.2 593.4 222.3 593 226.4 592.6 230.5 592.3 234.6 592 238.7 591.7 242.8 591.6 246.9 591.5 251.4 593 255.9 595.5 260.5 596.2 265 594.8 269.5 593.8 273.7 593.9 277.9 594.2 282.1 594.7 286.3 595.2 290.4 595.8 294.6 596.3 298.8 596.7 303 596.9 307.2 597 311.4 596.8 315.6 596.5 319.8 596 323.9 595.5 328.1 595 332.3 594.5 336.5 594.3 340.7 594.2 345.1 593.8 349.4 592.9 353.8 591.9 358.1 591.2 362.4 591.3 366.8 592.3 371.1 594 375.5 595.8 379.8 597.3 384.2 597.8"/>
<path d="M52.3 584.3L56.5 584.9 60.7 586.6 64.8 589.1 69 592.3 73.2 595.6 77.4 598.8 81.6 601.5 85.8 603.4 89.9 604.4 94.1 604.4 98.3 603.6 102.5 602.2 106.7 600.4 110.9 598.5 115 597 119.2 596 123.4 595.6 127.5 596 131.7 597.1 135.8 598.4 140 599.7 144.1 600.3 148.2 600.4 152.4 599.8 156.5 598.9 160.7 598.2 164.8 597.9 168.9 598.3 173 599.4 177.1 601.1 181.2 603.3 185.3 605.4 189.4 605.4 193.5 605.4 197.6 605.4 201.7 605.4 205.9 605.4 210 605.4 214.1 605.4 218.2 605.4 222.3 602.8 226.4 599.5 230.5 596.2 234.6 593.3 238.7 591 242.8 589.5 246.9 589 251.4 588.7 255.9 588.8 260.5 590.8 265 594.2 269.5 596 273.7 596.1 277.9 596.7 282.1 597.5 286.3 598.5 290.4 599.6 294.6 600.7 298.8 601.6 303 602.3 307.2 602.8 311.4 603 315.6 602.9 319.8 602.6 323.9 602.2 328.1 601.8 332.3 601.4 336.5 601.2 340.7 601.1 345.1 601 349.4 600.6 353.8 600 358.1 598.9 362.4 597.5 366.8 595.6 371.1 593.6 375.5 591.7 379.8 590.4 384.2 589.9"/>
<path d="M52.3 602.4L56.5 602.5 60.7 602.8 64.8 603.3 69 603.9 73.2 604.6 77.4 605.1 81.6 605.4 85.8 605.4 89.9 605.4 94.1 605.4 98.3 605.1 102.5 604.6 106.7 603.9 110.9 603.3 115 602.8 119.2 602.5 123.4 602.4 127.5 603 131.7 604.5 135.8 605.4 140 605.4 144.1 605.4 148.2 605.4 152.4 605.4 156.5 604.5 160.7 603 164.8 602.4 168.9 602.6 173 603 177.1 603.7 181.2 604.6 185.3 605.4 189.4 605.4 193.5 605.4 197.6 605.4 201.7 605.4 205.9 605.4 210 605.4 214.1 605.1 218.2 603.6 222.3 601.9 226.4 600.1 230.5 598.4 234.6 596.9 238.7 595.6 242.8 594.9 246.9 594.6 251.4 595.1 255.9 596.1 260.5 596.8 265 597.1 269.5 597.2 273.7 597.3 277.9 597.7 282.1 598.3 286.3 599 290.4 599.6 294.6 600 298.8 600.1 303 599.8 307.2 599.1 311.4 597.9 315.6 596.5 319.8 594.8 323.9 593 328.1 591.4 332.3 590.1 336.5 589.2 340.7 588.9 345.1 588.9 349.4 588.8 353.8 588.8 358.1 588.8 362.4 589 366.8 589.3 371.1 589.8 375.5 590.3 379.8 590.6 384.2 590.8"/>
<path d="M52.3 597.9L56.5 598 60.7 598.6 64.8 599.4 69 600.4 73.2 601.4 77.4 602.3 81.6 602.9 85.8 603.1 89.9 602.9 94.1 602.3 98.3 601.3 102.5 600.1 106.7 598.8 110.9 597.5 115 596.4 119.2 595.8 123.4 595.5 127.5 595.2 131.7 594.5 135.8 593.7 140 593.4 144.1 593.9 148.2 595.4 152.4 597.6 156.5 599.9 160.7 601.7 164.8 602.4 168.9 602.6 173 603.1 177.1 603.9 181.2 605 185.3 605.4 189.4 605.4 193.5 605.4 197.6 605.4 201.7 605.4 205.9 605.4 210 605.4 214.1 605.4 218.2 605.4 222.3 604.2 226.4 602.5 230.5 600.8 234.6 599.4 238.7 598.2 242.8 597.4 246.9 597.2 251.4 597.6 255.9 598.4 260.5 599 265 599.3 269.5 599.4 273.7 599 277.9 597.9 282.1 596.2 286.3 594.2 290.4 592.2 294.6 590.4 298.8 589.1 303 588.5 307.2 588.8 311.4 589.9 315.6 591.7 319.8 593.9 323.9 596.4 328.1 598.7 332.3 600.7 336.5 602 340.7 602.4 345.1 602.7 349.4 603.4 353.8 604.2 358.1 604.9 362.4 605 366.8 604.6 371.1 603.7 375.5 602.6 379.8 601.7 384.2 601.4"/>
<path d="M52.3 594.8L56.5 594.8 60.7 594.6 64.8 594.4 69 594.1 73.2 593.7 77.4 593.3 81.6 592.8 85.8 592.3 89.9 591.7 94.1 591.1 98.3 590.6 102.5 590 106.7 589.5 110.9 589.1 115 588.8 119.2 588.6 123.4 588.5 127.5 588.9 131.7 589.8 135.8 591.2 140 592.5 144.1 593.5 148.2 594.1 152.4 594.2 156.5 594.1 160.7 593.9 164.8 593.9 168.9 594.3 173 595.5 177.1 597.4 181.2 599.8 185.3 602.5 189.4 605.3 193.5 605.4 197.6 605.4 201.7 605.4 205.9 605.4 210 605.4 214.1 605.4 218.2 605.4 222.3 605.4 226.4 605.4 230.5 605.4 234.6 604.9 238.7 603.6 242.8 602.7 246.9 602.4 251.4 602.5 255.9 602.6 260.5 602.6 265 602.5 269.5 602.4 273.7 602.4 277.9 602.4 282.1 602.4 286.3 602.4 290.4 602.3 294.6 602.3 298.8 602.3 303 602.3 307.2 602.3 311.4 602.3 315.6 602.3 319.8 602.3 323.9 602.4 328.1 602.4 332.3 602.4 336.5 602.4 340.7 602.4 345.1 601.9 349.4 600.5 353.8 598.8 358.1 597.4 362.4 596.8 366.8 597.4 371.1 598.8 375.5 600.5 379.8 601.9 384.2 602.4"/>
<path d="M52.3 600.4L56.5 600.4 60.7 600.3 64.8 600.3 69 600.2 73.2 600.1 77.4 600 81.6 600.1 85.8 600.2 89.9 600.3 94.1 600.6 98.3 600.9 102.5 601.2 106.7 601.6 110.9 601.9 115 602.2 119.2 602.3 123.4 602.4 127.5 602.7 131.7 603.5 135.8 604.5 140 605.2 144.1 605.4 148.2 605.2 152.4 604.5 156.5 603.5 160.7 602.7 164.8 602.4 168.9 602.3 173 601.9 177.1 601.4 181.2 600.7 185.3 599.9 189.4 599.1 193.5 598.3 197.6 597.5 201.7 596.9 205.9 596.4 210 596.1 214.1 596 218.2 596 222.3 596.1 226.4 596.3 230.5 596.5 234.6 596.8 238.7 597 242.8 597.1 246.9 597.2 251.4 596.7 255.9 596.5 260.5 598 265 600.9 269.5 602.4 273.7 602.7 277.9 603.5 282.1 604.7 286.3 605.4 290.4 605.4 294.6 605.4 298.8 605.4 303 605.4 307.2 605.4 311.4 605.4 315.6 605.4 319.8 605.4 323.9 605.4 328.1 603.8 332.3 602.4 336.5 601.6 340.7 601.3 345.1 601.7 349.4 602.9 353.8 604.4 358.1 605.4 362.4 605.4 366.8 605.4 371.1 605 375.5 603.8 379.8 602.8 384.2 602.4"/>
<path d="M52.3 602.4L56.5 602.7 60.7 603.4 64.8 604.5 69 605.4 73.2 605.4 77.4 605.4 81.6 605.4 85.8 605.4 89.9 605.4 94.1 605.4 98.3 603.9 102.5 601.5 106.7 598.9 110.9 596.6 115 594.6 119.2 593.4 123.4 592.9 127.5 593.8 131.7 596.2 135.8 599.3 140 601.9 144.1 603.3 148.2 603.2 152.4 601.6 156.5 599.5 160.7 597.8 164.8 597.1 168.9 597.3 173 597.8 177.1 598.6 181.2 599.6 185.3 600.7 189.4 601.8 193.5 602.6 197.6 603.1 201.7 603.2 205.9 602.9 210 602 214.1 600.7 218.2 599 222.3 597.1 226.4 595 230.5 593 234.6 591.3 238.7 589.9 242.8 589 246.9 588.7 251.4 589.5 255.9 590.9 260.5 591.4 265 590.9 269.5 590.5 273.7 590.6 277.9 591 282.1 591.5 286.3 592.1 290.4 592.8 294.6 593.6 298.8 594.5 303 595.3 307.2 596 311.4 596.7 315.6 597.3 319.8 597.8 323.9 598.2 328.1 598.6 332.3 598.8 336.5 599 340.7 599.1 345.1 598.7 349.4 597.9 353.8 596.8 358.1 595.5 362.4 594.2 366.8 593.1 371.1 592.3 375.5 591.7 379.8 591.3 384.2 591.1"/>
<path d="M52.3 602.4L56.5 602.4 60.7 602.4 64.8 602.5 69 602.5 73.2 602.5 77.4 602.6 81.6 602.6 85.8 602.6 89.9 602.6 94.1 602.6 98.3 602.6 102.5 602.5 106.7 602.5 110.9 602.5 115 602.4 119.2 602.4 123.4 602.4 127.5 601.7 131.7 600.1 135.8 598 140 596.3 144.1 595.6 148.2 596.3 152.4 598 156.5 600.1 160.7 601.7 164.8 602.4 168.9 602.3 173 601.9 177.1 601.4 181.2 600.7 185.3 600 189.4 599.2 193.5 598.6 197.6 598 201.7 597.7 205.9 597.6 210 597.7 214.1 598 218.2 598.6 222.3 599.2 226.4 600 230.5 600.7 234.6 601.4 238.7 601.9 242.8 602.3 246.9 602.4 251.4 603 255.9 604.1 260.5 604.1 265 603 269.5 602.4 273.7 602.6 277.9 603.3 282.1 604.4 286.3 605.4 290.4 605.4 294.6 605.4 298.8 605.4 303 605.4 307.2 605.4 311.4 605.4 315.6 605.4 319.8 603.5 323.9 601.5 328.1 599.6 332.3 598.1 336.5 597.1 340.7 596.7 345.1 597.5 349.4 599.5 353.8 601.9 358.1 603.9 362.4 604.7 366.8 603.9 371.1 602 375.5 599.6 379.8 597.6 384.2 596.8"/>
<path d="M52.3 522.2L56.5 522.2 60.7 522.2 64.8 522.2 69 522.2 73.2 522.3 77.4 522.3 81.6 522.3 85.8 522.3 89.9 522.4 94.1 522.4 98.3 522.4 102.5 522.5 106.7 522.5 110.9 522.5 115 522.5 119.2 522.5 123.4 522.5 127.5 522.6 131.7 522.6 135.8 522.6 140 522.7 144.1 522.7 148.2 522.8 152.4 522.8 156.5 522.9 160.7 522.9 164.8 522.9 168.9 522.9 173 522.9 177.1 522.9 181.2 522.9 185.3 522.9 189.4 522.9 193.5 522.9 197.6 522.9 201.7 522.9 205.9 522.9 210 522.9 214.1 522.9 218.2 522.9 222.3 522.9 226.4 522.9 230.5 522.9 234.6 522.9 238.7 522.8 242.8 522.8 246.9 522.8 251.4 522.8 255.9 522.9 260.5 522.9 265 522.9 269.5 522.9 273.7 522.9 277.9 522.9 282.1 522.8 286.3 522.8 290.4 522.8 294.6 522.8 298.8 522.7 303 522.7 307.2 522.7 311.4 522.7 315.6 522.6 319.8 522.6 323.9 522.6 328.1 522.5 332.3 522.5 336.5 522.5 340.7 522.5 345.1 522.5 349.4 522.6 353.8 522.6 358.1 522.7 362.4 522.7 366.8 522.8 371.1 522.9 375.5 522.9 379.8 522.9 384.2 523"/>
<path d="M52.3 524.2L56.5 524.2 60.7 524.2 64.8 524.2 69 524.1 73.2 524.1 77.4 524.1 81.6 524 85.8 524 89.9 523.9 94.1 523.9 98.3 523.9 102.5 523.8 106.7 523.8 110.9 523.8 115 523.8 119.2 523.7 123.4 523.7 127.5 523.8 131.7 523.8 135.8 523.9 140 524.1 144.1 524.2 148.2 524.3 152.4 524.5 156.5 524.6 160.7 524.6 164.8 524.7 168.9 524.7 173 524.7 177.1 524.7 181.2 524.7 185.3 524.7 189.4 524.6 193.5 524.6 197.6 524.6 201.7 524.6 205.9 524.6 210 524.6 214.1 524.6 218.2 524.6 222.3 524.6 226.4 524.6 230.5 524.6 234.6 524.6 238.7 524.6 242.8 524.6 246.9 524.6 251.4 524.6 255.9 524.4 260.5 524.3 265 524.1 269.5 524.1 273.7 524.1 277.9 524.1 282.1 524.1 286.3 524.1 290.4 524.1 294.6 524.1 298.8 524.1 303 524.2 307.2 524.2 311.4 524.2 315.6 524.2 319.8 524.2 323.9 524.3 328.1 524.3 332.3 524.3 336.5 524.3 340.7 524.3 345.1 524.3 349.4 524.2 353.8 524.2 358.1 524.1 362.4 524 366.8 523.9 371.1 523.9 375.5 523.8 379.8 523.8 384.2 523.8"/>
<path d="M52.3 525.2L56.5 525.2 60.7 525.2 64.8 525.2 69 525.3 73.2 525.3 77.4 525.3 81.6 525.4 85.8 525.4 89.9 525.5 94.1 525.5 98.3 525.6 102.5 525.6 106.7 525.7 110.9 525.7 115 525.7 119.2 525.7 123.4 525.7 127.5 525.7 131.7 525.7 135.8 525.6 140 525.6 144.1 525.5 148.2 525.4 152.4 525.3 156.5 525.3 160.7 525.2 164.8 525.2 168.9 525.2 173 525.2 177.1 525.2 181.2 525.3 185.3 525.3 189.4 525.3 193.5 525.4 197.6 525.4 201.7 525.5 205.9 525.5 210 525.6 214.1 525.6 218.2 525.7 222.3 525.7 226.4 525.8 230.5 525.8 234.6 525.8 238.7 525.8 242.8 525.9 246.9 525.9 251.4 525.8 255.9 525.8 260.5 525.8 265 525.7 269.5 525.7 273.7 525.7 277.9 525.7 282.1 525.7 286.3 525.7 290.4 525.7 294.6 525.7 298.8 525.6 303 525.6 307.2 525.6 311.4 525.6 315.6 525.5 319.8 525.5 323.9 525.5 328.1 525.5 332.3 525.5 336.5 525.5 340.7 525.5 345.1 525.5 349.4 525.5 353.8 525.5 358.1 525.6 362.4 525.6 366.8 525.6 371.1 525.7 375.5 525.7 379.8 525.7 384.2 525.7"/>
<path d="M51.8 615.5C54.8 615.2 62 615.1 70 614C78 612.9 91.1 610.3 100 609C108.9 607.7 115.9 606.7 123.4 606C130.9 605.3 138.1 605.2 145 605C151.9 604.8 155.6 604 164.8 604.5C174 605 189.1 606.6 200 608C210.9 609.4 222.2 612 230 613C237.8 614 240.3 613.8 246.9 614C253.5 614.2 260.6 614.7 269.5 614C278.4 613.3 288.1 611.3 300 610C311.9 608.7 326.9 606.7 341 606C355.1 605.3 377.2 606 384.5 606"/>
</g>
<line x1="50" y1="491.9" x2="385" y2="492.2" stroke="#fb9a3f" stroke-width="1.8" stroke-dasharray="7 6.85"/>
<line x1="50" y1="521" x2="385" y2="521.4" stroke="#fb9a3f" stroke-width="1.8" stroke-dasharray="7 6.85"/>
<line x1="172" y1="501.2" x2="172" y2="512.3" stroke="#fb9a3f" stroke-width="1.6"/>
<path d="M172 493.7L169.5 502.2L174.5 502.2Z" fill="#fb9a3f"/>
<path d="M172 519.8L169.5 511.3L174.5 511.3Z" fill="#fb9a3f"/>
<text x="178.1" y="508.4" class="eg" style="font-size:12.5px"><tspan fill="#4a4a4a">E</tspan><tspan class="egs" dy="2.6" fill="#4a4a4a" style="font-size:12px">g</tspan><tspan dy="-2.6" fill="#1c1c1c">= 2.38 </tspan><tspan fill="#4a4a4a">eV</tspan></text>
<line x1="123.4" y1="363.4" x2="123.4" y2="618.3" stroke="#333" stroke-width="1.6"/>
<line x1="164.8" y1="363.4" x2="164.8" y2="618.3" stroke="#333" stroke-width="1.6"/>
<line x1="246.9" y1="363.4" x2="246.9" y2="618.3" stroke="#333" stroke-width="1.6"/>
<line x1="269.5" y1="363.4" x2="269.5" y2="618.3" stroke="#333" stroke-width="1.6"/>
<line x1="340.7" y1="363.4" x2="340.7" y2="618.3" stroke="#333" stroke-width="1.6"/>
<rect x="52.3" y="363.4" width="331.9" height="254.9" fill="none" stroke="#111" stroke-width="2.4"/>
<line x1="49.6" y1="612" x2="52.3" y2="612" stroke="#111" stroke-width="1.6"/>
<line x1="46.8" y1="592.8" x2="52.3" y2="592.8" stroke="#111" stroke-width="1.6"/>
<text x="43.2" y="596.7" text-anchor="end" class="tl">-6</text>
<line x1="49.6" y1="573.7" x2="52.3" y2="573.7" stroke="#111" stroke-width="1.6"/>
<line x1="46.8" y1="554.5" x2="52.3" y2="554.5" stroke="#111" stroke-width="1.6"/>
<text x="43.2" y="558.4" text-anchor="end" class="tl">-3</text>
<line x1="49.6" y1="535.4" x2="52.3" y2="535.4" stroke="#111" stroke-width="1.6"/>
<line x1="46.8" y1="516.2" x2="52.3" y2="516.2" stroke="#111" stroke-width="1.6"/>
<text x="43.2" y="520.1" text-anchor="end" class="tl">0</text>
<line x1="49.6" y1="497" x2="52.3" y2="497" stroke="#111" stroke-width="1.6"/>
<line x1="46.8" y1="477.9" x2="52.3" y2="477.9" stroke="#111" stroke-width="1.6"/>
<text x="43.2" y="481.8" text-anchor="end" class="tl">3</text>
<line x1="49.6" y1="458.7" x2="52.3" y2="458.7" stroke="#111" stroke-width="1.6"/>
<line x1="46.8" y1="439.6" x2="52.3" y2="439.6" stroke="#111" stroke-width="1.6"/>
<text x="43.2" y="443.5" text-anchor="end" class="tl">6</text>
<line x1="49.6" y1="420.4" x2="52.3" y2="420.4" stroke="#111" stroke-width="1.6"/>
<line x1="46.8" y1="401.3" x2="52.3" y2="401.3" stroke="#111" stroke-width="1.6"/>
<text x="43.2" y="405.2" text-anchor="end" class="tl">9</text>
<line x1="49.6" y1="382.1" x2="52.3" y2="382.1" stroke="#111" stroke-width="1.6"/>
<line x1="46.8" y1="363" x2="52.3" y2="363" stroke="#111" stroke-width="1.6"/>
<text x="43.2" y="366.9" text-anchor="end" class="tl">12</text>
<text x="53.2" y="637.6" text-anchor="middle" class="gam">&#915;</text>
<text x="122" y="637.6" text-anchor="middle" class="xl">M</text>
<text x="164" y="637.6" text-anchor="middle" class="xl">K</text>
<text x="250" y="637.6" text-anchor="middle" class="gam">&#915;</text>
<text x="269.7" y="637.6" text-anchor="middle" class="xl">A</text>
<text x="341" y="637.6" text-anchor="middle" class="xl">L</text>
<text x="384.4" y="637.6" text-anchor="middle" class="xl">H</text>

<text x="205.6" y="20.1" text-anchor="middle" class="ti" textLength="50.6" lengthAdjust="spacingAndGlyphs">(a) 0 %</text>
<text x="603.7" y="27.7" text-anchor="middle" class="ti" textLength="73.6" lengthAdjust="spacingAndGlyphs">(b) 8.33 %</text>
<text x="230.2" y="352.7" text-anchor="middle" class="ti" textLength="80.3" lengthAdjust="spacingAndGlyphs">(c) 16.66 %</text>
<text transform="translate(19.4,169.5) rotate(-90)" text-anchor="middle" class="yl" textLength="41" lengthAdjust="spacingAndGlyphs">E (eV)</text>
<text transform="translate(413.3,168.5) rotate(-90)" text-anchor="middle" class="yl" textLength="41" lengthAdjust="spacingAndGlyphs">E (eV)</text>
<text transform="translate(21.2,490.5) rotate(-90)" text-anchor="middle" class="yl" textLength="41" lengthAdjust="spacingAndGlyphs">E (eV)</text>

</g>
</svg>
</body></html>
